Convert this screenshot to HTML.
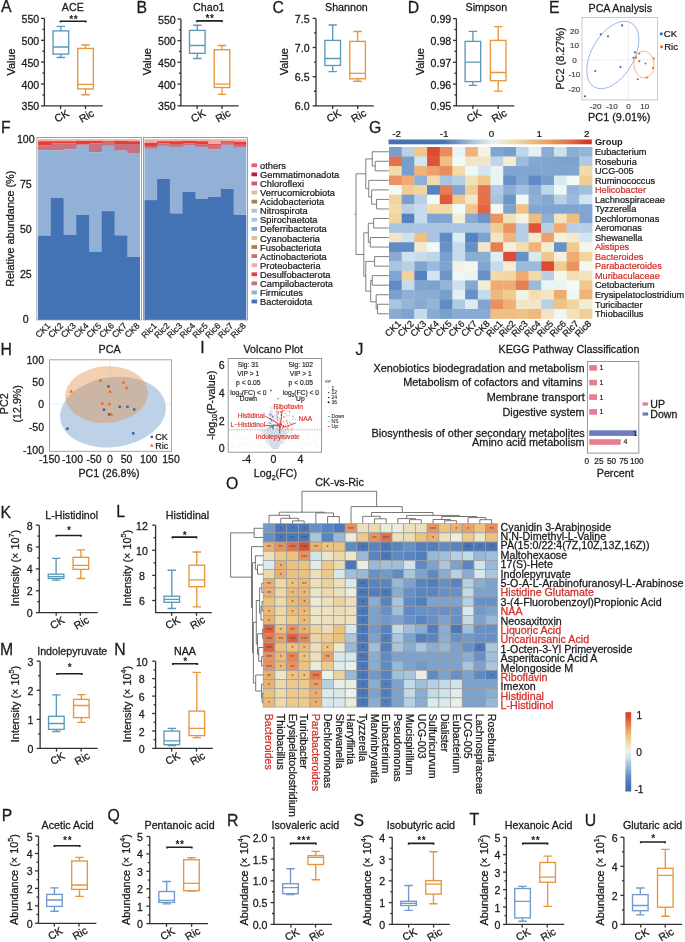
<!DOCTYPE html>
<html><head><meta charset="utf-8"><style>
html,body{margin:0;padding:0;background:#fff;}
svg{display:block;will-change:transform;}
text{font-family:"Liberation Sans", sans-serif;}
</style></head><body>
<svg width="685" height="942" viewBox="0 0 685 942">
<rect width="685" height="942" fill="#fff"/>
<path d="M44.4 18.4 V105.9 H102.7" stroke="#333333" stroke-width="1.3" fill="none"/>
<line x1="41" y1="18.4" x2="44.4" y2="18.4" stroke="#333333" stroke-width="1.3"/>
<text x="39.2" y="22.9" font-size="10.6" text-anchor="end" fill="#1a1a1a" stroke="#1a1a1a" stroke-width="0.26">550</text>
<line x1="41" y1="40.3" x2="44.4" y2="40.3" stroke="#333333" stroke-width="1.3"/>
<text x="39.2" y="44.8" font-size="10.6" text-anchor="end" fill="#1a1a1a" stroke="#1a1a1a" stroke-width="0.26">500</text>
<line x1="41" y1="62.1" x2="44.4" y2="62.1" stroke="#333333" stroke-width="1.3"/>
<text x="39.2" y="66.6" font-size="10.6" text-anchor="end" fill="#1a1a1a" stroke="#1a1a1a" stroke-width="0.26">450</text>
<line x1="41" y1="84" x2="44.4" y2="84" stroke="#333333" stroke-width="1.3"/>
<text x="39.2" y="88.5" font-size="10.6" text-anchor="end" fill="#1a1a1a" stroke="#1a1a1a" stroke-width="0.26">400</text>
<line x1="41" y1="105.9" x2="44.4" y2="105.9" stroke="#333333" stroke-width="1.3"/>
<text x="39.2" y="110.4" font-size="10.6" text-anchor="end" fill="#1a1a1a" stroke="#1a1a1a" stroke-width="0.26">350</text>
<line x1="42.4" y1="29.35" x2="44.4" y2="29.35" stroke="#333333" stroke-width="1.3"/>
<line x1="42.4" y1="51.2" x2="44.4" y2="51.2" stroke="#333333" stroke-width="1.3"/>
<line x1="42.4" y1="73.05" x2="44.4" y2="73.05" stroke="#333333" stroke-width="1.3"/>
<line x1="42.4" y1="94.95" x2="44.4" y2="94.95" stroke="#333333" stroke-width="1.3"/>
<line x1="60.6" y1="105.9" x2="60.6" y2="109.1" stroke="#333333" stroke-width="1.3"/>
<text x="63.4" y="119.1" font-size="10.6" text-anchor="middle" fill="#1a1a1a" stroke="#1a1a1a" stroke-width="0.26" transform="rotate(-30 63.4 119.1)">CK</text>
<line x1="85.5" y1="105.9" x2="85.5" y2="109.1" stroke="#333333" stroke-width="1.3"/>
<text x="88.3" y="119.1" font-size="10.6" text-anchor="middle" fill="#1a1a1a" stroke="#1a1a1a" stroke-width="0.26" transform="rotate(-30 88.3 119.1)">Ric</text>
<path d="M56.65 26.4H65.05M60.85 26.4V30.9M56.65 57.5H65.05M60.85 54.1V57.5M53.05 47H68.65" stroke="#5b9ab9" stroke-width="1.35" fill="none"/>
<rect x="53.05" y="30.9" width="15.6" height="23.2" fill="none" stroke="#5b9ab9" stroke-width="1.35"/>
<path d="M81.3 45H89.7M85.5 45V48.4M81.3 94.7H89.7M85.5 88.9V94.7M77.7 84.3H93.3" stroke="#e8963d" stroke-width="1.35" fill="none"/>
<rect x="77.7" y="48.4" width="15.6" height="40.5" fill="none" stroke="#e8963d" stroke-width="1.35"/>
<path d="M60.5 22.6V21.3H85.8V22.6" stroke="#222" stroke-width="1.6" fill="none"/>
<text x="73.75" y="22.8" font-size="10.2" text-anchor="middle" font-weight="bold" fill="#1a1a1a" letter-spacing="0.6">**</text>
<text x="72.8" y="11.2" font-size="10.7" text-anchor="middle" fill="#1a1a1a" stroke="#1a1a1a" stroke-width="0.26">ACE</text>
<text x="15.2" y="62" font-size="10.9" text-anchor="middle" fill="#1a1a1a" stroke="#1a1a1a" stroke-width="0.26" transform="rotate(-90 15.2 62)">Value</text>
<text x="0.9" y="12.4" font-size="15.8" fill="#1a1a1a" stroke="#1a1a1a" stroke-width="0.26">A</text>
<path d="M180.9 19 V105.8 H238.6" stroke="#333333" stroke-width="1.3" fill="none"/>
<line x1="177.5" y1="19" x2="180.9" y2="19" stroke="#333333" stroke-width="1.3"/>
<text x="175.7" y="23.5" font-size="10.6" text-anchor="end" fill="#1a1a1a" stroke="#1a1a1a" stroke-width="0.26">550</text>
<line x1="177.5" y1="40.6" x2="180.9" y2="40.6" stroke="#333333" stroke-width="1.3"/>
<text x="175.7" y="45.1" font-size="10.6" text-anchor="end" fill="#1a1a1a" stroke="#1a1a1a" stroke-width="0.26">500</text>
<line x1="177.5" y1="62.3" x2="180.9" y2="62.3" stroke="#333333" stroke-width="1.3"/>
<text x="175.7" y="66.8" font-size="10.6" text-anchor="end" fill="#1a1a1a" stroke="#1a1a1a" stroke-width="0.26">450</text>
<line x1="177.5" y1="84.1" x2="180.9" y2="84.1" stroke="#333333" stroke-width="1.3"/>
<text x="175.7" y="88.6" font-size="10.6" text-anchor="end" fill="#1a1a1a" stroke="#1a1a1a" stroke-width="0.26">400</text>
<line x1="177.5" y1="105.8" x2="180.9" y2="105.8" stroke="#333333" stroke-width="1.3"/>
<text x="175.7" y="110.3" font-size="10.6" text-anchor="end" fill="#1a1a1a" stroke="#1a1a1a" stroke-width="0.26">350</text>
<line x1="178.9" y1="29.8" x2="180.9" y2="29.8" stroke="#333333" stroke-width="1.3"/>
<line x1="178.9" y1="51.45" x2="180.9" y2="51.45" stroke="#333333" stroke-width="1.3"/>
<line x1="178.9" y1="73.2" x2="180.9" y2="73.2" stroke="#333333" stroke-width="1.3"/>
<line x1="178.9" y1="94.95" x2="180.9" y2="94.95" stroke="#333333" stroke-width="1.3"/>
<line x1="197.1" y1="105.8" x2="197.1" y2="109" stroke="#333333" stroke-width="1.3"/>
<text x="199.9" y="119" font-size="10.6" text-anchor="middle" fill="#1a1a1a" stroke="#1a1a1a" stroke-width="0.26" transform="rotate(-30 199.9 119)">CK</text>
<line x1="222" y1="105.8" x2="222" y2="109" stroke="#333333" stroke-width="1.3"/>
<text x="224.8" y="119" font-size="10.6" text-anchor="middle" fill="#1a1a1a" stroke="#1a1a1a" stroke-width="0.26" transform="rotate(-30 224.8 119)">Ric</text>
<path d="M193.1 25.2H201.5M197.3 25.2V30.4M193.1 58.5H201.5M197.3 53.3V58.5M189.5 45.5H205.1" stroke="#5b9ab9" stroke-width="1.35" fill="none"/>
<rect x="189.5" y="30.4" width="15.6" height="22.9" fill="none" stroke="#5b9ab9" stroke-width="1.35"/>
<path d="M217.8 45.5H226.2M222 45.5V49.7M217.8 94.3H226.2M222 87.5V94.3M214.2 84.1H229.8" stroke="#e8963d" stroke-width="1.35" fill="none"/>
<rect x="214.2" y="49.7" width="15.6" height="37.8" fill="none" stroke="#e8963d" stroke-width="1.35"/>
<path d="M197 22.2V20.9H222V22.2" stroke="#222" stroke-width="1.6" fill="none"/>
<text x="210.1" y="21.9" font-size="10.2" text-anchor="middle" font-weight="bold" fill="#1a1a1a" letter-spacing="0.6">**</text>
<text x="208.8" y="11.4" font-size="10.7" text-anchor="middle" fill="#1a1a1a" stroke="#1a1a1a" stroke-width="0.26">Chao1</text>
<text x="151.2" y="61.7" font-size="10.9" text-anchor="middle" fill="#1a1a1a" stroke="#1a1a1a" stroke-width="0.26" transform="rotate(-90 151.2 61.7)">Value</text>
<text x="136.4" y="12.8" font-size="15.8" fill="#1a1a1a" stroke="#1a1a1a" stroke-width="0.26">B</text>
<path d="M316 18.4 V105.8 H373.9" stroke="#333333" stroke-width="1.3" fill="none"/>
<line x1="312.6" y1="18.4" x2="316" y2="18.4" stroke="#333333" stroke-width="1.3"/>
<text x="309.6" y="22.9" font-size="10.6" text-anchor="end" fill="#1a1a1a" stroke="#1a1a1a" stroke-width="0.26">7.5</text>
<line x1="312.6" y1="47.5" x2="316" y2="47.5" stroke="#333333" stroke-width="1.3"/>
<text x="309.6" y="52" font-size="10.6" text-anchor="end" fill="#1a1a1a" stroke="#1a1a1a" stroke-width="0.26">7.0</text>
<line x1="312.6" y1="76.7" x2="316" y2="76.7" stroke="#333333" stroke-width="1.3"/>
<text x="309.6" y="81.2" font-size="10.6" text-anchor="end" fill="#1a1a1a" stroke="#1a1a1a" stroke-width="0.26">6.5</text>
<line x1="312.6" y1="105.8" x2="316" y2="105.8" stroke="#333333" stroke-width="1.3"/>
<text x="309.6" y="110.3" font-size="10.6" text-anchor="end" fill="#1a1a1a" stroke="#1a1a1a" stroke-width="0.26">6.0</text>
<line x1="314" y1="32.95" x2="316" y2="32.95" stroke="#333333" stroke-width="1.3"/>
<line x1="314" y1="62.1" x2="316" y2="62.1" stroke="#333333" stroke-width="1.3"/>
<line x1="314" y1="91.25" x2="316" y2="91.25" stroke="#333333" stroke-width="1.3"/>
<line x1="332.7" y1="105.8" x2="332.7" y2="109" stroke="#333333" stroke-width="1.3"/>
<text x="335.5" y="119" font-size="10.6" text-anchor="middle" fill="#1a1a1a" stroke="#1a1a1a" stroke-width="0.26" transform="rotate(-30 335.5 119)">CK</text>
<line x1="357.7" y1="105.8" x2="357.7" y2="109" stroke="#333333" stroke-width="1.3"/>
<text x="360.5" y="119" font-size="10.6" text-anchor="middle" fill="#1a1a1a" stroke="#1a1a1a" stroke-width="0.26" transform="rotate(-30 360.5 119)">Ric</text>
<path d="M328.5 25H336.9M332.7 25V40.4M328.5 71.6H336.9M332.7 65.5V71.6M324.9 58.5H340.5" stroke="#5b9ab9" stroke-width="1.35" fill="none"/>
<rect x="324.9" y="40.4" width="15.6" height="25.1" fill="none" stroke="#5b9ab9" stroke-width="1.35"/>
<path d="M353.4 31.5H361.8M357.6 31.5V41.4M353.4 81.2H361.8M357.6 78.8V81.2M349.8 73.4H365.4" stroke="#e8963d" stroke-width="1.35" fill="none"/>
<rect x="349.8" y="41.4" width="15.6" height="37.4" fill="none" stroke="#e8963d" stroke-width="1.35"/>
<text x="346.4" y="11.4" font-size="10.7" text-anchor="middle" fill="#1a1a1a" stroke="#1a1a1a" stroke-width="0.26">Shannon</text>
<text x="287.6" y="61.7" font-size="10.9" text-anchor="middle" fill="#1a1a1a" stroke="#1a1a1a" stroke-width="0.26" transform="rotate(-90 287.6 61.7)">Value</text>
<text x="272.4" y="12.6" font-size="15.8" fill="#1a1a1a" stroke="#1a1a1a" stroke-width="0.26">C</text>
<path d="M456.4 18.6 V105.8 H514.3" stroke="#333333" stroke-width="1.3" fill="none"/>
<line x1="453" y1="18.6" x2="456.4" y2="18.6" stroke="#333333" stroke-width="1.3"/>
<text x="451.2" y="23.1" font-size="10.6" text-anchor="end" fill="#1a1a1a" stroke="#1a1a1a" stroke-width="0.26">0.99</text>
<line x1="453" y1="40.4" x2="456.4" y2="40.4" stroke="#333333" stroke-width="1.3"/>
<text x="451.2" y="44.9" font-size="10.6" text-anchor="end" fill="#1a1a1a" stroke="#1a1a1a" stroke-width="0.26">0.98</text>
<line x1="453" y1="62.3" x2="456.4" y2="62.3" stroke="#333333" stroke-width="1.3"/>
<text x="451.2" y="66.8" font-size="10.6" text-anchor="end" fill="#1a1a1a" stroke="#1a1a1a" stroke-width="0.26">0.97</text>
<line x1="453" y1="84.1" x2="456.4" y2="84.1" stroke="#333333" stroke-width="1.3"/>
<text x="451.2" y="88.6" font-size="10.6" text-anchor="end" fill="#1a1a1a" stroke="#1a1a1a" stroke-width="0.26">0.96</text>
<line x1="453" y1="105.8" x2="456.4" y2="105.8" stroke="#333333" stroke-width="1.3"/>
<text x="451.2" y="110.3" font-size="10.6" text-anchor="end" fill="#1a1a1a" stroke="#1a1a1a" stroke-width="0.26">0.95</text>
<line x1="454.4" y1="29.5" x2="456.4" y2="29.5" stroke="#333333" stroke-width="1.3"/>
<line x1="454.4" y1="51.35" x2="456.4" y2="51.35" stroke="#333333" stroke-width="1.3"/>
<line x1="454.4" y1="73.2" x2="456.4" y2="73.2" stroke="#333333" stroke-width="1.3"/>
<line x1="454.4" y1="94.95" x2="456.4" y2="94.95" stroke="#333333" stroke-width="1.3"/>
<line x1="472.9" y1="105.8" x2="472.9" y2="109" stroke="#333333" stroke-width="1.3"/>
<text x="475.7" y="119" font-size="10.6" text-anchor="middle" fill="#1a1a1a" stroke="#1a1a1a" stroke-width="0.26" transform="rotate(-30 475.7 119)">CK</text>
<line x1="498.2" y1="105.8" x2="498.2" y2="109" stroke="#333333" stroke-width="1.3"/>
<text x="501" y="119" font-size="10.6" text-anchor="middle" fill="#1a1a1a" stroke="#1a1a1a" stroke-width="0.26" transform="rotate(-30 501 119)">Ric</text>
<path d="M468.7 31.3H477.1M472.9 31.3V41.4M468.7 85.4H477.1M472.9 81.6V85.4M465.1 62.1H480.7" stroke="#5b9ab9" stroke-width="1.35" fill="none"/>
<rect x="465.1" y="41.4" width="15.6" height="40.2" fill="none" stroke="#5b9ab9" stroke-width="1.35"/>
<path d="M494 26.6H502.4M498.2 26.6V40.4M494 91.1H502.4M498.2 80.7V91.1M490.4 72.5H506" stroke="#e8963d" stroke-width="1.35" fill="none"/>
<rect x="490.4" y="40.4" width="15.6" height="40.3" fill="none" stroke="#e8963d" stroke-width="1.35"/>
<text x="486.3" y="11.4" font-size="10.7" text-anchor="middle" fill="#1a1a1a" stroke="#1a1a1a" stroke-width="0.26">Simpson</text>
<text x="424.3" y="61.7" font-size="10.9" text-anchor="middle" fill="#1a1a1a" stroke="#1a1a1a" stroke-width="0.26" transform="rotate(-90 424.3 61.7)">Value</text>
<text x="407.8" y="12.5" font-size="15.8" fill="#1a1a1a" stroke="#1a1a1a" stroke-width="0.26">D</text>
<path d="M39.3 525.2 V612.6 H97.6" stroke="#333333" stroke-width="1.3" fill="none"/>
<line x1="35.9" y1="525.2" x2="39.3" y2="525.2" stroke="#333333" stroke-width="1.3"/>
<text x="32.7" y="529.7" font-size="10.6" text-anchor="end" fill="#1a1a1a" stroke="#1a1a1a" stroke-width="0.26">8</text>
<line x1="35.9" y1="547" x2="39.3" y2="547" stroke="#333333" stroke-width="1.3"/>
<text x="32.7" y="551.5" font-size="10.6" text-anchor="end" fill="#1a1a1a" stroke="#1a1a1a" stroke-width="0.26">6</text>
<line x1="35.9" y1="568.9" x2="39.3" y2="568.9" stroke="#333333" stroke-width="1.3"/>
<text x="32.7" y="573.4" font-size="10.6" text-anchor="end" fill="#1a1a1a" stroke="#1a1a1a" stroke-width="0.26">4</text>
<line x1="35.9" y1="590.8" x2="39.3" y2="590.8" stroke="#333333" stroke-width="1.3"/>
<text x="32.7" y="595.3" font-size="10.6" text-anchor="end" fill="#1a1a1a" stroke="#1a1a1a" stroke-width="0.26">2</text>
<line x1="35.9" y1="612.6" x2="39.3" y2="612.6" stroke="#333333" stroke-width="1.3"/>
<text x="32.7" y="617.1" font-size="10.6" text-anchor="end" fill="#1a1a1a" stroke="#1a1a1a" stroke-width="0.26">0</text>
<line x1="37.3" y1="536.1" x2="39.3" y2="536.1" stroke="#333333" stroke-width="1.3"/>
<line x1="37.3" y1="557.95" x2="39.3" y2="557.95" stroke="#333333" stroke-width="1.3"/>
<line x1="37.3" y1="579.85" x2="39.3" y2="579.85" stroke="#333333" stroke-width="1.3"/>
<line x1="37.3" y1="601.7" x2="39.3" y2="601.7" stroke="#333333" stroke-width="1.3"/>
<line x1="56.2" y1="612.6" x2="56.2" y2="615.8" stroke="#333333" stroke-width="1.3"/>
<text x="59" y="625.8" font-size="10.6" text-anchor="middle" fill="#1a1a1a" stroke="#1a1a1a" stroke-width="0.26" transform="rotate(-30 59 625.8)">CK</text>
<line x1="80.3" y1="612.6" x2="80.3" y2="615.8" stroke="#333333" stroke-width="1.3"/>
<text x="83.1" y="625.8" font-size="10.6" text-anchor="middle" fill="#1a1a1a" stroke="#1a1a1a" stroke-width="0.26" transform="rotate(-30 83.1 625.8)">Ric</text>
<path d="M51.9 558.4H60.3M56.1 558.4V574.2M51.9 580.1H60.3M56.1 578.5V580.1M48.3 576.6H63.9" stroke="#5b9ab9" stroke-width="1.35" fill="none"/>
<rect x="48.3" y="574.2" width="15.6" height="4.3" fill="none" stroke="#5b9ab9" stroke-width="1.35"/>
<path d="M76.7 549.9H85.1M80.9 549.9V557.3M76.7 578.5H85.1M80.9 569.4V578.5M73.1 565.3H88.7" stroke="#e8963d" stroke-width="1.35" fill="none"/>
<rect x="73.1" y="557.3" width="15.6" height="12.1" fill="none" stroke="#e8963d" stroke-width="1.35"/>
<path d="M56.2 536.8V535.5H81.1V536.8" stroke="#222" stroke-width="1.6" fill="none"/>
<text x="69.25" y="534" font-size="10.2" text-anchor="middle" font-weight="bold" fill="#1a1a1a" letter-spacing="0.6">*</text>
<text x="71.65" y="518.5" font-size="10.7" text-anchor="middle" fill="#1a1a1a" stroke="#1a1a1a" stroke-width="0.26">L-Histidinol</text>
<text x="19" y="568" font-size="10.9" text-anchor="middle" fill="#1a1a1a" stroke="#1a1a1a" stroke-width="0.26" transform="rotate(-90 19 568)">Intensity (× 10<tspan font-size="7.2" dy="-5.0">7</tspan><tspan dy="5.0">)</tspan></text>
<text x="0.4" y="517.9" font-size="15.8" fill="#1a1a1a" stroke="#1a1a1a" stroke-width="0.26">K</text>
<path d="M155.6 525.2 V612.6 H211.8" stroke="#333333" stroke-width="1.3" fill="none"/>
<line x1="152.2" y1="525.2" x2="155.6" y2="525.2" stroke="#333333" stroke-width="1.3"/>
<text x="142" y="529.7" font-size="10.6" text-anchor="middle" fill="#1a1a1a" stroke="#1a1a1a" stroke-width="0.26">12</text>
<line x1="152.2" y1="550.3" x2="155.6" y2="550.3" stroke="#333333" stroke-width="1.3"/>
<text x="142" y="554.8" font-size="10.6" text-anchor="middle" fill="#1a1a1a" stroke="#1a1a1a" stroke-width="0.26">10</text>
<line x1="152.2" y1="575.4" x2="155.6" y2="575.4" stroke="#333333" stroke-width="1.3"/>
<text x="142" y="579.9" font-size="10.6" text-anchor="middle" fill="#1a1a1a" stroke="#1a1a1a" stroke-width="0.26">8</text>
<line x1="152.2" y1="600.5" x2="155.6" y2="600.5" stroke="#333333" stroke-width="1.3"/>
<text x="142" y="605" font-size="10.6" text-anchor="middle" fill="#1a1a1a" stroke="#1a1a1a" stroke-width="0.26">6</text>
<line x1="153.6" y1="537.75" x2="155.6" y2="537.75" stroke="#333333" stroke-width="1.3"/>
<line x1="153.6" y1="562.85" x2="155.6" y2="562.85" stroke="#333333" stroke-width="1.3"/>
<line x1="153.6" y1="587.95" x2="155.6" y2="587.95" stroke="#333333" stroke-width="1.3"/>
<line x1="171.6" y1="612.6" x2="171.6" y2="615.8" stroke="#333333" stroke-width="1.3"/>
<text x="174.4" y="625.8" font-size="10.6" text-anchor="middle" fill="#1a1a1a" stroke="#1a1a1a" stroke-width="0.26" transform="rotate(-30 174.4 625.8)">CK</text>
<line x1="196.5" y1="612.6" x2="196.5" y2="615.8" stroke="#333333" stroke-width="1.3"/>
<text x="199.3" y="625.8" font-size="10.6" text-anchor="middle" fill="#1a1a1a" stroke="#1a1a1a" stroke-width="0.26" transform="rotate(-30 199.3 625.8)">Ric</text>
<path d="M167.6 570.2H176M171.8 570.2V596.2M167.6 608.5H176M171.8 602.3V608.5M164 599.4H179.6" stroke="#5b9ab9" stroke-width="1.35" fill="none"/>
<rect x="164" y="596.2" width="15.6" height="6.1" fill="none" stroke="#5b9ab9" stroke-width="1.35"/>
<path d="M192.6 552H201M196.8 552V565.2M192.6 606.9H201M196.8 586.7V606.9M189 579.8H204.6" stroke="#e8963d" stroke-width="1.35" fill="none"/>
<rect x="189" y="565.2" width="15.6" height="21.5" fill="none" stroke="#e8963d" stroke-width="1.35"/>
<path d="M172.4 538.4V537.1H196.5V538.4" stroke="#222" stroke-width="1.6" fill="none"/>
<text x="185.05" y="539.2" font-size="10.2" text-anchor="middle" font-weight="bold" fill="#1a1a1a" letter-spacing="0.6">*</text>
<text x="187.5" y="518.5" font-size="10.7" text-anchor="middle" fill="#1a1a1a" stroke="#1a1a1a" stroke-width="0.26">Histidinal</text>
<text x="131" y="568" font-size="10.9" text-anchor="middle" fill="#1a1a1a" stroke="#1a1a1a" stroke-width="0.26" transform="rotate(-90 131 568)">Intensity (× 10<tspan font-size="7.2" dy="-5.0">5</tspan><tspan dy="5.0">)</tspan></text>
<text x="116.3" y="517.1" font-size="15.8" fill="#1a1a1a" stroke="#1a1a1a" stroke-width="0.26">L</text>
<path d="M40.1 661.2 V748.4 H97.6" stroke="#333333" stroke-width="1.3" fill="none"/>
<line x1="36.7" y1="661.2" x2="40.1" y2="661.2" stroke="#333333" stroke-width="1.3"/>
<text x="33.5" y="665.7" font-size="10.6" text-anchor="end" fill="#1a1a1a" stroke="#1a1a1a" stroke-width="0.26">3</text>
<line x1="36.7" y1="690.3" x2="40.1" y2="690.3" stroke="#333333" stroke-width="1.3"/>
<text x="33.5" y="694.8" font-size="10.6" text-anchor="end" fill="#1a1a1a" stroke="#1a1a1a" stroke-width="0.26">2</text>
<line x1="36.7" y1="719.4" x2="40.1" y2="719.4" stroke="#333333" stroke-width="1.3"/>
<text x="33.5" y="723.9" font-size="10.6" text-anchor="end" fill="#1a1a1a" stroke="#1a1a1a" stroke-width="0.26">1</text>
<line x1="36.7" y1="748.4" x2="40.1" y2="748.4" stroke="#333333" stroke-width="1.3"/>
<text x="33.5" y="752.9" font-size="10.6" text-anchor="end" fill="#1a1a1a" stroke="#1a1a1a" stroke-width="0.26">0</text>
<line x1="38.1" y1="675.75" x2="40.1" y2="675.75" stroke="#333333" stroke-width="1.3"/>
<line x1="38.1" y1="704.85" x2="40.1" y2="704.85" stroke="#333333" stroke-width="1.3"/>
<line x1="38.1" y1="733.9" x2="40.1" y2="733.9" stroke="#333333" stroke-width="1.3"/>
<line x1="56.5" y1="748.4" x2="56.5" y2="751.6" stroke="#333333" stroke-width="1.3"/>
<text x="59.3" y="761.6" font-size="10.6" text-anchor="middle" fill="#1a1a1a" stroke="#1a1a1a" stroke-width="0.26" transform="rotate(-30 59.3 761.6)">CK</text>
<line x1="81.1" y1="748.4" x2="81.1" y2="751.6" stroke="#333333" stroke-width="1.3"/>
<text x="83.9" y="761.6" font-size="10.6" text-anchor="middle" fill="#1a1a1a" stroke="#1a1a1a" stroke-width="0.26" transform="rotate(-30 83.9 761.6)">Ric</text>
<path d="M52.15 694.9H60.55M56.35 694.9V716.3M52.15 731.5H60.55M56.35 729.4V731.5M48.55 723.5H64.15" stroke="#5b9ab9" stroke-width="1.35" fill="none"/>
<rect x="48.55" y="716.3" width="15.6" height="13.1" fill="none" stroke="#5b9ab9" stroke-width="1.35"/>
<path d="M77.15 694.6H85.55M81.35 694.6V699.4M77.15 722.4H85.55M81.35 717.6V722.4M73.55 705.5H89.15" stroke="#e8963d" stroke-width="1.35" fill="none"/>
<rect x="73.55" y="699.4" width="15.6" height="18.2" fill="none" stroke="#e8963d" stroke-width="1.35"/>
<path d="M57 675V673.7H81.9V675" stroke="#222" stroke-width="1.6" fill="none"/>
<text x="70.05" y="670.6" font-size="10.2" text-anchor="middle" font-weight="bold" fill="#1a1a1a" letter-spacing="0.6">*</text>
<text x="72.25" y="654.5" font-size="10.7" text-anchor="middle" fill="#1a1a1a" stroke="#1a1a1a" stroke-width="0.26">Indolepyruvate</text>
<text x="19" y="704" font-size="10.9" text-anchor="middle" fill="#1a1a1a" stroke="#1a1a1a" stroke-width="0.26" transform="rotate(-90 19 704)">Intensity (× 10<tspan font-size="7.2" dy="-5.0">5</tspan><tspan dy="5.0">)</tspan></text>
<text x="0" y="654.9" font-size="15.8" fill="#1a1a1a" stroke="#1a1a1a" stroke-width="0.26">M</text>
<path d="M155.6 661.2 V748.4 H212.9" stroke="#333333" stroke-width="1.3" fill="none"/>
<line x1="152.2" y1="661.2" x2="155.6" y2="661.2" stroke="#333333" stroke-width="1.3"/>
<text x="141.8" y="665.7" font-size="10.6" text-anchor="middle" fill="#1a1a1a" stroke="#1a1a1a" stroke-width="0.26">10</text>
<line x1="152.2" y1="678.6" x2="155.6" y2="678.6" stroke="#333333" stroke-width="1.3"/>
<text x="141.8" y="683.1" font-size="10.6" text-anchor="middle" fill="#1a1a1a" stroke="#1a1a1a" stroke-width="0.26">8</text>
<line x1="152.2" y1="696.1" x2="155.6" y2="696.1" stroke="#333333" stroke-width="1.3"/>
<text x="141.8" y="700.6" font-size="10.6" text-anchor="middle" fill="#1a1a1a" stroke="#1a1a1a" stroke-width="0.26">6</text>
<line x1="152.2" y1="713.5" x2="155.6" y2="713.5" stroke="#333333" stroke-width="1.3"/>
<text x="141.8" y="718" font-size="10.6" text-anchor="middle" fill="#1a1a1a" stroke="#1a1a1a" stroke-width="0.26">4</text>
<line x1="152.2" y1="731" x2="155.6" y2="731" stroke="#333333" stroke-width="1.3"/>
<text x="141.8" y="735.5" font-size="10.6" text-anchor="middle" fill="#1a1a1a" stroke="#1a1a1a" stroke-width="0.26">2</text>
<line x1="152.2" y1="748.4" x2="155.6" y2="748.4" stroke="#333333" stroke-width="1.3"/>
<text x="141.8" y="752.9" font-size="10.6" text-anchor="middle" fill="#1a1a1a" stroke="#1a1a1a" stroke-width="0.26">0</text>
<line x1="153.6" y1="669.9" x2="155.6" y2="669.9" stroke="#333333" stroke-width="1.3"/>
<line x1="153.6" y1="687.35" x2="155.6" y2="687.35" stroke="#333333" stroke-width="1.3"/>
<line x1="153.6" y1="704.8" x2="155.6" y2="704.8" stroke="#333333" stroke-width="1.3"/>
<line x1="153.6" y1="722.25" x2="155.6" y2="722.25" stroke="#333333" stroke-width="1.3"/>
<line x1="153.6" y1="739.7" x2="155.6" y2="739.7" stroke="#333333" stroke-width="1.3"/>
<line x1="171.6" y1="748.4" x2="171.6" y2="751.6" stroke="#333333" stroke-width="1.3"/>
<text x="174.4" y="761.6" font-size="10.6" text-anchor="middle" fill="#1a1a1a" stroke="#1a1a1a" stroke-width="0.26" transform="rotate(-30 174.4 761.6)">CK</text>
<line x1="196.5" y1="748.4" x2="196.5" y2="751.6" stroke="#333333" stroke-width="1.3"/>
<text x="199.3" y="761.6" font-size="10.6" text-anchor="middle" fill="#1a1a1a" stroke="#1a1a1a" stroke-width="0.26" transform="rotate(-30 199.3 761.6)">Ric</text>
<path d="M167.6 728.3H176M171.8 728.3V731.1M167.6 745.5H176M171.8 744.7V745.5M164 740.9H179.6" stroke="#5b9ab9" stroke-width="1.35" fill="none"/>
<rect x="164" y="731.1" width="15.6" height="13.6" fill="none" stroke="#5b9ab9" stroke-width="1.35"/>
<path d="M192.6 672.4H201M196.8 672.4V711.1M192.6 737.6H201M196.8 735.6V737.6M189 728.3H204.6" stroke="#e8963d" stroke-width="1.35" fill="none"/>
<rect x="189" y="711.1" width="15.6" height="24.5" fill="none" stroke="#e8963d" stroke-width="1.35"/>
<path d="M172.8 665.1V663.8H197.3V665.1" stroke="#222" stroke-width="1.6" fill="none"/>
<text x="185.65" y="664.5" font-size="10.2" text-anchor="middle" font-weight="bold" fill="#1a1a1a" letter-spacing="0.6">*</text>
<text x="185" y="654.5" font-size="10.7" text-anchor="middle" fill="#1a1a1a" stroke="#1a1a1a" stroke-width="0.26">NAA</text>
<text x="131" y="704" font-size="10.9" text-anchor="middle" fill="#1a1a1a" stroke="#1a1a1a" stroke-width="0.26" transform="rotate(-90 131 704)">Intensity (× 10<tspan font-size="7.2" dy="-5.0">4</tspan><tspan dy="5.0">)</tspan></text>
<text x="114.2" y="654.9" font-size="15.8" fill="#1a1a1a" stroke="#1a1a1a" stroke-width="0.26">N</text>
<path d="M38.5 836.1 V923.3 H96.4" stroke="#333333" stroke-width="1.3" fill="none"/>
<line x1="35.1" y1="836.1" x2="38.5" y2="836.1" stroke="#333333" stroke-width="1.3"/>
<text x="32.7" y="840.6" font-size="10.6" text-anchor="end" fill="#1a1a1a" stroke="#1a1a1a" stroke-width="0.26">5</text>
<line x1="35.1" y1="853.5" x2="38.5" y2="853.5" stroke="#333333" stroke-width="1.3"/>
<text x="32.7" y="858" font-size="10.6" text-anchor="end" fill="#1a1a1a" stroke="#1a1a1a" stroke-width="0.26">4</text>
<line x1="35.1" y1="870.9" x2="38.5" y2="870.9" stroke="#333333" stroke-width="1.3"/>
<text x="32.7" y="875.4" font-size="10.6" text-anchor="end" fill="#1a1a1a" stroke="#1a1a1a" stroke-width="0.26">3</text>
<line x1="35.1" y1="888.4" x2="38.5" y2="888.4" stroke="#333333" stroke-width="1.3"/>
<text x="32.7" y="892.9" font-size="10.6" text-anchor="end" fill="#1a1a1a" stroke="#1a1a1a" stroke-width="0.26">2</text>
<line x1="35.1" y1="905.8" x2="38.5" y2="905.8" stroke="#333333" stroke-width="1.3"/>
<text x="32.7" y="910.3" font-size="10.6" text-anchor="end" fill="#1a1a1a" stroke="#1a1a1a" stroke-width="0.26">1</text>
<line x1="35.1" y1="923.3" x2="38.5" y2="923.3" stroke="#333333" stroke-width="1.3"/>
<text x="32.7" y="927.8" font-size="10.6" text-anchor="end" fill="#1a1a1a" stroke="#1a1a1a" stroke-width="0.26">0</text>
<line x1="36.5" y1="844.8" x2="38.5" y2="844.8" stroke="#333333" stroke-width="1.3"/>
<line x1="36.5" y1="862.2" x2="38.5" y2="862.2" stroke="#333333" stroke-width="1.3"/>
<line x1="36.5" y1="879.65" x2="38.5" y2="879.65" stroke="#333333" stroke-width="1.3"/>
<line x1="36.5" y1="897.1" x2="38.5" y2="897.1" stroke="#333333" stroke-width="1.3"/>
<line x1="36.5" y1="914.55" x2="38.5" y2="914.55" stroke="#333333" stroke-width="1.3"/>
<line x1="54.3" y1="923.3" x2="54.3" y2="926.5" stroke="#333333" stroke-width="1.3"/>
<text x="57.1" y="936.5" font-size="10.6" text-anchor="middle" fill="#1a1a1a" stroke="#1a1a1a" stroke-width="0.26" transform="rotate(-30 57.1 936.5)">CK</text>
<line x1="79" y1="923.3" x2="79" y2="926.5" stroke="#333333" stroke-width="1.3"/>
<text x="81.8" y="936.5" font-size="10.6" text-anchor="middle" fill="#1a1a1a" stroke="#1a1a1a" stroke-width="0.26" transform="rotate(-30 81.8 936.5)">Ric</text>
<path d="M50.25 887.9H58.65M54.45 887.9V894.4M50.25 911.2H58.65M54.45 906.4V911.2M46.65 900H62.25" stroke="#7199cc" stroke-width="1.35" fill="none"/>
<rect x="46.65" y="894.4" width="15.6" height="12" fill="none" stroke="#7199cc" stroke-width="1.35"/>
<path d="M75.3 857.4H83.7M79.5 857.4V861M75.3 896.3H83.7M79.5 889.4V896.3M71.7 885H87.3" stroke="#e8963d" stroke-width="1.35" fill="none"/>
<rect x="71.7" y="861" width="15.6" height="28.4" fill="none" stroke="#e8963d" stroke-width="1.35"/>
<path d="M54.3 847V845.7H79.8V847" stroke="#222" stroke-width="1.6" fill="none"/>
<text x="67.65" y="844.4" font-size="10.2" text-anchor="middle" font-weight="bold" fill="#1a1a1a" letter-spacing="0.6">**</text>
<text x="67.65" y="828.8" font-size="10.7" text-anchor="middle" fill="#1a1a1a" stroke="#1a1a1a" stroke-width="0.26">Acetic Acid</text>
<text x="17.8" y="879.5" font-size="10.9" text-anchor="middle" fill="#1a1a1a" stroke="#1a1a1a" stroke-width="0.26" transform="rotate(-90 17.8 879.5)">Abundance (× 10<tspan font-size="7.2" dy="-5.0">5</tspan><tspan dy="5.0">)</tspan></text>
<text x="1.7" y="821.4" font-size="15.8" fill="#1a1a1a" stroke="#1a1a1a" stroke-width="0.26">P</text>
<path d="M149.8 836.5 V923.6 H208" stroke="#333333" stroke-width="1.3" fill="none"/>
<line x1="146.4" y1="836.5" x2="149.8" y2="836.5" stroke="#333333" stroke-width="1.3"/>
<text x="142.8" y="841" font-size="10.6" text-anchor="end" fill="#1a1a1a" stroke="#1a1a1a" stroke-width="0.26">5</text>
<line x1="146.4" y1="853.9" x2="149.8" y2="853.9" stroke="#333333" stroke-width="1.3"/>
<text x="142.8" y="858.4" font-size="10.6" text-anchor="end" fill="#1a1a1a" stroke="#1a1a1a" stroke-width="0.26">4</text>
<line x1="146.4" y1="871.3" x2="149.8" y2="871.3" stroke="#333333" stroke-width="1.3"/>
<text x="142.8" y="875.8" font-size="10.6" text-anchor="end" fill="#1a1a1a" stroke="#1a1a1a" stroke-width="0.26">3</text>
<line x1="146.4" y1="888.8" x2="149.8" y2="888.8" stroke="#333333" stroke-width="1.3"/>
<text x="142.8" y="893.3" font-size="10.6" text-anchor="end" fill="#1a1a1a" stroke="#1a1a1a" stroke-width="0.26">2</text>
<line x1="146.4" y1="906.2" x2="149.8" y2="906.2" stroke="#333333" stroke-width="1.3"/>
<text x="142.8" y="910.7" font-size="10.6" text-anchor="end" fill="#1a1a1a" stroke="#1a1a1a" stroke-width="0.26">1</text>
<line x1="146.4" y1="923.6" x2="149.8" y2="923.6" stroke="#333333" stroke-width="1.3"/>
<text x="142.8" y="928.1" font-size="10.6" text-anchor="end" fill="#1a1a1a" stroke="#1a1a1a" stroke-width="0.26">0</text>
<line x1="147.8" y1="845.2" x2="149.8" y2="845.2" stroke="#333333" stroke-width="1.3"/>
<line x1="147.8" y1="862.6" x2="149.8" y2="862.6" stroke="#333333" stroke-width="1.3"/>
<line x1="147.8" y1="880.05" x2="149.8" y2="880.05" stroke="#333333" stroke-width="1.3"/>
<line x1="147.8" y1="897.5" x2="149.8" y2="897.5" stroke="#333333" stroke-width="1.3"/>
<line x1="147.8" y1="914.9" x2="149.8" y2="914.9" stroke="#333333" stroke-width="1.3"/>
<line x1="166.5" y1="923.6" x2="166.5" y2="926.8" stroke="#333333" stroke-width="1.3"/>
<text x="169.3" y="936.8" font-size="10.6" text-anchor="middle" fill="#1a1a1a" stroke="#1a1a1a" stroke-width="0.26" transform="rotate(-30 169.3 936.8)">CK</text>
<line x1="191.6" y1="923.6" x2="191.6" y2="926.8" stroke="#333333" stroke-width="1.3"/>
<text x="194.4" y="936.8" font-size="10.6" text-anchor="middle" fill="#1a1a1a" stroke="#1a1a1a" stroke-width="0.26" transform="rotate(-30 194.4 936.8)">Ric</text>
<path d="M162.45 881.5H170.85M166.65 881.5V891.5M162.45 903.8H170.85M166.65 902.4V903.8M158.85 900.3H174.45" stroke="#7199cc" stroke-width="1.35" fill="none"/>
<rect x="158.85" y="891.5" width="15.6" height="10.9" fill="none" stroke="#7199cc" stroke-width="1.35"/>
<path d="M187.25 857.7H195.65M191.45 857.7V859.8M187.25 891.1H195.65M191.45 890.7V891.1M183.65 883.4H199.25" stroke="#e8963d" stroke-width="1.35" fill="none"/>
<rect x="183.65" y="859.8" width="15.6" height="30.9" fill="none" stroke="#e8963d" stroke-width="1.35"/>
<path d="M167 848.6V847.3H191.9V848.6" stroke="#222" stroke-width="1.6" fill="none"/>
<text x="180.05" y="847.7" font-size="10.2" text-anchor="middle" font-weight="bold" fill="#1a1a1a" letter-spacing="0.6">**</text>
<text x="179.6" y="828.8" font-size="10.7" text-anchor="middle" fill="#1a1a1a" stroke="#1a1a1a" stroke-width="0.26">Pentanoic acid</text>
<text x="130" y="879.5" font-size="10.9" text-anchor="middle" fill="#1a1a1a" stroke="#1a1a1a" stroke-width="0.26" transform="rotate(-90 130 879.5)">Abundance (× 10<tspan font-size="7.2" dy="-5.0">4</tspan><tspan dy="5.0">)</tspan></text>
<text x="107.5" y="820.8" font-size="15.8" fill="#1a1a1a" stroke="#1a1a1a" stroke-width="0.26">Q</text>
<path d="M274 837.3 V924.4 H332.1" stroke="#333333" stroke-width="1.3" fill="none"/>
<line x1="270.6" y1="837.3" x2="274" y2="837.3" stroke="#333333" stroke-width="1.3"/>
<text x="267.4" y="841.8" font-size="10.6" text-anchor="end" fill="#1a1a1a" stroke="#1a1a1a" stroke-width="0.26">2.0</text>
<line x1="270.6" y1="859.1" x2="274" y2="859.1" stroke="#333333" stroke-width="1.3"/>
<text x="267.4" y="863.6" font-size="10.6" text-anchor="end" fill="#1a1a1a" stroke="#1a1a1a" stroke-width="0.26">1.5</text>
<line x1="270.6" y1="880.9" x2="274" y2="880.9" stroke="#333333" stroke-width="1.3"/>
<text x="267.4" y="885.4" font-size="10.6" text-anchor="end" fill="#1a1a1a" stroke="#1a1a1a" stroke-width="0.26">1.0</text>
<line x1="270.6" y1="902.6" x2="274" y2="902.6" stroke="#333333" stroke-width="1.3"/>
<text x="267.4" y="907.1" font-size="10.6" text-anchor="end" fill="#1a1a1a" stroke="#1a1a1a" stroke-width="0.26">0.5</text>
<line x1="270.6" y1="924.4" x2="274" y2="924.4" stroke="#333333" stroke-width="1.3"/>
<text x="267.4" y="928.9" font-size="10.6" text-anchor="end" fill="#1a1a1a" stroke="#1a1a1a" stroke-width="0.26">0.0</text>
<line x1="272" y1="848.2" x2="274" y2="848.2" stroke="#333333" stroke-width="1.3"/>
<line x1="272" y1="870" x2="274" y2="870" stroke="#333333" stroke-width="1.3"/>
<line x1="272" y1="891.75" x2="274" y2="891.75" stroke="#333333" stroke-width="1.3"/>
<line x1="272" y1="913.5" x2="274" y2="913.5" stroke="#333333" stroke-width="1.3"/>
<line x1="291" y1="924.4" x2="291" y2="927.6" stroke="#333333" stroke-width="1.3"/>
<text x="293.8" y="937.6" font-size="10.6" text-anchor="middle" fill="#1a1a1a" stroke="#1a1a1a" stroke-width="0.26" transform="rotate(-30 293.8 937.6)">CK</text>
<line x1="315.5" y1="924.4" x2="315.5" y2="927.6" stroke="#333333" stroke-width="1.3"/>
<text x="318.3" y="937.6" font-size="10.6" text-anchor="middle" fill="#1a1a1a" stroke="#1a1a1a" stroke-width="0.26" transform="rotate(-30 318.3 937.6)">Ric</text>
<path d="M286.3 868.7H294.7M290.5 868.7V883.7M286.3 894.6H294.7M290.5 893.7V894.6M282.7 887.6H298.3" stroke="#7199cc" stroke-width="1.35" fill="none"/>
<rect x="282.7" y="883.7" width="15.6" height="10" fill="none" stroke="#7199cc" stroke-width="1.35"/>
<path d="M311.55 851.3H319.95M315.75 851.3V855.7M311.55 879.7H319.95M315.75 864.5V879.7M307.95 857.3H323.55" stroke="#e8963d" stroke-width="1.35" fill="none"/>
<rect x="307.95" y="855.7" width="15.6" height="8.8" fill="none" stroke="#e8963d" stroke-width="1.35"/>
<path d="M290.6 844.7V843.4H316V844.7" stroke="#222" stroke-width="1.6" fill="none"/>
<text x="303.9" y="843.7" font-size="10.2" text-anchor="middle" font-weight="bold" fill="#1a1a1a" letter-spacing="0.6">***</text>
<text x="305.4" y="829.2" font-size="10.7" text-anchor="middle" fill="#1a1a1a" stroke="#1a1a1a" stroke-width="0.26">Isovaleric acid</text>
<text x="247.6" y="880" font-size="10.9" text-anchor="middle" fill="#1a1a1a" stroke="#1a1a1a" stroke-width="0.26" transform="rotate(-90 247.6 880)">Abundance (× 10<tspan font-size="7.2" dy="-5.0">4</tspan><tspan dy="5.0">)</tspan></text>
<text x="227" y="825.9" font-size="15.8" fill="#1a1a1a" stroke="#1a1a1a" stroke-width="0.26">R</text>
<path d="M392.2 837.3 V924.4 H449.8" stroke="#333333" stroke-width="1.3" fill="none"/>
<line x1="388.8" y1="837.3" x2="392.2" y2="837.3" stroke="#333333" stroke-width="1.3"/>
<text x="385.2" y="841.8" font-size="10.6" text-anchor="end" fill="#1a1a1a" stroke="#1a1a1a" stroke-width="0.26">4</text>
<line x1="388.8" y1="859.1" x2="392.2" y2="859.1" stroke="#333333" stroke-width="1.3"/>
<text x="385.2" y="863.6" font-size="10.6" text-anchor="end" fill="#1a1a1a" stroke="#1a1a1a" stroke-width="0.26">3</text>
<line x1="388.8" y1="880.9" x2="392.2" y2="880.9" stroke="#333333" stroke-width="1.3"/>
<text x="385.2" y="885.4" font-size="10.6" text-anchor="end" fill="#1a1a1a" stroke="#1a1a1a" stroke-width="0.26">2</text>
<line x1="388.8" y1="902.6" x2="392.2" y2="902.6" stroke="#333333" stroke-width="1.3"/>
<text x="385.2" y="907.1" font-size="10.6" text-anchor="end" fill="#1a1a1a" stroke="#1a1a1a" stroke-width="0.26">1</text>
<line x1="388.8" y1="924.4" x2="392.2" y2="924.4" stroke="#333333" stroke-width="1.3"/>
<text x="385.2" y="928.9" font-size="10.6" text-anchor="end" fill="#1a1a1a" stroke="#1a1a1a" stroke-width="0.26">0</text>
<line x1="390.2" y1="848.2" x2="392.2" y2="848.2" stroke="#333333" stroke-width="1.3"/>
<line x1="390.2" y1="870" x2="392.2" y2="870" stroke="#333333" stroke-width="1.3"/>
<line x1="390.2" y1="891.75" x2="392.2" y2="891.75" stroke="#333333" stroke-width="1.3"/>
<line x1="390.2" y1="913.5" x2="392.2" y2="913.5" stroke="#333333" stroke-width="1.3"/>
<line x1="408.6" y1="924.4" x2="408.6" y2="927.6" stroke="#333333" stroke-width="1.3"/>
<text x="411.4" y="937.6" font-size="10.6" text-anchor="middle" fill="#1a1a1a" stroke="#1a1a1a" stroke-width="0.26" transform="rotate(-30 411.4 937.6)">CK</text>
<line x1="433.6" y1="924.4" x2="433.6" y2="927.6" stroke="#333333" stroke-width="1.3"/>
<text x="436.4" y="937.6" font-size="10.6" text-anchor="middle" fill="#1a1a1a" stroke="#1a1a1a" stroke-width="0.26" transform="rotate(-30 436.4 937.6)">Ric</text>
<path d="M404.4 885.5H412.8M408.6 885.5V901.3M404.4 910.4H412.8M408.6 905.5V910.4M400.8 903.4H416.4" stroke="#7199cc" stroke-width="1.35" fill="none"/>
<rect x="400.8" y="901.3" width="15.6" height="4.2" fill="none" stroke="#7199cc" stroke-width="1.35"/>
<path d="M429.25 851.7H437.65M433.45 851.7V880.6M429.25 903.7H437.65M433.45 894.1V903.7M425.65 884.1H441.25" stroke="#e8963d" stroke-width="1.35" fill="none"/>
<rect x="425.65" y="880.6" width="15.6" height="13.5" fill="none" stroke="#e8963d" stroke-width="1.35"/>
<path d="M408.6 844.7V843.4H433.6V844.7" stroke="#222" stroke-width="1.6" fill="none"/>
<text x="421.7" y="844.1" font-size="10.2" text-anchor="middle" font-weight="bold" fill="#1a1a1a" letter-spacing="0.6">**</text>
<text x="420.9" y="829.2" font-size="10.7" text-anchor="middle" fill="#1a1a1a" stroke="#1a1a1a" stroke-width="0.26">Isobutyric acid</text>
<text x="371" y="880" font-size="10.9" text-anchor="middle" fill="#1a1a1a" stroke="#1a1a1a" stroke-width="0.26" transform="rotate(-90 371 880)">Abundance (× 10<tspan font-size="7.2" dy="-5.0">4</tspan><tspan dy="5.0">)</tspan></text>
<text x="353.5" y="825.8" font-size="15.8" fill="#1a1a1a" stroke="#1a1a1a" stroke-width="0.26">S</text>
<path d="M506.4 837.3 V924.4 H564.2" stroke="#333333" stroke-width="1.3" fill="none"/>
<line x1="503" y1="837.3" x2="506.4" y2="837.3" stroke="#333333" stroke-width="1.3"/>
<text x="500.4" y="841.8" font-size="10.6" text-anchor="end" fill="#1a1a1a" stroke="#1a1a1a" stroke-width="0.26">5</text>
<line x1="503" y1="854.7" x2="506.4" y2="854.7" stroke="#333333" stroke-width="1.3"/>
<text x="500.4" y="859.2" font-size="10.6" text-anchor="end" fill="#1a1a1a" stroke="#1a1a1a" stroke-width="0.26">4</text>
<line x1="503" y1="872.1" x2="506.4" y2="872.1" stroke="#333333" stroke-width="1.3"/>
<text x="500.4" y="876.6" font-size="10.6" text-anchor="end" fill="#1a1a1a" stroke="#1a1a1a" stroke-width="0.26">3</text>
<line x1="503" y1="889.6" x2="506.4" y2="889.6" stroke="#333333" stroke-width="1.3"/>
<text x="500.4" y="894.1" font-size="10.6" text-anchor="end" fill="#1a1a1a" stroke="#1a1a1a" stroke-width="0.26">2</text>
<line x1="503" y1="907" x2="506.4" y2="907" stroke="#333333" stroke-width="1.3"/>
<text x="500.4" y="911.5" font-size="10.6" text-anchor="end" fill="#1a1a1a" stroke="#1a1a1a" stroke-width="0.26">1</text>
<line x1="503" y1="924.4" x2="506.4" y2="924.4" stroke="#333333" stroke-width="1.3"/>
<text x="500.4" y="928.9" font-size="10.6" text-anchor="end" fill="#1a1a1a" stroke="#1a1a1a" stroke-width="0.26">0</text>
<line x1="504.4" y1="846" x2="506.4" y2="846" stroke="#333333" stroke-width="1.3"/>
<line x1="504.4" y1="863.4" x2="506.4" y2="863.4" stroke="#333333" stroke-width="1.3"/>
<line x1="504.4" y1="880.85" x2="506.4" y2="880.85" stroke="#333333" stroke-width="1.3"/>
<line x1="504.4" y1="898.3" x2="506.4" y2="898.3" stroke="#333333" stroke-width="1.3"/>
<line x1="504.4" y1="915.7" x2="506.4" y2="915.7" stroke="#333333" stroke-width="1.3"/>
<line x1="522.2" y1="924.4" x2="522.2" y2="927.6" stroke="#333333" stroke-width="1.3"/>
<text x="525" y="937.6" font-size="10.6" text-anchor="middle" fill="#1a1a1a" stroke="#1a1a1a" stroke-width="0.26" transform="rotate(-30 525 937.6)">CK</text>
<line x1="547.2" y1="924.4" x2="547.2" y2="927.6" stroke="#333333" stroke-width="1.3"/>
<text x="550" y="937.6" font-size="10.6" text-anchor="middle" fill="#1a1a1a" stroke="#1a1a1a" stroke-width="0.26" transform="rotate(-30 550 937.6)">Ric</text>
<path d="M518.35 886.4H526.75M522.55 886.4V888.5M518.35 921.2H526.75M522.55 917.9V921.2M514.75 901.3H530.35" stroke="#7199cc" stroke-width="1.35" fill="none"/>
<rect x="514.75" y="888.5" width="15.6" height="29.4" fill="none" stroke="#7199cc" stroke-width="1.35"/>
<path d="M543.45 856.1H551.85M547.65 856.1V862.5M543.45 906.3H551.85M547.65 882.3V906.3M539.85 877.1H555.45" stroke="#e8963d" stroke-width="1.35" fill="none"/>
<rect x="539.85" y="862.5" width="15.6" height="19.8" fill="none" stroke="#e8963d" stroke-width="1.35"/>
<path d="M522.7 844.7V843.4H547.6V844.7" stroke="#222" stroke-width="1.6" fill="none"/>
<text x="535.75" y="843.7" font-size="10.2" text-anchor="middle" font-weight="bold" fill="#1a1a1a" letter-spacing="0.6">**</text>
<text x="538.6" y="829.2" font-size="10.7" text-anchor="middle" fill="#1a1a1a" stroke="#1a1a1a" stroke-width="0.26">Hexanoic Acid</text>
<text x="488.2" y="880" font-size="10.9" text-anchor="middle" fill="#1a1a1a" stroke="#1a1a1a" stroke-width="0.26" transform="rotate(-90 488.2 880)">Abundance (× 10<tspan font-size="7.2" dy="-5.0">2</tspan><tspan dy="5.0">)</tspan></text>
<text x="469.6" y="825.4" font-size="15.8" fill="#1a1a1a" stroke="#1a1a1a" stroke-width="0.26">T</text>
<path d="M623.9 837.3 V924.4 H682" stroke="#333333" stroke-width="1.3" fill="none"/>
<line x1="620.5" y1="837.3" x2="623.9" y2="837.3" stroke="#333333" stroke-width="1.3"/>
<text x="617.7" y="841.8" font-size="10.6" text-anchor="end" fill="#1a1a1a" stroke="#1a1a1a" stroke-width="0.26">6</text>
<line x1="620.5" y1="866.3" x2="623.9" y2="866.3" stroke="#333333" stroke-width="1.3"/>
<text x="617.7" y="870.8" font-size="10.6" text-anchor="end" fill="#1a1a1a" stroke="#1a1a1a" stroke-width="0.26">4</text>
<line x1="620.5" y1="895.4" x2="623.9" y2="895.4" stroke="#333333" stroke-width="1.3"/>
<text x="617.7" y="899.9" font-size="10.6" text-anchor="end" fill="#1a1a1a" stroke="#1a1a1a" stroke-width="0.26">2</text>
<line x1="620.5" y1="924.4" x2="623.9" y2="924.4" stroke="#333333" stroke-width="1.3"/>
<text x="617.7" y="928.9" font-size="10.6" text-anchor="end" fill="#1a1a1a" stroke="#1a1a1a" stroke-width="0.26">0</text>
<line x1="621.9" y1="851.8" x2="623.9" y2="851.8" stroke="#333333" stroke-width="1.3"/>
<line x1="621.9" y1="880.85" x2="623.9" y2="880.85" stroke="#333333" stroke-width="1.3"/>
<line x1="621.9" y1="909.9" x2="623.9" y2="909.9" stroke="#333333" stroke-width="1.3"/>
<line x1="640.7" y1="924.4" x2="640.7" y2="927.6" stroke="#333333" stroke-width="1.3"/>
<text x="643.5" y="937.6" font-size="10.6" text-anchor="middle" fill="#1a1a1a" stroke="#1a1a1a" stroke-width="0.26" transform="rotate(-30 643.5 937.6)">CK</text>
<line x1="665.2" y1="924.4" x2="665.2" y2="927.6" stroke="#333333" stroke-width="1.3"/>
<text x="668" y="937.6" font-size="10.6" text-anchor="middle" fill="#1a1a1a" stroke="#1a1a1a" stroke-width="0.26" transform="rotate(-30 668 937.6)">Ric</text>
<path d="M636.1 888H644.5M640.3 888V894.6M636.1 914.8H644.5M640.3 910.7V914.8M632.5 905.5H648.1" stroke="#7199cc" stroke-width="1.35" fill="none"/>
<rect x="632.5" y="894.6" width="15.6" height="16.1" fill="none" stroke="#7199cc" stroke-width="1.35"/>
<path d="M661.1 849.4H669.5M665.3 849.4V868.3M661.1 916.2H669.5M665.3 907.2V916.2M657.5 875.3H673.1" stroke="#e8963d" stroke-width="1.35" fill="none"/>
<rect x="657.5" y="868.3" width="15.6" height="38.9" fill="none" stroke="#e8963d" stroke-width="1.35"/>
<path d="M640.7 843.3V842H665.2V843.3" stroke="#222" stroke-width="1.6" fill="none"/>
<text x="653.55" y="842.4" font-size="10.2" text-anchor="middle" font-weight="bold" fill="#1a1a1a" letter-spacing="0.6">*</text>
<text x="652.6" y="829.2" font-size="10.7" text-anchor="middle" fill="#1a1a1a" stroke="#1a1a1a" stroke-width="0.26">Glutaric acid</text>
<text x="604" y="880" font-size="10.9" text-anchor="middle" fill="#1a1a1a" stroke="#1a1a1a" stroke-width="0.26" transform="rotate(-90 604 880)">Abundance (× 10<tspan font-size="7.2" dy="-5.0">1</tspan><tspan dy="5.0">)</tspan></text>
<text x="584.8" y="825.8" font-size="15.8" fill="#1a1a1a" stroke="#1a1a1a" stroke-width="0.26">U</text>
<text x="548.9" y="12.8" font-size="15.8" fill="#1a1a1a" stroke="#1a1a1a" stroke-width="0.26">E</text>
<text x="620.3" y="11.6" font-size="10.7" text-anchor="middle" fill="#1a1a1a" stroke="#1a1a1a" stroke-width="0.26">PCA Analysis</text>
<rect x="582" y="17.4" width="75.6" height="82.5" fill="none" stroke="#c4c4c4" stroke-width="0.9"/>
<line x1="628.4" y1="17.4" x2="628.4" y2="99.9" stroke="#d0d0d0" stroke-width="0.7" stroke-dasharray="1.2 1.2"/>
<line x1="582" y1="59.8" x2="657.6" y2="59.8" stroke="#d0d0d0" stroke-width="0.7" stroke-dasharray="1.2 1.2"/>
<text x="574.4" y="33.7" font-size="8.1" text-anchor="middle" fill="#444444" stroke="#444444" stroke-width="0.2">20</text>
<text x="574.4" y="48.2" font-size="8.1" text-anchor="middle" fill="#444444" stroke="#444444" stroke-width="0.2">10</text>
<text x="574.4" y="62.7" font-size="8.1" text-anchor="middle" fill="#444444" stroke="#444444" stroke-width="0.2">0</text>
<text x="574.4" y="77.2" font-size="8.1" text-anchor="middle" fill="#444444" stroke="#444444" stroke-width="0.2">-10</text>
<text x="574.4" y="91.7" font-size="8.1" text-anchor="middle" fill="#444444" stroke="#444444" stroke-width="0.2">-20</text>
<text x="595.6" y="108.6" font-size="8.1" text-anchor="middle" fill="#444444" stroke="#444444" stroke-width="0.2">-20</text>
<text x="612" y="108.6" font-size="8.1" text-anchor="middle" fill="#444444" stroke="#444444" stroke-width="0.2">-10</text>
<text x="628.4" y="108.6" font-size="8.1" text-anchor="middle" fill="#444444" stroke="#444444" stroke-width="0.2">0</text>
<text x="644.8" y="108.6" font-size="8.1" text-anchor="middle" fill="#444444" stroke="#444444" stroke-width="0.2">10</text>
<text x="619.2" y="121.2" font-size="10.9" text-anchor="middle" fill="#1a1a1a" stroke="#1a1a1a" stroke-width="0.26">PC1 (9.01%)</text>
<text x="564.2" y="58.5" font-size="10.9" text-anchor="middle" fill="#1a1a1a" stroke="#1a1a1a" stroke-width="0.26" transform="rotate(-90 564.2 58.5)">PC2 (8.27%)</text>
<ellipse cx="612.8" cy="55.0" rx="37.0" ry="21.2" transform="rotate(-60 612.8 55)" fill="none" stroke="#7fa3dd" stroke-width="0.7"/>
<ellipse cx="644.0" cy="64.6" rx="10.1" ry="13.5" transform="rotate(-4 644 64.6)" fill="none" stroke="#f39a6a" stroke-width="0.7"/>
<circle cx="622.1" cy="25.4" r="1.1" fill="#3a6cc0"/>
<circle cx="600.7" cy="34.3" r="1.1" fill="#3a6cc0"/>
<circle cx="608" cy="36.3" r="1.1" fill="#3a6cc0"/>
<circle cx="635" cy="52.3" r="1.1" fill="#3a6cc0"/>
<circle cx="633.5" cy="57.75" r="1.1" fill="#3a6cc0"/>
<circle cx="620.5" cy="67.1" r="1.1" fill="#3a6cc0"/>
<circle cx="595.2" cy="71" r="1.1" fill="#3a6cc0"/>
<circle cx="585" cy="96.3" r="1.1" fill="#3a6cc0"/>
<circle cx="639.25" cy="53.5" r="1.1" fill="#f0682a"/>
<circle cx="636.1" cy="57.4" r="1.1" fill="#f0682a"/>
<circle cx="639.25" cy="61.2" r="1.1" fill="#f0682a"/>
<circle cx="645.5" cy="63.5" r="1.1" fill="#f0682a"/>
<circle cx="653.8" cy="58.5" r="1.1" fill="#f0682a"/>
<circle cx="653" cy="67.9" r="1.1" fill="#f0682a"/>
<circle cx="646.75" cy="77.6" r="1.1" fill="#f0682a"/>
<circle cx="637.8" cy="79.2" r="1.1" fill="#f0682a"/>
<circle cx="661.3" cy="33.8" r="1.6" fill="#3a6cc0"/>
<circle cx="661.6" cy="46.8" r="1.6" fill="#f0682a"/>
<text x="663.8" y="37.4" font-size="9.6" fill="#1a1a1a" stroke="#1a1a1a" stroke-width="0.24">CK</text>
<text x="664.2" y="50.3" font-size="9.6" fill="#1a1a1a" stroke="#1a1a1a" stroke-width="0.24">Ric</text>
<text x="1" y="133.4" font-size="15.8" fill="#1a1a1a" stroke="#1a1a1a" stroke-width="0.26">F</text>
<text x="25.8" y="143.2" font-size="10.6" text-anchor="middle" fill="#1a1a1a" stroke="#1a1a1a" stroke-width="0.26">100</text>
<text x="25.8" y="188.2" font-size="10.6" text-anchor="middle" fill="#1a1a1a" stroke="#1a1a1a" stroke-width="0.26">75</text>
<text x="25.8" y="233.2" font-size="10.6" text-anchor="middle" fill="#1a1a1a" stroke="#1a1a1a" stroke-width="0.26">50</text>
<text x="25.8" y="278.2" font-size="10.6" text-anchor="middle" fill="#1a1a1a" stroke="#1a1a1a" stroke-width="0.26">25</text>
<text x="25.8" y="323.2" font-size="10.6" text-anchor="middle" fill="#1a1a1a" stroke="#1a1a1a" stroke-width="0.26">0</text>
<text x="14.2" y="228.7" font-size="10.9" text-anchor="middle" fill="#1a1a1a" stroke="#1a1a1a" stroke-width="0.26" transform="rotate(-90 14.2 228.7)">Relative abundance (%)</text>
<rect x="38.07" y="139.5" width="13.74" height="1.7" fill="#f2aaa6"/>
<rect x="38.07" y="139.5" width="13.74" height="0.9" fill="#d8b89a"/>
<rect x="38.07" y="141.2" width="13.74" height="4.4" fill="#ea3b3a"/>
<rect x="38.07" y="145.6" width="13.74" height="4.6" fill="#c8717f"/>
<rect x="38.07" y="150.2" width="13.74" height="85.3" fill="#93b1d6"/>
<rect x="38.07" y="235.5" width="13.74" height="84.4" fill="#4373b4"/>
<rect x="50.81" y="139.5" width="13.74" height="1.7" fill="#f2aaa6"/>
<rect x="50.81" y="139.5" width="13.74" height="0.9" fill="#d8b89a"/>
<rect x="50.81" y="141.2" width="13.74" height="2.4" fill="#ea3b3a"/>
<rect x="50.81" y="143.6" width="13.74" height="6.9" fill="#c8717f"/>
<rect x="50.81" y="150.5" width="13.74" height="47.4" fill="#93b1d6"/>
<rect x="50.81" y="197.9" width="13.74" height="122" fill="#4373b4"/>
<rect x="63.55" y="139.5" width="13.74" height="1.7" fill="#f2aaa6"/>
<rect x="63.55" y="139.5" width="13.74" height="0.9" fill="#d8b89a"/>
<rect x="63.55" y="141.2" width="13.74" height="2" fill="#ea3b3a"/>
<rect x="63.55" y="143.2" width="13.74" height="6" fill="#c8717f"/>
<rect x="63.55" y="149.2" width="13.74" height="85.5" fill="#93b1d6"/>
<rect x="63.55" y="234.7" width="13.74" height="85.2" fill="#4373b4"/>
<rect x="76.29" y="139.5" width="13.74" height="1.4" fill="#f2aaa6"/>
<rect x="76.29" y="139.5" width="13.74" height="0.9" fill="#d8b89a"/>
<rect x="76.29" y="140.9" width="13.74" height="3.7" fill="#ea3b3a"/>
<rect x="76.29" y="144.6" width="13.74" height="0.4" fill="#c8717f"/>
<rect x="76.29" y="145" width="13.74" height="69.9" fill="#93b1d6"/>
<rect x="76.29" y="214.9" width="13.74" height="105" fill="#4373b4"/>
<rect x="89.03" y="139.5" width="13.74" height="1.4" fill="#f2aaa6"/>
<rect x="89.03" y="139.5" width="13.74" height="0.9" fill="#d8b89a"/>
<rect x="89.03" y="140.9" width="13.74" height="2.7" fill="#ea3b3a"/>
<rect x="89.03" y="143.6" width="13.74" height="8.6" fill="#c8717f"/>
<rect x="89.03" y="152.2" width="13.74" height="99.5" fill="#93b1d6"/>
<rect x="89.03" y="251.7" width="13.74" height="68.2" fill="#4373b4"/>
<rect x="101.77" y="139.5" width="13.74" height="1.7" fill="#f2aaa6"/>
<rect x="101.77" y="139.5" width="13.74" height="0.9" fill="#d8b89a"/>
<rect x="101.77" y="141.2" width="13.74" height="1.6" fill="#ea3b3a"/>
<rect x="101.77" y="142.8" width="13.74" height="3" fill="#c8717f"/>
<rect x="101.77" y="145.8" width="13.74" height="65.3" fill="#93b1d6"/>
<rect x="101.77" y="211.1" width="13.74" height="108.8" fill="#4373b4"/>
<rect x="114.51" y="139.5" width="13.74" height="1.4" fill="#f2aaa6"/>
<rect x="114.51" y="139.5" width="13.74" height="0.9" fill="#d8b89a"/>
<rect x="114.51" y="140.9" width="13.74" height="3.1" fill="#ea3b3a"/>
<rect x="114.51" y="144" width="13.74" height="6.7" fill="#c8717f"/>
<rect x="114.51" y="150.7" width="13.74" height="84.6" fill="#93b1d6"/>
<rect x="114.51" y="235.3" width="13.74" height="84.6" fill="#4373b4"/>
<rect x="127.25" y="139.5" width="12.74" height="1.7" fill="#f2aaa6"/>
<rect x="127.25" y="139.5" width="12.74" height="0.9" fill="#d8b89a"/>
<rect x="127.25" y="141.2" width="12.74" height="2.8" fill="#ea3b3a"/>
<rect x="127.25" y="144" width="12.74" height="9" fill="#c8717f"/>
<rect x="127.25" y="153" width="12.74" height="104" fill="#93b1d6"/>
<rect x="127.25" y="257" width="12.74" height="62.9" fill="#4373b4"/>
<rect x="36.9" y="137.6" width="104.6" height="182.3" fill="none" stroke="#858585" stroke-width="0.8"/>
<text x="51.04" y="326.4" font-size="8.7" text-anchor="end" fill="#1a1a1a" stroke="#1a1a1a" stroke-width="0.21" transform="rotate(-45 51.04 326.4)">CK1</text>
<text x="63.78" y="326.4" font-size="8.7" text-anchor="end" fill="#1a1a1a" stroke="#1a1a1a" stroke-width="0.21" transform="rotate(-45 63.78 326.4)">CK2</text>
<text x="76.52" y="326.4" font-size="8.7" text-anchor="end" fill="#1a1a1a" stroke="#1a1a1a" stroke-width="0.21" transform="rotate(-45 76.52 326.4)">CK3</text>
<text x="89.26" y="326.4" font-size="8.7" text-anchor="end" fill="#1a1a1a" stroke="#1a1a1a" stroke-width="0.21" transform="rotate(-45 89.26 326.4)">CK4</text>
<text x="102" y="326.4" font-size="8.7" text-anchor="end" fill="#1a1a1a" stroke="#1a1a1a" stroke-width="0.21" transform="rotate(-45 102 326.4)">CK5</text>
<text x="114.74" y="326.4" font-size="8.7" text-anchor="end" fill="#1a1a1a" stroke="#1a1a1a" stroke-width="0.21" transform="rotate(-45 114.74 326.4)">CK6</text>
<text x="127.48" y="326.4" font-size="8.7" text-anchor="end" fill="#1a1a1a" stroke="#1a1a1a" stroke-width="0.21" transform="rotate(-45 127.48 326.4)">CK7</text>
<text x="140.22" y="326.4" font-size="8.7" text-anchor="end" fill="#1a1a1a" stroke="#1a1a1a" stroke-width="0.21" transform="rotate(-45 140.22 326.4)">CK8</text>
<rect x="144.4" y="139.5" width="13.74" height="3.3" fill="#f2aaa6"/>
<rect x="144.4" y="139.5" width="13.74" height="0.9" fill="#d8b89a"/>
<rect x="144.4" y="142.8" width="13.74" height="3.2" fill="#ea3b3a"/>
<rect x="144.4" y="146" width="13.74" height="2.8" fill="#c8717f"/>
<rect x="144.4" y="148.8" width="13.74" height="51.3" fill="#93b1d6"/>
<rect x="144.4" y="200.1" width="13.74" height="119.8" fill="#4373b4"/>
<rect x="157.14" y="139.5" width="13.74" height="1.7" fill="#f2aaa6"/>
<rect x="157.14" y="139.5" width="13.74" height="0.9" fill="#d8b89a"/>
<rect x="157.14" y="141.2" width="13.74" height="2.4" fill="#ea3b3a"/>
<rect x="157.14" y="143.6" width="13.74" height="2.3" fill="#c8717f"/>
<rect x="157.14" y="145.9" width="13.74" height="32.9" fill="#93b1d6"/>
<rect x="157.14" y="178.8" width="13.74" height="141.1" fill="#4373b4"/>
<rect x="169.88" y="139.5" width="13.74" height="1.7" fill="#f2aaa6"/>
<rect x="169.88" y="139.5" width="13.74" height="0.9" fill="#d8b89a"/>
<rect x="169.88" y="141.2" width="13.74" height="2.8" fill="#ea3b3a"/>
<rect x="169.88" y="144" width="13.74" height="2.9" fill="#c8717f"/>
<rect x="169.88" y="146.9" width="13.74" height="66.5" fill="#93b1d6"/>
<rect x="169.88" y="213.4" width="13.74" height="106.5" fill="#4373b4"/>
<rect x="182.62" y="139.5" width="13.74" height="1.4" fill="#f2aaa6"/>
<rect x="182.62" y="139.5" width="13.74" height="0.9" fill="#d8b89a"/>
<rect x="182.62" y="140.9" width="13.74" height="2.7" fill="#ea3b3a"/>
<rect x="182.62" y="143.6" width="13.74" height="2.1" fill="#c8717f"/>
<rect x="182.62" y="145.7" width="13.74" height="46.3" fill="#93b1d6"/>
<rect x="182.62" y="192" width="13.74" height="127.9" fill="#4373b4"/>
<rect x="195.36" y="139.5" width="13.74" height="1.7" fill="#f2aaa6"/>
<rect x="195.36" y="139.5" width="13.74" height="0.9" fill="#d8b89a"/>
<rect x="195.36" y="141.2" width="13.74" height="2.8" fill="#ea3b3a"/>
<rect x="195.36" y="144" width="13.74" height="3.6" fill="#c8717f"/>
<rect x="195.36" y="147.6" width="13.74" height="51.4" fill="#93b1d6"/>
<rect x="195.36" y="199" width="13.74" height="120.9" fill="#4373b4"/>
<rect x="208.1" y="139.5" width="13.74" height="4.5" fill="#f2aaa6"/>
<rect x="208.1" y="139.5" width="13.74" height="0.9" fill="#d8b89a"/>
<rect x="208.1" y="144" width="13.74" height="0.9" fill="#ea3b3a"/>
<rect x="208.1" y="144.9" width="13.74" height="4.3" fill="#c8717f"/>
<rect x="208.1" y="149.2" width="13.74" height="47.7" fill="#93b1d6"/>
<rect x="208.1" y="196.9" width="13.74" height="123" fill="#4373b4"/>
<rect x="220.84" y="139.5" width="13.74" height="1.7" fill="#f2aaa6"/>
<rect x="220.84" y="139.5" width="13.74" height="0.9" fill="#d8b89a"/>
<rect x="220.84" y="141.2" width="13.74" height="1.6" fill="#ea3b3a"/>
<rect x="220.84" y="142.8" width="13.74" height="2.1" fill="#c8717f"/>
<rect x="220.84" y="144.9" width="13.74" height="43.9" fill="#93b1d6"/>
<rect x="220.84" y="188.8" width="13.74" height="131.1" fill="#4373b4"/>
<rect x="233.58" y="139.5" width="12.74" height="2.2" fill="#f2aaa6"/>
<rect x="233.58" y="139.5" width="12.74" height="0.9" fill="#d8b89a"/>
<rect x="233.58" y="141.7" width="12.74" height="3.2" fill="#ea3b3a"/>
<rect x="233.58" y="144.9" width="12.74" height="2.8" fill="#c8717f"/>
<rect x="233.58" y="147.7" width="12.74" height="67.2" fill="#93b1d6"/>
<rect x="233.58" y="214.9" width="12.74" height="105" fill="#4373b4"/>
<rect x="143.4" y="137.6" width="104.2" height="182.3" fill="none" stroke="#858585" stroke-width="0.8"/>
<text x="157.37" y="326.4" font-size="8.7" text-anchor="end" fill="#1a1a1a" stroke="#1a1a1a" stroke-width="0.21" transform="rotate(-45 157.37 326.4)">Ric1</text>
<text x="170.11" y="326.4" font-size="8.7" text-anchor="end" fill="#1a1a1a" stroke="#1a1a1a" stroke-width="0.21" transform="rotate(-45 170.11 326.4)">Ric2</text>
<text x="182.85" y="326.4" font-size="8.7" text-anchor="end" fill="#1a1a1a" stroke="#1a1a1a" stroke-width="0.21" transform="rotate(-45 182.85 326.4)">Ric3</text>
<text x="195.59" y="326.4" font-size="8.7" text-anchor="end" fill="#1a1a1a" stroke="#1a1a1a" stroke-width="0.21" transform="rotate(-45 195.59 326.4)">Ric4</text>
<text x="208.33" y="326.4" font-size="8.7" text-anchor="end" fill="#1a1a1a" stroke="#1a1a1a" stroke-width="0.21" transform="rotate(-45 208.33 326.4)">Ric5</text>
<text x="221.07" y="326.4" font-size="8.7" text-anchor="end" fill="#1a1a1a" stroke="#1a1a1a" stroke-width="0.21" transform="rotate(-45 221.07 326.4)">Ric6</text>
<text x="233.81" y="326.4" font-size="8.7" text-anchor="end" fill="#1a1a1a" stroke="#1a1a1a" stroke-width="0.21" transform="rotate(-45 233.81 326.4)">Ric7</text>
<text x="246.55" y="326.4" font-size="8.7" text-anchor="end" fill="#1a1a1a" stroke="#1a1a1a" stroke-width="0.21" transform="rotate(-45 246.55 326.4)">Ric8</text>
<rect x="251.5" y="163.4" width="5.6" height="3.8" fill="#e8606c"/>
<text x="260.1" y="168.9" font-size="9.3" fill="#1a1a1a" stroke="#1a1a1a" stroke-width="0.23">others</text>
<rect x="251.5" y="172.48" width="5.6" height="3.8" fill="#c3173c"/>
<text x="260.1" y="177.98" font-size="9.3" fill="#1a1a1a" stroke="#1a1a1a" stroke-width="0.23">Gemmatimonadota</text>
<rect x="251.5" y="181.56" width="5.6" height="3.8" fill="#c95b6c"/>
<text x="260.1" y="187.06" font-size="9.3" fill="#1a1a1a" stroke="#1a1a1a" stroke-width="0.23">Chloroflexi</text>
<rect x="251.5" y="190.64" width="5.6" height="3.8" fill="#d8bf9c"/>
<text x="260.1" y="196.14" font-size="9.3" fill="#1a1a1a" stroke="#1a1a1a" stroke-width="0.23">Verrucomicrobiota</text>
<rect x="251.5" y="199.72" width="5.6" height="3.8" fill="#a57d56"/>
<text x="260.1" y="205.22" font-size="9.3" fill="#1a1a1a" stroke="#1a1a1a" stroke-width="0.23">Acidobacteriota</text>
<rect x="251.5" y="208.8" width="5.6" height="3.8" fill="#b2c4ca"/>
<text x="260.1" y="214.3" font-size="9.3" fill="#1a1a1a" stroke="#1a1a1a" stroke-width="0.23">Nitrospirota</text>
<rect x="251.5" y="217.88" width="5.6" height="3.8" fill="#9fcbeb"/>
<text x="260.1" y="223.38" font-size="9.3" fill="#1a1a1a" stroke="#1a1a1a" stroke-width="0.23">Spirochaetota</text>
<rect x="251.5" y="226.96" width="5.6" height="3.8" fill="#7ea6cf"/>
<text x="260.1" y="232.46" font-size="9.3" fill="#1a1a1a" stroke="#1a1a1a" stroke-width="0.23">Deferribacterota</text>
<rect x="251.5" y="236.04" width="5.6" height="3.8" fill="#d6bc9a"/>
<text x="260.1" y="241.54" font-size="9.3" fill="#1a1a1a" stroke="#1a1a1a" stroke-width="0.23">Cyanobacteria</text>
<rect x="251.5" y="245.12" width="5.6" height="3.8" fill="#b57a54"/>
<text x="260.1" y="250.62" font-size="9.3" fill="#1a1a1a" stroke="#1a1a1a" stroke-width="0.23">Fusobacteriota</text>
<rect x="251.5" y="254.2" width="5.6" height="3.8" fill="#c4745a"/>
<text x="260.1" y="259.7" font-size="9.3" fill="#1a1a1a" stroke="#1a1a1a" stroke-width="0.23">Actinobacteriota</text>
<rect x="251.5" y="263.28" width="5.6" height="3.8" fill="#f2aaa6"/>
<text x="260.1" y="268.78" font-size="9.3" fill="#1a1a1a" stroke="#1a1a1a" stroke-width="0.23">Proteobacteria</text>
<rect x="251.5" y="272.36" width="5.6" height="3.8" fill="#ea3b3a"/>
<text x="260.1" y="277.86" font-size="9.3" fill="#1a1a1a" stroke="#1a1a1a" stroke-width="0.23">Desulfobacterota</text>
<rect x="251.5" y="281.44" width="5.6" height="3.8" fill="#c8717f"/>
<text x="260.1" y="286.94" font-size="9.3" fill="#1a1a1a" stroke="#1a1a1a" stroke-width="0.23">Campilobacterota</text>
<rect x="251.5" y="290.52" width="5.6" height="3.8" fill="#8fb0d7"/>
<text x="260.1" y="296.02" font-size="9.3" fill="#1a1a1a" stroke="#1a1a1a" stroke-width="0.23">Firmicutes</text>
<rect x="251.5" y="299.6" width="5.6" height="3.8" fill="#416fb4"/>
<text x="260.1" y="305.1" font-size="9.3" fill="#1a1a1a" stroke="#1a1a1a" stroke-width="0.23">Bacteroidota</text>
<text x="369" y="132.5" font-size="15.8" fill="#1a1a1a" stroke="#1a1a1a" stroke-width="0.26">G</text>
<rect x="389" y="147" width="13.04" height="9.88" fill="#789ecc"/>
<rect x="401.69" y="147" width="13.04" height="9.88" fill="#b8cfe6"/>
<rect x="414.38" y="147" width="13.04" height="9.88" fill="#efc78d"/>
<rect x="427.07" y="147" width="13.04" height="9.88" fill="#db4b33"/>
<rect x="439.76" y="147" width="13.04" height="9.88" fill="#e88c5c"/>
<rect x="452.45" y="147" width="13.04" height="9.88" fill="#e9f4f5"/>
<rect x="465.14" y="147" width="13.04" height="9.88" fill="#eeb479"/>
<rect x="477.83" y="147" width="13.04" height="9.88" fill="#f3f3e5"/>
<rect x="490.52" y="147" width="13.04" height="9.88" fill="#80a5d0"/>
<rect x="503.21" y="147" width="13.04" height="9.88" fill="#789ecc"/>
<rect x="515.9" y="147" width="13.04" height="9.88" fill="#bfd5e9"/>
<rect x="528.59" y="147" width="13.04" height="9.88" fill="#e4f1f4"/>
<rect x="541.28" y="147" width="13.04" height="9.88" fill="#8badd4"/>
<rect x="553.97" y="147" width="13.04" height="9.88" fill="#cde1ee"/>
<rect x="566.66" y="147" width="13.04" height="9.88" fill="#8badd4"/>
<rect x="579.35" y="147" width="13.04" height="9.88" fill="#95b5d8"/>
<rect x="389" y="156.53" width="13.04" height="9.88" fill="#e5714d"/>
<rect x="401.69" y="156.53" width="13.04" height="9.88" fill="#789ecc"/>
<rect x="414.38" y="156.53" width="13.04" height="9.88" fill="#d3e5f0"/>
<rect x="427.07" y="156.53" width="13.04" height="9.88" fill="#de5339"/>
<rect x="439.76" y="156.53" width="13.04" height="9.88" fill="#eebe83"/>
<rect x="452.45" y="156.53" width="13.04" height="9.88" fill="#f2faf6"/>
<rect x="465.14" y="156.53" width="13.04" height="9.88" fill="#f3e6c8"/>
<rect x="477.83" y="156.53" width="13.04" height="9.88" fill="#f3e6c8"/>
<rect x="490.52" y="156.53" width="13.04" height="9.88" fill="#bfd5e9"/>
<rect x="503.21" y="156.53" width="13.04" height="9.88" fill="#f4edd5"/>
<rect x="515.9" y="156.53" width="13.04" height="9.88" fill="#9cbadb"/>
<rect x="528.59" y="156.53" width="13.04" height="9.88" fill="#84a8d2"/>
<rect x="541.28" y="156.53" width="13.04" height="9.88" fill="#80a5d0"/>
<rect x="553.97" y="156.53" width="13.04" height="9.88" fill="#7ea3cf"/>
<rect x="566.66" y="156.53" width="13.04" height="9.88" fill="#7ea3cf"/>
<rect x="579.35" y="156.53" width="13.04" height="9.88" fill="#b0cae3"/>
<rect x="389" y="166.06" width="13.04" height="9.88" fill="#f2dba8"/>
<rect x="401.69" y="166.06" width="13.04" height="9.88" fill="#789ecc"/>
<rect x="414.38" y="166.06" width="13.04" height="9.88" fill="#eeb479"/>
<rect x="427.07" y="166.06" width="13.04" height="9.88" fill="#eca06b"/>
<rect x="439.76" y="166.06" width="13.04" height="9.88" fill="#e88c5c"/>
<rect x="452.45" y="166.06" width="13.04" height="9.88" fill="#f2dba8"/>
<rect x="465.14" y="166.06" width="13.04" height="9.88" fill="#edf7f5"/>
<rect x="477.83" y="166.06" width="13.04" height="9.88" fill="#d3e5f0"/>
<rect x="490.52" y="166.06" width="13.04" height="9.88" fill="#e9f4f5"/>
<rect x="503.21" y="166.06" width="13.04" height="9.88" fill="#80a5d0"/>
<rect x="515.9" y="166.06" width="13.04" height="9.88" fill="#80a5d0"/>
<rect x="528.59" y="166.06" width="13.04" height="9.88" fill="#80a5d0"/>
<rect x="541.28" y="166.06" width="13.04" height="9.88" fill="#80a5d0"/>
<rect x="553.97" y="166.06" width="13.04" height="9.88" fill="#80a5d0"/>
<rect x="566.66" y="166.06" width="13.04" height="9.88" fill="#80a5d0"/>
<rect x="579.35" y="166.06" width="13.04" height="9.88" fill="#f2dba8"/>
<rect x="389" y="175.59" width="13.04" height="9.88" fill="#ea9464"/>
<rect x="401.69" y="175.59" width="13.04" height="9.88" fill="#eeac72"/>
<rect x="414.38" y="175.59" width="13.04" height="9.88" fill="#8fb0d6"/>
<rect x="427.07" y="175.59" width="13.04" height="9.88" fill="#f2dba8"/>
<rect x="439.76" y="175.59" width="13.04" height="9.88" fill="#a8c4e0"/>
<rect x="452.45" y="175.59" width="13.04" height="9.88" fill="#b8cfe6"/>
<rect x="465.14" y="175.59" width="13.04" height="9.88" fill="#f2e0b8"/>
<rect x="477.83" y="175.59" width="13.04" height="9.88" fill="#efc78d"/>
<rect x="490.52" y="175.59" width="13.04" height="9.88" fill="#e9f4f5"/>
<rect x="503.21" y="175.59" width="13.04" height="9.88" fill="#6690c6"/>
<rect x="515.9" y="175.59" width="13.04" height="9.88" fill="#84a8d2"/>
<rect x="528.59" y="175.59" width="13.04" height="9.88" fill="#618bc4"/>
<rect x="541.28" y="175.59" width="13.04" height="9.88" fill="#789ecc"/>
<rect x="553.97" y="175.59" width="13.04" height="9.88" fill="#d8e9f1"/>
<rect x="566.66" y="175.59" width="13.04" height="9.88" fill="#f2faf6"/>
<rect x="579.35" y="175.59" width="13.04" height="9.88" fill="#f0cd94"/>
<rect x="389" y="185.12" width="13.04" height="9.88" fill="#f2faf6"/>
<rect x="401.69" y="185.12" width="13.04" height="9.88" fill="#f0cd94"/>
<rect x="414.38" y="185.12" width="13.04" height="9.88" fill="#f1d49e"/>
<rect x="427.07" y="185.12" width="13.04" height="9.88" fill="#5582c0"/>
<rect x="439.76" y="185.12" width="13.04" height="9.88" fill="#e67e54"/>
<rect x="452.45" y="185.12" width="13.04" height="9.88" fill="#80a5d0"/>
<rect x="465.14" y="185.12" width="13.04" height="9.88" fill="#f0cd94"/>
<rect x="477.83" y="185.12" width="13.04" height="9.88" fill="#e5714d"/>
<rect x="490.52" y="185.12" width="13.04" height="9.88" fill="#b0cae3"/>
<rect x="503.21" y="185.12" width="13.04" height="9.88" fill="#8badd4"/>
<rect x="515.9" y="185.12" width="13.04" height="9.88" fill="#a2bfde"/>
<rect x="528.59" y="185.12" width="13.04" height="9.88" fill="#88aad3"/>
<rect x="541.28" y="185.12" width="13.04" height="9.88" fill="#bfd5e9"/>
<rect x="553.97" y="185.12" width="13.04" height="9.88" fill="#edf7f5"/>
<rect x="566.66" y="185.12" width="13.04" height="9.88" fill="#95b5d8"/>
<rect x="579.35" y="185.12" width="13.04" height="9.88" fill="#a2bfde"/>
<rect x="389" y="194.65" width="13.04" height="9.88" fill="#f1d49e"/>
<rect x="401.69" y="194.65" width="13.04" height="9.88" fill="#789ecc"/>
<rect x="414.38" y="194.65" width="13.04" height="9.88" fill="#b8cfe6"/>
<rect x="427.07" y="194.65" width="13.04" height="9.88" fill="#f2faf6"/>
<rect x="439.76" y="194.65" width="13.04" height="9.88" fill="#e05a3e"/>
<rect x="452.45" y="194.65" width="13.04" height="9.88" fill="#efc78d"/>
<rect x="465.14" y="194.65" width="13.04" height="9.88" fill="#f3e6c8"/>
<rect x="477.83" y="194.65" width="13.04" height="9.88" fill="#e5714d"/>
<rect x="490.52" y="194.65" width="13.04" height="9.88" fill="#a8c4e0"/>
<rect x="503.21" y="194.65" width="13.04" height="9.88" fill="#6c95c8"/>
<rect x="515.9" y="194.65" width="13.04" height="9.88" fill="#edf7f5"/>
<rect x="528.59" y="194.65" width="13.04" height="9.88" fill="#8fb0d6"/>
<rect x="541.28" y="194.65" width="13.04" height="9.88" fill="#84a8d2"/>
<rect x="553.97" y="194.65" width="13.04" height="9.88" fill="#b8cfe6"/>
<rect x="566.66" y="194.65" width="13.04" height="9.88" fill="#9cbadb"/>
<rect x="579.35" y="194.65" width="13.04" height="9.88" fill="#d3e5f0"/>
<rect x="389" y="204.18" width="13.04" height="9.88" fill="#f2dba8"/>
<rect x="401.69" y="204.18" width="13.04" height="9.88" fill="#b8cfe6"/>
<rect x="414.38" y="204.18" width="13.04" height="9.88" fill="#c6dbeb"/>
<rect x="427.07" y="204.18" width="13.04" height="9.88" fill="#f2dba8"/>
<rect x="439.76" y="204.18" width="13.04" height="9.88" fill="#f2dba8"/>
<rect x="452.45" y="204.18" width="13.04" height="9.88" fill="#f2faf6"/>
<rect x="465.14" y="204.18" width="13.04" height="9.88" fill="#efc78d"/>
<rect x="477.83" y="204.18" width="13.04" height="9.88" fill="#e26646"/>
<rect x="490.52" y="204.18" width="13.04" height="9.88" fill="#f3f7ed"/>
<rect x="503.21" y="204.18" width="13.04" height="9.88" fill="#7ea3cf"/>
<rect x="515.9" y="204.18" width="13.04" height="9.88" fill="#efc288"/>
<rect x="528.59" y="204.18" width="13.04" height="9.88" fill="#80a5d0"/>
<rect x="541.28" y="204.18" width="13.04" height="9.88" fill="#80a5d0"/>
<rect x="553.97" y="204.18" width="13.04" height="9.88" fill="#80a5d0"/>
<rect x="566.66" y="204.18" width="13.04" height="9.88" fill="#80a5d0"/>
<rect x="579.35" y="204.18" width="13.04" height="9.88" fill="#80a5d0"/>
<rect x="389" y="213.71" width="13.04" height="9.88" fill="#f1d49e"/>
<rect x="401.69" y="213.71" width="13.04" height="9.88" fill="#5582c0"/>
<rect x="414.38" y="213.71" width="13.04" height="9.88" fill="#c6dbeb"/>
<rect x="427.07" y="213.71" width="13.04" height="9.88" fill="#80a5d0"/>
<rect x="439.76" y="213.71" width="13.04" height="9.88" fill="#80a5d0"/>
<rect x="452.45" y="213.71" width="13.04" height="9.88" fill="#f4edd5"/>
<rect x="465.14" y="213.71" width="13.04" height="9.88" fill="#88aad3"/>
<rect x="477.83" y="213.71" width="13.04" height="9.88" fill="#6c95c8"/>
<rect x="490.52" y="213.71" width="13.04" height="9.88" fill="#ea9464"/>
<rect x="503.21" y="213.71" width="13.04" height="9.88" fill="#f2e0b8"/>
<rect x="515.9" y="213.71" width="13.04" height="9.88" fill="#f3f3e5"/>
<rect x="528.59" y="213.71" width="13.04" height="9.88" fill="#eebe83"/>
<rect x="541.28" y="213.71" width="13.04" height="9.88" fill="#8fb0d6"/>
<rect x="553.97" y="213.71" width="13.04" height="9.88" fill="#f3e3c0"/>
<rect x="566.66" y="213.71" width="13.04" height="9.88" fill="#eebe83"/>
<rect x="579.35" y="213.71" width="13.04" height="9.88" fill="#80a5d0"/>
<rect x="389" y="223.24" width="13.04" height="9.88" fill="#a8c4e0"/>
<rect x="401.69" y="223.24" width="13.04" height="9.88" fill="#a8c4e0"/>
<rect x="414.38" y="223.24" width="13.04" height="9.88" fill="#a8c4e0"/>
<rect x="427.07" y="223.24" width="13.04" height="9.88" fill="#a8c4e0"/>
<rect x="439.76" y="223.24" width="13.04" height="9.88" fill="#a8c4e0"/>
<rect x="452.45" y="223.24" width="13.04" height="9.88" fill="#a8c4e0"/>
<rect x="465.14" y="223.24" width="13.04" height="9.88" fill="#a8c4e0"/>
<rect x="477.83" y="223.24" width="13.04" height="9.88" fill="#a8c4e0"/>
<rect x="490.52" y="223.24" width="13.04" height="9.88" fill="#f0cd94"/>
<rect x="503.21" y="223.24" width="13.04" height="9.88" fill="#ea9464"/>
<rect x="515.9" y="223.24" width="13.04" height="9.88" fill="#b8cfe6"/>
<rect x="528.59" y="223.24" width="13.04" height="9.88" fill="#de5339"/>
<rect x="541.28" y="223.24" width="13.04" height="9.88" fill="#b8cfe6"/>
<rect x="553.97" y="223.24" width="13.04" height="9.88" fill="#eeac72"/>
<rect x="566.66" y="223.24" width="13.04" height="9.88" fill="#b8cfe6"/>
<rect x="579.35" y="223.24" width="13.04" height="9.88" fill="#b8cfe6"/>
<rect x="389" y="232.77" width="13.04" height="9.88" fill="#f3e6c8"/>
<rect x="401.69" y="232.77" width="13.04" height="9.88" fill="#cde1ee"/>
<rect x="414.38" y="232.77" width="13.04" height="9.88" fill="#eebe83"/>
<rect x="427.07" y="232.77" width="13.04" height="9.88" fill="#a8c4e0"/>
<rect x="439.76" y="232.77" width="13.04" height="9.88" fill="#618bc4"/>
<rect x="452.45" y="232.77" width="13.04" height="9.88" fill="#deedf2"/>
<rect x="465.14" y="232.77" width="13.04" height="9.88" fill="#5582c0"/>
<rect x="477.83" y="232.77" width="13.04" height="9.88" fill="#7ca2ce"/>
<rect x="490.52" y="232.77" width="13.04" height="9.88" fill="#f3e6c8"/>
<rect x="503.21" y="232.77" width="13.04" height="9.88" fill="#eeb479"/>
<rect x="515.9" y="232.77" width="13.04" height="9.88" fill="#b8cfe6"/>
<rect x="528.59" y="232.77" width="13.04" height="9.88" fill="#f3e9cf"/>
<rect x="541.28" y="232.77" width="13.04" height="9.88" fill="#eca06b"/>
<rect x="553.97" y="232.77" width="13.04" height="9.88" fill="#f4f0dc"/>
<rect x="566.66" y="232.77" width="13.04" height="9.88" fill="#f3e9cf"/>
<rect x="579.35" y="232.77" width="13.04" height="9.88" fill="#d3e5f0"/>
<rect x="389" y="242.3" width="13.04" height="9.88" fill="#618bc4"/>
<rect x="401.69" y="242.3" width="13.04" height="9.88" fill="#618bc4"/>
<rect x="414.38" y="242.3" width="13.04" height="9.88" fill="#f3e9cf"/>
<rect x="427.07" y="242.3" width="13.04" height="9.88" fill="#f2faf6"/>
<rect x="439.76" y="242.3" width="13.04" height="9.88" fill="#6690c6"/>
<rect x="452.45" y="242.3" width="13.04" height="9.88" fill="#c6dbeb"/>
<rect x="465.14" y="242.3" width="13.04" height="9.88" fill="#6690c6"/>
<rect x="477.83" y="242.3" width="13.04" height="9.88" fill="#f3e6c8"/>
<rect x="490.52" y="242.3" width="13.04" height="9.88" fill="#e67e54"/>
<rect x="503.21" y="242.3" width="13.04" height="9.88" fill="#f4f0dc"/>
<rect x="515.9" y="242.3" width="13.04" height="9.88" fill="#f2deb0"/>
<rect x="528.59" y="242.3" width="13.04" height="9.88" fill="#eeb479"/>
<rect x="541.28" y="242.3" width="13.04" height="9.88" fill="#f4edd5"/>
<rect x="553.97" y="242.3" width="13.04" height="9.88" fill="#6690c6"/>
<rect x="566.66" y="242.3" width="13.04" height="9.88" fill="#f0ca90"/>
<rect x="579.35" y="242.3" width="13.04" height="9.88" fill="#f3f7ed"/>
<rect x="389" y="251.83" width="13.04" height="9.88" fill="#88aad3"/>
<rect x="401.69" y="251.83" width="13.04" height="9.88" fill="#cde1ee"/>
<rect x="414.38" y="251.83" width="13.04" height="9.88" fill="#c6dbeb"/>
<rect x="427.07" y="251.83" width="13.04" height="9.88" fill="#bfd5e9"/>
<rect x="439.76" y="251.83" width="13.04" height="9.88" fill="#7aa0cd"/>
<rect x="452.45" y="251.83" width="13.04" height="9.88" fill="#c6dbeb"/>
<rect x="465.14" y="251.83" width="13.04" height="9.88" fill="#8badd4"/>
<rect x="477.83" y="251.83" width="13.04" height="9.88" fill="#8badd4"/>
<rect x="490.52" y="251.83" width="13.04" height="9.88" fill="#deedf2"/>
<rect x="503.21" y="251.83" width="13.04" height="9.88" fill="#db4b33"/>
<rect x="515.9" y="251.83" width="13.04" height="9.88" fill="#6690c6"/>
<rect x="528.59" y="251.83" width="13.04" height="9.88" fill="#d8e9f1"/>
<rect x="541.28" y="251.83" width="13.04" height="9.88" fill="#efc78d"/>
<rect x="553.97" y="251.83" width="13.04" height="9.88" fill="#f4f0dc"/>
<rect x="566.66" y="251.83" width="13.04" height="9.88" fill="#eeac72"/>
<rect x="579.35" y="251.83" width="13.04" height="9.88" fill="#f1d49e"/>
<rect x="389" y="261.36" width="13.04" height="9.88" fill="#a8c4e0"/>
<rect x="401.69" y="261.36" width="13.04" height="9.88" fill="#b8cfe6"/>
<rect x="414.38" y="261.36" width="13.04" height="9.88" fill="#80a5d0"/>
<rect x="427.07" y="261.36" width="13.04" height="9.88" fill="#9cbadb"/>
<rect x="439.76" y="261.36" width="13.04" height="9.88" fill="#7ea3cf"/>
<rect x="452.45" y="261.36" width="13.04" height="9.88" fill="#f3f3e5"/>
<rect x="465.14" y="261.36" width="13.04" height="9.88" fill="#f3f7ed"/>
<rect x="477.83" y="261.36" width="13.04" height="9.88" fill="#80a5d0"/>
<rect x="490.52" y="261.36" width="13.04" height="9.88" fill="#c6dbeb"/>
<rect x="503.21" y="261.36" width="13.04" height="9.88" fill="#f4edd5"/>
<rect x="515.9" y="261.36" width="13.04" height="9.88" fill="#9cbadb"/>
<rect x="528.59" y="261.36" width="13.04" height="9.88" fill="#9cbadb"/>
<rect x="541.28" y="261.36" width="13.04" height="9.88" fill="#db4b33"/>
<rect x="553.97" y="261.36" width="13.04" height="9.88" fill="#f0cd94"/>
<rect x="566.66" y="261.36" width="13.04" height="9.88" fill="#ea9464"/>
<rect x="579.35" y="261.36" width="13.04" height="9.88" fill="#f3f7ed"/>
<rect x="389" y="270.89" width="13.04" height="9.88" fill="#80a5d0"/>
<rect x="401.69" y="270.89" width="13.04" height="9.88" fill="#f1d49e"/>
<rect x="414.38" y="270.89" width="13.04" height="9.88" fill="#5582c0"/>
<rect x="427.07" y="270.89" width="13.04" height="9.88" fill="#d3e5f0"/>
<rect x="439.76" y="270.89" width="13.04" height="9.88" fill="#6c95c8"/>
<rect x="452.45" y="270.89" width="13.04" height="9.88" fill="#edf7f5"/>
<rect x="465.14" y="270.89" width="13.04" height="9.88" fill="#e9f4f5"/>
<rect x="477.83" y="270.89" width="13.04" height="9.88" fill="#6690c6"/>
<rect x="490.52" y="270.89" width="13.04" height="9.88" fill="#f2dba8"/>
<rect x="503.21" y="270.89" width="13.04" height="9.88" fill="#f2d8a3"/>
<rect x="515.9" y="270.89" width="13.04" height="9.88" fill="#eeac72"/>
<rect x="528.59" y="270.89" width="13.04" height="9.88" fill="#f2dba8"/>
<rect x="541.28" y="270.89" width="13.04" height="9.88" fill="#b8cfe6"/>
<rect x="553.97" y="270.89" width="13.04" height="9.88" fill="#f3f7ed"/>
<rect x="566.66" y="270.89" width="13.04" height="9.88" fill="#f2deb0"/>
<rect x="579.35" y="270.89" width="13.04" height="9.88" fill="#f3e3c0"/>
<rect x="389" y="280.42" width="13.04" height="9.88" fill="#618bc4"/>
<rect x="401.69" y="280.42" width="13.04" height="9.88" fill="#c6dbeb"/>
<rect x="414.38" y="280.42" width="13.04" height="9.88" fill="#80a5d0"/>
<rect x="427.07" y="280.42" width="13.04" height="9.88" fill="#7ca2ce"/>
<rect x="439.76" y="280.42" width="13.04" height="9.88" fill="#95b5d8"/>
<rect x="452.45" y="280.42" width="13.04" height="9.88" fill="#cde1ee"/>
<rect x="465.14" y="280.42" width="13.04" height="9.88" fill="#84a8d2"/>
<rect x="477.83" y="280.42" width="13.04" height="9.88" fill="#f4edd5"/>
<rect x="490.52" y="280.42" width="13.04" height="9.88" fill="#eeac72"/>
<rect x="503.21" y="280.42" width="13.04" height="9.88" fill="#eeac72"/>
<rect x="515.9" y="280.42" width="13.04" height="9.88" fill="#e67e54"/>
<rect x="528.59" y="280.42" width="13.04" height="9.88" fill="#9cbadb"/>
<rect x="541.28" y="280.42" width="13.04" height="9.88" fill="#e9f4f5"/>
<rect x="553.97" y="280.42" width="13.04" height="9.88" fill="#e9f4f5"/>
<rect x="566.66" y="280.42" width="13.04" height="9.88" fill="#f2faf6"/>
<rect x="579.35" y="280.42" width="13.04" height="9.88" fill="#efc78d"/>
<rect x="389" y="289.95" width="13.04" height="9.88" fill="#7aa0cd"/>
<rect x="401.69" y="289.95" width="13.04" height="9.88" fill="#8fb0d6"/>
<rect x="414.38" y="289.95" width="13.04" height="9.88" fill="#8badd4"/>
<rect x="427.07" y="289.95" width="13.04" height="9.88" fill="#8badd4"/>
<rect x="439.76" y="289.95" width="13.04" height="9.88" fill="#789ecc"/>
<rect x="452.45" y="289.95" width="13.04" height="9.88" fill="#e4f1f4"/>
<rect x="465.14" y="289.95" width="13.04" height="9.88" fill="#6690c6"/>
<rect x="477.83" y="289.95" width="13.04" height="9.88" fill="#c6dbeb"/>
<rect x="490.52" y="289.95" width="13.04" height="9.88" fill="#eeb97e"/>
<rect x="503.21" y="289.95" width="13.04" height="9.88" fill="#f0ca90"/>
<rect x="515.9" y="289.95" width="13.04" height="9.88" fill="#f3f3e5"/>
<rect x="528.59" y="289.95" width="13.04" height="9.88" fill="#f2deb0"/>
<rect x="541.28" y="289.95" width="13.04" height="9.88" fill="#f3e6c8"/>
<rect x="553.97" y="289.95" width="13.04" height="9.88" fill="#eeac72"/>
<rect x="566.66" y="289.95" width="13.04" height="9.88" fill="#edf7f5"/>
<rect x="579.35" y="289.95" width="13.04" height="9.88" fill="#eeb479"/>
<rect x="389" y="299.48" width="13.04" height="9.88" fill="#a8c4e0"/>
<rect x="401.69" y="299.48" width="13.04" height="9.88" fill="#95b5d8"/>
<rect x="414.38" y="299.48" width="13.04" height="9.88" fill="#88aad3"/>
<rect x="427.07" y="299.48" width="13.04" height="9.88" fill="#95b5d8"/>
<rect x="439.76" y="299.48" width="13.04" height="9.88" fill="#618bc4"/>
<rect x="452.45" y="299.48" width="13.04" height="9.88" fill="#b0cae3"/>
<rect x="465.14" y="299.48" width="13.04" height="9.88" fill="#deedf2"/>
<rect x="477.83" y="299.48" width="13.04" height="9.88" fill="#80a5d0"/>
<rect x="490.52" y="299.48" width="13.04" height="9.88" fill="#e99060"/>
<rect x="503.21" y="299.48" width="13.04" height="9.88" fill="#eeb076"/>
<rect x="515.9" y="299.48" width="13.04" height="9.88" fill="#f3e6c8"/>
<rect x="528.59" y="299.48" width="13.04" height="9.88" fill="#f3e6c8"/>
<rect x="541.28" y="299.48" width="13.04" height="9.88" fill="#b8cfe6"/>
<rect x="553.97" y="299.48" width="13.04" height="9.88" fill="#efc288"/>
<rect x="566.66" y="299.48" width="13.04" height="9.88" fill="#f1d49e"/>
<rect x="579.35" y="299.48" width="13.04" height="9.88" fill="#f4edd5"/>
<rect x="389" y="309.01" width="13.04" height="9.88" fill="#88aad3"/>
<rect x="401.69" y="309.01" width="13.04" height="9.88" fill="#7ea3cf"/>
<rect x="414.38" y="309.01" width="13.04" height="9.88" fill="#c6dbeb"/>
<rect x="427.07" y="309.01" width="13.04" height="9.88" fill="#88aad3"/>
<rect x="439.76" y="309.01" width="13.04" height="9.88" fill="#7aa0cd"/>
<rect x="452.45" y="309.01" width="13.04" height="9.88" fill="#88aad3"/>
<rect x="465.14" y="309.01" width="13.04" height="9.88" fill="#88aad3"/>
<rect x="477.83" y="309.01" width="13.04" height="9.88" fill="#88aad3"/>
<rect x="490.52" y="309.01" width="13.04" height="9.88" fill="#eebe83"/>
<rect x="503.21" y="309.01" width="13.04" height="9.88" fill="#eebe83"/>
<rect x="515.9" y="309.01" width="13.04" height="9.88" fill="#efc288"/>
<rect x="528.59" y="309.01" width="13.04" height="9.88" fill="#eeb97e"/>
<rect x="541.28" y="309.01" width="13.04" height="9.88" fill="#f3e3c0"/>
<rect x="553.97" y="309.01" width="13.04" height="9.88" fill="#edf7f5"/>
<rect x="566.66" y="309.01" width="13.04" height="9.88" fill="#f2e0b8"/>
<rect x="579.35" y="309.01" width="13.04" height="9.88" fill="#f0d099"/>
<defs><linearGradient id="gcb" x1="0" x2="1" y1="0" y2="0"><stop offset="0" stop-color="#4670b0"/><stop offset="0.01" stop-color="#4670b0"/><stop offset="0.03" stop-color="#4670b0"/><stop offset="0.04" stop-color="#4771b0"/><stop offset="0.05" stop-color="#4771b0"/><stop offset="0.06" stop-color="#4771b0"/><stop offset="0.07" stop-color="#4771b1"/><stop offset="0.09" stop-color="#4771b1"/><stop offset="0.1" stop-color="#4872b1"/><stop offset="0.11" stop-color="#4872b1"/><stop offset="0.12" stop-color="#4872b1"/><stop offset="0.14" stop-color="#4872b1"/><stop offset="0.15" stop-color="#4872b1"/><stop offset="0.16" stop-color="#4872b1"/><stop offset="0.17" stop-color="#4973b1"/><stop offset="0.19" stop-color="#4973b1"/><stop offset="0.2" stop-color="#4973b1"/><stop offset="0.21" stop-color="#4973b2"/><stop offset="0.23" stop-color="#4973b2"/><stop offset="0.24" stop-color="#4973b2"/><stop offset="0.25" stop-color="#4a74b2"/><stop offset="0.26" stop-color="#4a74b2"/><stop offset="0.28" stop-color="#4b75b2"/><stop offset="0.29" stop-color="#537cb6"/><stop offset="0.3" stop-color="#5c83ba"/><stop offset="0.31" stop-color="#648abe"/><stop offset="0.33" stop-color="#6d91c2"/><stop offset="0.34" stop-color="#7598c6"/><stop offset="0.35" stop-color="#7e9fc9"/><stop offset="0.36" stop-color="#86a6cd"/><stop offset="0.38" stop-color="#8fadd1"/><stop offset="0.39" stop-color="#98b4d5"/><stop offset="0.4" stop-color="#a0bbd8"/><stop offset="0.41" stop-color="#a8c1db"/><stop offset="0.42" stop-color="#b1c7dd"/><stop offset="0.44" stop-color="#b9cee0"/><stop offset="0.45" stop-color="#c1d4e3"/><stop offset="0.46" stop-color="#cadbe5"/><stop offset="0.47" stop-color="#d2e1e8"/><stop offset="0.49" stop-color="#dae7eb"/><stop offset="0.5" stop-color="#e3eeed"/><stop offset="0.51" stop-color="#e8f1ed"/><stop offset="0.53" stop-color="#e9eee5"/><stop offset="0.54" stop-color="#e9ecde"/><stop offset="0.55" stop-color="#e9e9d7"/><stop offset="0.56" stop-color="#eae6d0"/><stop offset="0.57" stop-color="#eae4c9"/><stop offset="0.59" stop-color="#ebe1c2"/><stop offset="0.6" stop-color="#ebdeba"/><stop offset="0.61" stop-color="#ecdcb3"/><stop offset="0.62" stop-color="#ecd9ac"/><stop offset="0.64" stop-color="#ecd5a6"/><stop offset="0.65" stop-color="#ebd1a0"/><stop offset="0.66" stop-color="#ebcd9a"/><stop offset="0.68" stop-color="#eac994"/><stop offset="0.69" stop-color="#eac58e"/><stop offset="0.7" stop-color="#e9c188"/><stop offset="0.71" stop-color="#e9bd82"/><stop offset="0.72" stop-color="#e9b97c"/><stop offset="0.74" stop-color="#e8b676"/><stop offset="0.75" stop-color="#e8b172"/><stop offset="0.76" stop-color="#e7ab6d"/><stop offset="0.78" stop-color="#e6a669"/><stop offset="0.79" stop-color="#e6a165"/><stop offset="0.8" stop-color="#e59b61"/><stop offset="0.81" stop-color="#e4965d"/><stop offset="0.82" stop-color="#e49159"/><stop offset="0.84" stop-color="#e38b55"/><stop offset="0.85" stop-color="#e28651"/><stop offset="0.86" stop-color="#e2804d"/><stop offset="0.88" stop-color="#e07849"/><stop offset="0.89" stop-color="#df7046"/><stop offset="0.9" stop-color="#dd6842"/><stop offset="0.91" stop-color="#dc603f"/><stop offset="0.93" stop-color="#da593b"/><stop offset="0.94" stop-color="#d95137"/><stop offset="0.95" stop-color="#d74934"/><stop offset="0.96" stop-color="#d64130"/><stop offset="0.97" stop-color="#d4392c"/><stop offset="0.99" stop-color="#d3352b"/><stop offset="1" stop-color="#d23129"/></linearGradient></defs>
<rect x="388.5" y="139.5" width="203.3" height="4.8" fill="url(#gcb)"/>
<text x="396.5" y="136.9" font-size="9.8" text-anchor="middle" fill="#1a1a1a" stroke="#1a1a1a" stroke-width="0.24">-2</text>
<text x="444.2" y="136.9" font-size="9.8" text-anchor="middle" fill="#1a1a1a" stroke="#1a1a1a" stroke-width="0.24">-1</text>
<text x="491.6" y="136.9" font-size="9.8" text-anchor="middle" fill="#1a1a1a" stroke="#1a1a1a" stroke-width="0.24">0</text>
<text x="539.3" y="136.9" font-size="9.8" text-anchor="middle" fill="#1a1a1a" stroke="#1a1a1a" stroke-width="0.24">1</text>
<text x="586.8" y="136.9" font-size="9.8" text-anchor="middle" fill="#1a1a1a" stroke="#1a1a1a" stroke-width="0.24">2</text>
<text x="594.9" y="144.6" font-size="9.3" font-weight="bold" fill="#1a1a1a">Group</text>
<text x="594.9" y="155.06" font-size="9.2" fill="#1a1a1a" stroke="#1a1a1a" stroke-width="0.23">Eubacterium</text>
<text x="594.9" y="164.59" font-size="9.2" fill="#1a1a1a" stroke="#1a1a1a" stroke-width="0.23">Roseburia</text>
<text x="594.9" y="174.12" font-size="9.2" fill="#1a1a1a" stroke="#1a1a1a" stroke-width="0.23">UCG-005</text>
<text x="594.9" y="183.66" font-size="9.2" fill="#1a1a1a" stroke="#1a1a1a" stroke-width="0.23">Ruminococcus</text>
<text x="594.9" y="193.19" font-size="9.2" fill="#d42f2a" stroke="#d42f2a" stroke-width="0.23">Helicobacter</text>
<text x="594.9" y="202.72" font-size="9.2" fill="#1a1a1a" stroke="#1a1a1a" stroke-width="0.23">Lachnospiraceae</text>
<text x="594.9" y="212.25" font-size="9.2" fill="#1a1a1a" stroke="#1a1a1a" stroke-width="0.23">Tyzzerella</text>
<text x="594.9" y="221.78" font-size="9.2" fill="#1a1a1a" stroke="#1a1a1a" stroke-width="0.23">Dechloromonas</text>
<text x="594.9" y="231.31" font-size="9.2" fill="#1a1a1a" stroke="#1a1a1a" stroke-width="0.23">Aeromonas</text>
<text x="594.9" y="240.84" font-size="9.2" fill="#1a1a1a" stroke="#1a1a1a" stroke-width="0.23">Shewanella</text>
<text x="594.9" y="250.37" font-size="9.2" fill="#d42f2a" stroke="#d42f2a" stroke-width="0.23">Alistipes</text>
<text x="594.9" y="259.9" font-size="9.2" fill="#d42f2a" stroke="#d42f2a" stroke-width="0.23">Bacteroides</text>
<text x="594.9" y="269.43" font-size="9.2" fill="#d42f2a" stroke="#d42f2a" stroke-width="0.23">Parabacteroides</text>
<text x="594.9" y="278.95" font-size="9.2" fill="#d42f2a" stroke="#d42f2a" stroke-width="0.23">Muribaculaceae</text>
<text x="594.9" y="288.49" font-size="9.2" fill="#1a1a1a" stroke="#1a1a1a" stroke-width="0.23">Cetobacterium</text>
<text x="594.9" y="298.02" font-size="9.2" fill="#1a1a1a" stroke="#1a1a1a" stroke-width="0.23">Erysipelatoclostridium</text>
<text x="594.9" y="307.55" font-size="9.2" fill="#1a1a1a" stroke="#1a1a1a" stroke-width="0.23">Turicibacter</text>
<text x="594.9" y="317.07" font-size="9.2" fill="#1a1a1a" stroke="#1a1a1a" stroke-width="0.23">Thiobacillus</text>
<text x="401.65" y="324.4" font-size="9.3" text-anchor="end" fill="#1a1a1a" stroke="#1a1a1a" stroke-width="0.23" transform="rotate(-45 401.65 324.4)">CK1</text>
<text x="414.34" y="324.4" font-size="9.3" text-anchor="end" fill="#1a1a1a" stroke="#1a1a1a" stroke-width="0.23" transform="rotate(-45 414.34 324.4)">CK2</text>
<text x="427.03" y="324.4" font-size="9.3" text-anchor="end" fill="#1a1a1a" stroke="#1a1a1a" stroke-width="0.23" transform="rotate(-45 427.03 324.4)">CK3</text>
<text x="439.72" y="324.4" font-size="9.3" text-anchor="end" fill="#1a1a1a" stroke="#1a1a1a" stroke-width="0.23" transform="rotate(-45 439.72 324.4)">CK4</text>
<text x="452.41" y="324.4" font-size="9.3" text-anchor="end" fill="#1a1a1a" stroke="#1a1a1a" stroke-width="0.23" transform="rotate(-45 452.41 324.4)">CK5</text>
<text x="465.1" y="324.4" font-size="9.3" text-anchor="end" fill="#1a1a1a" stroke="#1a1a1a" stroke-width="0.23" transform="rotate(-45 465.1 324.4)">CK6</text>
<text x="477.79" y="324.4" font-size="9.3" text-anchor="end" fill="#1a1a1a" stroke="#1a1a1a" stroke-width="0.23" transform="rotate(-45 477.79 324.4)">CK7</text>
<text x="490.48" y="324.4" font-size="9.3" text-anchor="end" fill="#1a1a1a" stroke="#1a1a1a" stroke-width="0.23" transform="rotate(-45 490.48 324.4)">CK8</text>
<text x="503.17" y="324.4" font-size="9.3" text-anchor="end" fill="#1a1a1a" stroke="#1a1a1a" stroke-width="0.23" transform="rotate(-45 503.17 324.4)">Ric1</text>
<text x="515.86" y="324.4" font-size="9.3" text-anchor="end" fill="#1a1a1a" stroke="#1a1a1a" stroke-width="0.23" transform="rotate(-45 515.86 324.4)">Ric2</text>
<text x="528.54" y="324.4" font-size="9.3" text-anchor="end" fill="#1a1a1a" stroke="#1a1a1a" stroke-width="0.23" transform="rotate(-45 528.54 324.4)">Ric3</text>
<text x="541.23" y="324.4" font-size="9.3" text-anchor="end" fill="#1a1a1a" stroke="#1a1a1a" stroke-width="0.23" transform="rotate(-45 541.23 324.4)">Ric4</text>
<text x="553.92" y="324.4" font-size="9.3" text-anchor="end" fill="#1a1a1a" stroke="#1a1a1a" stroke-width="0.23" transform="rotate(-45 553.92 324.4)">Ric5</text>
<text x="566.62" y="324.4" font-size="9.3" text-anchor="end" fill="#1a1a1a" stroke="#1a1a1a" stroke-width="0.23" transform="rotate(-45 566.62 324.4)">Ric6</text>
<text x="579.3" y="324.4" font-size="9.3" text-anchor="end" fill="#1a1a1a" stroke="#1a1a1a" stroke-width="0.23" transform="rotate(-45 579.3 324.4)">Ric7</text>
<text x="591.99" y="324.4" font-size="9.3" text-anchor="end" fill="#1a1a1a" stroke="#1a1a1a" stroke-width="0.23" transform="rotate(-45 591.99 324.4)">Ric8</text>
<path d="M388.9 161.29H375.2V170.82H388.9M388.9 151.76H372.25V166.06H375.2M388.9 199.41H376.57V208.94H388.9M388.9 189.88H371.67V204.18H376.57M388.9 180.35H368.73V197.03H371.67M372.25 158.91H365.78V188.69H368.73M388.9 218.47H373.63V228H388.9M388.9 237.53H370.29V247.06H388.9M373.63 223.24H368.33V242.3H370.29M388.9 256.6H374.61V266.12H388.9M388.9 275.65H372.25V285.19H388.9M388.9 304.25H377.55V313.77H388.9M388.9 294.72H376.18V309.01H377.55M372.25 280.42H370.69V301.86H376.18M374.61 261.36H365.78V291.14H370.69M368.33 232.77H363.82V276.25H365.78M365.78 173.8H355.98V254.51H363.82M355.98 214.16H354.48" stroke="#6a6a6a" stroke-width="0.85" fill="none"/>
<text x="0.5" y="354.7" font-size="15.8" fill="#1a1a1a" stroke="#1a1a1a" stroke-width="0.26">H</text>
<text x="109.6" y="352.8" font-size="10.7" text-anchor="middle" fill="#1a1a1a" stroke="#1a1a1a" stroke-width="0.26">PCA</text>
<line x1="49.6" y1="404" x2="171.4" y2="404" stroke="#cfcfcf" stroke-width="0.6" stroke-dasharray="1.2 1.2"/>
<line x1="110.2" y1="359.8" x2="110.2" y2="451.3" stroke="#cfcfcf" stroke-width="0.6" stroke-dasharray="1.2 1.2"/>
<ellipse cx="113.0" cy="412.1" rx="53.2" ry="35.0" transform="rotate(-8 113 412.1)" fill="#bdd2e7"/>
<ellipse cx="106.5" cy="394.6" rx="41.5" ry="28.3" transform="rotate(-4 106.5 394.6)" fill="#df8c43" fill-opacity="0.41"/>
<rect x="107.25" y="385.15" width="2.5" height="2.5" fill="#4a6690"/>
<rect x="102.75" y="408.45" width="2.5" height="2.5" fill="#4a6690"/>
<rect x="118.45" y="405.55" width="2.5" height="2.5" fill="#4a6690"/>
<rect x="126.25" y="405.55" width="2.5" height="2.5" fill="#4a6690"/>
<rect x="132.95" y="408.25" width="2.5" height="2.5" fill="#4a6690"/>
<rect x="107.85" y="413.15" width="2.5" height="2.5" fill="#4a6690"/>
<rect x="66.15" y="427.45" width="2.5" height="2.5" fill="#2f63ad"/>
<rect x="131.95" y="432.15" width="2.5" height="2.5" fill="#2f63ad"/>
<rect x="49.6" y="359.8" width="121.8" height="91.5" fill="none" stroke="#9a9a9a" stroke-width="0.9"/>
<text x="44" y="363.9" font-size="10.5" text-anchor="end" fill="#1a1a1a" stroke="#1a1a1a" stroke-width="0.26">100</text>
<text x="44" y="385.8" font-size="10.5" text-anchor="end" fill="#1a1a1a" stroke="#1a1a1a" stroke-width="0.26">50</text>
<text x="44" y="407.6" font-size="10.5" text-anchor="end" fill="#1a1a1a" stroke="#1a1a1a" stroke-width="0.26">0</text>
<text x="44" y="431.1" font-size="10.5" text-anchor="end" fill="#1a1a1a" stroke="#1a1a1a" stroke-width="0.26">-50</text>
<text x="44" y="453.9" font-size="10.5" text-anchor="end" fill="#1a1a1a" stroke="#1a1a1a" stroke-width="0.26">-100</text>
<text x="49.6" y="463.3" font-size="10.5" text-anchor="middle" fill="#1a1a1a" stroke="#1a1a1a" stroke-width="0.26">-150</text>
<text x="72.5" y="463.3" font-size="10.5" text-anchor="middle" fill="#1a1a1a" stroke="#1a1a1a" stroke-width="0.26">-100</text>
<text x="94" y="463.3" font-size="10.5" text-anchor="middle" fill="#1a1a1a" stroke="#1a1a1a" stroke-width="0.26">-50</text>
<text x="109.8" y="463.3" font-size="10.5" text-anchor="middle" fill="#1a1a1a" stroke="#1a1a1a" stroke-width="0.26">0</text>
<text x="126.5" y="463.3" font-size="10.5" text-anchor="middle" fill="#1a1a1a" stroke="#1a1a1a" stroke-width="0.26">50</text>
<text x="148.7" y="463.3" font-size="10.5" text-anchor="middle" fill="#1a1a1a" stroke="#1a1a1a" stroke-width="0.26">100</text>
<text x="171" y="463.3" font-size="10.5" text-anchor="middle" fill="#1a1a1a" stroke="#1a1a1a" stroke-width="0.26">150</text>
<text x="109" y="477" font-size="10.7" text-anchor="middle" fill="#1a1a1a" stroke="#1a1a1a" stroke-width="0.26">PC1 (26.8%)</text>
<text x="8" y="403.8" font-size="10.7" text-anchor="middle" fill="#1a1a1a" stroke="#1a1a1a" stroke-width="0.26" transform="rotate(-90 8 403.8)">PC2</text>
<text x="21.2" y="403.8" font-size="10.7" text-anchor="middle" fill="#1a1a1a" stroke="#1a1a1a" stroke-width="0.26" transform="rotate(-90 21.2 403.8)">(12.9%)</text>
<path d="M100.5 378.3L102.4 381.6L98.6 381.6Z" stroke="none" stroke-width="0" fill="#ee6a1c"/>
<path d="M123.4 380.2L125.3 383.5L121.5 383.5Z" stroke="none" stroke-width="0" fill="#ee6a1c"/>
<path d="M126.7 385.9L128.6 389.2L124.8 389.2Z" stroke="none" stroke-width="0" fill="#ee6a1c"/>
<path d="M110.1 389.4L112 392.7L108.2 392.7Z" stroke="none" stroke-width="0" fill="#ee6a1c"/>
<path d="M71.3 389.4L73.2 392.7L69.4 392.7Z" stroke="none" stroke-width="0" fill="#ee6a1c"/>
<path d="M102.3 401.2L104.2 404.5L100.4 404.5Z" stroke="none" stroke-width="0" fill="#ee6a1c"/>
<path d="M109.5 401.9L111.4 405.2L107.6 405.2Z" stroke="none" stroke-width="0" fill="#ee6a1c"/>
<path d="M111.3 412.5L113.2 415.8L109.4 415.8Z" stroke="none" stroke-width="0" fill="#ee6a1c"/>
<rect x="150.6" y="435.7" width="2.4" height="2.4" fill="#2f63ad"/>
<path d="M151.8 443.6L153.6 446.7L150 446.7Z" stroke="none" stroke-width="0" fill="#ee6a1c"/>
<text x="155.3" y="440.2" font-size="9" fill="#1a1a1a" stroke="#1a1a1a" stroke-width="0.22">CK</text>
<text x="155.3" y="448.9" font-size="9" fill="#1a1a1a" stroke="#1a1a1a" stroke-width="0.22">Ric</text>
<text x="200.2" y="353.2" font-size="15.8" fill="#1a1a1a" stroke="#1a1a1a" stroke-width="0.26">I</text>
<text x="273.3" y="352.7" font-size="10.7" text-anchor="middle" fill="#1a1a1a" stroke="#1a1a1a" stroke-width="0.26">Volcano Plot</text>
<circle cx="259.12" cy="435.58" r="0.4" fill="#d2dce8"/>
<circle cx="236.67" cy="430.55" r="0.4" fill="#d2dce8"/>
<circle cx="278.05" cy="444.92" r="0.4" fill="#d2dce8"/>
<circle cx="275.51" cy="444.49" r="0.4" fill="#d2dce8"/>
<circle cx="233.55" cy="443.13" r="0.4" fill="#d2dce8"/>
<circle cx="238.3" cy="446.07" r="0.4" fill="#d2dce8"/>
<circle cx="268.11" cy="444.78" r="0.4" fill="#d2dce8"/>
<circle cx="250.14" cy="441.5" r="0.4" fill="#d2dce8"/>
<circle cx="286.23" cy="429.59" r="0.4" fill="#d2dce8"/>
<circle cx="265.62" cy="441.99" r="0.4" fill="#d2dce8"/>
<circle cx="317.38" cy="419.72" r="0.4" fill="#d2dce8"/>
<circle cx="256.06" cy="439.76" r="0.4" fill="#d2dce8"/>
<circle cx="243.08" cy="438.79" r="0.4" fill="#d2dce8"/>
<circle cx="303.08" cy="439.63" r="0.4" fill="#d2dce8"/>
<circle cx="246.34" cy="429.56" r="0.4" fill="#d2dce8"/>
<circle cx="263.46" cy="437.79" r="0.4" fill="#d2dce8"/>
<circle cx="279.11" cy="443.5" r="0.4" fill="#d2dce8"/>
<circle cx="248.59" cy="446.36" r="0.4" fill="#d2dce8"/>
<circle cx="290.96" cy="436.58" r="0.4" fill="#d2dce8"/>
<circle cx="282.49" cy="442.62" r="0.4" fill="#d2dce8"/>
<circle cx="270.67" cy="440.11" r="0.4" fill="#d2dce8"/>
<circle cx="292.62" cy="422.77" r="0.4" fill="#d2dce8"/>
<circle cx="252" cy="431.9" r="0.4" fill="#d2dce8"/>
<circle cx="308.35" cy="440.07" r="0.4" fill="#d2dce8"/>
<circle cx="295.34" cy="438.38" r="0.4" fill="#d2dce8"/>
<circle cx="240.74" cy="407.18" r="0.4" fill="#d2dce8"/>
<circle cx="267.54" cy="448.01" r="0.4" fill="#d2dce8"/>
<circle cx="273.86" cy="439.71" r="0.4" fill="#d2dce8"/>
<circle cx="233.7" cy="435.74" r="0.4" fill="#d2dce8"/>
<circle cx="281.37" cy="425.97" r="0.4" fill="#d2dce8"/>
<circle cx="308.38" cy="439.29" r="0.4" fill="#d2dce8"/>
<circle cx="283.28" cy="426.9" r="0.4" fill="#d2dce8"/>
<circle cx="281.98" cy="420.49" r="0.4" fill="#d2dce8"/>
<circle cx="314.56" cy="440.52" r="0.4" fill="#d2dce8"/>
<circle cx="272.54" cy="445.65" r="0.4" fill="#d2dce8"/>
<circle cx="292.84" cy="443.8" r="0.4" fill="#d2dce8"/>
<circle cx="287.99" cy="420.29" r="0.4" fill="#d2dce8"/>
<circle cx="255.61" cy="447.18" r="0.4" fill="#d2dce8"/>
<circle cx="264.65" cy="446.82" r="0.4" fill="#d2dce8"/>
<circle cx="271.43" cy="445.58" r="0.4" fill="#d2dce8"/>
<circle cx="245.21" cy="444.49" r="0.4" fill="#d2dce8"/>
<circle cx="298.8" cy="444.86" r="0.4" fill="#d2dce8"/>
<circle cx="241.75" cy="448.17" r="0.4" fill="#d2dce8"/>
<circle cx="308.02" cy="433.32" r="0.4" fill="#d2dce8"/>
<circle cx="237.4" cy="430.24" r="0.4" fill="#d2dce8"/>
<circle cx="309.09" cy="442.4" r="0.4" fill="#d2dce8"/>
<circle cx="303.36" cy="440.37" r="0.4" fill="#d2dce8"/>
<circle cx="267.29" cy="439.17" r="0.4" fill="#d2dce8"/>
<circle cx="262.24" cy="419.95" r="0.4" fill="#d2dce8"/>
<circle cx="243.68" cy="423.06" r="0.4" fill="#d2dce8"/>
<circle cx="245.94" cy="447.15" r="0.4" fill="#d2dce8"/>
<circle cx="273.51" cy="437.43" r="0.4" fill="#d2dce8"/>
<circle cx="282.81" cy="448.29" r="0.4" fill="#d2dce8"/>
<circle cx="267.61" cy="447.03" r="0.4" fill="#d2dce8"/>
<circle cx="263.17" cy="414.14" r="0.4" fill="#d2dce8"/>
<circle cx="291.86" cy="433.23" r="0.4" fill="#d2dce8"/>
<circle cx="276.23" cy="431.58" r="0.4" fill="#d2dce8"/>
<circle cx="235.02" cy="433.08" r="0.4" fill="#d2dce8"/>
<circle cx="310.53" cy="442.62" r="0.4" fill="#d2dce8"/>
<circle cx="301.45" cy="418.08" r="0.4" fill="#d2dce8"/>
<circle cx="265.24" cy="442.7" r="0.4" fill="#d2dce8"/>
<circle cx="286.84" cy="444.2" r="0.4" fill="#d2dce8"/>
<circle cx="235.76" cy="438.95" r="0.4" fill="#d2dce8"/>
<circle cx="244.69" cy="444.14" r="0.4" fill="#d2dce8"/>
<circle cx="260.57" cy="448.09" r="0.4" fill="#d2dce8"/>
<circle cx="243.71" cy="448.29" r="0.4" fill="#d2dce8"/>
<circle cx="239.26" cy="446.15" r="0.4" fill="#d2dce8"/>
<circle cx="308.28" cy="445.8" r="0.4" fill="#d2dce8"/>
<circle cx="285.04" cy="441.53" r="0.4" fill="#d2dce8"/>
<circle cx="261.22" cy="439.12" r="0.4" fill="#d2dce8"/>
<circle cx="262.72" cy="427.3" r="0.4" fill="#d2dce8"/>
<circle cx="318.88" cy="427.86" r="0.4" fill="#d2dce8"/>
<circle cx="271.81" cy="442.01" r="0.4" fill="#d2dce8"/>
<circle cx="239.33" cy="447.75" r="0.4" fill="#d2dce8"/>
<circle cx="260.8" cy="445.76" r="0.4" fill="#d2dce8"/>
<circle cx="244.62" cy="420.06" r="0.4" fill="#d2dce8"/>
<circle cx="232.26" cy="430.71" r="0.4" fill="#d2dce8"/>
<circle cx="243.29" cy="442.77" r="0.4" fill="#d2dce8"/>
<circle cx="278.71" cy="430.1" r="0.4" fill="#d2dce8"/>
<circle cx="317.58" cy="445.26" r="0.4" fill="#d2dce8"/>
<circle cx="307.29" cy="444.49" r="0.4" fill="#d2dce8"/>
<circle cx="262.95" cy="437.28" r="0.4" fill="#d2dce8"/>
<circle cx="245.12" cy="445.83" r="0.4" fill="#d2dce8"/>
<circle cx="299.77" cy="429.9" r="0.4" fill="#d2dce8"/>
<circle cx="259.64" cy="443.74" r="0.4" fill="#d2dce8"/>
<circle cx="318.15" cy="421.12" r="0.4" fill="#d2dce8"/>
<circle cx="306.34" cy="438.75" r="0.4" fill="#d2dce8"/>
<circle cx="296.27" cy="422.14" r="0.4" fill="#d2dce8"/>
<circle cx="250.45" cy="434.29" r="0.4" fill="#d2dce8"/>
<circle cx="232.79" cy="446.83" r="0.4" fill="#d2dce8"/>
<circle cx="232.69" cy="446.24" r="0.4" fill="#d2dce8"/>
<circle cx="292.04" cy="436.87" r="0.4" fill="#d2dce8"/>
<circle cx="315.62" cy="414.72" r="0.4" fill="#d2dce8"/>
<circle cx="318.43" cy="436.8" r="0.4" fill="#d2dce8"/>
<circle cx="315.48" cy="441.35" r="0.4" fill="#d2dce8"/>
<circle cx="250.46" cy="440.36" r="0.4" fill="#d2dce8"/>
<circle cx="247.77" cy="442.41" r="0.4" fill="#d2dce8"/>
<circle cx="310.6" cy="428.08" r="0.4" fill="#d2dce8"/>
<circle cx="305.25" cy="426.55" r="0.4" fill="#d2dce8"/>
<circle cx="301.61" cy="445.57" r="0.4" fill="#d2dce8"/>
<circle cx="237.77" cy="430.7" r="0.4" fill="#d2dce8"/>
<circle cx="300.06" cy="420.28" r="0.4" fill="#d2dce8"/>
<circle cx="297.19" cy="438.99" r="0.4" fill="#d2dce8"/>
<circle cx="300.67" cy="447.09" r="0.4" fill="#d2dce8"/>
<circle cx="259.89" cy="435.71" r="0.4" fill="#d2dce8"/>
<circle cx="265.55" cy="410.01" r="0.4" fill="#d2dce8"/>
<circle cx="266.04" cy="425.41" r="0.4" fill="#d2dce8"/>
<circle cx="245.38" cy="440.42" r="0.4" fill="#d2dce8"/>
<circle cx="241.54" cy="429.28" r="0.4" fill="#d2dce8"/>
<circle cx="302.22" cy="421.68" r="0.4" fill="#d2dce8"/>
<circle cx="243.25" cy="428.77" r="0.4" fill="#d2dce8"/>
<circle cx="288.89" cy="410.76" r="0.4" fill="#d2dce8"/>
<circle cx="261.49" cy="440.75" r="0.4" fill="#d2dce8"/>
<circle cx="231.47" cy="445.98" r="0.4" fill="#d2dce8"/>
<circle cx="316.9" cy="437.48" r="0.4" fill="#d2dce8"/>
<circle cx="313.57" cy="433.44" r="0.4" fill="#d2dce8"/>
<circle cx="268.94" cy="428.78" r="0.4" fill="#d2dce8"/>
<circle cx="249.05" cy="427.96" r="0.4" fill="#d2dce8"/>
<circle cx="252.69" cy="445.4" r="0.4" fill="#d2dce8"/>
<circle cx="282.57" cy="437.57" r="0.4" fill="#d2dce8"/>
<circle cx="253.36" cy="441.39" r="0.4" fill="#d2dce8"/>
<circle cx="311.46" cy="444.49" r="0.4" fill="#d2dce8"/>
<circle cx="261.79" cy="429.05" r="0.4" fill="#d2dce8"/>
<circle cx="310.95" cy="443.19" r="0.4" fill="#d2dce8"/>
<circle cx="267.76" cy="432.86" r="0.4" fill="#d2dce8"/>
<circle cx="277.69" cy="439.56" r="0.4" fill="#d2dce8"/>
<circle cx="276.95" cy="432.2" r="0.4" fill="#d2dce8"/>
<circle cx="246.55" cy="446.49" r="0.4" fill="#d2dce8"/>
<circle cx="230.55" cy="445.57" r="0.4" fill="#d2dce8"/>
<circle cx="272.48" cy="439.52" r="0.4" fill="#d2dce8"/>
<circle cx="294.96" cy="435.78" r="0.4" fill="#d2dce8"/>
<circle cx="276.49" cy="443.73" r="0.4" fill="#d2dce8"/>
<circle cx="279.8" cy="446.87" r="0.4" fill="#d2dce8"/>
<circle cx="280.23" cy="441.39" r="0.4" fill="#d2dce8"/>
<circle cx="252.39" cy="444.01" r="0.4" fill="#d2dce8"/>
<circle cx="275.54" cy="422.72" r="0.4" fill="#d2dce8"/>
<circle cx="280.36" cy="446.3" r="0.4" fill="#d2dce8"/>
<circle cx="269.78" cy="415.03" r="0.4" fill="#d2dce8"/>
<circle cx="284.9" cy="430.26" r="0.4" fill="#d2dce8"/>
<circle cx="292.06" cy="447.77" r="0.4" fill="#d2dce8"/>
<circle cx="270.59" cy="431.5" r="0.4" fill="#d2dce8"/>
<circle cx="314.28" cy="444.81" r="0.4" fill="#d2dce8"/>
<circle cx="292.64" cy="422.58" r="0.4" fill="#d2dce8"/>
<circle cx="253.38" cy="423.07" r="0.4" fill="#d2dce8"/>
<circle cx="280.16" cy="421.22" r="0.4" fill="#d2dce8"/>
<circle cx="242.45" cy="438.28" r="0.4" fill="#d2dce8"/>
<circle cx="241.06" cy="442.91" r="0.4" fill="#d2dce8"/>
<circle cx="251.69" cy="446.31" r="0.4" fill="#d2dce8"/>
<circle cx="236.73" cy="435.55" r="0.4" fill="#d2dce8"/>
<circle cx="310.3" cy="425.21" r="0.4" fill="#d2dce8"/>
<circle cx="243.99" cy="443.7" r="0.4" fill="#d2dce8"/>
<circle cx="242.97" cy="426.65" r="0.4" fill="#d2dce8"/>
<circle cx="309.04" cy="437.95" r="0.4" fill="#d2dce8"/>
<circle cx="315.26" cy="446.24" r="0.4" fill="#d2dce8"/>
<circle cx="265.76" cy="402.64" r="0.4" fill="#d2dce8"/>
<circle cx="304.54" cy="444.73" r="0.4" fill="#d2dce8"/>
<circle cx="244.62" cy="431.82" r="0.4" fill="#d2dce8"/>
<circle cx="260.48" cy="440.79" r="0.4" fill="#d2dce8"/>
<circle cx="247.68" cy="438.28" r="0.4" fill="#d2dce8"/>
<circle cx="231.94" cy="426.37" r="0.4" fill="#d2dce8"/>
<circle cx="279.68" cy="445.71" r="0.4" fill="#d2dce8"/>
<circle cx="259.8" cy="447.34" r="0.4" fill="#d2dce8"/>
<circle cx="285.92" cy="442.89" r="0.4" fill="#d2dce8"/>
<circle cx="318.17" cy="447.97" r="0.4" fill="#d2dce8"/>
<circle cx="300.6" cy="441.39" r="0.4" fill="#d2dce8"/>
<circle cx="253.91" cy="447.14" r="0.4" fill="#d2dce8"/>
<circle cx="233.74" cy="446.22" r="0.4" fill="#d2dce8"/>
<circle cx="241.77" cy="436.57" r="0.4" fill="#d2dce8"/>
<circle cx="267.91" cy="424.62" r="0.4" fill="#d2dce8"/>
<circle cx="253.29" cy="433.6" r="0.4" fill="#d2dce8"/>
<circle cx="243.54" cy="431.19" r="0.4" fill="#d2dce8"/>
<circle cx="292.75" cy="438.82" r="0.4" fill="#d2dce8"/>
<circle cx="238.19" cy="426.77" r="0.4" fill="#d2dce8"/>
<circle cx="268.18" cy="440.22" r="0.4" fill="#d2dce8"/>
<circle cx="236.67" cy="428.5" r="0.4" fill="#d2dce8"/>
<circle cx="301.79" cy="440.28" r="0.4" fill="#d2dce8"/>
<circle cx="237.68" cy="444.92" r="0.4" fill="#d2dce8"/>
<circle cx="307.25" cy="443.98" r="0.4" fill="#d2dce8"/>
<circle cx="270.72" cy="438.19" r="0.4" fill="#d2dce8"/>
<circle cx="312.95" cy="432.11" r="0.4" fill="#d2dce8"/>
<circle cx="254.12" cy="435.65" r="0.4" fill="#d2dce8"/>
<circle cx="251.49" cy="434.95" r="0.4" fill="#d2dce8"/>
<circle cx="239.97" cy="445.83" r="0.4" fill="#d2dce8"/>
<circle cx="248.22" cy="444.26" r="0.4" fill="#d2dce8"/>
<circle cx="258.06" cy="439.74" r="0.4" fill="#d2dce8"/>
<circle cx="256.09" cy="424.34" r="0.4" fill="#d2dce8"/>
<circle cx="274.86" cy="442.28" r="0.4" fill="#d2dce8"/>
<circle cx="231.82" cy="435.83" r="0.4" fill="#d2dce8"/>
<circle cx="252.57" cy="423.9" r="0.4" fill="#d2dce8"/>
<circle cx="279.41" cy="446.03" r="0.4" fill="#d2dce8"/>
<circle cx="247.12" cy="413.46" r="0.4" fill="#d2dce8"/>
<circle cx="239.69" cy="442.81" r="0.4" fill="#d2dce8"/>
<circle cx="303.33" cy="432.28" r="0.4" fill="#d2dce8"/>
<circle cx="304.73" cy="441.08" r="0.4" fill="#d2dce8"/>
<circle cx="265.3" cy="425.31" r="0.4" fill="#d2dce8"/>
<circle cx="317.93" cy="447.43" r="0.4" fill="#d2dce8"/>
<circle cx="260.8" cy="436.67" r="0.4" fill="#d2dce8"/>
<circle cx="286.99" cy="427.78" r="0.4" fill="#d2dce8"/>
<circle cx="266.34" cy="445.49" r="0.4" fill="#d2dce8"/>
<circle cx="241.79" cy="444.26" r="0.4" fill="#d2dce8"/>
<circle cx="236.52" cy="447.73" r="0.4" fill="#d2dce8"/>
<circle cx="244.78" cy="436.78" r="0.4" fill="#d2dce8"/>
<circle cx="237.74" cy="431.78" r="0.4" fill="#d2dce8"/>
<circle cx="290.08" cy="422.67" r="0.4" fill="#d2dce8"/>
<circle cx="255.38" cy="447.78" r="0.4" fill="#d2dce8"/>
<circle cx="271.23" cy="435.8" r="0.4" fill="#d2dce8"/>
<circle cx="244.27" cy="437.24" r="0.4" fill="#d2dce8"/>
<circle cx="316.09" cy="444.45" r="0.4" fill="#d2dce8"/>
<circle cx="317.06" cy="437.55" r="0.4" fill="#d2dce8"/>
<circle cx="316.43" cy="445.09" r="0.4" fill="#d2dce8"/>
<circle cx="257.84" cy="447.97" r="0.4" fill="#d2dce8"/>
<circle cx="264.28" cy="447.85" r="0.4" fill="#d2dce8"/>
<circle cx="272.59" cy="438.25" r="0.4" fill="#d2dce8"/>
<circle cx="275.27" cy="448.22" r="0.4" fill="#d2dce8"/>
<circle cx="230.64" cy="447.82" r="0.4" fill="#d2dce8"/>
<circle cx="265.88" cy="441.86" r="0.4" fill="#d2dce8"/>
<circle cx="233.92" cy="435.63" r="0.4" fill="#d2dce8"/>
<circle cx="250.99" cy="446.58" r="0.4" fill="#d2dce8"/>
<circle cx="282.49" cy="423.58" r="0.4" fill="#d2dce8"/>
<circle cx="288.92" cy="443.8" r="0.4" fill="#d2dce8"/>
<circle cx="279.13" cy="436.23" r="0.55" fill="#d3dde9"/>
<circle cx="273.51" cy="443.66" r="0.55" fill="#d3dde9"/>
<circle cx="282.29" cy="430.56" r="0.55" fill="#d3dde9"/>
<circle cx="281.5" cy="437.7" r="0.55" fill="#d3dde9"/>
<circle cx="276.44" cy="447.97" r="0.55" fill="#d3dde9"/>
<circle cx="266.83" cy="438.01" r="0.55" fill="#d3dde9"/>
<circle cx="276.44" cy="435.86" r="0.55" fill="#d3dde9"/>
<circle cx="273.31" cy="440.04" r="0.55" fill="#d3dde9"/>
<circle cx="278.8" cy="440.41" r="0.55" fill="#d3dde9"/>
<circle cx="265.73" cy="433.94" r="0.55" fill="#d3dde9"/>
<circle cx="280.47" cy="438.87" r="0.55" fill="#d3dde9"/>
<circle cx="270.43" cy="436.69" r="0.55" fill="#d3dde9"/>
<circle cx="276.36" cy="445.29" r="0.55" fill="#d3dde9"/>
<circle cx="275.6" cy="443.05" r="0.55" fill="#d3dde9"/>
<circle cx="276.18" cy="447.19" r="0.55" fill="#d3dde9"/>
<circle cx="270.17" cy="438" r="0.55" fill="#d3dde9"/>
<circle cx="273.02" cy="438.03" r="0.55" fill="#d3dde9"/>
<circle cx="274.35" cy="448.38" r="0.55" fill="#d3dde9"/>
<circle cx="275.22" cy="434.54" r="0.55" fill="#d3dde9"/>
<circle cx="270.55" cy="439.82" r="0.55" fill="#d3dde9"/>
<circle cx="282.63" cy="437.37" r="0.55" fill="#d3dde9"/>
<circle cx="276.73" cy="444.92" r="0.55" fill="#d3dde9"/>
<circle cx="275.11" cy="447.6" r="0.55" fill="#d3dde9"/>
<circle cx="278.34" cy="445.68" r="0.55" fill="#d3dde9"/>
<circle cx="281.64" cy="435.74" r="0.55" fill="#d3dde9"/>
<circle cx="274.77" cy="442.66" r="0.55" fill="#d3dde9"/>
<circle cx="272.79" cy="440.89" r="0.55" fill="#d3dde9"/>
<circle cx="268.12" cy="438.22" r="0.55" fill="#d3dde9"/>
<circle cx="277.69" cy="437.71" r="0.55" fill="#d3dde9"/>
<circle cx="275.87" cy="444.89" r="0.55" fill="#d3dde9"/>
<circle cx="272.9" cy="435.67" r="0.55" fill="#d3dde9"/>
<circle cx="276.44" cy="448.31" r="0.55" fill="#d3dde9"/>
<circle cx="275.1" cy="447.77" r="0.55" fill="#d3dde9"/>
<circle cx="282.93" cy="436.71" r="0.55" fill="#d3dde9"/>
<circle cx="273.76" cy="437.04" r="0.55" fill="#d3dde9"/>
<circle cx="279.42" cy="441.15" r="0.55" fill="#d3dde9"/>
<circle cx="280.82" cy="441.12" r="0.55" fill="#d3dde9"/>
<circle cx="277.96" cy="445.78" r="0.55" fill="#d3dde9"/>
<circle cx="276.57" cy="430.7" r="0.55" fill="#d3dde9"/>
<circle cx="275.04" cy="441.26" r="0.55" fill="#d3dde9"/>
<circle cx="281.83" cy="434.08" r="0.55" fill="#d3dde9"/>
<circle cx="274.81" cy="444.65" r="0.55" fill="#d3dde9"/>
<circle cx="276.54" cy="445.61" r="0.55" fill="#d3dde9"/>
<circle cx="274.3" cy="438.92" r="0.55" fill="#d3dde9"/>
<circle cx="271.56" cy="446.66" r="0.55" fill="#d3dde9"/>
<circle cx="274.75" cy="446.79" r="0.55" fill="#d3dde9"/>
<circle cx="262.58" cy="434.07" r="0.55" fill="#d3dde9"/>
<circle cx="274.7" cy="436.48" r="0.55" fill="#d3dde9"/>
<circle cx="277.18" cy="445.26" r="0.55" fill="#d3dde9"/>
<circle cx="274.62" cy="448.18" r="0.55" fill="#d3dde9"/>
<circle cx="274.31" cy="448.38" r="0.55" fill="#d3dde9"/>
<circle cx="275.44" cy="444.08" r="0.55" fill="#d3dde9"/>
<circle cx="274.56" cy="446.67" r="0.55" fill="#d3dde9"/>
<circle cx="279.83" cy="433.65" r="0.55" fill="#d3dde9"/>
<circle cx="275.31" cy="448.39" r="0.55" fill="#d3dde9"/>
<circle cx="272.59" cy="446.97" r="0.55" fill="#d3dde9"/>
<circle cx="271.87" cy="431.82" r="0.55" fill="#d3dde9"/>
<circle cx="270.29" cy="444.29" r="0.55" fill="#d3dde9"/>
<circle cx="266.94" cy="442.85" r="0.55" fill="#d3dde9"/>
<circle cx="285.35" cy="438.77" r="0.55" fill="#d3dde9"/>
<circle cx="273.25" cy="443.05" r="0.55" fill="#d3dde9"/>
<circle cx="275.68" cy="447.92" r="0.55" fill="#d3dde9"/>
<circle cx="275.85" cy="447.23" r="0.55" fill="#d3dde9"/>
<circle cx="270.36" cy="431.62" r="0.55" fill="#d3dde9"/>
<circle cx="275.05" cy="444.97" r="0.55" fill="#d3dde9"/>
<circle cx="277.44" cy="445.92" r="0.55" fill="#d3dde9"/>
<circle cx="281.14" cy="442.83" r="0.55" fill="#d3dde9"/>
<circle cx="271.89" cy="434.24" r="0.55" fill="#d3dde9"/>
<circle cx="284.85" cy="437.94" r="0.55" fill="#d3dde9"/>
<circle cx="270.24" cy="439.54" r="0.55" fill="#d3dde9"/>
<circle cx="283.56" cy="436.15" r="0.55" fill="#d3dde9"/>
<circle cx="277.01" cy="441.41" r="0.55" fill="#d3dde9"/>
<circle cx="272.47" cy="435.47" r="0.55" fill="#d3dde9"/>
<circle cx="274.6" cy="447.91" r="0.55" fill="#d3dde9"/>
<circle cx="280.75" cy="431.81" r="0.55" fill="#d3dde9"/>
<circle cx="277.52" cy="443.35" r="0.55" fill="#d3dde9"/>
<circle cx="274.84" cy="444.15" r="0.55" fill="#d3dde9"/>
<circle cx="269.26" cy="444.79" r="0.55" fill="#d3dde9"/>
<circle cx="273.34" cy="437.44" r="0.55" fill="#d3dde9"/>
<circle cx="279.01" cy="442.45" r="0.55" fill="#d3dde9"/>
<circle cx="275.9" cy="446.27" r="0.55" fill="#d3dde9"/>
<circle cx="279.22" cy="432.25" r="0.55" fill="#d3dde9"/>
<circle cx="276.83" cy="440.54" r="0.55" fill="#d3dde9"/>
<circle cx="291.27" cy="430.3" r="0.55" fill="#d3dde9"/>
<circle cx="276.73" cy="441.43" r="0.55" fill="#d3dde9"/>
<circle cx="275.94" cy="447.38" r="0.55" fill="#d3dde9"/>
<circle cx="276.99" cy="443.38" r="0.55" fill="#d3dde9"/>
<circle cx="276.18" cy="444.82" r="0.55" fill="#d3dde9"/>
<circle cx="280.68" cy="439.15" r="0.55" fill="#d3dde9"/>
<circle cx="271.85" cy="442.11" r="0.55" fill="#d3dde9"/>
<circle cx="272.23" cy="442.09" r="0.55" fill="#d3dde9"/>
<circle cx="274.9" cy="443.45" r="0.55" fill="#d3dde9"/>
<circle cx="274.79" cy="447.75" r="0.55" fill="#d3dde9"/>
<circle cx="279.04" cy="446.89" r="0.55" fill="#d3dde9"/>
<circle cx="270.11" cy="440.42" r="0.55" fill="#d3dde9"/>
<circle cx="272.47" cy="445.51" r="0.55" fill="#d3dde9"/>
<circle cx="275.32" cy="444.61" r="0.55" fill="#d3dde9"/>
<circle cx="278.74" cy="441.5" r="0.55" fill="#d3dde9"/>
<circle cx="283.72" cy="431.22" r="0.55" fill="#d3dde9"/>
<circle cx="273.7" cy="448.22" r="0.55" fill="#d3dde9"/>
<circle cx="274.76" cy="448.11" r="0.55" fill="#d3dde9"/>
<circle cx="267.91" cy="440.99" r="0.55" fill="#d3dde9"/>
<circle cx="279.67" cy="438.81" r="0.55" fill="#d3dde9"/>
<circle cx="275.31" cy="431.81" r="0.55" fill="#d3dde9"/>
<circle cx="285.42" cy="433.96" r="0.55" fill="#d3dde9"/>
<circle cx="270.78" cy="444.98" r="0.55" fill="#d3dde9"/>
<circle cx="276.24" cy="447.13" r="0.55" fill="#d3dde9"/>
<circle cx="280.38" cy="436.92" r="0.55" fill="#d3dde9"/>
<circle cx="273.5" cy="431.49" r="0.55" fill="#d3dde9"/>
<circle cx="267.22" cy="435.22" r="0.55" fill="#d3dde9"/>
<circle cx="274.36" cy="441.29" r="0.55" fill="#d3dde9"/>
<circle cx="274.77" cy="434.86" r="0.55" fill="#d3dde9"/>
<circle cx="277.88" cy="445.24" r="0.55" fill="#d3dde9"/>
<circle cx="273.58" cy="444.05" r="0.55" fill="#d3dde9"/>
<circle cx="275.28" cy="446.86" r="0.55" fill="#d3dde9"/>
<circle cx="282.68" cy="436.58" r="0.55" fill="#d3dde9"/>
<circle cx="276.82" cy="447.08" r="0.55" fill="#d3dde9"/>
<circle cx="277.57" cy="438.89" r="0.55" fill="#d3dde9"/>
<circle cx="275.98" cy="442.56" r="0.55" fill="#d3dde9"/>
<circle cx="276.54" cy="448.32" r="0.55" fill="#d3dde9"/>
<circle cx="269.26" cy="444.09" r="0.55" fill="#d3dde9"/>
<circle cx="278.26" cy="437.67" r="0.55" fill="#d3dde9"/>
<circle cx="270.54" cy="432.73" r="0.55" fill="#d3dde9"/>
<circle cx="275.54" cy="445" r="0.55" fill="#d3dde9"/>
<circle cx="273.57" cy="431.08" r="0.55" fill="#d3dde9"/>
<circle cx="274.5" cy="448.22" r="0.55" fill="#d3dde9"/>
<circle cx="273.51" cy="440.52" r="0.55" fill="#d3dde9"/>
<circle cx="273.26" cy="444.84" r="0.55" fill="#d3dde9"/>
<circle cx="278.47" cy="437.21" r="0.55" fill="#d3dde9"/>
<circle cx="274.97" cy="448.08" r="0.55" fill="#d3dde9"/>
<circle cx="271.71" cy="443.45" r="0.55" fill="#d3dde9"/>
<circle cx="276.64" cy="445.8" r="0.55" fill="#d3dde9"/>
<circle cx="274.82" cy="434.55" r="0.55" fill="#d3dde9"/>
<circle cx="273.07" cy="445.68" r="0.55" fill="#d3dde9"/>
<circle cx="270.21" cy="430.88" r="0.55" fill="#d3dde9"/>
<circle cx="278.79" cy="445.27" r="0.55" fill="#d3dde9"/>
<circle cx="275.41" cy="445.42" r="0.55" fill="#d3dde9"/>
<circle cx="269.36" cy="431.27" r="0.55" fill="#d3dde9"/>
<circle cx="276.32" cy="440.57" r="0.55" fill="#d3dde9"/>
<circle cx="277.41" cy="442.04" r="0.55" fill="#d3dde9"/>
<circle cx="277.94" cy="437.25" r="0.55" fill="#d3dde9"/>
<circle cx="274.76" cy="442.47" r="0.55" fill="#d3dde9"/>
<circle cx="276.35" cy="445.56" r="0.55" fill="#d3dde9"/>
<circle cx="275.2" cy="447.88" r="0.55" fill="#d3dde9"/>
<circle cx="273.41" cy="447.78" r="0.55" fill="#d3dde9"/>
<circle cx="284.05" cy="432.73" r="0.55" fill="#d3dde9"/>
<circle cx="287.91" cy="435.88" r="0.55" fill="#d3dde9"/>
<circle cx="275.21" cy="443.61" r="0.55" fill="#d3dde9"/>
<circle cx="278" cy="445.99" r="0.55" fill="#d3dde9"/>
<circle cx="274.65" cy="448.11" r="0.55" fill="#d3dde9"/>
<circle cx="271.84" cy="437.27" r="0.55" fill="#d3dde9"/>
<circle cx="277.08" cy="443.56" r="0.55" fill="#d3dde9"/>
<circle cx="276.66" cy="446.24" r="0.55" fill="#d3dde9"/>
<circle cx="275.34" cy="443.22" r="0.55" fill="#d3dde9"/>
<circle cx="288.46" cy="431.19" r="0.55" fill="#d3dde9"/>
<circle cx="278.74" cy="445.65" r="0.55" fill="#d3dde9"/>
<circle cx="277.57" cy="443.13" r="0.55" fill="#d3dde9"/>
<circle cx="269.76" cy="441.75" r="0.55" fill="#d3dde9"/>
<circle cx="274.27" cy="447.91" r="0.55" fill="#d3dde9"/>
<circle cx="276.4" cy="431.96" r="0.55" fill="#d3dde9"/>
<circle cx="272.75" cy="445.88" r="0.55" fill="#d3dde9"/>
<circle cx="276.9" cy="448.13" r="0.55" fill="#d3dde9"/>
<circle cx="277.35" cy="442.15" r="0.55" fill="#d3dde9"/>
<circle cx="273.66" cy="448.01" r="0.55" fill="#d3dde9"/>
<circle cx="277.41" cy="448.08" r="0.55" fill="#d3dde9"/>
<circle cx="277.19" cy="444.84" r="0.55" fill="#d3dde9"/>
<circle cx="279.36" cy="435.59" r="0.55" fill="#d3dde9"/>
<circle cx="274.06" cy="444.58" r="0.55" fill="#d3dde9"/>
<circle cx="271.15" cy="431.14" r="0.55" fill="#d3dde9"/>
<circle cx="272.52" cy="436.21" r="0.55" fill="#d3dde9"/>
<circle cx="275.26" cy="443.83" r="0.55" fill="#d3dde9"/>
<circle cx="275.78" cy="435.41" r="0.55" fill="#d3dde9"/>
<circle cx="264.38" cy="432.03" r="0.55" fill="#d3dde9"/>
<circle cx="273.56" cy="448.19" r="0.55" fill="#d3dde9"/>
<circle cx="270.21" cy="445.22" r="0.55" fill="#d3dde9"/>
<circle cx="278.08" cy="431.22" r="0.55" fill="#d3dde9"/>
<circle cx="275.28" cy="442.59" r="0.55" fill="#d3dde9"/>
<circle cx="279.25" cy="440.61" r="0.55" fill="#d3dde9"/>
<circle cx="280.41" cy="431.78" r="0.55" fill="#d3dde9"/>
<circle cx="284.32" cy="435.77" r="0.55" fill="#d3dde9"/>
<circle cx="276.5" cy="434.02" r="0.55" fill="#d3dde9"/>
<circle cx="271.74" cy="443.63" r="0.55" fill="#d3dde9"/>
<circle cx="272.39" cy="443.78" r="0.55" fill="#d3dde9"/>
<circle cx="276.92" cy="447.54" r="0.55" fill="#d3dde9"/>
<circle cx="275.33" cy="445.81" r="0.55" fill="#d3dde9"/>
<circle cx="274.44" cy="447.72" r="0.55" fill="#d3dde9"/>
<circle cx="274.45" cy="448.09" r="0.55" fill="#d3dde9"/>
<circle cx="273.18" cy="430.65" r="0.55" fill="#d3dde9"/>
<circle cx="280.45" cy="432.73" r="0.55" fill="#d3dde9"/>
<circle cx="275.23" cy="447.47" r="0.55" fill="#d3dde9"/>
<circle cx="273.26" cy="447.3" r="0.55" fill="#d3dde9"/>
<circle cx="275.35" cy="441.48" r="0.55" fill="#d3dde9"/>
<circle cx="272.82" cy="445.22" r="0.55" fill="#d3dde9"/>
<circle cx="278.78" cy="437.08" r="0.55" fill="#d3dde9"/>
<circle cx="280" cy="435.57" r="0.55" fill="#d3dde9"/>
<circle cx="273.57" cy="446.96" r="0.55" fill="#d3dde9"/>
<circle cx="273.1" cy="433.64" r="0.55" fill="#d3dde9"/>
<circle cx="278.94" cy="442.83" r="0.55" fill="#d3dde9"/>
<circle cx="276.6" cy="435.78" r="0.55" fill="#d3dde9"/>
<circle cx="276.82" cy="445.03" r="0.55" fill="#d3dde9"/>
<circle cx="276.87" cy="446.48" r="0.55" fill="#d3dde9"/>
<circle cx="273.01" cy="443.66" r="0.55" fill="#d3dde9"/>
<circle cx="278.95" cy="442.42" r="0.55" fill="#d3dde9"/>
<circle cx="275.18" cy="445.26" r="0.55" fill="#d3dde9"/>
<circle cx="264.77" cy="434.32" r="0.55" fill="#d3dde9"/>
<circle cx="271.95" cy="447.22" r="0.55" fill="#d3dde9"/>
<circle cx="278.2" cy="440.97" r="0.55" fill="#d3dde9"/>
<circle cx="263.43" cy="432.07" r="0.55" fill="#d3dde9"/>
<circle cx="275.16" cy="448.01" r="0.55" fill="#d3dde9"/>
<circle cx="276.17" cy="445.93" r="0.55" fill="#d3dde9"/>
<circle cx="260.73" cy="430.81" r="0.55" fill="#d3dde9"/>
<circle cx="271.94" cy="442.85" r="0.55" fill="#d3dde9"/>
<circle cx="270.55" cy="433.1" r="0.55" fill="#d3dde9"/>
<circle cx="276.71" cy="434.96" r="0.55" fill="#d3dde9"/>
<circle cx="282.8" cy="431.4" r="0.55" fill="#d3dde9"/>
<circle cx="279.14" cy="438.16" r="0.55" fill="#d3dde9"/>
<circle cx="274.57" cy="445.48" r="0.55" fill="#d3dde9"/>
<circle cx="276.06" cy="445.7" r="0.55" fill="#d3dde9"/>
<circle cx="272.73" cy="444.87" r="0.55" fill="#d3dde9"/>
<circle cx="273.71" cy="445.71" r="0.55" fill="#d3dde9"/>
<circle cx="274.65" cy="448.32" r="0.55" fill="#d3dde9"/>
<circle cx="277.66" cy="446" r="0.55" fill="#d3dde9"/>
<circle cx="276.6" cy="443.9" r="0.55" fill="#d3dde9"/>
<circle cx="282.3" cy="439.57" r="0.55" fill="#d3dde9"/>
<circle cx="276.22" cy="447.74" r="0.55" fill="#d3dde9"/>
<circle cx="277.76" cy="439.53" r="0.55" fill="#d3dde9"/>
<circle cx="277.69" cy="437.78" r="0.55" fill="#d3dde9"/>
<circle cx="276.97" cy="436.65" r="0.55" fill="#d3dde9"/>
<circle cx="274.74" cy="442.17" r="0.55" fill="#d3dde9"/>
<circle cx="281.28" cy="431.24" r="0.55" fill="#d3dde9"/>
<circle cx="273.12" cy="443.9" r="0.55" fill="#d3dde9"/>
<circle cx="274.08" cy="442.05" r="0.55" fill="#d3dde9"/>
<circle cx="281.42" cy="433.14" r="0.55" fill="#d3dde9"/>
<circle cx="275.26" cy="445.81" r="0.55" fill="#d3dde9"/>
<circle cx="275.47" cy="435.98" r="0.55" fill="#d3dde9"/>
<circle cx="276" cy="432.35" r="0.55" fill="#d3dde9"/>
<circle cx="276.72" cy="441.91" r="0.55" fill="#d3dde9"/>
<circle cx="269.22" cy="432.75" r="0.55" fill="#d3dde9"/>
<circle cx="275.62" cy="441.22" r="0.55" fill="#d3dde9"/>
<circle cx="275.91" cy="439.5" r="0.55" fill="#d3dde9"/>
<circle cx="277.04" cy="437.75" r="0.55" fill="#d3dde9"/>
<circle cx="274.23" cy="438.11" r="0.55" fill="#d3dde9"/>
<circle cx="273.67" cy="442.87" r="0.55" fill="#d3dde9"/>
<circle cx="275.26" cy="444.4" r="0.55" fill="#d3dde9"/>
<circle cx="276.98" cy="440.08" r="0.55" fill="#d3dde9"/>
<circle cx="274.5" cy="440.67" r="0.55" fill="#d3dde9"/>
<circle cx="279.18" cy="434.39" r="0.55" fill="#d3dde9"/>
<circle cx="275.1" cy="446.88" r="0.55" fill="#d3dde9"/>
<circle cx="283.3" cy="431.46" r="0.55" fill="#d3dde9"/>
<circle cx="275.11" cy="447.86" r="0.55" fill="#d3dde9"/>
<circle cx="263.88" cy="431.82" r="0.55" fill="#d3dde9"/>
<circle cx="281.78" cy="438.15" r="0.55" fill="#d3dde9"/>
<circle cx="281.06" cy="433.98" r="0.55" fill="#d3dde9"/>
<circle cx="278.25" cy="445.41" r="0.55" fill="#d3dde9"/>
<circle cx="278.65" cy="442.27" r="0.55" fill="#d3dde9"/>
<circle cx="272.58" cy="446.03" r="0.55" fill="#d3dde9"/>
<circle cx="273.39" cy="445.48" r="0.55" fill="#d3dde9"/>
<circle cx="277.43" cy="442.64" r="0.55" fill="#d3dde9"/>
<circle cx="275.34" cy="446.93" r="0.55" fill="#d3dde9"/>
<circle cx="286.05" cy="432.44" r="0.55" fill="#d3dde9"/>
<circle cx="273.68" cy="448.01" r="0.55" fill="#d3dde9"/>
<circle cx="274.64" cy="448.04" r="0.55" fill="#d3dde9"/>
<circle cx="281.54" cy="433.69" r="0.55" fill="#d3dde9"/>
<circle cx="279.06" cy="439.53" r="0.55" fill="#d3dde9"/>
<circle cx="273.61" cy="438.02" r="0.55" fill="#d3dde9"/>
<circle cx="279.56" cy="438.89" r="0.55" fill="#d3dde9"/>
<circle cx="273.37" cy="441.88" r="0.55" fill="#d3dde9"/>
<circle cx="272.23" cy="441.64" r="0.55" fill="#d3dde9"/>
<circle cx="274.47" cy="448.2" r="0.55" fill="#d3dde9"/>
<circle cx="273.67" cy="445.2" r="0.55" fill="#d3dde9"/>
<circle cx="276.48" cy="435.25" r="0.55" fill="#d3dde9"/>
<circle cx="273.41" cy="446.08" r="0.55" fill="#d3dde9"/>
<circle cx="276.77" cy="440.99" r="0.55" fill="#d3dde9"/>
<circle cx="276.38" cy="441.79" r="0.55" fill="#d3dde9"/>
<circle cx="273.88" cy="447.37" r="0.55" fill="#d3dde9"/>
<circle cx="275.74" cy="448.01" r="0.55" fill="#d3dde9"/>
<circle cx="282" cy="437.83" r="0.55" fill="#d3dde9"/>
<circle cx="279.94" cy="434.96" r="0.55" fill="#d3dde9"/>
<circle cx="279.6" cy="440.27" r="0.55" fill="#d3dde9"/>
<circle cx="276.47" cy="442.75" r="0.55" fill="#d3dde9"/>
<circle cx="284.5" cy="431.29" r="0.55" fill="#d3dde9"/>
<circle cx="286.42" cy="430.31" r="0.55" fill="#d3dde9"/>
<circle cx="276.72" cy="435.9" r="0.55" fill="#d3dde9"/>
<circle cx="270.87" cy="430.62" r="0.55" fill="#d3dde9"/>
<circle cx="283.27" cy="440.64" r="0.55" fill="#d3dde9"/>
<circle cx="274.31" cy="446.31" r="0.55" fill="#d3dde9"/>
<circle cx="277.26" cy="434.74" r="0.55" fill="#d3dde9"/>
<circle cx="274.87" cy="443.23" r="0.55" fill="#d3dde9"/>
<circle cx="281.79" cy="435.4" r="0.55" fill="#d3dde9"/>
<circle cx="279.42" cy="444.54" r="0.55" fill="#d3dde9"/>
<circle cx="279.74" cy="434.17" r="0.55" fill="#d3dde9"/>
<circle cx="281.67" cy="431.96" r="0.55" fill="#d3dde9"/>
<circle cx="275.12" cy="445.63" r="0.55" fill="#d3dde9"/>
<circle cx="278.35" cy="443.78" r="0.55" fill="#d3dde9"/>
<circle cx="275.55" cy="448.05" r="0.55" fill="#d3dde9"/>
<circle cx="279.08" cy="431.6" r="0.55" fill="#d3dde9"/>
<circle cx="277.73" cy="436.96" r="0.55" fill="#d3dde9"/>
<circle cx="273.13" cy="434.81" r="0.55" fill="#d3dde9"/>
<circle cx="273.36" cy="447.04" r="0.55" fill="#d3dde9"/>
<circle cx="274.53" cy="443.07" r="0.55" fill="#d3dde9"/>
<circle cx="267.24" cy="432.96" r="0.55" fill="#d3dde9"/>
<circle cx="272.35" cy="432.75" r="0.55" fill="#d3dde9"/>
<circle cx="277.19" cy="447.19" r="0.55" fill="#d3dde9"/>
<circle cx="275.11" cy="442.45" r="0.55" fill="#d3dde9"/>
<circle cx="273.62" cy="434.54" r="0.55" fill="#d3dde9"/>
<circle cx="288.41" cy="439" r="0.55" fill="#d3dde9"/>
<circle cx="275.58" cy="443.06" r="0.55" fill="#d3dde9"/>
<circle cx="273.44" cy="446.13" r="0.55" fill="#d3dde9"/>
<circle cx="285.06" cy="435.66" r="0.55" fill="#d3dde9"/>
<circle cx="276.5" cy="444.9" r="0.55" fill="#d3dde9"/>
<circle cx="281.59" cy="437.78" r="0.55" fill="#d3dde9"/>
<circle cx="274.64" cy="437.29" r="0.55" fill="#d3dde9"/>
<circle cx="275.96" cy="443.9" r="0.55" fill="#d3dde9"/>
<circle cx="275.3" cy="446.54" r="0.55" fill="#d3dde9"/>
<circle cx="270.29" cy="438.24" r="0.55" fill="#d3dde9"/>
<circle cx="278.61" cy="432.48" r="0.55" fill="#d3dde9"/>
<circle cx="275.61" cy="446.8" r="0.55" fill="#d3dde9"/>
<circle cx="276.7" cy="448.21" r="0.55" fill="#d3dde9"/>
<circle cx="275.04" cy="448.39" r="0.55" fill="#d3dde9"/>
<circle cx="276.36" cy="443.12" r="0.55" fill="#d3dde9"/>
<circle cx="272.99" cy="445.38" r="0.55" fill="#d3dde9"/>
<circle cx="274.04" cy="445.7" r="0.55" fill="#d3dde9"/>
<circle cx="272.83" cy="438.08" r="0.55" fill="#d3dde9"/>
<circle cx="275.89" cy="431.6" r="0.55" fill="#d3dde9"/>
<circle cx="275.86" cy="445.06" r="0.55" fill="#d3dde9"/>
<circle cx="277.02" cy="437.8" r="0.55" fill="#d3dde9"/>
<circle cx="276.62" cy="432.99" r="0.55" fill="#d3dde9"/>
<circle cx="273.08" cy="444.72" r="0.55" fill="#d3dde9"/>
<circle cx="274.57" cy="448.31" r="0.55" fill="#d3dde9"/>
<circle cx="272.48" cy="443.24" r="0.55" fill="#d3dde9"/>
<circle cx="264.7" cy="437.65" r="0.55" fill="#d3dde9"/>
<circle cx="279.74" cy="435.87" r="0.55" fill="#d3dde9"/>
<circle cx="275.83" cy="444.98" r="0.55" fill="#d3dde9"/>
<circle cx="274.62" cy="439.89" r="0.55" fill="#d3dde9"/>
<circle cx="275.38" cy="442.24" r="0.55" fill="#d3dde9"/>
<circle cx="277.3" cy="434.93" r="0.55" fill="#d3dde9"/>
<circle cx="273.19" cy="448.31" r="0.55" fill="#d3dde9"/>
<circle cx="274.15" cy="446.65" r="0.55" fill="#d3dde9"/>
<circle cx="273.58" cy="445.77" r="0.55" fill="#d3dde9"/>
<circle cx="271.73" cy="437.73" r="0.55" fill="#d3dde9"/>
<circle cx="277.67" cy="434.21" r="0.55" fill="#d3dde9"/>
<circle cx="277.18" cy="444.11" r="0.55" fill="#d3dde9"/>
<circle cx="276.74" cy="447.92" r="0.55" fill="#d3dde9"/>
<circle cx="269.35" cy="436.24" r="0.55" fill="#d3dde9"/>
<circle cx="276.15" cy="448.36" r="0.55" fill="#d3dde9"/>
<circle cx="270.45" cy="441.14" r="0.55" fill="#d3dde9"/>
<circle cx="271.53" cy="435.7" r="0.55" fill="#d3dde9"/>
<circle cx="275.58" cy="447.18" r="0.55" fill="#d3dde9"/>
<circle cx="277.09" cy="445.25" r="0.55" fill="#d3dde9"/>
<circle cx="276.52" cy="435.54" r="0.55" fill="#d3dde9"/>
<circle cx="279.89" cy="436.65" r="0.55" fill="#d3dde9"/>
<circle cx="272.37" cy="444.69" r="0.55" fill="#d3dde9"/>
<circle cx="268.57" cy="439.46" r="0.55" fill="#d3dde9"/>
<circle cx="278.01" cy="440.04" r="0.55" fill="#d3dde9"/>
<circle cx="271.65" cy="444.7" r="0.55" fill="#d3dde9"/>
<circle cx="271.36" cy="445.49" r="0.55" fill="#d3dde9"/>
<circle cx="280.37" cy="432.81" r="0.55" fill="#d3dde9"/>
<circle cx="275.45" cy="445.18" r="0.55" fill="#d3dde9"/>
<circle cx="283.91" cy="435.66" r="0.55" fill="#d3dde9"/>
<circle cx="273.82" cy="443.65" r="0.55" fill="#d3dde9"/>
<circle cx="273" cy="432.81" r="0.55" fill="#d3dde9"/>
<circle cx="279.71" cy="432.22" r="0.55" fill="#d3dde9"/>
<circle cx="272.86" cy="437.95" r="0.55" fill="#d3dde9"/>
<circle cx="265.14" cy="430.68" r="0.55" fill="#d3dde9"/>
<circle cx="278.24" cy="441.06" r="0.55" fill="#d3dde9"/>
<circle cx="266.95" cy="433.29" r="0.55" fill="#d3dde9"/>
<circle cx="274.61" cy="441.66" r="0.55" fill="#d3dde9"/>
<circle cx="272.09" cy="443.98" r="0.55" fill="#d3dde9"/>
<circle cx="274.74" cy="445.57" r="0.55" fill="#d3dde9"/>
<circle cx="273.39" cy="432.15" r="0.55" fill="#d3dde9"/>
<circle cx="276.02" cy="446.61" r="0.55" fill="#d3dde9"/>
<circle cx="275.85" cy="431.76" r="0.55" fill="#d3dde9"/>
<circle cx="275.72" cy="443.33" r="0.55" fill="#d3dde9"/>
<circle cx="275.5" cy="448" r="0.55" fill="#d3dde9"/>
<circle cx="270" cy="436.7" r="0.55" fill="#d3dde9"/>
<circle cx="268.99" cy="435.8" r="0.55" fill="#d3dde9"/>
<circle cx="274.38" cy="447.71" r="0.55" fill="#d3dde9"/>
<circle cx="272.19" cy="434.13" r="0.55" fill="#d3dde9"/>
<circle cx="277.05" cy="434.08" r="0.55" fill="#d3dde9"/>
<circle cx="273.79" cy="433.07" r="0.55" fill="#d3dde9"/>
<circle cx="278.35" cy="432.07" r="0.55" fill="#d3dde9"/>
<circle cx="274.99" cy="445.67" r="0.55" fill="#d3dde9"/>
<circle cx="277.91" cy="447.09" r="0.55" fill="#d3dde9"/>
<circle cx="277.82" cy="434.24" r="0.55" fill="#d3dde9"/>
<circle cx="278.33" cy="437.88" r="0.55" fill="#d3dde9"/>
<circle cx="272.31" cy="444.33" r="0.55" fill="#d3dde9"/>
<circle cx="277.11" cy="447.25" r="0.55" fill="#d3dde9"/>
<circle cx="277.13" cy="445.69" r="0.55" fill="#d3dde9"/>
<circle cx="274.83" cy="443.78" r="0.55" fill="#d3dde9"/>
<circle cx="275.51" cy="444.85" r="0.55" fill="#d3dde9"/>
<circle cx="274.82" cy="444.41" r="0.55" fill="#d3dde9"/>
<circle cx="272.88" cy="443.75" r="0.55" fill="#d3dde9"/>
<circle cx="261.21" cy="431.01" r="0.55" fill="#d3dde9"/>
<circle cx="275.09" cy="438.19" r="0.55" fill="#d3dde9"/>
<circle cx="274.38" cy="448.12" r="0.55" fill="#d3dde9"/>
<circle cx="278.5" cy="435.05" r="0.55" fill="#d3dde9"/>
<circle cx="274.34" cy="443.3" r="0.55" fill="#d3dde9"/>
<circle cx="272.97" cy="445.5" r="0.55" fill="#d3dde9"/>
<circle cx="285.31" cy="433.19" r="0.55" fill="#d3dde9"/>
<circle cx="276.99" cy="446.23" r="0.55" fill="#d3dde9"/>
<circle cx="275.75" cy="448.39" r="0.55" fill="#d3dde9"/>
<circle cx="287.16" cy="430.71" r="0.55" fill="#d3dde9"/>
<circle cx="274.24" cy="448.37" r="0.55" fill="#d3dde9"/>
<circle cx="275.7" cy="434.56" r="0.55" fill="#d3dde9"/>
<circle cx="273.67" cy="446.01" r="0.55" fill="#d3dde9"/>
<circle cx="275.49" cy="433.83" r="0.55" fill="#d3dde9"/>
<circle cx="277" cy="444.78" r="0.55" fill="#d3dde9"/>
<circle cx="274.75" cy="445.53" r="0.55" fill="#d3dde9"/>
<circle cx="272.79" cy="436.56" r="0.55" fill="#d3dde9"/>
<circle cx="275.32" cy="437.83" r="0.55" fill="#d3dde9"/>
<circle cx="275.75" cy="447.51" r="0.55" fill="#d3dde9"/>
<circle cx="266.51" cy="434.77" r="0.55" fill="#d3dde9"/>
<circle cx="272.38" cy="438" r="0.55" fill="#d3dde9"/>
<circle cx="277.74" cy="442.44" r="0.55" fill="#d3dde9"/>
<circle cx="287.22" cy="432.59" r="0.55" fill="#d3dde9"/>
<circle cx="276.36" cy="448.18" r="0.55" fill="#d3dde9"/>
<circle cx="274.96" cy="445.67" r="0.55" fill="#d3dde9"/>
<circle cx="283.41" cy="440.47" r="0.55" fill="#d3dde9"/>
<circle cx="276.91" cy="442.72" r="0.55" fill="#d3dde9"/>
<circle cx="273.6" cy="441.22" r="0.55" fill="#d3dde9"/>
<circle cx="275.49" cy="439.89" r="0.55" fill="#d3dde9"/>
<circle cx="267.26" cy="437.63" r="0.55" fill="#d3dde9"/>
<circle cx="274.56" cy="443.27" r="0.55" fill="#d3dde9"/>
<circle cx="278.53" cy="433.59" r="0.55" fill="#d3dde9"/>
<circle cx="275.15" cy="437.32" r="0.55" fill="#d3dde9"/>
<circle cx="273.26" cy="441.64" r="0.55" fill="#d3dde9"/>
<circle cx="272.68" cy="435.05" r="0.55" fill="#d3dde9"/>
<circle cx="274.43" cy="441.2" r="0.55" fill="#d3dde9"/>
<circle cx="275.63" cy="432.7" r="0.55" fill="#d3dde9"/>
<circle cx="276.9" cy="444.09" r="0.55" fill="#d3dde9"/>
<circle cx="276.98" cy="436.49" r="0.55" fill="#d3dde9"/>
<circle cx="274.52" cy="446.44" r="0.55" fill="#d3dde9"/>
<circle cx="274.1" cy="445" r="0.55" fill="#d3dde9"/>
<circle cx="277.06" cy="446.37" r="0.55" fill="#d3dde9"/>
<circle cx="277.96" cy="443.63" r="0.55" fill="#d3dde9"/>
<circle cx="288.96" cy="435.97" r="0.55" fill="#d3dde9"/>
<circle cx="275.9" cy="447.23" r="0.55" fill="#d3dde9"/>
<circle cx="274.98" cy="442.63" r="0.55" fill="#d3dde9"/>
<circle cx="278.64" cy="430.58" r="0.55" fill="#d3dde9"/>
<circle cx="270.1" cy="441.71" r="0.55" fill="#d3dde9"/>
<circle cx="274.74" cy="445.83" r="0.55" fill="#d3dde9"/>
<circle cx="274.61" cy="445.66" r="0.55" fill="#d3dde9"/>
<circle cx="278.28" cy="442.56" r="0.55" fill="#d3dde9"/>
<circle cx="276.56" cy="434.68" r="0.55" fill="#d3dde9"/>
<circle cx="268.01" cy="436.69" r="0.55" fill="#d3dde9"/>
<circle cx="275.28" cy="441.18" r="0.55" fill="#d3dde9"/>
<circle cx="274.06" cy="446.66" r="0.55" fill="#d3dde9"/>
<circle cx="271.9" cy="435.72" r="0.55" fill="#d3dde9"/>
<circle cx="267.29" cy="432.21" r="0.55" fill="#d3dde9"/>
<circle cx="278.39" cy="435.55" r="0.55" fill="#d3dde9"/>
<circle cx="276" cy="441.96" r="0.55" fill="#d3dde9"/>
<circle cx="285.71" cy="432.81" r="0.55" fill="#d3dde9"/>
<circle cx="271.83" cy="435.03" r="0.55" fill="#d3dde9"/>
<circle cx="265.9" cy="436.97" r="0.55" fill="#d3dde9"/>
<circle cx="271.34" cy="437.73" r="0.55" fill="#d3dde9"/>
<circle cx="276.46" cy="437.99" r="0.55" fill="#d3dde9"/>
<circle cx="273.3" cy="447.28" r="0.55" fill="#d3dde9"/>
<circle cx="279.78" cy="436.28" r="0.55" fill="#d3dde9"/>
<circle cx="275.3" cy="437.97" r="0.55" fill="#d3dde9"/>
<circle cx="278.94" cy="441.33" r="0.55" fill="#d3dde9"/>
<circle cx="269.45" cy="438.13" r="0.55" fill="#d3dde9"/>
<circle cx="280.92" cy="431.74" r="0.55" fill="#d3dde9"/>
<circle cx="273.57" cy="446.03" r="0.55" fill="#d3dde9"/>
<circle cx="270.97" cy="442.55" r="0.55" fill="#d3dde9"/>
<circle cx="276.32" cy="440.68" r="0.55" fill="#d3dde9"/>
<circle cx="275.12" cy="439.66" r="0.55" fill="#d3dde9"/>
<circle cx="276.07" cy="446.37" r="0.55" fill="#d3dde9"/>
<circle cx="266.2" cy="440.12" r="0.55" fill="#d3dde9"/>
<circle cx="273.83" cy="447.24" r="0.55" fill="#d3dde9"/>
<circle cx="272.3" cy="436.2" r="0.55" fill="#d3dde9"/>
<circle cx="270.65" cy="440.26" r="0.55" fill="#d3dde9"/>
<circle cx="269.64" cy="440.07" r="0.55" fill="#d3dde9"/>
<circle cx="277.36" cy="442.16" r="0.55" fill="#d3dde9"/>
<circle cx="274.18" cy="436.87" r="0.55" fill="#d3dde9"/>
<circle cx="275.42" cy="442.48" r="0.55" fill="#d3dde9"/>
<circle cx="271.54" cy="430.56" r="0.55" fill="#d3dde9"/>
<circle cx="277.41" cy="443.15" r="0.55" fill="#d3dde9"/>
<circle cx="276.16" cy="442.35" r="0.55" fill="#d3dde9"/>
<circle cx="274.45" cy="448.3" r="0.55" fill="#d3dde9"/>
<circle cx="277.95" cy="436.59" r="0.55" fill="#d3dde9"/>
<circle cx="275.11" cy="443.21" r="0.55" fill="#d3dde9"/>
<circle cx="279.21" cy="435.71" r="0.55" fill="#d3dde9"/>
<circle cx="270.43" cy="431.53" r="0.55" fill="#d3dde9"/>
<circle cx="274.59" cy="434.46" r="0.55" fill="#d3dde9"/>
<circle cx="275.68" cy="442.49" r="0.55" fill="#d3dde9"/>
<circle cx="278.25" cy="434.98" r="0.55" fill="#d3dde9"/>
<circle cx="270.8" cy="434.29" r="0.55" fill="#d3dde9"/>
<circle cx="271.76" cy="439.3" r="0.55" fill="#d3dde9"/>
<circle cx="277.13" cy="445.35" r="0.55" fill="#d3dde9"/>
<circle cx="274.3" cy="437.78" r="0.55" fill="#d3dde9"/>
<circle cx="278.06" cy="434.1" r="0.55" fill="#d3dde9"/>
<circle cx="272.81" cy="444.21" r="0.55" fill="#d3dde9"/>
<circle cx="280.8" cy="439.56" r="0.55" fill="#d3dde9"/>
<circle cx="279.06" cy="443.16" r="0.55" fill="#d3dde9"/>
<circle cx="274.63" cy="433.43" r="0.55" fill="#d3dde9"/>
<circle cx="277.4" cy="444.9" r="0.55" fill="#d3dde9"/>
<circle cx="275.39" cy="441.87" r="0.55" fill="#d3dde9"/>
<circle cx="275.66" cy="436.11" r="0.55" fill="#d3dde9"/>
<circle cx="275.36" cy="444.43" r="0.55" fill="#d3dde9"/>
<circle cx="278.38" cy="440.87" r="0.55" fill="#d3dde9"/>
<circle cx="272.16" cy="441.83" r="0.55" fill="#d3dde9"/>
<circle cx="272.12" cy="443.02" r="0.55" fill="#d3dde9"/>
<circle cx="276.75" cy="431.77" r="0.55" fill="#d3dde9"/>
<circle cx="273.63" cy="433.91" r="0.55" fill="#d3dde9"/>
<circle cx="276.09" cy="432.26" r="0.55" fill="#d3dde9"/>
<circle cx="271.97" cy="433.84" r="0.55" fill="#d3dde9"/>
<circle cx="276.01" cy="437.9" r="0.55" fill="#d3dde9"/>
<circle cx="275.4" cy="431.27" r="0.55" fill="#d3dde9"/>
<circle cx="275.3" cy="437.44" r="0.55" fill="#d3dde9"/>
<circle cx="276.01" cy="446.64" r="0.55" fill="#d3dde9"/>
<circle cx="275.61" cy="445.22" r="0.55" fill="#d3dde9"/>
<circle cx="273.85" cy="446.49" r="0.55" fill="#d3dde9"/>
<circle cx="276.36" cy="432.3" r="0.55" fill="#d3dde9"/>
<circle cx="271.41" cy="432.57" r="0.55" fill="#d3dde9"/>
<circle cx="276.62" cy="438.39" r="0.55" fill="#d3dde9"/>
<circle cx="265.58" cy="432.51" r="0.55" fill="#d3dde9"/>
<circle cx="277.36" cy="434.74" r="0.55" fill="#d3dde9"/>
<circle cx="272.4" cy="436.7" r="0.55" fill="#d3dde9"/>
<circle cx="275.08" cy="439.9" r="0.55" fill="#d3dde9"/>
<circle cx="268.24" cy="432.75" r="0.55" fill="#d3dde9"/>
<circle cx="275.02" cy="439.43" r="0.55" fill="#d3dde9"/>
<circle cx="276.41" cy="446.69" r="0.55" fill="#d3dde9"/>
<circle cx="279.2" cy="440.62" r="0.55" fill="#d3dde9"/>
<circle cx="275.92" cy="446.62" r="0.55" fill="#d3dde9"/>
<circle cx="270.68" cy="440.65" r="0.55" fill="#d3dde9"/>
<circle cx="275.39" cy="433.17" r="0.55" fill="#d3dde9"/>
<circle cx="275.86" cy="448.36" r="0.55" fill="#d3dde9"/>
<circle cx="271.32" cy="439.29" r="0.55" fill="#d3dde9"/>
<circle cx="277.88" cy="437.25" r="0.55" fill="#d3dde9"/>
<circle cx="272.67" cy="442" r="0.55" fill="#d3dde9"/>
<circle cx="284.41" cy="431.08" r="0.55" fill="#d3dde9"/>
<circle cx="278.38" cy="437.84" r="0.55" fill="#d3dde9"/>
<circle cx="274.14" cy="448.15" r="0.55" fill="#d3dde9"/>
<circle cx="268.59" cy="431.71" r="0.55" fill="#d3dde9"/>
<circle cx="278.44" cy="443.59" r="0.55" fill="#d3dde9"/>
<circle cx="274.8" cy="440.78" r="0.55" fill="#d3dde9"/>
<circle cx="285.72" cy="432.43" r="0.55" fill="#d3dde9"/>
<circle cx="276.87" cy="438.05" r="0.55" fill="#d3dde9"/>
<circle cx="276.96" cy="443.44" r="0.55" fill="#d3dde9"/>
<circle cx="272.68" cy="440.97" r="0.55" fill="#d3dde9"/>
<circle cx="275.65" cy="440" r="0.55" fill="#d3dde9"/>
<circle cx="273.03" cy="441.7" r="0.55" fill="#d3dde9"/>
<circle cx="269.57" cy="441.94" r="0.55" fill="#d3dde9"/>
<circle cx="273.8" cy="444.24" r="0.55" fill="#d3dde9"/>
<circle cx="269.3" cy="433.91" r="0.55" fill="#d3dde9"/>
<circle cx="276.84" cy="444.59" r="0.55" fill="#d3dde9"/>
<circle cx="280.8" cy="440.37" r="0.55" fill="#d3dde9"/>
<circle cx="273.96" cy="434.66" r="0.55" fill="#d3dde9"/>
<circle cx="274.39" cy="443.58" r="0.55" fill="#d3dde9"/>
<circle cx="278.67" cy="438.82" r="0.55" fill="#d3dde9"/>
<circle cx="275.59" cy="437.86" r="0.55" fill="#d3dde9"/>
<circle cx="273.8" cy="436.09" r="0.55" fill="#d3dde9"/>
<circle cx="273.28" cy="432.69" r="0.55" fill="#d3dde9"/>
<circle cx="275.08" cy="444.11" r="0.55" fill="#d3dde9"/>
<circle cx="276.06" cy="448.36" r="0.55" fill="#d3dde9"/>
<circle cx="284.81" cy="438.38" r="0.55" fill="#d3dde9"/>
<circle cx="277.91" cy="437.4" r="0.55" fill="#d3dde9"/>
<circle cx="265.6" cy="438.32" r="0.55" fill="#d3dde9"/>
<circle cx="270.34" cy="438.22" r="0.55" fill="#d3dde9"/>
<circle cx="270.39" cy="438.63" r="0.55" fill="#d3dde9"/>
<circle cx="277.05" cy="436.94" r="0.55" fill="#d3dde9"/>
<circle cx="280.33" cy="441.28" r="0.55" fill="#d3dde9"/>
<circle cx="278.18" cy="435.27" r="0.55" fill="#d3dde9"/>
<circle cx="275.69" cy="448.05" r="0.55" fill="#d3dde9"/>
<circle cx="282.51" cy="435.02" r="0.55" fill="#d3dde9"/>
<circle cx="273.13" cy="442.91" r="0.55" fill="#d3dde9"/>
<circle cx="277.09" cy="434.02" r="0.55" fill="#d3dde9"/>
<circle cx="272.55" cy="444.82" r="0.55" fill="#d3dde9"/>
<circle cx="273.39" cy="444.08" r="0.55" fill="#d3dde9"/>
<circle cx="276.66" cy="441.79" r="0.55" fill="#d3dde9"/>
<circle cx="276.76" cy="437.73" r="0.55" fill="#d3dde9"/>
<circle cx="274.73" cy="439.19" r="0.55" fill="#d3dde9"/>
<circle cx="276.69" cy="448.03" r="0.55" fill="#d3dde9"/>
<circle cx="280.63" cy="439.04" r="0.55" fill="#d3dde9"/>
<circle cx="274.21" cy="431.98" r="0.55" fill="#d3dde9"/>
<circle cx="275.47" cy="442.58" r="0.55" fill="#d3dde9"/>
<circle cx="286.78" cy="438.71" r="0.55" fill="#d3dde9"/>
<circle cx="271.44" cy="440.95" r="0.55" fill="#d3dde9"/>
<circle cx="278.97" cy="442.12" r="0.55" fill="#d3dde9"/>
<circle cx="276.96" cy="445.57" r="0.55" fill="#d3dde9"/>
<circle cx="275.45" cy="446.51" r="0.55" fill="#d3dde9"/>
<circle cx="275.35" cy="436.88" r="0.55" fill="#d3dde9"/>
<circle cx="275.9" cy="446.95" r="0.55" fill="#d3dde9"/>
<circle cx="274.72" cy="433.03" r="0.55" fill="#d3dde9"/>
<circle cx="277.62" cy="446.84" r="0.55" fill="#d3dde9"/>
<circle cx="275.67" cy="445.08" r="0.55" fill="#d3dde9"/>
<circle cx="275.97" cy="435.87" r="0.55" fill="#d3dde9"/>
<circle cx="277" cy="435.03" r="0.55" fill="#d3dde9"/>
<circle cx="280.58" cy="436.28" r="0.55" fill="#d3dde9"/>
<circle cx="273.72" cy="447.47" r="0.55" fill="#d3dde9"/>
<circle cx="273.98" cy="437.99" r="0.55" fill="#d3dde9"/>
<circle cx="267.81" cy="431.69" r="0.55" fill="#d3dde9"/>
<circle cx="278.67" cy="444.89" r="0.55" fill="#d3dde9"/>
<circle cx="274.97" cy="448.32" r="0.55" fill="#d3dde9"/>
<circle cx="274.29" cy="448.28" r="0.55" fill="#d3dde9"/>
<circle cx="273.48" cy="447.53" r="0.55" fill="#d3dde9"/>
<circle cx="275.1" cy="443.92" r="0.55" fill="#d3dde9"/>
<circle cx="271.47" cy="433.21" r="0.55" fill="#d3dde9"/>
<circle cx="278.58" cy="440.75" r="0.55" fill="#d3dde9"/>
<circle cx="276.81" cy="439.04" r="0.55" fill="#d3dde9"/>
<circle cx="274.47" cy="441.64" r="0.55" fill="#d3dde9"/>
<circle cx="272.33" cy="434.55" r="0.55" fill="#d3dde9"/>
<circle cx="272.83" cy="443.01" r="0.55" fill="#d3dde9"/>
<circle cx="271.72" cy="442.02" r="0.55" fill="#d3dde9"/>
<circle cx="276.93" cy="442.6" r="0.55" fill="#d3dde9"/>
<circle cx="261.62" cy="434.81" r="0.55" fill="#d3dde9"/>
<circle cx="274.91" cy="439.2" r="0.55" fill="#d3dde9"/>
<circle cx="277.79" cy="430.79" r="0.55" fill="#d3dde9"/>
<circle cx="277.49" cy="436.49" r="0.55" fill="#d3dde9"/>
<circle cx="271.71" cy="438.44" r="0.55" fill="#d3dde9"/>
<circle cx="280.15" cy="430.71" r="0.55" fill="#d3dde9"/>
<circle cx="272.33" cy="443.97" r="0.55" fill="#d3dde9"/>
<circle cx="277.74" cy="441.82" r="0.55" fill="#d3dde9"/>
<circle cx="272.1" cy="436.86" r="0.55" fill="#d3dde9"/>
<circle cx="281.77" cy="438.52" r="0.55" fill="#d3dde9"/>
<circle cx="272.71" cy="444.4" r="0.55" fill="#d3dde9"/>
<circle cx="275.22" cy="448.39" r="0.55" fill="#d3dde9"/>
<circle cx="279.87" cy="438.82" r="0.55" fill="#d3dde9"/>
<circle cx="276.66" cy="434.16" r="0.55" fill="#d3dde9"/>
<circle cx="274.12" cy="433.8" r="0.55" fill="#d3dde9"/>
<circle cx="280.58" cy="434.25" r="0.55" fill="#d3dde9"/>
<circle cx="273.09" cy="444.56" r="0.55" fill="#d3dde9"/>
<circle cx="278.68" cy="433.42" r="0.55" fill="#d3dde9"/>
<circle cx="265.59" cy="432.09" r="0.55" fill="#d3dde9"/>
<circle cx="278.31" cy="443.3" r="0.55" fill="#d3dde9"/>
<circle cx="279.14" cy="434.55" r="0.55" fill="#d3dde9"/>
<circle cx="275.3" cy="445.76" r="0.55" fill="#d3dde9"/>
<circle cx="270.54" cy="445.22" r="0.55" fill="#d3dde9"/>
<circle cx="273.08" cy="438.42" r="0.55" fill="#d3dde9"/>
<circle cx="273.4" cy="445.66" r="0.55" fill="#d3dde9"/>
<circle cx="275.33" cy="444.88" r="0.55" fill="#d3dde9"/>
<circle cx="269.11" cy="441.25" r="0.55" fill="#d3dde9"/>
<circle cx="276.05" cy="447.42" r="0.55" fill="#d3dde9"/>
<circle cx="272" cy="445.24" r="0.55" fill="#d3dde9"/>
<circle cx="282.48" cy="438.95" r="0.55" fill="#d3dde9"/>
<circle cx="270.38" cy="440.07" r="0.55" fill="#d3dde9"/>
<circle cx="273.32" cy="440.93" r="0.55" fill="#d3dde9"/>
<circle cx="274.68" cy="445.89" r="0.55" fill="#d3dde9"/>
<circle cx="274.8" cy="446.07" r="0.55" fill="#d3dde9"/>
<circle cx="271.48" cy="439.25" r="0.55" fill="#d3dde9"/>
<circle cx="273.54" cy="442.3" r="0.55" fill="#d3dde9"/>
<circle cx="275.24" cy="447.96" r="0.55" fill="#d3dde9"/>
<circle cx="272.81" cy="430.29" r="0.55" fill="#d3dde9"/>
<circle cx="276.89" cy="437.91" r="0.55" fill="#d3dde9"/>
<circle cx="279.69" cy="434.76" r="0.55" fill="#d3dde9"/>
<circle cx="278.37" cy="443.33" r="0.55" fill="#d3dde9"/>
<circle cx="276.31" cy="440.12" r="0.55" fill="#d3dde9"/>
<circle cx="275.55" cy="430.43" r="0.55" fill="#d3dde9"/>
<circle cx="266.98" cy="433.1" r="0.55" fill="#d3dde9"/>
<circle cx="275.55" cy="444.76" r="0.55" fill="#d3dde9"/>
<circle cx="262.77" cy="434.93" r="0.55" fill="#d3dde9"/>
<circle cx="281.49" cy="435.17" r="0.55" fill="#d3dde9"/>
<circle cx="279.84" cy="434.1" r="0.55" fill="#d3dde9"/>
<circle cx="275.12" cy="448.04" r="0.55" fill="#d3dde9"/>
<circle cx="275.63" cy="445.75" r="0.55" fill="#d3dde9"/>
<circle cx="275.71" cy="447.89" r="0.55" fill="#d3dde9"/>
<circle cx="278.48" cy="439.39" r="0.55" fill="#d3dde9"/>
<circle cx="269.6" cy="431.37" r="0.55" fill="#d3dde9"/>
<circle cx="283.74" cy="432.17" r="0.55" fill="#d3dde9"/>
<circle cx="276.93" cy="442.39" r="0.55" fill="#d3dde9"/>
<circle cx="276.36" cy="446.97" r="0.55" fill="#d3dde9"/>
<circle cx="274.48" cy="439.25" r="0.55" fill="#d3dde9"/>
<circle cx="282.13" cy="437.75" r="0.55" fill="#d3dde9"/>
<circle cx="274.07" cy="442.47" r="0.55" fill="#d3dde9"/>
<circle cx="280.07" cy="441.46" r="0.55" fill="#d3dde9"/>
<circle cx="291.59" cy="430.4" r="0.55" fill="#d3dde9"/>
<circle cx="276.78" cy="445.42" r="0.55" fill="#d3dde9"/>
<circle cx="275.81" cy="443.21" r="0.55" fill="#d3dde9"/>
<circle cx="285.9" cy="432.32" r="0.55" fill="#d3dde9"/>
<circle cx="274.15" cy="447.94" r="0.55" fill="#d3dde9"/>
<circle cx="273.18" cy="434.78" r="0.55" fill="#d3dde9"/>
<circle cx="264.99" cy="430.54" r="0.55" fill="#d3dde9"/>
<circle cx="276.44" cy="447.83" r="0.55" fill="#d3dde9"/>
<circle cx="284.6" cy="431.54" r="0.55" fill="#d3dde9"/>
<circle cx="273.27" cy="437.02" r="0.55" fill="#d3dde9"/>
<circle cx="282.48" cy="435.37" r="0.55" fill="#d3dde9"/>
<circle cx="274.84" cy="447.18" r="0.55" fill="#d3dde9"/>
<circle cx="276.29" cy="446.91" r="0.55" fill="#d3dde9"/>
<circle cx="276.62" cy="440.84" r="0.55" fill="#d3dde9"/>
<circle cx="276.29" cy="446.64" r="0.55" fill="#d3dde9"/>
<circle cx="283.28" cy="437.01" r="0.55" fill="#d3dde9"/>
<circle cx="275.53" cy="445.84" r="0.55" fill="#d3dde9"/>
<circle cx="275.95" cy="448.06" r="0.55" fill="#d3dde9"/>
<circle cx="273.14" cy="431.65" r="0.55" fill="#d3dde9"/>
<circle cx="278.01" cy="433.09" r="0.55" fill="#d3dde9"/>
<circle cx="274.09" cy="441.48" r="0.55" fill="#d3dde9"/>
<circle cx="277.55" cy="447.29" r="0.55" fill="#d3dde9"/>
<circle cx="271.41" cy="437.99" r="0.55" fill="#d3dde9"/>
<circle cx="271.87" cy="441.38" r="0.55" fill="#d3dde9"/>
<circle cx="280.99" cy="440.91" r="0.55" fill="#d3dde9"/>
<circle cx="277.37" cy="438" r="0.55" fill="#d3dde9"/>
<circle cx="275.91" cy="447.82" r="0.55" fill="#d3dde9"/>
<circle cx="272.5" cy="436.27" r="0.55" fill="#d3dde9"/>
<circle cx="274.11" cy="433.01" r="0.55" fill="#d3dde9"/>
<circle cx="274.19" cy="444.68" r="0.55" fill="#d3dde9"/>
<circle cx="276" cy="444.6" r="0.55" fill="#d3dde9"/>
<circle cx="273.38" cy="433.66" r="0.55" fill="#d3dde9"/>
<circle cx="277.24" cy="440.66" r="0.55" fill="#d3dde9"/>
<circle cx="276.34" cy="443.8" r="0.55" fill="#d3dde9"/>
<circle cx="273.24" cy="430.69" r="0.55" fill="#d3dde9"/>
<circle cx="276.6" cy="447.82" r="0.55" fill="#d3dde9"/>
<circle cx="273.55" cy="445.59" r="0.55" fill="#d3dde9"/>
<circle cx="274.67" cy="440.91" r="0.55" fill="#d3dde9"/>
<circle cx="276.7" cy="445.74" r="0.55" fill="#d3dde9"/>
<circle cx="285.42" cy="442.99" r="0.55" fill="#d3dde9"/>
<circle cx="273.92" cy="431.85" r="0.55" fill="#d3dde9"/>
<circle cx="274.62" cy="447.29" r="0.55" fill="#d3dde9"/>
<circle cx="277.6" cy="447.81" r="0.55" fill="#d3dde9"/>
<circle cx="271.26" cy="436.01" r="0.55" fill="#d3dde9"/>
<circle cx="277.83" cy="448.27" r="0.55" fill="#d3dde9"/>
<circle cx="273.52" cy="434.35" r="0.55" fill="#d3dde9"/>
<circle cx="275.72" cy="448.39" r="0.55" fill="#d3dde9"/>
<circle cx="271.38" cy="433.82" r="0.55" fill="#d3dde9"/>
<circle cx="274.94" cy="441.7" r="0.55" fill="#d3dde9"/>
<circle cx="277.06" cy="432.13" r="0.55" fill="#d3dde9"/>
<circle cx="277.23" cy="446.71" r="0.55" fill="#d3dde9"/>
<circle cx="275.65" cy="446.08" r="0.55" fill="#d3dde9"/>
<circle cx="272.43" cy="445.82" r="0.55" fill="#d3dde9"/>
<circle cx="276.72" cy="447.53" r="0.55" fill="#d3dde9"/>
<circle cx="277.98" cy="440.57" r="0.55" fill="#d3dde9"/>
<circle cx="276.16" cy="444.56" r="0.55" fill="#d3dde9"/>
<circle cx="282.27" cy="436.39" r="0.55" fill="#d3dde9"/>
<circle cx="271.78" cy="434.25" r="0.55" fill="#d3dde9"/>
<circle cx="274.91" cy="447.71" r="0.55" fill="#d3dde9"/>
<circle cx="268" cy="435.89" r="0.55" fill="#d3dde9"/>
<circle cx="276.26" cy="447.84" r="0.55" fill="#d3dde9"/>
<circle cx="269.39" cy="434.27" r="0.55" fill="#d3dde9"/>
<circle cx="285.94" cy="433.14" r="0.55" fill="#d3dde9"/>
<circle cx="283.44" cy="440.62" r="0.55" fill="#d3dde9"/>
<circle cx="276.07" cy="440.93" r="0.55" fill="#d3dde9"/>
<circle cx="274.87" cy="432.98" r="0.55" fill="#d3dde9"/>
<circle cx="279.25" cy="433.83" r="0.55" fill="#d3dde9"/>
<circle cx="276.74" cy="442.94" r="0.55" fill="#d3dde9"/>
<circle cx="278.96" cy="438.65" r="0.55" fill="#d3dde9"/>
<circle cx="274.32" cy="448.37" r="0.55" fill="#d3dde9"/>
<circle cx="274.78" cy="440.19" r="0.55" fill="#d3dde9"/>
<circle cx="274.72" cy="446.96" r="0.55" fill="#d3dde9"/>
<circle cx="263.72" cy="433.12" r="0.55" fill="#d3dde9"/>
<circle cx="274.69" cy="443.75" r="0.55" fill="#d3dde9"/>
<circle cx="269.99" cy="435.5" r="0.55" fill="#d3dde9"/>
<circle cx="277.26" cy="447.76" r="0.55" fill="#d3dde9"/>
<circle cx="268.65" cy="440.59" r="0.55" fill="#d3dde9"/>
<circle cx="270.59" cy="440.23" r="0.55" fill="#d3dde9"/>
<circle cx="275.07" cy="448.23" r="0.55" fill="#d3dde9"/>
<circle cx="276.06" cy="430.93" r="0.55" fill="#d3dde9"/>
<circle cx="276.13" cy="447.22" r="0.55" fill="#d3dde9"/>
<circle cx="275.52" cy="444.95" r="0.55" fill="#d3dde9"/>
<circle cx="275.01" cy="447.3" r="0.55" fill="#d3dde9"/>
<circle cx="275.63" cy="436.57" r="0.55" fill="#d3dde9"/>
<circle cx="276.09" cy="438.57" r="0.55" fill="#d3dde9"/>
<circle cx="268.66" cy="439.01" r="0.55" fill="#d3dde9"/>
<circle cx="275" cy="447.21" r="0.55" fill="#d3dde9"/>
<circle cx="274.9" cy="433.03" r="0.55" fill="#d3dde9"/>
<circle cx="274.87" cy="446.93" r="0.55" fill="#d3dde9"/>
<circle cx="272.28" cy="440.61" r="0.55" fill="#d3dde9"/>
<circle cx="275.29" cy="446.94" r="0.55" fill="#d3dde9"/>
<circle cx="278.04" cy="442.24" r="0.55" fill="#d3dde9"/>
<circle cx="281.81" cy="433.21" r="0.55" fill="#d3dde9"/>
<circle cx="272.98" cy="446.58" r="0.55" fill="#d3dde9"/>
<circle cx="274.09" cy="446.32" r="0.55" fill="#d3dde9"/>
<circle cx="280.94" cy="433.95" r="0.55" fill="#d3dde9"/>
<circle cx="274.07" cy="441.97" r="0.55" fill="#d3dde9"/>
<circle cx="269.11" cy="433.66" r="0.55" fill="#d3dde9"/>
<circle cx="274.17" cy="431.5" r="0.55" fill="#d3dde9"/>
<circle cx="273.04" cy="434.97" r="0.55" fill="#d3dde9"/>
<circle cx="276.99" cy="443.51" r="0.55" fill="#d3dde9"/>
<circle cx="281.28" cy="441.7" r="0.55" fill="#d3dde9"/>
<circle cx="273.85" cy="432.11" r="0.55" fill="#d3dde9"/>
<circle cx="276.46" cy="434.18" r="0.55" fill="#d3dde9"/>
<circle cx="274.24" cy="440.16" r="0.55" fill="#d3dde9"/>
<circle cx="280.27" cy="431.14" r="0.55" fill="#d3dde9"/>
<circle cx="274.31" cy="441.94" r="0.55" fill="#d3dde9"/>
<circle cx="271.48" cy="437.91" r="0.55" fill="#d3dde9"/>
<circle cx="276.38" cy="447.66" r="0.55" fill="#d3dde9"/>
<circle cx="274.62" cy="441.74" r="0.55" fill="#d3dde9"/>
<circle cx="275.29" cy="446.69" r="0.55" fill="#d3dde9"/>
<circle cx="278.14" cy="430.88" r="0.55" fill="#d3dde9"/>
<circle cx="264.37" cy="437.9" r="0.55" fill="#d3dde9"/>
<circle cx="284.65" cy="434.3" r="0.55" fill="#d3dde9"/>
<circle cx="273.9" cy="448.08" r="0.55" fill="#d3dde9"/>
<circle cx="274.59" cy="437.73" r="0.55" fill="#d3dde9"/>
<circle cx="278.74" cy="444.57" r="0.55" fill="#d3dde9"/>
<circle cx="280.34" cy="439.68" r="0.55" fill="#d3dde9"/>
<circle cx="273.93" cy="444.95" r="0.55" fill="#d3dde9"/>
<circle cx="266.51" cy="440.1" r="0.55" fill="#d3dde9"/>
<circle cx="277.66" cy="444.33" r="0.55" fill="#d3dde9"/>
<circle cx="274.54" cy="444.02" r="0.55" fill="#d3dde9"/>
<circle cx="273.5" cy="438.67" r="0.55" fill="#d3dde9"/>
<circle cx="269.67" cy="431.18" r="0.55" fill="#d3dde9"/>
<circle cx="275.06" cy="441.12" r="0.55" fill="#d3dde9"/>
<circle cx="276.53" cy="439.84" r="0.55" fill="#d3dde9"/>
<circle cx="275.91" cy="446.81" r="0.55" fill="#d3dde9"/>
<circle cx="273.64" cy="444.22" r="0.55" fill="#d3dde9"/>
<circle cx="276.26" cy="445.07" r="0.55" fill="#d3dde9"/>
<circle cx="273" cy="447.42" r="0.55" fill="#d3dde9"/>
<circle cx="272.8" cy="438.36" r="0.55" fill="#d3dde9"/>
<circle cx="273.63" cy="439.14" r="0.55" fill="#d3dde9"/>
<circle cx="272.43" cy="436.34" r="0.55" fill="#d3dde9"/>
<circle cx="270.69" cy="441.23" r="0.55" fill="#d3dde9"/>
<circle cx="273.84" cy="441.07" r="0.55" fill="#d3dde9"/>
<circle cx="275.39" cy="443.93" r="0.55" fill="#d3dde9"/>
<circle cx="278.03" cy="440.25" r="0.55" fill="#d3dde9"/>
<circle cx="274.9" cy="442.65" r="0.55" fill="#d3dde9"/>
<circle cx="275.08" cy="443.2" r="0.55" fill="#d3dde9"/>
<circle cx="275.89" cy="433.19" r="0.55" fill="#d3dde9"/>
<circle cx="280.02" cy="440.65" r="0.55" fill="#d3dde9"/>
<circle cx="277.27" cy="444.37" r="0.55" fill="#d3dde9"/>
<circle cx="274.92" cy="435.07" r="0.55" fill="#d3dde9"/>
<circle cx="278.3" cy="446.41" r="0.55" fill="#d3dde9"/>
<circle cx="278.08" cy="441.61" r="0.55" fill="#d3dde9"/>
<circle cx="274.37" cy="447.75" r="0.55" fill="#d3dde9"/>
<circle cx="279.11" cy="435.83" r="0.55" fill="#d3dde9"/>
<circle cx="275.84" cy="447.12" r="0.55" fill="#d3dde9"/>
<circle cx="289.02" cy="435.76" r="0.55" fill="#d3dde9"/>
<circle cx="274.52" cy="446.47" r="0.55" fill="#d3dde9"/>
<circle cx="279.3" cy="437.05" r="0.55" fill="#d3dde9"/>
<circle cx="280.31" cy="438.23" r="0.55" fill="#d3dde9"/>
<circle cx="269.45" cy="440.15" r="0.55" fill="#d3dde9"/>
<circle cx="274.91" cy="435.76" r="0.55" fill="#d3dde9"/>
<circle cx="269.22" cy="440.96" r="0.55" fill="#d3dde9"/>
<circle cx="271.97" cy="434.81" r="0.55" fill="#d3dde9"/>
<circle cx="272.18" cy="446.87" r="0.55" fill="#d3dde9"/>
<circle cx="286.35" cy="433" r="0.55" fill="#d3dde9"/>
<circle cx="275.5" cy="438.83" r="0.55" fill="#d3dde9"/>
<circle cx="280.06" cy="440.53" r="0.55" fill="#d3dde9"/>
<circle cx="274.33" cy="442.02" r="0.55" fill="#d3dde9"/>
<circle cx="280.85" cy="434.83" r="0.55" fill="#d3dde9"/>
<circle cx="272.39" cy="442.72" r="0.55" fill="#d3dde9"/>
<circle cx="269.97" cy="441.39" r="0.55" fill="#d3dde9"/>
<circle cx="276.31" cy="444.24" r="0.55" fill="#d3dde9"/>
<circle cx="272.49" cy="442.52" r="0.55" fill="#d3dde9"/>
<circle cx="274.43" cy="443.73" r="0.55" fill="#d3dde9"/>
<circle cx="279.33" cy="434.76" r="0.55" fill="#d3dde9"/>
<circle cx="272.07" cy="441.54" r="0.55" fill="#d3dde9"/>
<circle cx="274.97" cy="446.01" r="0.55" fill="#d3dde9"/>
<circle cx="277.57" cy="439.04" r="0.55" fill="#d3dde9"/>
<circle cx="283.61" cy="438.91" r="0.55" fill="#d3dde9"/>
<circle cx="278.38" cy="443.7" r="0.55" fill="#d3dde9"/>
<circle cx="283.64" cy="433.58" r="0.55" fill="#d3dde9"/>
<circle cx="271.26" cy="445.7" r="0.55" fill="#d3dde9"/>
<circle cx="275.71" cy="441.86" r="0.55" fill="#d3dde9"/>
<circle cx="275.22" cy="447.93" r="0.55" fill="#d3dde9"/>
<circle cx="265.8" cy="439.24" r="0.55" fill="#d3dde9"/>
<circle cx="275.52" cy="435.04" r="0.55" fill="#d3dde9"/>
<circle cx="280.18" cy="439.75" r="0.55" fill="#d3dde9"/>
<circle cx="275.25" cy="440.16" r="0.55" fill="#d3dde9"/>
<circle cx="271.62" cy="436.85" r="0.55" fill="#d3dde9"/>
<circle cx="277.97" cy="438.66" r="0.55" fill="#d3dde9"/>
<circle cx="279.25" cy="443.22" r="0.55" fill="#d3dde9"/>
<circle cx="273.39" cy="440.01" r="0.55" fill="#d3dde9"/>
<circle cx="274.36" cy="447.27" r="0.55" fill="#d3dde9"/>
<circle cx="278.32" cy="439.31" r="0.55" fill="#d3dde9"/>
<circle cx="283.37" cy="439.06" r="0.55" fill="#d3dde9"/>
<circle cx="268.78" cy="440.74" r="0.55" fill="#d3dde9"/>
<circle cx="267.35" cy="441.61" r="0.55" fill="#d3dde9"/>
<circle cx="268.88" cy="443.36" r="0.55" fill="#d3dde9"/>
<circle cx="276.28" cy="439.91" r="0.55" fill="#d3dde9"/>
<circle cx="273.86" cy="443.8" r="0.55" fill="#d3dde9"/>
<circle cx="279.34" cy="430.69" r="0.55" fill="#d3dde9"/>
<circle cx="273.84" cy="447.11" r="0.55" fill="#d3dde9"/>
<circle cx="270.74" cy="432.5" r="0.55" fill="#d3dde9"/>
<circle cx="262.51" cy="430.44" r="0.55" fill="#d3dde9"/>
<circle cx="271.9" cy="432.64" r="0.55" fill="#d3dde9"/>
<circle cx="275.97" cy="444.29" r="0.55" fill="#d3dde9"/>
<circle cx="272.81" cy="440.27" r="0.55" fill="#d3dde9"/>
<circle cx="275.27" cy="446.04" r="0.55" fill="#d3dde9"/>
<circle cx="271.81" cy="437.96" r="0.55" fill="#d3dde9"/>
<circle cx="271.1" cy="430.36" r="0.55" fill="#d3dde9"/>
<circle cx="280.01" cy="437.83" r="0.55" fill="#d3dde9"/>
<circle cx="276.88" cy="434.75" r="0.55" fill="#d3dde9"/>
<circle cx="275.22" cy="444" r="0.55" fill="#d3dde9"/>
<circle cx="275.1" cy="444.04" r="0.55" fill="#d3dde9"/>
<circle cx="267.32" cy="433.61" r="0.55" fill="#d3dde9"/>
<circle cx="273.89" cy="445.82" r="0.55" fill="#d3dde9"/>
<circle cx="272.51" cy="440.53" r="0.55" fill="#d3dde9"/>
<circle cx="274.06" cy="437.62" r="0.55" fill="#d3dde9"/>
<circle cx="280.52" cy="439.89" r="0.55" fill="#d3dde9"/>
<circle cx="275.22" cy="442.14" r="0.55" fill="#d3dde9"/>
<circle cx="276.63" cy="446.95" r="0.55" fill="#d3dde9"/>
<circle cx="277.2" cy="447.16" r="0.55" fill="#d3dde9"/>
<circle cx="276.07" cy="447.25" r="0.55" fill="#d3dde9"/>
<circle cx="281.84" cy="434.01" r="0.55" fill="#d3dde9"/>
<circle cx="275.87" cy="438.3" r="0.55" fill="#d3dde9"/>
<circle cx="274.99" cy="448.31" r="0.55" fill="#d3dde9"/>
<circle cx="271.29" cy="435.1" r="0.55" fill="#d3dde9"/>
<circle cx="279.28" cy="443.18" r="0.55" fill="#d3dde9"/>
<circle cx="275.22" cy="446.24" r="0.55" fill="#d3dde9"/>
<circle cx="278.37" cy="432.3" r="0.55" fill="#d3dde9"/>
<circle cx="272.53" cy="438.9" r="0.55" fill="#d3dde9"/>
<circle cx="277.97" cy="442.61" r="0.55" fill="#d3dde9"/>
<circle cx="276.43" cy="447.84" r="0.55" fill="#d3dde9"/>
<circle cx="269.27" cy="431.1" r="0.55" fill="#d3dde9"/>
<circle cx="273.45" cy="441.62" r="0.55" fill="#d3dde9"/>
<circle cx="274.75" cy="447.97" r="0.55" fill="#d3dde9"/>
<circle cx="279" cy="431.72" r="0.55" fill="#d3dde9"/>
<circle cx="270.69" cy="432.41" r="0.55" fill="#d3dde9"/>
<circle cx="272.57" cy="434.16" r="0.55" fill="#d3dde9"/>
<circle cx="284.51" cy="431.09" r="0.55" fill="#d3dde9"/>
<circle cx="277.95" cy="440.57" r="0.55" fill="#d3dde9"/>
<circle cx="274.6" cy="442.53" r="0.55" fill="#d3dde9"/>
<circle cx="276.12" cy="436.18" r="0.55" fill="#d3dde9"/>
<circle cx="280.82" cy="432.91" r="0.55" fill="#d3dde9"/>
<circle cx="276.03" cy="440.78" r="0.55" fill="#d3dde9"/>
<circle cx="274.07" cy="446.18" r="0.55" fill="#d3dde9"/>
<circle cx="278.23" cy="443.09" r="0.55" fill="#d3dde9"/>
<circle cx="281.2" cy="444.27" r="0.55" fill="#d3dde9"/>
<circle cx="279.2" cy="439.31" r="0.55" fill="#d3dde9"/>
<circle cx="277.75" cy="442.61" r="0.55" fill="#d3dde9"/>
<circle cx="276.77" cy="442.29" r="0.55" fill="#d3dde9"/>
<circle cx="276.56" cy="433.95" r="0.55" fill="#d3dde9"/>
<circle cx="275.36" cy="443.22" r="0.55" fill="#d3dde9"/>
<circle cx="276.83" cy="444.39" r="0.55" fill="#d3dde9"/>
<circle cx="278.29" cy="445.17" r="0.55" fill="#d3dde9"/>
<circle cx="276.17" cy="443.39" r="0.55" fill="#d3dde9"/>
<circle cx="275.11" cy="446.45" r="0.55" fill="#d3dde9"/>
<circle cx="274.34" cy="444.63" r="0.55" fill="#d3dde9"/>
<circle cx="279.97" cy="433.76" r="0.55" fill="#d3dde9"/>
<circle cx="280.15" cy="433.73" r="0.55" fill="#d3dde9"/>
<circle cx="278.32" cy="434.39" r="0.55" fill="#d3dde9"/>
<circle cx="279.52" cy="436.09" r="0.55" fill="#d3dde9"/>
<circle cx="277.24" cy="442.76" r="0.55" fill="#d3dde9"/>
<circle cx="274.04" cy="431.29" r="0.55" fill="#d3dde9"/>
<circle cx="275.89" cy="440.4" r="0.55" fill="#d3dde9"/>
<circle cx="276.9" cy="446.82" r="0.55" fill="#d3dde9"/>
<circle cx="274.54" cy="436.42" r="0.55" fill="#d3dde9"/>
<circle cx="284.68" cy="438.8" r="0.55" fill="#d3dde9"/>
<circle cx="275.39" cy="442.92" r="0.55" fill="#d3dde9"/>
<circle cx="277.94" cy="445.57" r="0.55" fill="#d3dde9"/>
<circle cx="280.89" cy="432.97" r="0.55" fill="#d3dde9"/>
<circle cx="278.7" cy="439.67" r="0.55" fill="#d3dde9"/>
<circle cx="275.61" cy="444.62" r="0.55" fill="#d3dde9"/>
<circle cx="270.52" cy="437.41" r="0.55" fill="#d3dde9"/>
<circle cx="273.73" cy="439.19" r="0.55" fill="#d3dde9"/>
<circle cx="276.45" cy="447.44" r="0.55" fill="#d3dde9"/>
<circle cx="276.2" cy="446.12" r="0.55" fill="#d3dde9"/>
<circle cx="271.81" cy="437.31" r="0.55" fill="#d3dde9"/>
<circle cx="274.11" cy="447.13" r="0.55" fill="#d3dde9"/>
<circle cx="273.94" cy="440.48" r="0.55" fill="#d3dde9"/>
<circle cx="277.23" cy="444.17" r="0.55" fill="#d3dde9"/>
<circle cx="276" cy="445.34" r="0.55" fill="#d3dde9"/>
<circle cx="275.05" cy="446.88" r="0.55" fill="#d3dde9"/>
<circle cx="272.81" cy="442.29" r="0.55" fill="#d3dde9"/>
<circle cx="277.5" cy="432.19" r="0.55" fill="#d3dde9"/>
<circle cx="262.18" cy="433.21" r="0.55" fill="#d3dde9"/>
<circle cx="275.24" cy="446.8" r="0.55" fill="#d3dde9"/>
<circle cx="276.52" cy="436.97" r="0.55" fill="#d3dde9"/>
<circle cx="272.27" cy="437.29" r="0.55" fill="#d3dde9"/>
<circle cx="279.36" cy="437.38" r="0.55" fill="#d3dde9"/>
<circle cx="275.4" cy="436.57" r="0.55" fill="#d3dde9"/>
<circle cx="280.7" cy="443.21" r="0.55" fill="#d3dde9"/>
<circle cx="276.26" cy="437.98" r="0.55" fill="#d3dde9"/>
<circle cx="278.37" cy="432.11" r="0.55" fill="#d3dde9"/>
<circle cx="274.93" cy="435.86" r="0.55" fill="#d3dde9"/>
<circle cx="275.01" cy="448.02" r="0.55" fill="#d3dde9"/>
<circle cx="275.75" cy="446.35" r="0.55" fill="#d3dde9"/>
<circle cx="277.69" cy="442.69" r="0.55" fill="#d3dde9"/>
<circle cx="274.75" cy="448.03" r="0.55" fill="#d3dde9"/>
<circle cx="277.6" cy="446.08" r="0.55" fill="#d3dde9"/>
<circle cx="266.32" cy="433.67" r="0.55" fill="#d3dde9"/>
<circle cx="273.82" cy="444.88" r="0.55" fill="#d3dde9"/>
<circle cx="274.06" cy="441.71" r="0.55" fill="#d3dde9"/>
<circle cx="274.53" cy="448.4" r="0.55" fill="#d3dde9"/>
<circle cx="276.14" cy="433.78" r="0.55" fill="#d3dde9"/>
<circle cx="274.45" cy="447.98" r="0.55" fill="#d3dde9"/>
<circle cx="273.75" cy="433.36" r="0.55" fill="#d3dde9"/>
<circle cx="274.89" cy="445.05" r="0.55" fill="#d3dde9"/>
<circle cx="275.54" cy="447.1" r="0.55" fill="#d3dde9"/>
<circle cx="270.77" cy="432.07" r="0.55" fill="#d3dde9"/>
<circle cx="282.65" cy="435.54" r="0.55" fill="#d3dde9"/>
<circle cx="277.73" cy="442.46" r="0.55" fill="#d3dde9"/>
<circle cx="277.44" cy="435.58" r="0.55" fill="#d3dde9"/>
<circle cx="274.39" cy="447.39" r="0.55" fill="#d3dde9"/>
<circle cx="260.8" cy="431.39" r="0.55" fill="#d3dde9"/>
<circle cx="280.75" cy="436.72" r="0.55" fill="#d3dde9"/>
<circle cx="279.02" cy="435.76" r="0.55" fill="#d3dde9"/>
<circle cx="271.05" cy="441.38" r="0.55" fill="#d3dde9"/>
<circle cx="274.93" cy="447.85" r="0.55" fill="#d3dde9"/>
<circle cx="271.44" cy="440.26" r="0.55" fill="#d3dde9"/>
<circle cx="283.47" cy="431.78" r="0.55" fill="#d3dde9"/>
<circle cx="276.58" cy="447.98" r="0.55" fill="#d3dde9"/>
<circle cx="276.69" cy="436.5" r="0.55" fill="#d3dde9"/>
<circle cx="272.31" cy="439.6" r="0.55" fill="#d3dde9"/>
<circle cx="269.39" cy="430.89" r="0.55" fill="#d3dde9"/>
<circle cx="273.25" cy="444.96" r="0.55" fill="#d3dde9"/>
<circle cx="274.58" cy="447.79" r="0.55" fill="#d3dde9"/>
<circle cx="276.8" cy="445.74" r="0.55" fill="#d3dde9"/>
<circle cx="277.88" cy="443.93" r="0.55" fill="#d3dde9"/>
<circle cx="281.21" cy="437.15" r="0.55" fill="#d3dde9"/>
<circle cx="275.43" cy="445.16" r="0.55" fill="#d3dde9"/>
<circle cx="279.38" cy="441.52" r="0.55" fill="#d3dde9"/>
<circle cx="271.79" cy="431.61" r="0.55" fill="#d3dde9"/>
<circle cx="279.77" cy="432.71" r="0.55" fill="#d3dde9"/>
<circle cx="274.03" cy="446.65" r="0.55" fill="#d3dde9"/>
<circle cx="273.18" cy="434.17" r="0.55" fill="#d3dde9"/>
<circle cx="275.47" cy="439.56" r="0.55" fill="#d3dde9"/>
<circle cx="272.29" cy="437.23" r="0.55" fill="#d3dde9"/>
<circle cx="267.91" cy="438.58" r="0.55" fill="#d3dde9"/>
<circle cx="277.85" cy="433.84" r="0.55" fill="#d3dde9"/>
<circle cx="274.98" cy="447.05" r="0.55" fill="#d3dde9"/>
<circle cx="277.04" cy="445.66" r="0.55" fill="#d3dde9"/>
<circle cx="275.16" cy="447.77" r="0.55" fill="#d3dde9"/>
<circle cx="278.69" cy="436.52" r="0.55" fill="#d3dde9"/>
<circle cx="277.6" cy="441.46" r="0.55" fill="#d3dde9"/>
<circle cx="277.35" cy="441.08" r="0.55" fill="#d3dde9"/>
<circle cx="275.84" cy="443.01" r="0.55" fill="#d3dde9"/>
<circle cx="275.61" cy="448.32" r="0.55" fill="#d3dde9"/>
<circle cx="275.31" cy="430.4" r="0.55" fill="#d3dde9"/>
<circle cx="273.07" cy="436.2" r="0.55" fill="#d3dde9"/>
<circle cx="272.05" cy="430.65" r="0.55" fill="#d3dde9"/>
<circle cx="274.61" cy="440.7" r="0.55" fill="#d3dde9"/>
<circle cx="276.84" cy="441.72" r="0.55" fill="#d3dde9"/>
<circle cx="276.37" cy="448.34" r="0.55" fill="#d3dde9"/>
<circle cx="269.36" cy="431.96" r="0.55" fill="#d3dde9"/>
<circle cx="267.55" cy="431.63" r="0.55" fill="#d3dde9"/>
<circle cx="275.27" cy="437.51" r="0.55" fill="#d3dde9"/>
<circle cx="276.44" cy="446.7" r="0.55" fill="#d3dde9"/>
<circle cx="275.59" cy="448.15" r="0.55" fill="#d3dde9"/>
<circle cx="270.7" cy="444.18" r="0.55" fill="#d3dde9"/>
<circle cx="273.08" cy="445.99" r="0.55" fill="#d3dde9"/>
<circle cx="265.09" cy="431.81" r="0.55" fill="#d3dde9"/>
<circle cx="275.98" cy="446.26" r="0.55" fill="#d3dde9"/>
<circle cx="265.15" cy="435.69" r="0.55" fill="#d3dde9"/>
<circle cx="277.26" cy="443.65" r="0.55" fill="#d3dde9"/>
<circle cx="279.72" cy="443.77" r="0.55" fill="#d3dde9"/>
<circle cx="272.67" cy="442.91" r="0.55" fill="#d3dde9"/>
<circle cx="273.42" cy="433.84" r="0.55" fill="#d3dde9"/>
<circle cx="277.91" cy="445.13" r="0.55" fill="#d3dde9"/>
<circle cx="276.85" cy="438" r="0.55" fill="#d3dde9"/>
<circle cx="271.65" cy="434.08" r="0.55" fill="#d3dde9"/>
<circle cx="260.55" cy="431.42" r="0.55" fill="#d3dde9"/>
<circle cx="273.11" cy="440.59" r="0.55" fill="#d3dde9"/>
<circle cx="275.3" cy="444.12" r="0.55" fill="#d3dde9"/>
<circle cx="281.1" cy="438.92" r="0.55" fill="#d3dde9"/>
<circle cx="276.52" cy="446.33" r="0.55" fill="#d3dde9"/>
<circle cx="276.74" cy="441.55" r="0.55" fill="#d3dde9"/>
<circle cx="275.22" cy="448.02" r="0.55" fill="#d3dde9"/>
<circle cx="277.26" cy="441.62" r="0.55" fill="#d3dde9"/>
<circle cx="276.65" cy="448.38" r="0.55" fill="#d3dde9"/>
<circle cx="282.07" cy="433.64" r="0.55" fill="#d3dde9"/>
<circle cx="270.77" cy="441.88" r="0.55" fill="#d3dde9"/>
<circle cx="273.81" cy="444.4" r="0.55" fill="#d3dde9"/>
<circle cx="271.99" cy="441.96" r="0.55" fill="#d3dde9"/>
<circle cx="271.59" cy="443.44" r="0.55" fill="#d3dde9"/>
<circle cx="278.72" cy="433.95" r="0.55" fill="#d3dde9"/>
<circle cx="278.19" cy="432.3" r="0.55" fill="#d3dde9"/>
<circle cx="277.74" cy="441.55" r="0.55" fill="#d3dde9"/>
<circle cx="273.69" cy="439.27" r="0.55" fill="#d3dde9"/>
<circle cx="275.97" cy="447.46" r="0.55" fill="#d3dde9"/>
<circle cx="268.57" cy="443.7" r="0.55" fill="#d3dde9"/>
<circle cx="279.74" cy="432.2" r="0.55" fill="#d3dde9"/>
<circle cx="291.57" cy="433.12" r="0.55" fill="#d3dde9"/>
<circle cx="273.41" cy="438.16" r="0.55" fill="#d3dde9"/>
<circle cx="283.73" cy="434.26" r="0.55" fill="#d3dde9"/>
<circle cx="277.81" cy="438.37" r="0.55" fill="#d3dde9"/>
<circle cx="269.87" cy="444.16" r="0.55" fill="#d3dde9"/>
<circle cx="271.41" cy="440.85" r="0.55" fill="#d3dde9"/>
<circle cx="273.95" cy="437.61" r="0.55" fill="#d3dde9"/>
<circle cx="281.07" cy="432.7" r="0.55" fill="#d3dde9"/>
<circle cx="275.86" cy="448.15" r="0.55" fill="#d3dde9"/>
<circle cx="280.07" cy="441.48" r="0.55" fill="#d3dde9"/>
<circle cx="274.66" cy="447.45" r="0.55" fill="#d3dde9"/>
<circle cx="271.76" cy="438.93" r="0.55" fill="#d3dde9"/>
<circle cx="271.24" cy="442.05" r="0.55" fill="#d3dde9"/>
<circle cx="274.56" cy="442.41" r="0.55" fill="#d3dde9"/>
<circle cx="276.53" cy="447.05" r="0.55" fill="#d3dde9"/>
<circle cx="283.12" cy="439.57" r="0.55" fill="#d3dde9"/>
<circle cx="275.98" cy="447.08" r="0.55" fill="#d3dde9"/>
<circle cx="274.55" cy="447.32" r="0.55" fill="#d3dde9"/>
<circle cx="275.26" cy="439.9" r="0.55" fill="#d3dde9"/>
<circle cx="280.11" cy="439.45" r="0.55" fill="#d3dde9"/>
<circle cx="274.42" cy="445.34" r="0.55" fill="#d3dde9"/>
<circle cx="274.47" cy="440.24" r="0.55" fill="#d3dde9"/>
<circle cx="279.24" cy="438.78" r="0.55" fill="#d3dde9"/>
<circle cx="275.89" cy="447.61" r="0.55" fill="#d3dde9"/>
<circle cx="278.08" cy="441.62" r="0.55" fill="#d3dde9"/>
<circle cx="270.22" cy="436.26" r="0.55" fill="#d3dde9"/>
<circle cx="288.23" cy="435.39" r="0.55" fill="#d3dde9"/>
<circle cx="286.11" cy="436.11" r="0.55" fill="#d3dde9"/>
<circle cx="275.94" cy="447.22" r="0.55" fill="#d3dde9"/>
<circle cx="273.82" cy="446.21" r="0.55" fill="#d3dde9"/>
<circle cx="263.85" cy="431.09" r="0.55" fill="#d3dde9"/>
<circle cx="274.3" cy="446.73" r="0.55" fill="#d3dde9"/>
<circle cx="279.27" cy="434.99" r="0.55" fill="#d3dde9"/>
<circle cx="276.06" cy="442.85" r="0.55" fill="#d3dde9"/>
<circle cx="274.76" cy="448.28" r="0.55" fill="#d3dde9"/>
<circle cx="274.35" cy="444.12" r="0.55" fill="#d3dde9"/>
<circle cx="265.46" cy="436.4" r="0.55" fill="#d3dde9"/>
<circle cx="279.65" cy="438.13" r="0.55" fill="#d3dde9"/>
<circle cx="261.9" cy="432.98" r="0.55" fill="#d3dde9"/>
<circle cx="269.71" cy="433" r="0.55" fill="#d3dde9"/>
<circle cx="275.26" cy="446.26" r="0.55" fill="#d3dde9"/>
<circle cx="270.12" cy="435.25" r="0.55" fill="#d3dde9"/>
<circle cx="276.48" cy="436.95" r="0.55" fill="#d3dde9"/>
<circle cx="273.97" cy="442.83" r="0.55" fill="#d3dde9"/>
<circle cx="283.6" cy="435.79" r="0.55" fill="#d3dde9"/>
<circle cx="274.76" cy="447.98" r="0.55" fill="#d3dde9"/>
<circle cx="279.9" cy="438.48" r="0.55" fill="#d3dde9"/>
<circle cx="279.72" cy="434.43" r="0.55" fill="#d3dde9"/>
<circle cx="277.15" cy="447.07" r="0.55" fill="#d3dde9"/>
<circle cx="273.82" cy="444.88" r="0.55" fill="#d3dde9"/>
<circle cx="272.02" cy="445.87" r="0.55" fill="#d3dde9"/>
<circle cx="278.02" cy="438.92" r="0.55" fill="#d3dde9"/>
<circle cx="275.96" cy="447.06" r="0.55" fill="#d3dde9"/>
<circle cx="275.68" cy="434.48" r="0.55" fill="#d3dde9"/>
<circle cx="273.92" cy="446" r="0.55" fill="#d3dde9"/>
<circle cx="273.89" cy="436.81" r="0.55" fill="#d3dde9"/>
<circle cx="279.04" cy="442.69" r="0.55" fill="#d3dde9"/>
<circle cx="281.79" cy="439.75" r="0.55" fill="#d3dde9"/>
<circle cx="279.77" cy="436.77" r="0.55" fill="#d3dde9"/>
<circle cx="273.16" cy="448.29" r="0.55" fill="#d3dde9"/>
<circle cx="277.17" cy="443.38" r="0.55" fill="#d3dde9"/>
<circle cx="281.54" cy="432.96" r="0.55" fill="#d3dde9"/>
<circle cx="278.98" cy="434.48" r="0.55" fill="#d3dde9"/>
<circle cx="276.15" cy="434.11" r="0.55" fill="#d3dde9"/>
<circle cx="270.82" cy="436.97" r="0.55" fill="#d3dde9"/>
<circle cx="276.45" cy="446.41" r="0.55" fill="#d3dde9"/>
<circle cx="265.28" cy="433.55" r="0.55" fill="#d3dde9"/>
<circle cx="281.04" cy="438.34" r="0.55" fill="#d3dde9"/>
<circle cx="274.9" cy="447.58" r="0.55" fill="#d3dde9"/>
<circle cx="279.39" cy="432.51" r="0.55" fill="#d3dde9"/>
<circle cx="277.88" cy="438.77" r="0.55" fill="#d3dde9"/>
<circle cx="275.77" cy="443.05" r="0.55" fill="#d3dde9"/>
<circle cx="272.19" cy="441.1" r="0.55" fill="#d3dde9"/>
<circle cx="274.01" cy="443.18" r="0.55" fill="#d3dde9"/>
<circle cx="274.58" cy="448.36" r="0.55" fill="#d3dde9"/>
<circle cx="274.89" cy="448.23" r="0.55" fill="#d3dde9"/>
<circle cx="276.36" cy="441.25" r="0.55" fill="#d3dde9"/>
<circle cx="275.26" cy="446.6" r="0.55" fill="#d3dde9"/>
<circle cx="274.73" cy="437.14" r="0.55" fill="#d3dde9"/>
<circle cx="278.28" cy="440.49" r="0.55" fill="#d3dde9"/>
<circle cx="272.83" cy="444.76" r="0.55" fill="#d3dde9"/>
<circle cx="271.62" cy="431.16" r="0.55" fill="#d3dde9"/>
<circle cx="284.62" cy="430.39" r="0.55" fill="#d3dde9"/>
<circle cx="276.86" cy="435.1" r="0.55" fill="#d3dde9"/>
<circle cx="276.7" cy="432.97" r="0.55" fill="#d3dde9"/>
<circle cx="268.69" cy="437.87" r="0.55" fill="#d3dde9"/>
<circle cx="274.3" cy="443.01" r="0.55" fill="#d3dde9"/>
<circle cx="286.66" cy="432.96" r="0.55" fill="#d3dde9"/>
<circle cx="272.8" cy="431.55" r="0.55" fill="#d3dde9"/>
<circle cx="270.91" cy="435.25" r="0.55" fill="#d3dde9"/>
<circle cx="267.51" cy="435.75" r="0.55" fill="#d3dde9"/>
<circle cx="275.08" cy="443.24" r="0.55" fill="#d3dde9"/>
<circle cx="274.09" cy="439.52" r="0.55" fill="#d3dde9"/>
<circle cx="275.83" cy="443.47" r="0.55" fill="#d3dde9"/>
<circle cx="278.27" cy="443.71" r="0.55" fill="#d3dde9"/>
<circle cx="275.06" cy="442.94" r="0.55" fill="#d3dde9"/>
<circle cx="275.49" cy="445.06" r="0.55" fill="#d3dde9"/>
<circle cx="276.68" cy="446.75" r="0.55" fill="#d3dde9"/>
<circle cx="275.99" cy="448.35" r="0.55" fill="#d3dde9"/>
<circle cx="272.59" cy="441.51" r="0.55" fill="#d3dde9"/>
<circle cx="274.46" cy="439.17" r="0.55" fill="#d3dde9"/>
<circle cx="275.96" cy="447.7" r="0.55" fill="#d3dde9"/>
<circle cx="273.87" cy="444.09" r="0.55" fill="#d3dde9"/>
<circle cx="281.51" cy="439.51" r="0.55" fill="#d3dde9"/>
<circle cx="266.8" cy="431.58" r="0.55" fill="#d3dde9"/>
<circle cx="283.58" cy="438.88" r="0.55" fill="#d3dde9"/>
<circle cx="276" cy="447.52" r="0.55" fill="#d3dde9"/>
<circle cx="284.09" cy="430.5" r="0.55" fill="#d3dde9"/>
<circle cx="275.76" cy="443.12" r="0.55" fill="#d3dde9"/>
<circle cx="268.54" cy="433.06" r="0.55" fill="#d3dde9"/>
<circle cx="272.83" cy="447.68" r="0.55" fill="#d3dde9"/>
<circle cx="275.78" cy="444.52" r="0.55" fill="#d3dde9"/>
<circle cx="276.6" cy="444.83" r="0.55" fill="#d3dde9"/>
<circle cx="275.5" cy="444.66" r="0.55" fill="#d3dde9"/>
<circle cx="276.35" cy="436.46" r="0.55" fill="#d3dde9"/>
<circle cx="277.14" cy="445.76" r="0.55" fill="#d3dde9"/>
<circle cx="279.57" cy="438.5" r="0.55" fill="#d3dde9"/>
<circle cx="273.3" cy="445.82" r="0.55" fill="#d3dde9"/>
<circle cx="282.49" cy="435.86" r="0.55" fill="#d3dde9"/>
<circle cx="274.92" cy="447.53" r="0.55" fill="#d3dde9"/>
<circle cx="279.2" cy="434.3" r="0.55" fill="#d3dde9"/>
<circle cx="274.33" cy="446.73" r="0.55" fill="#d3dde9"/>
<circle cx="271.75" cy="445.95" r="0.55" fill="#d3dde9"/>
<circle cx="273.06" cy="437.76" r="0.55" fill="#d3dde9"/>
<circle cx="276.74" cy="431.89" r="0.55" fill="#d3dde9"/>
<circle cx="280.11" cy="435.54" r="0.55" fill="#d3dde9"/>
<circle cx="269.27" cy="437.58" r="0.55" fill="#d3dde9"/>
<circle cx="277.58" cy="443.46" r="0.55" fill="#d3dde9"/>
<circle cx="275.01" cy="447.81" r="0.55" fill="#d3dde9"/>
<circle cx="276.03" cy="438.03" r="0.55" fill="#d3dde9"/>
<circle cx="271.69" cy="443.52" r="0.55" fill="#d3dde9"/>
<circle cx="275.4" cy="444.84" r="0.55" fill="#d3dde9"/>
<circle cx="283.29" cy="441.18" r="0.55" fill="#d3dde9"/>
<circle cx="276.12" cy="439.26" r="0.55" fill="#d3dde9"/>
<circle cx="284.89" cy="430.5" r="0.55" fill="#d3dde9"/>
<circle cx="277.86" cy="436.06" r="0.55" fill="#d3dde9"/>
<circle cx="276.58" cy="443.61" r="0.55" fill="#d3dde9"/>
<circle cx="275.8" cy="446.64" r="0.55" fill="#d3dde9"/>
<circle cx="284.14" cy="435.18" r="0.55" fill="#d3dde9"/>
<circle cx="278.49" cy="441.92" r="0.55" fill="#d3dde9"/>
<circle cx="270.93" cy="439.75" r="0.55" fill="#d3dde9"/>
<circle cx="272.02" cy="437.41" r="0.55" fill="#d3dde9"/>
<circle cx="271.71" cy="438.52" r="0.55" fill="#d3dde9"/>
<circle cx="278.46" cy="444.83" r="0.55" fill="#d3dde9"/>
<circle cx="276.06" cy="436.32" r="0.55" fill="#d3dde9"/>
<circle cx="270.97" cy="443.95" r="0.55" fill="#d3dde9"/>
<circle cx="281.55" cy="435.06" r="0.55" fill="#d3dde9"/>
<circle cx="274.94" cy="444.48" r="0.55" fill="#d3dde9"/>
<circle cx="277.25" cy="440.04" r="0.55" fill="#d3dde9"/>
<circle cx="275.12" cy="448.34" r="0.55" fill="#d3dde9"/>
<circle cx="271.81" cy="440.95" r="0.55" fill="#d3dde9"/>
<circle cx="271.22" cy="443.02" r="0.55" fill="#d3dde9"/>
<circle cx="277.01" cy="430.45" r="0.55" fill="#d3dde9"/>
<circle cx="277.41" cy="447.39" r="0.55" fill="#d3dde9"/>
<circle cx="275.53" cy="448.15" r="0.55" fill="#d3dde9"/>
<circle cx="276.3" cy="440.45" r="0.55" fill="#d3dde9"/>
<circle cx="279.39" cy="439.43" r="0.55" fill="#d3dde9"/>
<circle cx="281.49" cy="442.97" r="0.55" fill="#d3dde9"/>
<circle cx="276.43" cy="446.54" r="0.55" fill="#d3dde9"/>
<circle cx="285.41" cy="431.92" r="0.55" fill="#d3dde9"/>
<circle cx="278.1" cy="446.35" r="0.55" fill="#d3dde9"/>
<circle cx="275.96" cy="445.08" r="0.55" fill="#d3dde9"/>
<circle cx="264.83" cy="430.61" r="0.55" fill="#d3dde9"/>
<circle cx="275.33" cy="443.34" r="0.55" fill="#d3dde9"/>
<circle cx="270.2" cy="434.48" r="0.55" fill="#d3dde9"/>
<circle cx="276.78" cy="432.31" r="0.55" fill="#d3dde9"/>
<circle cx="275.25" cy="447.14" r="0.55" fill="#d3dde9"/>
<circle cx="273.54" cy="437.65" r="0.55" fill="#d3dde9"/>
<circle cx="276.02" cy="442.31" r="0.55" fill="#d3dde9"/>
<circle cx="274.18" cy="439.25" r="0.55" fill="#d3dde9"/>
<circle cx="281.96" cy="442.17" r="0.55" fill="#d3dde9"/>
<circle cx="269.83" cy="438.02" r="0.55" fill="#d3dde9"/>
<circle cx="275.28" cy="445.38" r="0.55" fill="#d3dde9"/>
<circle cx="277.89" cy="441.73" r="0.55" fill="#d3dde9"/>
<circle cx="276.3" cy="445.26" r="0.55" fill="#d3dde9"/>
<circle cx="283.02" cy="437.71" r="0.55" fill="#d3dde9"/>
<circle cx="277.01" cy="444.14" r="0.55" fill="#d3dde9"/>
<circle cx="275.19" cy="439.15" r="0.55" fill="#d3dde9"/>
<circle cx="277.42" cy="446.43" r="0.55" fill="#d3dde9"/>
<circle cx="271.85" cy="444.67" r="0.55" fill="#d3dde9"/>
<circle cx="277.31" cy="435.5" r="0.55" fill="#d3dde9"/>
<circle cx="273.36" cy="443.57" r="0.55" fill="#d3dde9"/>
<circle cx="276.99" cy="440.76" r="0.55" fill="#d3dde9"/>
<circle cx="273.39" cy="436.9" r="0.55" fill="#d3dde9"/>
<circle cx="269.69" cy="438.6" r="0.55" fill="#d3dde9"/>
<circle cx="277.82" cy="432.75" r="0.55" fill="#d3dde9"/>
<circle cx="276.65" cy="445.61" r="0.55" fill="#d3dde9"/>
<circle cx="271.64" cy="434.91" r="0.55" fill="#d3dde9"/>
<circle cx="280.6" cy="433.16" r="0.55" fill="#d3dde9"/>
<circle cx="288.87" cy="430.34" r="0.55" fill="#d3dde9"/>
<circle cx="276.47" cy="444.16" r="0.55" fill="#d3dde9"/>
<circle cx="275.84" cy="430.78" r="0.55" fill="#d3dde9"/>
<circle cx="275.75" cy="448.33" r="0.55" fill="#d3dde9"/>
<circle cx="273.65" cy="435.82" r="0.55" fill="#d3dde9"/>
<circle cx="276.27" cy="447.29" r="0.55" fill="#d3dde9"/>
<circle cx="276.98" cy="447.39" r="0.55" fill="#d3dde9"/>
<circle cx="279.04" cy="443.43" r="0.55" fill="#d3dde9"/>
<circle cx="270.18" cy="432.77" r="0.55" fill="#d3dde9"/>
<circle cx="280.55" cy="430.67" r="0.55" fill="#d3dde9"/>
<circle cx="276.18" cy="434.66" r="0.55" fill="#d3dde9"/>
<circle cx="281.2" cy="436.77" r="0.55" fill="#d3dde9"/>
<circle cx="275.87" cy="445.26" r="0.55" fill="#d3dde9"/>
<circle cx="275.82" cy="441.79" r="0.55" fill="#d3dde9"/>
<circle cx="276.21" cy="430.42" r="0.55" fill="#d3dde9"/>
<circle cx="276.24" cy="443.83" r="0.55" fill="#d3dde9"/>
<circle cx="274.01" cy="440.73" r="0.55" fill="#d3dde9"/>
<circle cx="274.45" cy="446.74" r="0.55" fill="#d3dde9"/>
<circle cx="276.69" cy="436.85" r="0.55" fill="#d3dde9"/>
<circle cx="275.16" cy="446.57" r="0.55" fill="#d3dde9"/>
<circle cx="273.68" cy="447.08" r="0.55" fill="#d3dde9"/>
<circle cx="269.04" cy="443.18" r="0.55" fill="#d3dde9"/>
<circle cx="275.45" cy="443.25" r="0.55" fill="#d3dde9"/>
<circle cx="279.25" cy="445.52" r="0.55" fill="#d3dde9"/>
<circle cx="273.02" cy="435.91" r="0.55" fill="#d3dde9"/>
<circle cx="276.09" cy="444.57" r="0.55" fill="#d3dde9"/>
<circle cx="276.12" cy="447.67" r="0.55" fill="#d3dde9"/>
<circle cx="274.22" cy="447.98" r="0.55" fill="#d3dde9"/>
<circle cx="275.07" cy="439.4" r="0.55" fill="#d3dde9"/>
<circle cx="279.65" cy="443.02" r="0.55" fill="#d3dde9"/>
<circle cx="275.79" cy="437.5" r="0.55" fill="#d3dde9"/>
<circle cx="269.35" cy="439.65" r="0.55" fill="#d3dde9"/>
<circle cx="271.9" cy="430.61" r="0.55" fill="#d3dde9"/>
<circle cx="273.98" cy="432.93" r="0.55" fill="#d3dde9"/>
<circle cx="272.76" cy="443.8" r="0.55" fill="#d3dde9"/>
<circle cx="278.44" cy="442" r="0.55" fill="#d3dde9"/>
<circle cx="274.8" cy="442.61" r="0.55" fill="#d3dde9"/>
<circle cx="282.35" cy="442.17" r="0.55" fill="#d3dde9"/>
<circle cx="277.86" cy="448.37" r="0.55" fill="#d3dde9"/>
<circle cx="278.41" cy="438.4" r="0.55" fill="#d3dde9"/>
<circle cx="273.74" cy="438.34" r="0.55" fill="#d3dde9"/>
<circle cx="275.41" cy="442.76" r="0.55" fill="#d3dde9"/>
<circle cx="276.23" cy="447.03" r="0.55" fill="#d3dde9"/>
<circle cx="278.21" cy="433.59" r="0.55" fill="#d3dde9"/>
<circle cx="272.99" cy="447.91" r="0.55" fill="#d3dde9"/>
<circle cx="271.95" cy="436.67" r="0.55" fill="#d3dde9"/>
<circle cx="280.59" cy="439.55" r="0.55" fill="#d3dde9"/>
<circle cx="275.41" cy="443.84" r="0.55" fill="#d3dde9"/>
<circle cx="275.26" cy="435.61" r="0.55" fill="#d3dde9"/>
<circle cx="266.8" cy="433.37" r="0.55" fill="#d3dde9"/>
<circle cx="274.66" cy="430.34" r="0.55" fill="#d3dde9"/>
<circle cx="272.97" cy="445.21" r="0.55" fill="#d3dde9"/>
<circle cx="271.75" cy="442.73" r="0.55" fill="#d3dde9"/>
<circle cx="270.23" cy="436.3" r="0.55" fill="#d3dde9"/>
<circle cx="278.76" cy="438.3" r="0.55" fill="#d3dde9"/>
<circle cx="272.2" cy="437.01" r="0.55" fill="#d3dde9"/>
<circle cx="280.45" cy="439.66" r="0.55" fill="#d3dde9"/>
<circle cx="274.11" cy="445.39" r="0.55" fill="#d3dde9"/>
<circle cx="271.84" cy="432.2" r="0.55" fill="#d3dde9"/>
<circle cx="274.52" cy="440.99" r="0.55" fill="#d3dde9"/>
<circle cx="270.98" cy="440.93" r="0.55" fill="#d3dde9"/>
<circle cx="278.14" cy="445.43" r="0.55" fill="#d3dde9"/>
<circle cx="282.38" cy="439.94" r="0.55" fill="#d3dde9"/>
<circle cx="268.19" cy="440.03" r="0.55" fill="#d3dde9"/>
<circle cx="274.64" cy="445.14" r="0.55" fill="#d3dde9"/>
<circle cx="276.12" cy="446.2" r="0.55" fill="#d3dde9"/>
<circle cx="270.54" cy="437.75" r="0.55" fill="#d3dde9"/>
<circle cx="285.04" cy="433.92" r="0.55" fill="#d3dde9"/>
<circle cx="273.99" cy="447.98" r="0.55" fill="#d3dde9"/>
<circle cx="278.01" cy="442.69" r="0.55" fill="#d3dde9"/>
<circle cx="273" cy="446.93" r="0.55" fill="#d3dde9"/>
<circle cx="275.29" cy="446.48" r="0.55" fill="#d3dde9"/>
<circle cx="276.61" cy="443.13" r="0.55" fill="#d3dde9"/>
<circle cx="268.8" cy="434.43" r="0.55" fill="#d3dde9"/>
<circle cx="275.12" cy="447.42" r="0.55" fill="#d3dde9"/>
<circle cx="280.03" cy="442.43" r="0.55" fill="#d3dde9"/>
<circle cx="275.2" cy="441.44" r="0.55" fill="#d3dde9"/>
<circle cx="277.13" cy="440.9" r="0.55" fill="#d3dde9"/>
<circle cx="272.76" cy="446.54" r="0.55" fill="#d3dde9"/>
<circle cx="271.19" cy="436.95" r="0.55" fill="#d3dde9"/>
<circle cx="277.17" cy="445.16" r="0.55" fill="#d3dde9"/>
<circle cx="273.77" cy="442.87" r="0.55" fill="#d3dde9"/>
<circle cx="276.09" cy="448.26" r="0.55" fill="#d3dde9"/>
<circle cx="274.72" cy="445.75" r="0.55" fill="#d3dde9"/>
<circle cx="275.04" cy="446.1" r="0.55" fill="#d3dde9"/>
<circle cx="274.57" cy="436.18" r="0.55" fill="#d3dde9"/>
<circle cx="277.14" cy="445.09" r="0.55" fill="#d3dde9"/>
<circle cx="282.72" cy="433.78" r="0.55" fill="#d3dde9"/>
<circle cx="280.24" cy="433.26" r="0.55" fill="#d3dde9"/>
<circle cx="272.37" cy="445.74" r="0.55" fill="#d3dde9"/>
<circle cx="279.09" cy="438.2" r="0.55" fill="#d3dde9"/>
<circle cx="278.33" cy="442.86" r="0.55" fill="#d3dde9"/>
<circle cx="276.15" cy="442.94" r="0.55" fill="#d3dde9"/>
<circle cx="273.78" cy="436.3" r="0.55" fill="#d3dde9"/>
<circle cx="280.04" cy="437.6" r="0.55" fill="#d3dde9"/>
<circle cx="271.73" cy="434.27" r="0.55" fill="#d3dde9"/>
<circle cx="278.71" cy="438.97" r="0.55" fill="#d3dde9"/>
<circle cx="281.91" cy="431.85" r="0.55" fill="#d3dde9"/>
<circle cx="288.46" cy="436.31" r="0.55" fill="#d3dde9"/>
<circle cx="273.98" cy="442.85" r="0.55" fill="#d3dde9"/>
<circle cx="274.39" cy="447.64" r="0.55" fill="#d3dde9"/>
<circle cx="270.31" cy="435.41" r="0.55" fill="#d3dde9"/>
<circle cx="278.45" cy="440.55" r="0.55" fill="#d3dde9"/>
<circle cx="275.37" cy="432.35" r="0.55" fill="#d3dde9"/>
<circle cx="274.29" cy="438.7" r="0.55" fill="#d3dde9"/>
<circle cx="268.76" cy="441.19" r="0.55" fill="#d3dde9"/>
<circle cx="276.74" cy="442.08" r="0.55" fill="#d3dde9"/>
<circle cx="278.28" cy="440.99" r="0.55" fill="#d3dde9"/>
<circle cx="272.76" cy="440.65" r="0.55" fill="#d3dde9"/>
<circle cx="277.9" cy="440.26" r="0.55" fill="#d3dde9"/>
<circle cx="267.99" cy="435.73" r="0.55" fill="#d3dde9"/>
<circle cx="279.84" cy="442.32" r="0.55" fill="#d3dde9"/>
<circle cx="276.88" cy="439.46" r="0.55" fill="#d3dde9"/>
<circle cx="275.66" cy="435.13" r="0.55" fill="#d3dde9"/>
<circle cx="274.32" cy="445.43" r="0.55" fill="#d3dde9"/>
<circle cx="275.53" cy="447.56" r="0.55" fill="#d3dde9"/>
<circle cx="274.77" cy="447.41" r="0.55" fill="#d3dde9"/>
<circle cx="273.57" cy="435.46" r="0.55" fill="#d3dde9"/>
<circle cx="274.63" cy="436.94" r="0.55" fill="#d3dde9"/>
<circle cx="273.54" cy="436.33" r="0.55" fill="#d3dde9"/>
<circle cx="275.49" cy="436.73" r="0.55" fill="#d3dde9"/>
<circle cx="265.46" cy="442.02" r="0.55" fill="#d3dde9"/>
<circle cx="264.47" cy="434.14" r="0.55" fill="#d3dde9"/>
<circle cx="278.88" cy="432.98" r="0.55" fill="#d3dde9"/>
<circle cx="278.09" cy="440.14" r="0.55" fill="#d3dde9"/>
<circle cx="276.03" cy="448.36" r="0.55" fill="#d3dde9"/>
<circle cx="275.17" cy="444.75" r="0.55" fill="#d3dde9"/>
<circle cx="275.14" cy="443.89" r="0.55" fill="#d3dde9"/>
<circle cx="283.53" cy="439.42" r="0.55" fill="#d3dde9"/>
<circle cx="274.21" cy="440.28" r="0.55" fill="#d3dde9"/>
<circle cx="275.69" cy="444.04" r="0.55" fill="#d3dde9"/>
<circle cx="279.38" cy="433.09" r="0.55" fill="#d3dde9"/>
<circle cx="271.21" cy="444.84" r="0.55" fill="#d3dde9"/>
<circle cx="277.49" cy="445.73" r="0.55" fill="#d3dde9"/>
<circle cx="276.47" cy="442.82" r="0.55" fill="#d3dde9"/>
<circle cx="270.64" cy="441.16" r="0.55" fill="#d3dde9"/>
<circle cx="275.56" cy="442.96" r="0.55" fill="#d3dde9"/>
<circle cx="279.41" cy="434.46" r="0.55" fill="#d3dde9"/>
<circle cx="284.19" cy="439.41" r="0.55" fill="#d3dde9"/>
<circle cx="274.77" cy="447.89" r="0.55" fill="#d3dde9"/>
<circle cx="278.88" cy="442.18" r="0.55" fill="#d3dde9"/>
<circle cx="273.79" cy="439.24" r="0.55" fill="#d3dde9"/>
<circle cx="279.54" cy="434.58" r="0.55" fill="#d3dde9"/>
<circle cx="274.24" cy="444.26" r="0.55" fill="#d3dde9"/>
<circle cx="267.58" cy="438.71" r="0.55" fill="#d3dde9"/>
<circle cx="278.75" cy="441.34" r="0.55" fill="#d3dde9"/>
<circle cx="272.47" cy="432.85" r="0.55" fill="#d3dde9"/>
<circle cx="273.84" cy="447.81" r="0.55" fill="#d3dde9"/>
<circle cx="275.92" cy="447.91" r="0.55" fill="#d3dde9"/>
<circle cx="283.09" cy="433.18" r="0.55" fill="#d3dde9"/>
<circle cx="276.33" cy="446.08" r="0.55" fill="#d3dde9"/>
<circle cx="263.82" cy="431.9" r="0.55" fill="#d3dde9"/>
<circle cx="272.77" cy="440.52" r="0.55" fill="#d3dde9"/>
<circle cx="273.4" cy="437.08" r="0.55" fill="#d3dde9"/>
<circle cx="273.87" cy="445.59" r="0.55" fill="#d3dde9"/>
<circle cx="283.8" cy="433.69" r="0.55" fill="#d3dde9"/>
<circle cx="278.66" cy="445.66" r="0.55" fill="#d3dde9"/>
<circle cx="277.21" cy="447.24" r="0.55" fill="#d3dde9"/>
<circle cx="282.32" cy="431.29" r="0.55" fill="#d3dde9"/>
<circle cx="273.96" cy="442.08" r="0.55" fill="#d3dde9"/>
<circle cx="270.91" cy="432.26" r="0.55" fill="#d3dde9"/>
<circle cx="276.28" cy="436.84" r="0.55" fill="#d3dde9"/>
<circle cx="276.76" cy="436.64" r="0.55" fill="#d3dde9"/>
<circle cx="275.75" cy="448" r="0.55" fill="#d3dde9"/>
<circle cx="273.84" cy="445.24" r="0.55" fill="#d3dde9"/>
<circle cx="272.97" cy="438.91" r="0.55" fill="#d3dde9"/>
<circle cx="277.16" cy="446.47" r="0.55" fill="#d3dde9"/>
<circle cx="269.41" cy="432.13" r="0.55" fill="#d3dde9"/>
<circle cx="278.02" cy="446.51" r="0.55" fill="#d3dde9"/>
<circle cx="281.18" cy="434.51" r="0.55" fill="#d3dde9"/>
<circle cx="275.17" cy="448.1" r="0.55" fill="#d3dde9"/>
<circle cx="273.96" cy="442.71" r="0.55" fill="#d3dde9"/>
<circle cx="273.05" cy="439.61" r="0.55" fill="#d3dde9"/>
<circle cx="273.28" cy="447.34" r="0.55" fill="#d3dde9"/>
<circle cx="276.48" cy="441.8" r="0.55" fill="#d3dde9"/>
<circle cx="282.43" cy="436.98" r="0.55" fill="#d3dde9"/>
<circle cx="277.07" cy="446.94" r="0.55" fill="#d3dde9"/>
<circle cx="291.63" cy="431.88" r="0.55" fill="#d3dde9"/>
<circle cx="275.07" cy="439.99" r="0.55" fill="#d3dde9"/>
<circle cx="272.99" cy="444.27" r="0.55" fill="#d3dde9"/>
<circle cx="280.4" cy="440.55" r="0.55" fill="#d3dde9"/>
<circle cx="281.97" cy="431.74" r="0.55" fill="#d3dde9"/>
<circle cx="279.39" cy="433.15" r="0.55" fill="#d3dde9"/>
<circle cx="273.44" cy="438.6" r="0.55" fill="#d3dde9"/>
<circle cx="275.13" cy="446.69" r="0.55" fill="#d3dde9"/>
<circle cx="278.75" cy="444.6" r="0.55" fill="#d3dde9"/>
<circle cx="272.88" cy="445.33" r="0.55" fill="#d3dde9"/>
<circle cx="284.44" cy="431.86" r="0.55" fill="#d3dde9"/>
<circle cx="277.28" cy="430.93" r="0.55" fill="#d3dde9"/>
<circle cx="279.06" cy="443.34" r="0.55" fill="#d3dde9"/>
<circle cx="274.76" cy="447.9" r="0.55" fill="#d3dde9"/>
<circle cx="273.39" cy="443.54" r="0.55" fill="#d3dde9"/>
<circle cx="276.59" cy="435.69" r="0.55" fill="#d3dde9"/>
<circle cx="275.64" cy="446.1" r="0.55" fill="#d3dde9"/>
<circle cx="274.34" cy="447.66" r="0.55" fill="#d3dde9"/>
<circle cx="279.67" cy="439.35" r="0.55" fill="#d3dde9"/>
<circle cx="279.5" cy="434.74" r="0.55" fill="#d3dde9"/>
<circle cx="274.17" cy="438.64" r="0.55" fill="#d3dde9"/>
<circle cx="275.54" cy="440.23" r="0.55" fill="#d3dde9"/>
<circle cx="274.88" cy="447.29" r="0.55" fill="#d3dde9"/>
<circle cx="273.47" cy="438.99" r="0.55" fill="#d3dde9"/>
<circle cx="272.39" cy="443.19" r="0.55" fill="#d3dde9"/>
<circle cx="277.03" cy="446.33" r="0.55" fill="#d3dde9"/>
<circle cx="276.71" cy="446.24" r="0.55" fill="#d3dde9"/>
<circle cx="273.28" cy="433.61" r="0.55" fill="#d3dde9"/>
<circle cx="271.63" cy="432.95" r="0.55" fill="#d3dde9"/>
<circle cx="275.39" cy="447.34" r="0.55" fill="#d3dde9"/>
<circle cx="280.99" cy="432.83" r="0.55" fill="#d3dde9"/>
<circle cx="278.46" cy="439.8" r="0.55" fill="#d3dde9"/>
<circle cx="274.48" cy="447.01" r="0.55" fill="#d3dde9"/>
<circle cx="275.78" cy="439.81" r="0.55" fill="#d3dde9"/>
<circle cx="273.6" cy="440.36" r="0.55" fill="#d3dde9"/>
<circle cx="276.84" cy="442.28" r="0.55" fill="#d3dde9"/>
<circle cx="276.27" cy="445.71" r="0.55" fill="#d3dde9"/>
<circle cx="278.75" cy="432.99" r="0.55" fill="#d3dde9"/>
<circle cx="275.81" cy="440.45" r="0.55" fill="#d3dde9"/>
<circle cx="274.52" cy="431.45" r="0.55" fill="#d3dde9"/>
<circle cx="276.52" cy="440.71" r="0.55" fill="#d3dde9"/>
<circle cx="268.86" cy="436.78" r="0.55" fill="#d3dde9"/>
<circle cx="275.3" cy="445.3" r="0.55" fill="#d3dde9"/>
<circle cx="274.01" cy="444.72" r="0.55" fill="#d3dde9"/>
<circle cx="274.35" cy="448.12" r="0.55" fill="#d3dde9"/>
<circle cx="277.11" cy="444.25" r="0.55" fill="#d3dde9"/>
<circle cx="282.83" cy="432.58" r="0.55" fill="#d3dde9"/>
<circle cx="276.66" cy="445.22" r="0.55" fill="#d3dde9"/>
<circle cx="276.78" cy="438.65" r="0.55" fill="#d3dde9"/>
<circle cx="273.55" cy="447.75" r="0.55" fill="#d3dde9"/>
<circle cx="270.38" cy="445.03" r="0.55" fill="#d3dde9"/>
<circle cx="273.56" cy="448" r="0.55" fill="#d3dde9"/>
<circle cx="272.28" cy="438.19" r="0.55" fill="#d3dde9"/>
<circle cx="270.63" cy="443.38" r="0.55" fill="#d3dde9"/>
<circle cx="262.11" cy="434.27" r="0.55" fill="#d3dde9"/>
<circle cx="275.8" cy="448.32" r="0.55" fill="#d3dde9"/>
<circle cx="269.18" cy="431.52" r="0.55" fill="#d3dde9"/>
<circle cx="275.98" cy="447.42" r="0.55" fill="#d3dde9"/>
<circle cx="274.97" cy="445.04" r="0.55" fill="#d3dde9"/>
<circle cx="272.92" cy="446.52" r="0.55" fill="#d3dde9"/>
<circle cx="276.46" cy="443.34" r="0.55" fill="#d3dde9"/>
<circle cx="276.31" cy="445.45" r="0.55" fill="#d3dde9"/>
<circle cx="284.31" cy="443.58" r="0.55" fill="#d3dde9"/>
<circle cx="272.26" cy="434.67" r="0.55" fill="#d3dde9"/>
<circle cx="268.98" cy="440.87" r="0.55" fill="#d3dde9"/>
<circle cx="275.5" cy="432.21" r="0.55" fill="#d3dde9"/>
<circle cx="272.86" cy="435.5" r="0.55" fill="#d3dde9"/>
<circle cx="272.96" cy="438.06" r="0.55" fill="#d3dde9"/>
<circle cx="275.93" cy="433.53" r="0.55" fill="#d3dde9"/>
<circle cx="273.01" cy="436.2" r="0.55" fill="#d3dde9"/>
<circle cx="279.07" cy="443.26" r="0.55" fill="#d3dde9"/>
<circle cx="286.37" cy="437.1" r="0.55" fill="#d3dde9"/>
<circle cx="282.18" cy="435.62" r="0.55" fill="#d3dde9"/>
<circle cx="285.16" cy="431.59" r="0.55" fill="#d3dde9"/>
<circle cx="274.9" cy="432.28" r="0.55" fill="#d3dde9"/>
<circle cx="264.03" cy="434.45" r="0.55" fill="#d3dde9"/>
<circle cx="267.74" cy="438.74" r="0.55" fill="#d3dde9"/>
<circle cx="279.61" cy="434.82" r="0.55" fill="#d3dde9"/>
<circle cx="270.29" cy="433" r="0.55" fill="#d3dde9"/>
<circle cx="284.99" cy="439.88" r="0.55" fill="#d3dde9"/>
<circle cx="289.19" cy="431.4" r="0.55" fill="#d3dde9"/>
<circle cx="285.54" cy="434.75" r="0.55" fill="#d3dde9"/>
<circle cx="276.13" cy="444.92" r="0.55" fill="#d3dde9"/>
<circle cx="274.16" cy="445.8" r="0.55" fill="#d3dde9"/>
<circle cx="275.64" cy="441.28" r="0.55" fill="#d3dde9"/>
<circle cx="283.17" cy="432.21" r="0.55" fill="#d3dde9"/>
<circle cx="274.05" cy="436.85" r="0.55" fill="#d3dde9"/>
<circle cx="269.67" cy="434.83" r="0.55" fill="#d3dde9"/>
<circle cx="269.54" cy="434.63" r="0.55" fill="#d3dde9"/>
<circle cx="261.93" cy="433.95" r="0.55" fill="#d3dde9"/>
<circle cx="279.2" cy="442.23" r="0.55" fill="#d3dde9"/>
<circle cx="280.01" cy="433.73" r="0.55" fill="#d3dde9"/>
<circle cx="271.04" cy="443.43" r="0.55" fill="#d3dde9"/>
<circle cx="269" cy="434.64" r="0.55" fill="#d3dde9"/>
<circle cx="275.14" cy="448.37" r="0.55" fill="#d3dde9"/>
<circle cx="275.32" cy="447.11" r="0.55" fill="#d3dde9"/>
<circle cx="268.12" cy="434.23" r="0.55" fill="#d3dde9"/>
<circle cx="277.62" cy="441.29" r="0.55" fill="#d3dde9"/>
<circle cx="275.87" cy="443.5" r="0.55" fill="#d3dde9"/>
<circle cx="281.02" cy="433.56" r="0.55" fill="#d3dde9"/>
<circle cx="274.78" cy="438.17" r="0.55" fill="#d3dde9"/>
<circle cx="276.24" cy="444.61" r="0.55" fill="#d3dde9"/>
<circle cx="268.14" cy="436.53" r="0.55" fill="#d3dde9"/>
<circle cx="278.45" cy="434.34" r="0.55" fill="#d3dde9"/>
<circle cx="275.13" cy="446.96" r="0.55" fill="#d3dde9"/>
<circle cx="273.67" cy="434.01" r="0.55" fill="#d3dde9"/>
<circle cx="274.7" cy="446.01" r="0.55" fill="#d3dde9"/>
<circle cx="282.41" cy="443.02" r="0.55" fill="#d3dde9"/>
<circle cx="277.41" cy="445.38" r="0.55" fill="#d3dde9"/>
<circle cx="269.46" cy="432.51" r="0.55" fill="#d3dde9"/>
<circle cx="267.66" cy="442.45" r="0.55" fill="#d3dde9"/>
<circle cx="275.32" cy="440.36" r="0.55" fill="#d3dde9"/>
<circle cx="280.49" cy="430.47" r="0.55" fill="#d3dde9"/>
<circle cx="278.18" cy="446.35" r="0.55" fill="#d3dde9"/>
<circle cx="277.76" cy="439.97" r="0.55" fill="#d3dde9"/>
<circle cx="275.31" cy="431.42" r="0.55" fill="#d3dde9"/>
<circle cx="276.26" cy="441.34" r="0.55" fill="#d3dde9"/>
<circle cx="273.33" cy="443.2" r="0.55" fill="#d3dde9"/>
<circle cx="272.81" cy="447.24" r="0.55" fill="#d3dde9"/>
<circle cx="272.8" cy="440.22" r="0.55" fill="#d3dde9"/>
<circle cx="280.92" cy="442.77" r="0.55" fill="#d3dde9"/>
<circle cx="270.75" cy="437.23" r="0.55" fill="#d3dde9"/>
<circle cx="274.38" cy="447.58" r="0.55" fill="#d3dde9"/>
<circle cx="269.84" cy="431.14" r="0.55" fill="#d3dde9"/>
<circle cx="273.17" cy="443.03" r="0.55" fill="#d3dde9"/>
<circle cx="271.77" cy="442.78" r="0.55" fill="#d3dde9"/>
<circle cx="271.49" cy="440.07" r="0.55" fill="#d3dde9"/>
<circle cx="267.96" cy="440.52" r="0.55" fill="#d3dde9"/>
<circle cx="276.27" cy="443" r="0.55" fill="#d3dde9"/>
<circle cx="274.98" cy="433.76" r="0.55" fill="#d3dde9"/>
<circle cx="270.12" cy="436.89" r="0.55" fill="#d3dde9"/>
<circle cx="273.15" cy="435.51" r="0.55" fill="#d3dde9"/>
<circle cx="273.83" cy="432.57" r="0.55" fill="#d3dde9"/>
<circle cx="273.62" cy="448.07" r="0.55" fill="#d3dde9"/>
<circle cx="279.51" cy="443.68" r="0.55" fill="#d3dde9"/>
<circle cx="287.77" cy="432.57" r="0.55" fill="#d3dde9"/>
<circle cx="273.57" cy="446.62" r="0.55" fill="#d3dde9"/>
<circle cx="274.57" cy="447.94" r="0.55" fill="#d3dde9"/>
<circle cx="275.23" cy="442.49" r="0.55" fill="#d3dde9"/>
<circle cx="271.95" cy="444.44" r="0.55" fill="#d3dde9"/>
<circle cx="273.48" cy="435.27" r="0.55" fill="#d3dde9"/>
<circle cx="279.22" cy="441.97" r="0.55" fill="#d3dde9"/>
<circle cx="267.43" cy="430.7" r="0.55" fill="#d3dde9"/>
<circle cx="267.98" cy="437.03" r="0.55" fill="#d3dde9"/>
<circle cx="279.85" cy="442.7" r="0.55" fill="#d3dde9"/>
<circle cx="273.44" cy="436.74" r="0.55" fill="#d3dde9"/>
<circle cx="276.89" cy="444.5" r="0.55" fill="#d3dde9"/>
<circle cx="282.14" cy="433.95" r="0.55" fill="#d3dde9"/>
<circle cx="273.44" cy="434.63" r="0.55" fill="#d3dde9"/>
<circle cx="277.05" cy="440.18" r="0.55" fill="#d3dde9"/>
<circle cx="280.92" cy="432.86" r="0.55" fill="#d3dde9"/>
<circle cx="277.66" cy="446.22" r="0.55" fill="#d3dde9"/>
<circle cx="277.31" cy="443.91" r="0.55" fill="#d3dde9"/>
<circle cx="276.13" cy="442.65" r="0.55" fill="#d3dde9"/>
<circle cx="279.83" cy="430.94" r="0.55" fill="#d3dde9"/>
<circle cx="274.92" cy="443.95" r="0.55" fill="#d3dde9"/>
<circle cx="277.32" cy="431.44" r="0.55" fill="#d3dde9"/>
<circle cx="278.09" cy="441.64" r="0.55" fill="#d3dde9"/>
<circle cx="275.21" cy="447.14" r="0.55" fill="#d3dde9"/>
<circle cx="278.3" cy="442.61" r="0.55" fill="#d3dde9"/>
<circle cx="274.79" cy="431.01" r="0.55" fill="#d3dde9"/>
<circle cx="279.86" cy="432.19" r="0.55" fill="#d3dde9"/>
<circle cx="277.84" cy="441.42" r="0.55" fill="#d3dde9"/>
<circle cx="268.26" cy="434.94" r="0.55" fill="#d3dde9"/>
<circle cx="277.77" cy="443.86" r="0.55" fill="#d3dde9"/>
<circle cx="280.2" cy="441.05" r="0.55" fill="#d3dde9"/>
<circle cx="271.96" cy="439.36" r="0.55" fill="#d3dde9"/>
<circle cx="271.92" cy="444.53" r="0.55" fill="#d3dde9"/>
<circle cx="278.34" cy="443.02" r="0.55" fill="#d3dde9"/>
<circle cx="273.85" cy="444.31" r="0.55" fill="#d3dde9"/>
<circle cx="274.81" cy="437.96" r="0.55" fill="#d3dde9"/>
<circle cx="277.09" cy="448" r="0.55" fill="#d3dde9"/>
<circle cx="270.05" cy="433.94" r="0.55" fill="#d3dde9"/>
<circle cx="272.64" cy="431.53" r="0.55" fill="#d3dde9"/>
<circle cx="275.34" cy="444.7" r="0.55" fill="#d3dde9"/>
<circle cx="276.86" cy="439.56" r="0.55" fill="#d3dde9"/>
<circle cx="272.78" cy="435.45" r="0.55" fill="#d3dde9"/>
<circle cx="269.72" cy="434.33" r="0.55" fill="#d3dde9"/>
<circle cx="274.61" cy="447.1" r="0.55" fill="#d3dde9"/>
<circle cx="285.06" cy="430.93" r="0.55" fill="#d3dde9"/>
<circle cx="272.4" cy="437.88" r="0.55" fill="#d3dde9"/>
<circle cx="270.36" cy="442.45" r="0.55" fill="#d3dde9"/>
<circle cx="275" cy="431.52" r="0.55" fill="#d3dde9"/>
<circle cx="272.51" cy="442.48" r="0.55" fill="#d3dde9"/>
<circle cx="273.05" cy="434.37" r="0.55" fill="#d3dde9"/>
<circle cx="278.67" cy="432.99" r="0.55" fill="#d3dde9"/>
<circle cx="269.41" cy="439.88" r="0.55" fill="#d3dde9"/>
<circle cx="273.97" cy="432.35" r="0.55" fill="#d3dde9"/>
<circle cx="275.01" cy="446.78" r="0.55" fill="#d3dde9"/>
<circle cx="276.3" cy="442.11" r="0.55" fill="#d3dde9"/>
<circle cx="278.66" cy="440.45" r="0.55" fill="#d3dde9"/>
<circle cx="270.16" cy="438.99" r="0.55" fill="#d3dde9"/>
<circle cx="273.07" cy="442.28" r="0.55" fill="#d3dde9"/>
<circle cx="273.05" cy="433.55" r="0.55" fill="#d3dde9"/>
<circle cx="277.07" cy="434.73" r="0.55" fill="#d3dde9"/>
<circle cx="272.87" cy="437.13" r="0.55" fill="#d3dde9"/>
<circle cx="263.32" cy="435.45" r="0.55" fill="#d3dde9"/>
<circle cx="275.25" cy="432.41" r="0.55" fill="#d3dde9"/>
<circle cx="278.75" cy="435.67" r="0.55" fill="#d3dde9"/>
<circle cx="266.75" cy="432.84" r="0.55" fill="#d3dde9"/>
<circle cx="274.64" cy="446.81" r="0.55" fill="#d3dde9"/>
<circle cx="268.47" cy="438.31" r="0.55" fill="#d3dde9"/>
<circle cx="278.16" cy="444.54" r="0.55" fill="#d3dde9"/>
<circle cx="278.72" cy="433.99" r="0.55" fill="#d3dde9"/>
<circle cx="275.67" cy="444.57" r="0.55" fill="#d3dde9"/>
<circle cx="276.19" cy="447.34" r="0.55" fill="#d3dde9"/>
<circle cx="284.23" cy="437.04" r="0.55" fill="#d3dde9"/>
<circle cx="274.5" cy="443.07" r="0.55" fill="#d3dde9"/>
<circle cx="284.22" cy="436.56" r="0.55" fill="#d3dde9"/>
<circle cx="277.49" cy="443.68" r="0.55" fill="#d3dde9"/>
<circle cx="274.96" cy="448.38" r="0.55" fill="#d3dde9"/>
<circle cx="274.39" cy="444.54" r="0.55" fill="#d3dde9"/>
<circle cx="273.96" cy="447.79" r="0.55" fill="#d3dde9"/>
<circle cx="277.86" cy="434.34" r="0.55" fill="#d3dde9"/>
<circle cx="275.53" cy="448.02" r="0.55" fill="#d3dde9"/>
<circle cx="274.44" cy="445.37" r="0.55" fill="#d3dde9"/>
<circle cx="273.05" cy="437.97" r="0.55" fill="#d3dde9"/>
<circle cx="278.52" cy="439.17" r="0.55" fill="#d3dde9"/>
<circle cx="275.66" cy="445.48" r="0.55" fill="#d3dde9"/>
<circle cx="271.18" cy="433.67" r="0.55" fill="#d3dde9"/>
<circle cx="273.84" cy="434.31" r="0.55" fill="#d3dde9"/>
<circle cx="274.97" cy="434.95" r="0.55" fill="#d3dde9"/>
<circle cx="274.26" cy="448.15" r="0.55" fill="#d3dde9"/>
<circle cx="275.26" cy="447.74" r="0.55" fill="#d3dde9"/>
<circle cx="274.31" cy="437.96" r="0.55" fill="#d3dde9"/>
<circle cx="271.24" cy="442.34" r="0.55" fill="#d3dde9"/>
<circle cx="272.96" cy="440.26" r="0.55" fill="#d3dde9"/>
<circle cx="272.85" cy="433.07" r="0.55" fill="#d3dde9"/>
<circle cx="281.66" cy="430.32" r="0.55" fill="#d3dde9"/>
<circle cx="268.95" cy="443.6" r="0.55" fill="#d3dde9"/>
<circle cx="282.89" cy="430.52" r="0.55" fill="#d3dde9"/>
<circle cx="276.04" cy="446.77" r="0.55" fill="#d3dde9"/>
<circle cx="273.07" cy="441.35" r="0.55" fill="#d3dde9"/>
<circle cx="270.34" cy="441.34" r="0.55" fill="#d3dde9"/>
<circle cx="276.32" cy="443.39" r="0.55" fill="#d3dde9"/>
<circle cx="277.52" cy="444.41" r="0.55" fill="#d3dde9"/>
<circle cx="275.11" cy="445.86" r="0.55" fill="#d3dde9"/>
<circle cx="271.27" cy="441.64" r="0.55" fill="#d3dde9"/>
<circle cx="274.95" cy="445.8" r="0.55" fill="#d3dde9"/>
<circle cx="273.88" cy="444.7" r="0.55" fill="#d3dde9"/>
<circle cx="271.9" cy="439.33" r="0.55" fill="#d3dde9"/>
<circle cx="261.06" cy="435.58" r="0.55" fill="#d3dde9"/>
<circle cx="285.25" cy="431.35" r="0.55" fill="#d3dde9"/>
<circle cx="271.17" cy="436.16" r="0.55" fill="#d3dde9"/>
<circle cx="275.35" cy="447.74" r="0.55" fill="#d3dde9"/>
<circle cx="276.3" cy="433.16" r="0.55" fill="#d3dde9"/>
<circle cx="272.43" cy="436.1" r="0.55" fill="#d3dde9"/>
<circle cx="273.7" cy="443.15" r="0.55" fill="#d3dde9"/>
<circle cx="271.86" cy="446.33" r="0.55" fill="#d3dde9"/>
<circle cx="269.62" cy="444.02" r="0.55" fill="#d3dde9"/>
<circle cx="275.75" cy="447.97" r="0.55" fill="#d3dde9"/>
<circle cx="280.9" cy="432.4" r="0.55" fill="#d3dde9"/>
<circle cx="272.63" cy="434.4" r="0.55" fill="#d3dde9"/>
<circle cx="275.47" cy="447.16" r="0.55" fill="#d3dde9"/>
<circle cx="275.61" cy="446.48" r="0.55" fill="#d3dde9"/>
<circle cx="267.04" cy="430.43" r="0.55" fill="#d3dde9"/>
<circle cx="277.45" cy="432.13" r="0.55" fill="#d3dde9"/>
<circle cx="268.62" cy="434.04" r="0.55" fill="#d3dde9"/>
<circle cx="276.76" cy="446.85" r="0.55" fill="#d3dde9"/>
<circle cx="278.41" cy="440.34" r="0.55" fill="#d3dde9"/>
<circle cx="275.3" cy="445.62" r="0.55" fill="#d3dde9"/>
<circle cx="276.71" cy="432.19" r="0.55" fill="#d3dde9"/>
<circle cx="289.25" cy="436.34" r="0.55" fill="#d3dde9"/>
<circle cx="272.14" cy="441.67" r="0.55" fill="#d3dde9"/>
<circle cx="267.87" cy="435.89" r="0.55" fill="#d3dde9"/>
<circle cx="282.92" cy="433.63" r="0.55" fill="#d3dde9"/>
<circle cx="276.33" cy="446.77" r="0.55" fill="#d3dde9"/>
<circle cx="275.55" cy="438.84" r="0.55" fill="#d3dde9"/>
<circle cx="280.87" cy="442.73" r="0.55" fill="#d3dde9"/>
<circle cx="275.93" cy="434.78" r="0.55" fill="#d3dde9"/>
<circle cx="282.42" cy="441.17" r="0.55" fill="#d3dde9"/>
<circle cx="277.56" cy="439.83" r="0.55" fill="#d3dde9"/>
<circle cx="274.57" cy="447.64" r="0.55" fill="#d3dde9"/>
<circle cx="283.58" cy="432.7" r="0.55" fill="#d3dde9"/>
<circle cx="273.71" cy="440.78" r="0.55" fill="#d3dde9"/>
<circle cx="274.2" cy="445.06" r="0.55" fill="#d3dde9"/>
<circle cx="272.95" cy="432.26" r="0.55" fill="#d3dde9"/>
<circle cx="276.69" cy="438.73" r="0.55" fill="#d3dde9"/>
<circle cx="275.8" cy="446.88" r="0.55" fill="#d3dde9"/>
<circle cx="279.89" cy="438.84" r="0.55" fill="#d3dde9"/>
<circle cx="273.94" cy="437.83" r="0.55" fill="#d3dde9"/>
<circle cx="274.1" cy="447.68" r="0.55" fill="#d3dde9"/>
<circle cx="281.03" cy="436.05" r="0.55" fill="#d3dde9"/>
<circle cx="276.46" cy="442.34" r="0.55" fill="#d3dde9"/>
<circle cx="274.46" cy="437.1" r="0.55" fill="#d3dde9"/>
<circle cx="271.81" cy="437.57" r="0.55" fill="#d3dde9"/>
<circle cx="272.5" cy="436.71" r="0.55" fill="#d3dde9"/>
<circle cx="275.96" cy="432.19" r="0.55" fill="#d3dde9"/>
<circle cx="278.35" cy="438.57" r="0.55" fill="#d3dde9"/>
<circle cx="277.4" cy="430.51" r="0.55" fill="#d3dde9"/>
<circle cx="272.52" cy="445.3" r="0.55" fill="#d3dde9"/>
<circle cx="282.06" cy="434" r="0.55" fill="#d3dde9"/>
<circle cx="275.23" cy="437.88" r="0.55" fill="#d3dde9"/>
<circle cx="274.94" cy="447.34" r="0.55" fill="#d3dde9"/>
<circle cx="275.96" cy="430.74" r="0.55" fill="#d3dde9"/>
<circle cx="275.02" cy="447.92" r="0.55" fill="#d3dde9"/>
<circle cx="276.64" cy="445.11" r="0.55" fill="#d3dde9"/>
<circle cx="273.82" cy="437.12" r="0.55" fill="#d3dde9"/>
<circle cx="265.26" cy="431.73" r="0.55" fill="#d3dde9"/>
<circle cx="271.47" cy="444.74" r="0.55" fill="#d3dde9"/>
<circle cx="277.97" cy="446.48" r="0.55" fill="#d3dde9"/>
<circle cx="275.56" cy="447.2" r="0.55" fill="#d3dde9"/>
<circle cx="274.13" cy="430.81" r="0.55" fill="#d3dde9"/>
<circle cx="271.56" cy="434.35" r="0.55" fill="#d3dde9"/>
<circle cx="274.52" cy="446.34" r="0.55" fill="#d3dde9"/>
<circle cx="275.09" cy="434.77" r="0.55" fill="#d3dde9"/>
<circle cx="275.69" cy="432.6" r="0.55" fill="#d3dde9"/>
<circle cx="275.09" cy="433.41" r="0.55" fill="#d3dde9"/>
<circle cx="277.43" cy="439.42" r="0.55" fill="#d3dde9"/>
<circle cx="270.38" cy="438.16" r="0.55" fill="#d3dde9"/>
<circle cx="275.85" cy="438.66" r="0.55" fill="#d3dde9"/>
<circle cx="274.88" cy="447.85" r="0.55" fill="#d3dde9"/>
<circle cx="274.25" cy="439.62" r="0.55" fill="#d3dde9"/>
<circle cx="276.19" cy="448.35" r="0.55" fill="#d3dde9"/>
<circle cx="285.6" cy="435.63" r="0.55" fill="#d3dde9"/>
<circle cx="277.01" cy="434.25" r="0.55" fill="#d3dde9"/>
<circle cx="278.93" cy="441.28" r="0.55" fill="#d3dde9"/>
<circle cx="277.21" cy="445.65" r="0.55" fill="#d3dde9"/>
<circle cx="282.23" cy="441.82" r="0.55" fill="#d3dde9"/>
<circle cx="282.47" cy="439.6" r="0.55" fill="#d3dde9"/>
<circle cx="279.05" cy="443.2" r="0.55" fill="#d3dde9"/>
<circle cx="281.01" cy="433.45" r="0.55" fill="#d3dde9"/>
<circle cx="280.16" cy="433.48" r="0.55" fill="#d3dde9"/>
<circle cx="276.71" cy="444.07" r="0.55" fill="#d3dde9"/>
<circle cx="279.93" cy="435.27" r="0.55" fill="#d3dde9"/>
<circle cx="283.32" cy="430.69" r="0.55" fill="#d3dde9"/>
<circle cx="277.55" cy="435.14" r="0.55" fill="#d3dde9"/>
<circle cx="275.32" cy="447.06" r="0.55" fill="#d3dde9"/>
<circle cx="270.23" cy="436.71" r="0.55" fill="#d3dde9"/>
<circle cx="272.86" cy="441.32" r="0.55" fill="#d3dde9"/>
<circle cx="271.81" cy="442.21" r="0.55" fill="#d3dde9"/>
<circle cx="268.94" cy="432.03" r="0.55" fill="#d3dde9"/>
<circle cx="278.77" cy="435.89" r="0.55" fill="#d3dde9"/>
<circle cx="262.12" cy="433.71" r="0.55" fill="#d3dde9"/>
<circle cx="283.2" cy="436.21" r="0.55" fill="#d3dde9"/>
<circle cx="277.13" cy="433.44" r="0.55" fill="#d3dde9"/>
<circle cx="276.8" cy="441.78" r="0.55" fill="#d3dde9"/>
<circle cx="272.22" cy="431.47" r="0.55" fill="#d3dde9"/>
<circle cx="274.6" cy="441.58" r="0.55" fill="#d3dde9"/>
<circle cx="273.49" cy="444.1" r="0.55" fill="#d3dde9"/>
<circle cx="274.74" cy="443.27" r="0.55" fill="#d3dde9"/>
<circle cx="276.65" cy="441.56" r="0.55" fill="#d3dde9"/>
<circle cx="265.63" cy="430.64" r="0.55" fill="#d3dde9"/>
<circle cx="264.47" cy="435.28" r="0.55" fill="#d3dde9"/>
<circle cx="285.71" cy="433.72" r="0.55" fill="#d3dde9"/>
<circle cx="275.16" cy="444.55" r="0.55" fill="#d3dde9"/>
<circle cx="274.92" cy="444.96" r="0.55" fill="#d3dde9"/>
<circle cx="275.52" cy="445.27" r="0.55" fill="#d3dde9"/>
<circle cx="280.49" cy="432.67" r="0.55" fill="#d3dde9"/>
<circle cx="272.86" cy="435.11" r="0.55" fill="#d3dde9"/>
<circle cx="283.19" cy="435.01" r="0.55" fill="#d3dde9"/>
<circle cx="270.76" cy="439.88" r="0.55" fill="#d3dde9"/>
<circle cx="275.83" cy="447.19" r="0.55" fill="#d3dde9"/>
<circle cx="271.7" cy="438.02" r="0.55" fill="#d3dde9"/>
<circle cx="268.02" cy="442.94" r="0.55" fill="#d3dde9"/>
<circle cx="274.31" cy="446.37" r="0.55" fill="#d3dde9"/>
<circle cx="272.38" cy="439.9" r="0.55" fill="#d3dde9"/>
<circle cx="268.25" cy="431.57" r="0.55" fill="#d3dde9"/>
<circle cx="279.43" cy="442.21" r="0.55" fill="#d3dde9"/>
<circle cx="269.59" cy="430.93" r="0.55" fill="#d3dde9"/>
<circle cx="275.54" cy="447.39" r="0.55" fill="#d3dde9"/>
<circle cx="280.72" cy="432.24" r="0.55" fill="#d3dde9"/>
<circle cx="275.2" cy="448.3" r="0.55" fill="#d3dde9"/>
<circle cx="287.04" cy="430.45" r="0.55" fill="#d3dde9"/>
<circle cx="272.87" cy="446.14" r="0.55" fill="#d3dde9"/>
<circle cx="278.27" cy="436.74" r="0.55" fill="#d3dde9"/>
<circle cx="275.38" cy="435.61" r="0.55" fill="#d3dde9"/>
<circle cx="273.64" cy="444.84" r="0.55" fill="#d3dde9"/>
<circle cx="275.06" cy="448.15" r="0.55" fill="#d3dde9"/>
<circle cx="273.89" cy="444.8" r="0.55" fill="#d3dde9"/>
<circle cx="269.3" cy="431" r="0.55" fill="#d3dde9"/>
<circle cx="270.19" cy="437.44" r="0.55" fill="#d3dde9"/>
<circle cx="274.01" cy="438.6" r="0.55" fill="#d3dde9"/>
<circle cx="274.38" cy="447.73" r="0.55" fill="#d3dde9"/>
<circle cx="276.39" cy="447.69" r="0.55" fill="#d3dde9"/>
<circle cx="275.43" cy="446.65" r="0.55" fill="#d3dde9"/>
<circle cx="271.65" cy="447.07" r="0.55" fill="#d3dde9"/>
<circle cx="275.83" cy="436.81" r="0.55" fill="#d3dde9"/>
<circle cx="275.47" cy="444.56" r="0.55" fill="#d3dde9"/>
<circle cx="274.48" cy="447.25" r="0.55" fill="#d3dde9"/>
<circle cx="272.12" cy="444.06" r="0.55" fill="#d3dde9"/>
<circle cx="278.11" cy="441.52" r="0.55" fill="#d3dde9"/>
<circle cx="285.69" cy="435.98" r="0.55" fill="#d3dde9"/>
<circle cx="278.85" cy="443.38" r="0.55" fill="#d3dde9"/>
<circle cx="269.38" cy="412.77" r="0.5" fill="#d5dfea"/>
<circle cx="271.21" cy="412.89" r="0.5" fill="#d5dfea"/>
<circle cx="276.58" cy="412" r="0.5" fill="#d5dfea"/>
<circle cx="271.34" cy="417.87" r="0.5" fill="#d5dfea"/>
<circle cx="269.15" cy="430.21" r="0.5" fill="#d5dfea"/>
<circle cx="270.85" cy="410.27" r="0.5" fill="#d5dfea"/>
<circle cx="274.77" cy="418.2" r="0.5" fill="#d5dfea"/>
<circle cx="270.24" cy="418.15" r="0.5" fill="#d5dfea"/>
<circle cx="267.89" cy="429.17" r="0.5" fill="#d5dfea"/>
<circle cx="272.9" cy="407.46" r="0.5" fill="#d5dfea"/>
<circle cx="274.58" cy="418.41" r="0.5" fill="#d5dfea"/>
<circle cx="267.57" cy="428.1" r="0.5" fill="#d5dfea"/>
<circle cx="279.09" cy="430.2" r="0.5" fill="#d5dfea"/>
<circle cx="280.61" cy="429.33" r="0.5" fill="#d5dfea"/>
<circle cx="276.81" cy="425.58" r="0.5" fill="#d5dfea"/>
<circle cx="278.03" cy="429.24" r="0.5" fill="#d5dfea"/>
<circle cx="271.9" cy="427.65" r="0.5" fill="#d5dfea"/>
<circle cx="269" cy="421.92" r="0.5" fill="#d5dfea"/>
<circle cx="278" cy="427.7" r="0.5" fill="#d5dfea"/>
<circle cx="272.13" cy="427.08" r="0.5" fill="#d5dfea"/>
<circle cx="271" cy="414.98" r="0.5" fill="#d5dfea"/>
<circle cx="269.74" cy="428.53" r="0.5" fill="#d5dfea"/>
<circle cx="272" cy="425.16" r="0.5" fill="#d5dfea"/>
<circle cx="273.48" cy="418.72" r="0.5" fill="#d5dfea"/>
<circle cx="269.75" cy="411.5" r="0.5" fill="#d5dfea"/>
<circle cx="277.54" cy="418.08" r="0.5" fill="#d5dfea"/>
<circle cx="267.09" cy="427.92" r="0.5" fill="#d5dfea"/>
<circle cx="268.81" cy="423.97" r="0.5" fill="#d5dfea"/>
<circle cx="276.52" cy="423.47" r="0.5" fill="#d5dfea"/>
<circle cx="268.13" cy="429.69" r="0.5" fill="#d5dfea"/>
<circle cx="269.66" cy="423" r="0.5" fill="#d5dfea"/>
<circle cx="272.95" cy="427.98" r="0.5" fill="#d5dfea"/>
<circle cx="267.42" cy="429.45" r="0.5" fill="#d5dfea"/>
<circle cx="273.38" cy="425.64" r="0.5" fill="#d5dfea"/>
<circle cx="274.25" cy="409.14" r="0.5" fill="#d5dfea"/>
<circle cx="269.67" cy="429.88" r="0.5" fill="#d5dfea"/>
<circle cx="274.45" cy="415.63" r="0.5" fill="#d5dfea"/>
<circle cx="277.97" cy="411.48" r="0.5" fill="#d5dfea"/>
<circle cx="270.23" cy="411.9" r="0.5" fill="#d5dfea"/>
<circle cx="274" cy="408.89" r="0.5" fill="#d5dfea"/>
<circle cx="269.11" cy="427.84" r="0.5" fill="#d5dfea"/>
<circle cx="271.19" cy="411.67" r="0.5" fill="#d5dfea"/>
<circle cx="270.31" cy="429.79" r="0.5" fill="#d5dfea"/>
<circle cx="273.47" cy="409.59" r="0.5" fill="#d5dfea"/>
<circle cx="269.35" cy="416.03" r="0.5" fill="#d5dfea"/>
<circle cx="271.45" cy="423.63" r="0.5" fill="#d5dfea"/>
<circle cx="276.15" cy="428.36" r="0.5" fill="#d5dfea"/>
<circle cx="268.65" cy="425.63" r="0.5" fill="#d5dfea"/>
<circle cx="273.66" cy="407.4" r="0.5" fill="#d5dfea"/>
<circle cx="266.7" cy="428.72" r="0.5" fill="#d5dfea"/>
<circle cx="273.96" cy="418.39" r="0.5" fill="#d5dfea"/>
<circle cx="273.36" cy="430.16" r="0.5" fill="#d5dfea"/>
<circle cx="274.19" cy="415.75" r="0.5" fill="#d5dfea"/>
<circle cx="273.79" cy="427.93" r="0.5" fill="#d5dfea"/>
<circle cx="275.56" cy="419.75" r="0.5" fill="#d5dfea"/>
<circle cx="278.25" cy="429.16" r="0.5" fill="#d5dfea"/>
<circle cx="275.76" cy="408.82" r="0.5" fill="#d5dfea"/>
<circle cx="272.59" cy="411.93" r="0.5" fill="#d5dfea"/>
<circle cx="271.05" cy="410.35" r="0.5" fill="#d5dfea"/>
<circle cx="275.2" cy="428.04" r="0.5" fill="#d5dfea"/>
<circle cx="270.18" cy="410.39" r="0.5" fill="#d5dfea"/>
<circle cx="267.14" cy="428.19" r="0.5" fill="#d5dfea"/>
<circle cx="269.13" cy="423.95" r="0.5" fill="#d5dfea"/>
<circle cx="277.4" cy="428.56" r="0.5" fill="#d5dfea"/>
<circle cx="279" cy="420.34" r="0.5" fill="#d5dfea"/>
<circle cx="276.18" cy="424.78" r="0.5" fill="#d5dfea"/>
<circle cx="280.52" cy="430.2" r="0.5" fill="#d5dfea"/>
<circle cx="273.47" cy="427.95" r="0.5" fill="#d5dfea"/>
<circle cx="279.38" cy="422.21" r="0.5" fill="#d5dfea"/>
<circle cx="279.99" cy="422.7" r="0.5" fill="#d5dfea"/>
<circle cx="270.54" cy="419.29" r="0.5" fill="#d5dfea"/>
<circle cx="271" cy="412.72" r="0.5" fill="#d5dfea"/>
<circle cx="273.47" cy="406.83" r="0.5" fill="#d5dfea"/>
<circle cx="280.4" cy="428.05" r="0.5" fill="#d5dfea"/>
<circle cx="272.52" cy="426.41" r="0.5" fill="#d5dfea"/>
<circle cx="276.1" cy="426" r="0.5" fill="#d5dfea"/>
<circle cx="271.91" cy="430.17" r="0.5" fill="#d5dfea"/>
<circle cx="278.59" cy="428.95" r="0.5" fill="#d5dfea"/>
<circle cx="275.41" cy="430.22" r="0.5" fill="#d5dfea"/>
<circle cx="273.15" cy="427.55" r="0.5" fill="#d5dfea"/>
<circle cx="276.35" cy="420.92" r="0.5" fill="#d5dfea"/>
<circle cx="269.99" cy="429.24" r="0.5" fill="#d5dfea"/>
<circle cx="280.59" cy="429.43" r="0.5" fill="#d5dfea"/>
<circle cx="268.49" cy="429.11" r="0.5" fill="#d5dfea"/>
<circle cx="274.81" cy="421.95" r="0.5" fill="#d5dfea"/>
<circle cx="269.89" cy="410.92" r="0.5" fill="#d5dfea"/>
<circle cx="269.06" cy="427.93" r="0.5" fill="#d5dfea"/>
<circle cx="273.24" cy="420.28" r="0.5" fill="#d5dfea"/>
<circle cx="278.93" cy="424.63" r="0.5" fill="#d5dfea"/>
<circle cx="277.81" cy="418.13" r="0.5" fill="#d5dfea"/>
<circle cx="271.94" cy="408.41" r="0.5" fill="#d5dfea"/>
<circle cx="273.04" cy="408.95" r="0.5" fill="#d5dfea"/>
<circle cx="279.99" cy="430.02" r="0.5" fill="#d5dfea"/>
<circle cx="266.66" cy="429.6" r="0.5" fill="#d5dfea"/>
<circle cx="270.85" cy="427" r="0.5" fill="#d5dfea"/>
<circle cx="276.73" cy="408.04" r="0.5" fill="#d5dfea"/>
<circle cx="274.19" cy="424.38" r="0.5" fill="#d5dfea"/>
<circle cx="276.64" cy="412.21" r="0.5" fill="#d5dfea"/>
<circle cx="273.94" cy="418.37" r="0.5" fill="#d5dfea"/>
<circle cx="270.02" cy="429.47" r="0.5" fill="#d5dfea"/>
<circle cx="274.76" cy="418.24" r="0.5" fill="#d5dfea"/>
<circle cx="277.69" cy="413.81" r="0.5" fill="#d5dfea"/>
<circle cx="271.35" cy="408.21" r="0.5" fill="#d5dfea"/>
<circle cx="279.71" cy="429.84" r="0.5" fill="#d5dfea"/>
<circle cx="269.99" cy="420.69" r="0.5" fill="#d5dfea"/>
<circle cx="271.15" cy="417.23" r="0.5" fill="#d5dfea"/>
<circle cx="271.89" cy="427.89" r="0.5" fill="#d5dfea"/>
<circle cx="275.99" cy="421.9" r="0.5" fill="#d5dfea"/>
<circle cx="277.39" cy="429.86" r="0.5" fill="#d5dfea"/>
<circle cx="273.47" cy="419.21" r="0.5" fill="#d5dfea"/>
<circle cx="277.11" cy="417.83" r="0.5" fill="#d5dfea"/>
<circle cx="273.43" cy="430.21" r="0.5" fill="#d5dfea"/>
<circle cx="276.1" cy="417.65" r="0.5" fill="#d5dfea"/>
<circle cx="270.2" cy="418.55" r="0.5" fill="#d5dfea"/>
<circle cx="276.09" cy="408.35" r="0.5" fill="#d5dfea"/>
<circle cx="272.81" cy="427.95" r="0.5" fill="#d5dfea"/>
<circle cx="271.45" cy="408.37" r="0.5" fill="#d5dfea"/>
<circle cx="279.9" cy="424.62" r="0.5" fill="#d5dfea"/>
<circle cx="271.48" cy="410.44" r="0.5" fill="#d5dfea"/>
<circle cx="272.34" cy="415.91" r="0.5" fill="#d5dfea"/>
<circle cx="276.77" cy="418.09" r="0.5" fill="#d5dfea"/>
<circle cx="269.72" cy="429.36" r="0.5" fill="#d5dfea"/>
<circle cx="270.44" cy="428.22" r="0.5" fill="#d5dfea"/>
<circle cx="268.35" cy="430.11" r="0.5" fill="#d5dfea"/>
<circle cx="272.75" cy="424.69" r="0.5" fill="#d5dfea"/>
<circle cx="275.02" cy="429.83" r="0.5" fill="#d5dfea"/>
<circle cx="274.43" cy="408.94" r="0.5" fill="#d5dfea"/>
<circle cx="276.57" cy="425.75" r="0.5" fill="#d5dfea"/>
<circle cx="269.58" cy="423.99" r="0.5" fill="#d5dfea"/>
<circle cx="267.69" cy="422.95" r="0.5" fill="#d5dfea"/>
<circle cx="270.07" cy="417.71" r="0.5" fill="#d5dfea"/>
<circle cx="280.03" cy="425.46" r="0.5" fill="#d5dfea"/>
<circle cx="277.19" cy="414.92" r="0.5" fill="#d5dfea"/>
<circle cx="275.32" cy="418.7" r="0.5" fill="#d5dfea"/>
<circle cx="278.8" cy="416.85" r="0.5" fill="#d5dfea"/>
<circle cx="277.65" cy="428.49" r="0.5" fill="#d5dfea"/>
<circle cx="270.4" cy="426.8" r="0.5" fill="#d5dfea"/>
<circle cx="274.76" cy="413.13" r="0.5" fill="#d5dfea"/>
<circle cx="277.26" cy="412.19" r="0.5" fill="#d5dfea"/>
<circle cx="270.24" cy="420.19" r="0.5" fill="#d5dfea"/>
<circle cx="274.32" cy="430.2" r="0.5" fill="#d5dfea"/>
<circle cx="271.41" cy="416.21" r="0.5" fill="#d5dfea"/>
<circle cx="266.42" cy="429.89" r="0.5" fill="#d5dfea"/>
<circle cx="276.65" cy="428.81" r="0.5" fill="#d5dfea"/>
<circle cx="269.75" cy="430.22" r="0.5" fill="#d5dfea"/>
<circle cx="276.78" cy="427.43" r="0.5" fill="#d5dfea"/>
<circle cx="270.11" cy="407.29" r="0.5" fill="#d5dfea"/>
<circle cx="280.22" cy="429.5" r="0.5" fill="#d5dfea"/>
<circle cx="271.03" cy="407.93" r="0.5" fill="#d5dfea"/>
<circle cx="274.11" cy="426.15" r="0.5" fill="#d5dfea"/>
<circle cx="272.66" cy="426.44" r="0.5" fill="#d5dfea"/>
<circle cx="270.73" cy="423.02" r="0.5" fill="#d5dfea"/>
<circle cx="267.59" cy="430" r="0.5" fill="#d5dfea"/>
<circle cx="267.84" cy="428.95" r="0.5" fill="#d5dfea"/>
<circle cx="276.06" cy="419.21" r="0.5" fill="#d5dfea"/>
<circle cx="277.92" cy="427.46" r="0.5" fill="#d5dfea"/>
<circle cx="272.14" cy="416.11" r="0.5" fill="#d5dfea"/>
<circle cx="269.87" cy="422.7" r="0.5" fill="#d5dfea"/>
<circle cx="274.3" cy="409.42" r="0.5" fill="#d5dfea"/>
<circle cx="268.63" cy="430.02" r="0.5" fill="#d5dfea"/>
<circle cx="272.56" cy="417.22" r="0.5" fill="#d5dfea"/>
<circle cx="270.93" cy="416.48" r="0.5" fill="#d5dfea"/>
<circle cx="276.76" cy="413.94" r="0.5" fill="#d5dfea"/>
<circle cx="275.08" cy="429.69" r="0.5" fill="#d5dfea"/>
<circle cx="276.81" cy="428.56" r="0.5" fill="#d5dfea"/>
<circle cx="276.63" cy="413.71" r="0.5" fill="#d5dfea"/>
<circle cx="267.99" cy="427.98" r="0.5" fill="#d5dfea"/>
<circle cx="274.52" cy="418.08" r="0.5" fill="#d5dfea"/>
<circle cx="269.29" cy="429.24" r="0.5" fill="#d5dfea"/>
<circle cx="269.15" cy="420.36" r="0.5" fill="#d5dfea"/>
<circle cx="270.85" cy="418.93" r="0.5" fill="#d5dfea"/>
<circle cx="272.72" cy="427.54" r="0.5" fill="#d5dfea"/>
<circle cx="276.55" cy="421.67" r="0.5" fill="#d5dfea"/>
<circle cx="277.16" cy="430.13" r="0.5" fill="#d5dfea"/>
<circle cx="270.8" cy="428.13" r="0.5" fill="#d5dfea"/>
<circle cx="275.97" cy="418.77" r="0.5" fill="#d5dfea"/>
<circle cx="278.45" cy="419.48" r="0.5" fill="#d5dfea"/>
<circle cx="271.08" cy="428.37" r="0.5" fill="#d5dfea"/>
<circle cx="271.14" cy="418.11" r="0.5" fill="#d5dfea"/>
<circle cx="269.8" cy="429.01" r="0.5" fill="#d5dfea"/>
<circle cx="277.09" cy="414.77" r="0.5" fill="#d5dfea"/>
<circle cx="278.67" cy="416.5" r="0.5" fill="#d5dfea"/>
<circle cx="271.93" cy="414.03" r="0.5" fill="#d5dfea"/>
<circle cx="276.86" cy="426.53" r="0.5" fill="#d5dfea"/>
<circle cx="275.43" cy="429.99" r="0.5" fill="#d5dfea"/>
<circle cx="267.11" cy="429.73" r="0.5" fill="#d5dfea"/>
<circle cx="269.47" cy="422.16" r="0.5" fill="#d5dfea"/>
<circle cx="276.94" cy="409.32" r="0.5" fill="#d5dfea"/>
<circle cx="269.92" cy="423.42" r="0.5" fill="#d5dfea"/>
<circle cx="273.9" cy="429.44" r="0.5" fill="#d5dfea"/>
<circle cx="272.1" cy="421.97" r="0.5" fill="#d5dfea"/>
<circle cx="274.11" cy="416.5" r="0.5" fill="#d5dfea"/>
<circle cx="269.85" cy="414.64" r="0.5" fill="#d5dfea"/>
<circle cx="272.12" cy="429.89" r="0.5" fill="#d5dfea"/>
<circle cx="270.67" cy="422.9" r="0.5" fill="#d5dfea"/>
<circle cx="270.72" cy="417.93" r="0.5" fill="#d5dfea"/>
<circle cx="273.48" cy="426.48" r="0.5" fill="#d5dfea"/>
<circle cx="276.68" cy="416.62" r="0.5" fill="#d5dfea"/>
<circle cx="273.08" cy="425.42" r="0.5" fill="#d5dfea"/>
<circle cx="277.43" cy="409.47" r="0.5" fill="#d5dfea"/>
<circle cx="269.25" cy="419.36" r="0.5" fill="#d5dfea"/>
<circle cx="275.56" cy="423.57" r="0.5" fill="#d5dfea"/>
<circle cx="267.31" cy="427.19" r="0.5" fill="#d5dfea"/>
<circle cx="276.97" cy="407.52" r="0.5" fill="#d5dfea"/>
<circle cx="273.3" cy="429.34" r="0.5" fill="#d5dfea"/>
<circle cx="271.49" cy="419.35" r="0.5" fill="#d5dfea"/>
<circle cx="277.53" cy="429.9" r="0.5" fill="#d5dfea"/>
<circle cx="273.17" cy="414.79" r="0.5" fill="#d5dfea"/>
<circle cx="272.22" cy="429.76" r="0.5" fill="#d5dfea"/>
<circle cx="280.67" cy="429.69" r="0.5" fill="#d5dfea"/>
<circle cx="270.63" cy="430.02" r="0.5" fill="#d5dfea"/>
<circle cx="270.11" cy="414.88" r="0.5" fill="#d5dfea"/>
<circle cx="267.45" cy="429.57" r="0.5" fill="#d5dfea"/>
<circle cx="274.26" cy="428.93" r="0.5" fill="#d5dfea"/>
<circle cx="270.68" cy="412.75" r="0.5" fill="#d5dfea"/>
<circle cx="277.65" cy="428.8" r="0.5" fill="#d5dfea"/>
<circle cx="271.68" cy="424.25" r="0.5" fill="#d5dfea"/>
<circle cx="270.01" cy="429.4" r="0.5" fill="#d5dfea"/>
<circle cx="270.79" cy="407.86" r="0.5" fill="#d5dfea"/>
<circle cx="277.2" cy="427.52" r="0.5" fill="#d5dfea"/>
<circle cx="277.35" cy="410.74" r="0.5" fill="#d5dfea"/>
<circle cx="279.62" cy="423.16" r="0.5" fill="#d5dfea"/>
<circle cx="271.34" cy="419.77" r="0.5" fill="#d5dfea"/>
<circle cx="276.57" cy="423.34" r="0.5" fill="#d5dfea"/>
<circle cx="269.93" cy="415.95" r="0.5" fill="#d5dfea"/>
<circle cx="280.43" cy="428.53" r="0.5" fill="#d5dfea"/>
<circle cx="278.44" cy="429.57" r="0.5" fill="#d5dfea"/>
<circle cx="270.35" cy="426.08" r="0.5" fill="#d5dfea"/>
<circle cx="273.36" cy="427.59" r="0.5" fill="#d5dfea"/>
<circle cx="271.12" cy="407.17" r="0.5" fill="#d5dfea"/>
<circle cx="272.16" cy="412.02" r="0.5" fill="#d5dfea"/>
<circle cx="277.36" cy="428.81" r="0.5" fill="#d5dfea"/>
<circle cx="269.53" cy="426.03" r="0.5" fill="#d5dfea"/>
<circle cx="278.03" cy="424.42" r="0.5" fill="#d5dfea"/>
<circle cx="274.48" cy="411.73" r="0.5" fill="#d5dfea"/>
<circle cx="277.75" cy="430.21" r="0.5" fill="#d5dfea"/>
<circle cx="278.45" cy="419.71" r="0.5" fill="#d5dfea"/>
<circle cx="272.4" cy="408.59" r="0.5" fill="#d5dfea"/>
<circle cx="276.75" cy="412.23" r="0.5" fill="#d5dfea"/>
<circle cx="271.91" cy="427.41" r="0.5" fill="#d5dfea"/>
<circle cx="271.82" cy="425.36" r="0.5" fill="#d5dfea"/>
<circle cx="268.57" cy="425.28" r="0.5" fill="#d5dfea"/>
<circle cx="279.66" cy="428.04" r="0.5" fill="#d5dfea"/>
<circle cx="275.59" cy="424.59" r="0.5" fill="#d5dfea"/>
<circle cx="276.05" cy="410.89" r="0.5" fill="#d5dfea"/>
<circle cx="279.76" cy="427.77" r="0.5" fill="#d5dfea"/>
<circle cx="278.57" cy="413.71" r="0.5" fill="#d5dfea"/>
<circle cx="276.48" cy="416.14" r="0.5" fill="#d5dfea"/>
<circle cx="271.42" cy="413.41" r="0.5" fill="#d5dfea"/>
<circle cx="272.46" cy="418.3" r="0.5" fill="#d5dfea"/>
<circle cx="270.38" cy="412.52" r="0.5" fill="#d5dfea"/>
<circle cx="271.8" cy="421.51" r="0.5" fill="#d5dfea"/>
<circle cx="272.32" cy="413.16" r="0.5" fill="#d5dfea"/>
<circle cx="277.03" cy="412.38" r="0.5" fill="#d5dfea"/>
<circle cx="270.58" cy="411.18" r="0.5" fill="#d5dfea"/>
<circle cx="275.81" cy="409.08" r="0.5" fill="#d5dfea"/>
<circle cx="275.48" cy="417.68" r="0.5" fill="#d5dfea"/>
<circle cx="279.33" cy="430.04" r="0.5" fill="#d5dfea"/>
<circle cx="273.26" cy="421.29" r="0.5" fill="#d5dfea"/>
<circle cx="277.67" cy="426.07" r="0.5" fill="#d5dfea"/>
<circle cx="273.02" cy="426.98" r="0.65" fill="#5a8fcc"/>
<circle cx="269.96" cy="418.78" r="0.65" fill="#5a8fcc"/>
<circle cx="270.15" cy="415.06" r="0.65" fill="#5a8fcc"/>
<circle cx="270.57" cy="413.9" r="0.65" fill="#5a8fcc"/>
<circle cx="273.1" cy="417.02" r="0.65" fill="#5a8fcc"/>
<circle cx="269.18" cy="414.55" r="0.65" fill="#5a8fcc"/>
<circle cx="272.8" cy="416.58" r="0.65" fill="#5a8fcc"/>
<circle cx="271.3" cy="419.73" r="0.65" fill="#5a8fcc"/>
<circle cx="273.13" cy="428.29" r="0.65" fill="#5a8fcc"/>
<circle cx="270.47" cy="423.3" r="0.65" fill="#5a8fcc"/>
<circle cx="273.63" cy="420.79" r="0.65" fill="#5a8fcc"/>
<circle cx="273.66" cy="424.87" r="0.65" fill="#5a8fcc"/>
<circle cx="270.48" cy="427.05" r="0.65" fill="#5a8fcc"/>
<circle cx="271.9" cy="415.14" r="0.65" fill="#5a8fcc"/>
<circle cx="271.97" cy="426.35" r="0.65" fill="#5a8fcc"/>
<circle cx="271.6" cy="421" r="0.65" fill="#5a8fcc"/>
<circle cx="271.05" cy="427.15" r="0.65" fill="#5a8fcc"/>
<circle cx="272.39" cy="416.72" r="0.65" fill="#5a8fcc"/>
<circle cx="270.76" cy="419.13" r="0.65" fill="#5a8fcc"/>
<circle cx="273.98" cy="424.29" r="0.65" fill="#5a8fcc"/>
<circle cx="269.47" cy="427.67" r="0.65" fill="#5a8fcc"/>
<circle cx="268.99" cy="422.66" r="0.65" fill="#5a8fcc"/>
<circle cx="271" cy="390.5" r="1.0" fill="#4f88c9"/>
<circle cx="272.5" cy="426.5" r="1.0" fill="#4f88c9"/>
<circle cx="273" cy="427.8" r="1.0" fill="#4f88c9"/>
<circle cx="281.4" cy="423.14" r="0.5" fill="#e65a55"/>
<circle cx="281.34" cy="409.08" r="0.5" fill="#e65a55"/>
<circle cx="283.2" cy="425.46" r="0.5" fill="#e65a55"/>
<circle cx="289.31" cy="415.02" r="0.5" fill="#e65a55"/>
<circle cx="277.99" cy="423.76" r="0.5" fill="#e65a55"/>
<circle cx="289.64" cy="411.93" r="0.5" fill="#e65a55"/>
<circle cx="291.77" cy="429.33" r="0.5" fill="#e65a55"/>
<circle cx="281.42" cy="415.56" r="0.5" fill="#e65a55"/>
<circle cx="287.36" cy="427.92" r="0.5" fill="#e65a55"/>
<circle cx="277.72" cy="413.79" r="0.5" fill="#e65a55"/>
<circle cx="279.59" cy="423.47" r="0.5" fill="#e65a55"/>
<circle cx="277.53" cy="419.3" r="0.5" fill="#e65a55"/>
<circle cx="282.72" cy="422.04" r="0.5" fill="#e65a55"/>
<circle cx="277.03" cy="428.52" r="0.5" fill="#e65a55"/>
<circle cx="295" cy="419.62" r="0.5" fill="#e65a55"/>
<circle cx="289.47" cy="411.13" r="0.5" fill="#e65a55"/>
<circle cx="292.5" cy="419.41" r="0.5" fill="#e65a55"/>
<circle cx="288.58" cy="426.54" r="0.5" fill="#e65a55"/>
<circle cx="280.13" cy="427.79" r="0.5" fill="#e65a55"/>
<circle cx="277.79" cy="407.53" r="0.5" fill="#e65a55"/>
<circle cx="282.77" cy="427.22" r="0.5" fill="#e65a55"/>
<circle cx="292.23" cy="428.49" r="0.5" fill="#e65a55"/>
<circle cx="282.94" cy="427.98" r="0.5" fill="#e65a55"/>
<circle cx="283.96" cy="410.23" r="0.5" fill="#e65a55"/>
<circle cx="285.53" cy="425.08" r="0.5" fill="#e65a55"/>
<circle cx="281.24" cy="420.55" r="0.5" fill="#e65a55"/>
<circle cx="278.51" cy="413.21" r="0.5" fill="#e65a55"/>
<circle cx="281.18" cy="418.55" r="0.5" fill="#e65a55"/>
<circle cx="282.09" cy="409.08" r="0.5" fill="#e65a55"/>
<circle cx="276.01" cy="414.65" r="0.5" fill="#e65a55"/>
<circle cx="287.53" cy="423.84" r="0.5" fill="#e65a55"/>
<circle cx="278.19" cy="412.75" r="0.5" fill="#e65a55"/>
<circle cx="283.06" cy="410.95" r="0.5" fill="#e65a55"/>
<circle cx="284.89" cy="427.34" r="0.5" fill="#e65a55"/>
<circle cx="277.72" cy="420.17" r="0.5" fill="#e65a55"/>
<circle cx="287.63" cy="423.86" r="0.5" fill="#e65a55"/>
<circle cx="287.42" cy="422.99" r="0.5" fill="#e65a55"/>
<circle cx="278.7" cy="425.86" r="0.5" fill="#e65a55"/>
<circle cx="292.91" cy="408.18" r="0.5" fill="#e65a55"/>
<circle cx="293.43" cy="416.96" r="0.5" fill="#e65a55"/>
<circle cx="276.48" cy="408.57" r="0.5" fill="#e65a55"/>
<circle cx="289.52" cy="422.25" r="0.5" fill="#e65a55"/>
<circle cx="277.02" cy="417.35" r="0.5" fill="#e65a55"/>
<circle cx="285.7" cy="429.45" r="0.5" fill="#e65a55"/>
<circle cx="279.7" cy="424.25" r="0.5" fill="#e65a55"/>
<circle cx="278.31" cy="411.47" r="0.5" fill="#e65a55"/>
<circle cx="277.23" cy="416.23" r="0.5" fill="#e65a55"/>
<circle cx="285.24" cy="413.82" r="0.5" fill="#e65a55"/>
<circle cx="277.24" cy="411.92" r="0.5" fill="#e65a55"/>
<circle cx="276.47" cy="411.35" r="0.5" fill="#e65a55"/>
<circle cx="279.37" cy="418.35" r="0.5" fill="#e65a55"/>
<circle cx="277.49" cy="417.79" r="0.5" fill="#e65a55"/>
<circle cx="281.54" cy="428.89" r="0.5" fill="#e65a55"/>
<circle cx="282.44" cy="428.26" r="0.5" fill="#e65a55"/>
<circle cx="282.15" cy="411.45" r="0.5" fill="#e65a55"/>
<circle cx="284.65" cy="410.25" r="0.5" fill="#e65a55"/>
<circle cx="277.32" cy="408.65" r="0.5" fill="#e65a55"/>
<circle cx="287.16" cy="428.76" r="0.5" fill="#e65a55"/>
<circle cx="280.87" cy="414.97" r="0.5" fill="#e65a55"/>
<circle cx="281.27" cy="414.92" r="0.5" fill="#e65a55"/>
<circle cx="286.91" cy="415.82" r="0.5" fill="#e65a55"/>
<circle cx="277.13" cy="426.45" r="0.5" fill="#e65a55"/>
<circle cx="284.23" cy="407.14" r="0.5" fill="#e65a55"/>
<circle cx="290.88" cy="423.39" r="0.5" fill="#e65a55"/>
<circle cx="280.01" cy="421.17" r="0.5" fill="#e65a55"/>
<circle cx="292.77" cy="416.04" r="0.5" fill="#e65a55"/>
<circle cx="281.41" cy="413.71" r="0.5" fill="#e65a55"/>
<circle cx="283.84" cy="421.91" r="0.5" fill="#e65a55"/>
<circle cx="287.97" cy="428.36" r="0.5" fill="#e65a55"/>
<circle cx="277.05" cy="415.23" r="0.5" fill="#e65a55"/>
<circle cx="278" cy="398.8" r="0.8" fill="#e2463f"/>
<circle cx="280.5" cy="412" r="0.8" fill="#e2463f"/>
<circle cx="284" cy="417" r="0.8" fill="#e2463f"/>
<circle cx="286.5" cy="421" r="0.8" fill="#e2463f"/>
<line x1="228.2" y1="429.8" x2="321.5" y2="429.8" stroke="#8a8a8a" stroke-width="0.7" stroke-dasharray="1.3 1.3"/>
<rect x="228.2" y="358.5" width="93.3" height="93.7" fill="none" stroke="#8c8c8c" stroke-width="0.9"/>
<text x="248.2" y="366.6" font-size="6.7" text-anchor="middle" fill="#222" stroke="#222" stroke-width="0.16">Sig: 31</text>
<text x="248.3" y="376" font-size="6.7" text-anchor="middle" fill="#222" stroke="#222" stroke-width="0.16">VIP &gt; 1</text>
<text x="248.3" y="385.4" font-size="6.7" text-anchor="middle" fill="#222" stroke="#222" stroke-width="0.16">p &lt; 0.05</text>
<text x="248.4" y="401.2" font-size="6.7" text-anchor="middle" fill="#222" stroke="#222" stroke-width="0.16">Down</text>
<text x="300.8" y="366.6" font-size="6.7" text-anchor="middle" fill="#222" stroke="#222" stroke-width="0.16">Sig: 102</text>
<text x="300.8" y="376" font-size="6.7" text-anchor="middle" fill="#222" stroke="#222" stroke-width="0.16">VIP &gt; 1</text>
<text x="300.8" y="385.4" font-size="6.7" text-anchor="middle" fill="#222" stroke="#222" stroke-width="0.16">p &lt; 0.05</text>
<text x="300.4" y="401.2" font-size="6.7" text-anchor="middle" fill="#222" stroke="#222" stroke-width="0.16">Up</text>
<text x="248.4" y="395.1" font-size="6.7" text-anchor="middle" fill="#222" stroke="#222" stroke-width="0.16">log<tspan font-size="4.5" dy="1.5">2</tspan><tspan dy="-1.5">(FC) &lt; 0</tspan></text>
<text x="300.9" y="395.1" font-size="6.7" text-anchor="middle" fill="#222" stroke="#222" stroke-width="0.16">log<tspan font-size="4.5" dy="1.5">2</tspan><tspan dy="-1.5">(FC) &lt; 0</tspan></text>
<path d="M282.3 410.2L280.3 425.4M265.1 416.0L277.4 423.0M265.1 425.6H277.4M295.8 423.0L284.4 427.1M279.7 433.5V426.5" stroke="#d8322c" stroke-width="0.9" fill="none"/>
<circle cx="279" cy="425.6" r="1.0" fill="#d8322c"/>
<circle cx="281.2" cy="425" r="1.0" fill="#d8322c"/>
<circle cx="283.5" cy="426.5" r="1.0" fill="#d8322c"/>
<circle cx="277.6" cy="424.2" r="1.0" fill="#d8322c"/>
<circle cx="280" cy="427" r="1.0" fill="#d8322c"/>
<text x="288.3" y="408.6" font-size="6.7" text-anchor="middle" fill="#d8322c" stroke="#d8322c" stroke-width="0.16">Riboflavin</text>
<text x="251.2" y="417.7" font-size="6.7" text-anchor="middle" fill="#d8322c" stroke="#d8322c" stroke-width="0.16">Histidinal</text>
<text x="305.3" y="421" font-size="6.7" text-anchor="middle" fill="#d8322c" stroke="#d8322c" stroke-width="0.16">NAA</text>
<text x="247.8" y="426.9" font-size="6.7" text-anchor="middle" fill="#d8322c" stroke="#d8322c" stroke-width="0.16">L−Histidinol</text>
<text x="277.8" y="439.3" font-size="6.7" text-anchor="middle" fill="#d8322c" stroke="#d8322c" stroke-width="0.16">Indolepyruvate</text>
<text x="224.6" y="369.48" font-size="10.6" text-anchor="end" fill="#1a1a1a" stroke="#1a1a1a" stroke-width="0.26">6</text>
<text x="224.6" y="397.02" font-size="10.6" text-anchor="end" fill="#1a1a1a" stroke="#1a1a1a" stroke-width="0.26">4</text>
<text x="224.6" y="424.56" font-size="10.6" text-anchor="end" fill="#1a1a1a" stroke="#1a1a1a" stroke-width="0.26">2</text>
<text x="224.6" y="452.1" font-size="10.6" text-anchor="end" fill="#1a1a1a" stroke="#1a1a1a" stroke-width="0.26">0</text>
<text x="246.4" y="463" font-size="10.6" text-anchor="middle" fill="#1a1a1a" stroke="#1a1a1a" stroke-width="0.26">-4</text>
<text x="273.4" y="463" font-size="10.6" text-anchor="middle" fill="#1a1a1a" stroke="#1a1a1a" stroke-width="0.26">0</text>
<text x="300.4" y="463" font-size="10.6" text-anchor="middle" fill="#1a1a1a" stroke="#1a1a1a" stroke-width="0.26">4</text>
<text x="275.4" y="477.4" font-size="10.7" text-anchor="middle" fill="#1a1a1a" stroke="#1a1a1a" stroke-width="0.26">Log<tspan font-size="7" dy="2.5">2</tspan><tspan dy="-2.5">(FC)</tspan></text>
<text x="215" y="405.2" font-size="10.7" text-anchor="middle" fill="#1a1a1a" stroke="#1a1a1a" stroke-width="0.26" transform="rotate(-90 215 405.2)">-log<tspan font-size="7" dy="2.5">10</tspan><tspan dy="-2.5">(P-value)</tspan></text>
<text x="325" y="383" font-size="3.6" fill="#444" stroke="#444" stroke-width="0.09">VIP</text>
<circle cx="328.6" cy="387.8" r="0.3" fill="#222"/>
<text x="331.6" y="389.55" font-size="5" fill="#333" stroke="#333" stroke-width="0.12">1</text>
<circle cx="328.6" cy="392.65" r="0.6" fill="#222"/>
<text x="331.6" y="394.4" font-size="5" fill="#333" stroke="#333" stroke-width="0.12">12</text>
<circle cx="328.6" cy="397.5" r="0.8" fill="#222"/>
<text x="331.6" y="399.25" font-size="5" fill="#333" stroke="#333" stroke-width="0.12">24</text>
<circle cx="328.6" cy="402.35" r="1" fill="#222"/>
<text x="331.6" y="404.1" font-size="5" fill="#333" stroke="#333" stroke-width="0.12">36</text>
<rect x="327.8" y="416.05" width="1.8" height="0.9" fill="#4a86c8"/>
<text x="331.6" y="418.25" font-size="5" fill="#333" stroke="#333" stroke-width="0.12">Down</text>
<rect x="327.8" y="421" width="1.8" height="0.9" fill="#c8c8c8"/>
<text x="331.6" y="423.2" font-size="5" fill="#333" stroke="#333" stroke-width="0.12">NS</text>
<rect x="327.8" y="425.95" width="1.8" height="0.9" fill="#e0403a"/>
<text x="331.6" y="428.15" font-size="5" fill="#333" stroke="#333" stroke-width="0.12">Up</text>
<text x="355.4" y="354.6" font-size="15.8" fill="#1a1a1a" stroke="#1a1a1a" stroke-width="0.26">J</text>
<text x="569" y="353" font-size="10.7" text-anchor="middle" fill="#1a1a1a" stroke="#1a1a1a" stroke-width="0.26">KEGG Pathway Classification</text>
<rect x="587.4" y="361.5" width="51.4" height="91.6" fill="none" stroke="#8c8c8c" stroke-width="0.9"/>
<rect x="589.2" y="365.1" width="7.8" height="5.6" fill="#e67d93"/>
<text x="584.7" y="371.7" font-size="10.9" text-anchor="end" fill="#1a1a1a" stroke="#1a1a1a" stroke-width="0.26">Xenobiotics biodegradation and metabolism</text>
<text x="599.6" y="370.3" font-size="7" fill="#1a1a1a" stroke="#1a1a1a" stroke-width="0.17">1</text>
<rect x="589.2" y="379.8" width="7.8" height="5.6" fill="#e67d93"/>
<text x="582.4" y="386.4" font-size="10.9" text-anchor="end" fill="#1a1a1a" stroke="#1a1a1a" stroke-width="0.26">Metabolism of cofactors and vitamins</text>
<text x="599.6" y="385" font-size="7" fill="#1a1a1a" stroke="#1a1a1a" stroke-width="0.17">1</text>
<rect x="589.2" y="394.3" width="7.8" height="5.6" fill="#e67d93"/>
<text x="584.7" y="400.9" font-size="10.9" text-anchor="end" fill="#1a1a1a" stroke="#1a1a1a" stroke-width="0.26">Membrane transport</text>
<text x="599.6" y="399.5" font-size="7" fill="#1a1a1a" stroke="#1a1a1a" stroke-width="0.17">1</text>
<rect x="589.2" y="409.1" width="7.8" height="5.6" fill="#e67d93"/>
<text x="584.7" y="415.7" font-size="10.9" text-anchor="end" fill="#1a1a1a" stroke="#1a1a1a" stroke-width="0.26">Digestive system</text>
<text x="599.6" y="414.3" font-size="7" fill="#1a1a1a" stroke="#1a1a1a" stroke-width="0.17">1</text>
<rect x="589.2" y="430.3" width="47.4" height="5.6" fill="#6d7dbf"/>
<text x="584.7" y="436.9" font-size="10.9" text-anchor="end" fill="#1a1a1a" stroke="#1a1a1a" stroke-width="0.26">Biosynthesis of other secondary metabolites</text>
<rect x="589.2" y="439.2" width="31.6" height="5.6" fill="#e67d93"/>
<text x="584.7" y="445.8" font-size="10.9" text-anchor="end" fill="#1a1a1a" stroke="#1a1a1a" stroke-width="0.26">Amino acid metabolism</text>
<text x="623.4" y="444.4" font-size="7" fill="#1a1a1a" stroke="#1a1a1a" stroke-width="0.17">4</text>
<text x="633.2" y="435.5" font-size="7" fill="#1a1a1a" stroke="#1a1a1a" stroke-width="0.17">1</text>
<text x="586.8" y="464.2" font-size="8.2" text-anchor="middle" fill="#1a1a1a" stroke="#1a1a1a" stroke-width="0.2">0</text>
<text x="598.9" y="464.2" font-size="8.2" text-anchor="middle" fill="#1a1a1a" stroke="#1a1a1a" stroke-width="0.2">25</text>
<text x="611.6" y="464.2" font-size="8.2" text-anchor="middle" fill="#1a1a1a" stroke="#1a1a1a" stroke-width="0.2">50</text>
<text x="623.7" y="464.2" font-size="8.2" text-anchor="middle" fill="#1a1a1a" stroke="#1a1a1a" stroke-width="0.2">75</text>
<text x="636.8" y="464.2" font-size="8.2" text-anchor="middle" fill="#1a1a1a" stroke="#1a1a1a" stroke-width="0.2">100</text>
<text x="615.2" y="476.8" font-size="10.7" text-anchor="middle" fill="#1a1a1a" stroke="#1a1a1a" stroke-width="0.26">Percent</text>
<rect x="642.5" y="402.4" width="5.6" height="3.2" fill="#e67d93"/>
<rect x="642.5" y="412.4" width="5.6" height="3.2" fill="#6d7dbf"/>
<text x="650.3" y="408" font-size="10.6" fill="#1a1a1a" stroke="#1a1a1a" stroke-width="0.26">UP</text>
<text x="650.3" y="417.9" font-size="10.6" fill="#1a1a1a" stroke="#1a1a1a" stroke-width="0.26">Down</text>
<text x="226" y="488.6" font-size="15.8" fill="#1a1a1a" stroke="#1a1a1a" stroke-width="0.26">O</text>
<text x="339.6" y="486" font-size="10.8" text-anchor="middle" fill="#1a1a1a" stroke="#1a1a1a" stroke-width="0.26">CK-vs-Ric</text>
<g stroke="#9c9c9c" stroke-width="0.7"><rect x="263.2" y="523.7" width="11.71" height="9.17" fill="#7299c8"/><rect x="274.91" y="523.7" width="11.71" height="9.17" fill="#4a78b8"/><rect x="286.62" y="523.7" width="11.71" height="9.17" fill="#4a78b8"/><rect x="298.33" y="523.7" width="11.71" height="9.17" fill="#4a78b8"/><rect x="310.04" y="523.7" width="11.71" height="9.17" fill="#6890c4"/><rect x="321.75" y="523.7" width="11.71" height="9.17" fill="#5884bf"/><rect x="333.46" y="523.7" width="11.71" height="9.17" fill="#4a78b8"/><rect x="345.17" y="523.7" width="11.71" height="9.17" fill="#e9925e"/><rect x="356.88" y="523.7" width="11.71" height="9.17" fill="#ede0bc"/><rect x="368.59" y="523.7" width="11.71" height="9.17" fill="#ecd9ac"/><rect x="380.3" y="523.7" width="11.71" height="9.17" fill="#ebecdb"/><rect x="392.01" y="523.7" width="11.71" height="9.17" fill="#eaeee2"/><rect x="403.72" y="523.7" width="11.71" height="9.17" fill="#ede0bc"/><rect x="415.43" y="523.7" width="11.71" height="9.17" fill="#ede0bc"/><rect x="427.14" y="523.7" width="11.71" height="9.17" fill="#e9925e"/><rect x="438.85" y="523.7" width="11.71" height="9.17" fill="#ecc280"/><rect x="450.56" y="523.7" width="11.71" height="9.17" fill="#eab070"/><rect x="462.27" y="523.7" width="11.71" height="9.17" fill="#eaa167"/><rect x="473.98" y="523.7" width="11.71" height="9.17" fill="#ecc280"/><rect x="485.69" y="523.7" width="11.71" height="9.17" fill="#e9925e"/><rect x="263.2" y="532.87" width="11.71" height="9.17" fill="#6890c4"/><rect x="274.91" y="532.87" width="11.71" height="9.17" fill="#4a78b8"/><rect x="286.62" y="532.87" width="11.71" height="9.17" fill="#4a78b8"/><rect x="298.33" y="532.87" width="11.71" height="9.17" fill="#4a78b8"/><rect x="310.04" y="532.87" width="11.71" height="9.17" fill="#a9c6dc"/><rect x="321.75" y="532.87" width="11.71" height="9.17" fill="#5884bf"/><rect x="333.46" y="532.87" width="11.71" height="9.17" fill="#98b8d6"/><rect x="345.17" y="532.87" width="11.71" height="9.17" fill="#ebecdb"/><rect x="356.88" y="532.87" width="11.71" height="9.17" fill="#ecca8e"/><rect x="368.59" y="532.87" width="11.71" height="9.17" fill="#e9925e"/><rect x="380.3" y="532.87" width="11.71" height="9.17" fill="#e4704a"/><rect x="392.01" y="532.87" width="11.71" height="9.17" fill="#ede0bc"/><rect x="403.72" y="532.87" width="11.71" height="9.17" fill="#edddb6"/><rect x="415.43" y="532.87" width="11.71" height="9.17" fill="#ecc280"/><rect x="427.14" y="532.87" width="11.71" height="9.17" fill="#eab070"/><rect x="438.85" y="532.87" width="11.71" height="9.17" fill="#ede0bc"/><rect x="450.56" y="532.87" width="11.71" height="9.17" fill="#ebeddd"/><rect x="462.27" y="532.87" width="11.71" height="9.17" fill="#ecca8e"/><rect x="473.98" y="532.87" width="11.71" height="9.17" fill="#ece6c9"/><rect x="485.69" y="532.87" width="11.71" height="9.17" fill="#ecc280"/><rect x="263.2" y="542.04" width="11.71" height="9.17" fill="#eab070"/><rect x="274.91" y="542.04" width="11.71" height="9.17" fill="#e9925e"/><rect x="286.62" y="542.04" width="11.71" height="9.17" fill="#e4704a"/><rect x="298.33" y="542.04" width="11.71" height="9.17" fill="#dc5038"/><rect x="310.04" y="542.04" width="11.71" height="9.17" fill="#eab070"/><rect x="321.75" y="542.04" width="11.71" height="9.17" fill="#ecc280"/><rect x="333.46" y="542.04" width="11.71" height="9.17" fill="#ecc280"/><rect x="345.17" y="542.04" width="11.71" height="9.17" fill="#608ac2"/><rect x="356.88" y="542.04" width="11.71" height="9.17" fill="#4a78b8"/><rect x="368.59" y="542.04" width="11.71" height="9.17" fill="#5884bf"/><rect x="380.3" y="542.04" width="11.71" height="9.17" fill="#4a78b8"/><rect x="392.01" y="542.04" width="11.71" height="9.17" fill="#5884bf"/><rect x="403.72" y="542.04" width="11.71" height="9.17" fill="#6890c4"/><rect x="415.43" y="542.04" width="11.71" height="9.17" fill="#517ebc"/><rect x="427.14" y="542.04" width="11.71" height="9.17" fill="#517ebc"/><rect x="438.85" y="542.04" width="11.71" height="9.17" fill="#608ac2"/><rect x="450.56" y="542.04" width="11.71" height="9.17" fill="#5884bf"/><rect x="462.27" y="542.04" width="11.71" height="9.17" fill="#4774b5"/><rect x="473.98" y="542.04" width="11.71" height="9.17" fill="#4a78b8"/><rect x="485.69" y="542.04" width="11.71" height="9.17" fill="#4774b5"/><rect x="263.2" y="551.21" width="11.71" height="9.17" fill="#ede0bc"/><rect x="274.91" y="551.21" width="11.71" height="9.17" fill="#ecca8e"/><rect x="286.62" y="551.21" width="11.71" height="9.17" fill="#ecc280"/><rect x="298.33" y="551.21" width="11.71" height="9.17" fill="#e9925e"/><rect x="310.04" y="551.21" width="11.71" height="9.17" fill="#d0e4ec"/><rect x="321.75" y="551.21" width="11.71" height="9.17" fill="#ece6c9"/><rect x="333.46" y="551.21" width="11.71" height="9.17" fill="#ecd9ac"/><rect x="345.17" y="551.21" width="11.71" height="9.17" fill="#ece6c9"/><rect x="356.88" y="551.21" width="11.71" height="9.17" fill="#98b8d6"/><rect x="368.59" y="551.21" width="11.71" height="9.17" fill="#5884bf"/><rect x="380.3" y="551.21" width="11.71" height="9.17" fill="#4a78b8"/><rect x="392.01" y="551.21" width="11.71" height="9.17" fill="#608ac2"/><rect x="403.72" y="551.21" width="11.71" height="9.17" fill="#5884bf"/><rect x="415.43" y="551.21" width="11.71" height="9.17" fill="#517ebc"/><rect x="427.14" y="551.21" width="11.71" height="9.17" fill="#98b8d6"/><rect x="438.85" y="551.21" width="11.71" height="9.17" fill="#a0bfd9"/><rect x="450.56" y="551.21" width="11.71" height="9.17" fill="#b6d0e1"/><rect x="462.27" y="551.21" width="11.71" height="9.17" fill="#c3dae7"/><rect x="473.98" y="551.21" width="11.71" height="9.17" fill="#98b8d6"/><rect x="485.69" y="551.21" width="11.71" height="9.17" fill="#a0bfd9"/><rect x="263.2" y="560.38" width="11.71" height="9.17" fill="#dbebed"/><rect x="274.91" y="560.38" width="11.71" height="9.17" fill="#eab070"/><rect x="286.62" y="560.38" width="11.71" height="9.17" fill="#ecc280"/><rect x="298.33" y="560.38" width="11.71" height="9.17" fill="#ecc280"/><rect x="310.04" y="560.38" width="11.71" height="9.17" fill="#e0eded"/><rect x="321.75" y="560.38" width="11.71" height="9.17" fill="#ecca8e"/><rect x="333.46" y="560.38" width="11.71" height="9.17" fill="#ecd9ac"/><rect x="345.17" y="560.38" width="11.71" height="9.17" fill="#4a78b8"/><rect x="356.88" y="560.38" width="11.71" height="9.17" fill="#eaeee2"/><rect x="368.59" y="560.38" width="11.71" height="9.17" fill="#98b8d6"/><rect x="380.3" y="560.38" width="11.71" height="9.17" fill="#a0bfd9"/><rect x="392.01" y="560.38" width="11.71" height="9.17" fill="#a0bfd9"/><rect x="403.72" y="560.38" width="11.71" height="9.17" fill="#d0e4ec"/><rect x="415.43" y="560.38" width="11.71" height="9.17" fill="#608ac2"/><rect x="427.14" y="560.38" width="11.71" height="9.17" fill="#7ca2cd"/><rect x="438.85" y="560.38" width="11.71" height="9.17" fill="#a9c6dc"/><rect x="450.56" y="560.38" width="11.71" height="9.17" fill="#7ca2cd"/><rect x="462.27" y="560.38" width="11.71" height="9.17" fill="#5884bf"/><rect x="473.98" y="560.38" width="11.71" height="9.17" fill="#d0e4ec"/><rect x="485.69" y="560.38" width="11.71" height="9.17" fill="#98b8d6"/><rect x="263.2" y="569.55" width="11.71" height="9.17" fill="#ecd9ac"/><rect x="274.91" y="569.55" width="11.71" height="9.17" fill="#eab070"/><rect x="286.62" y="569.55" width="11.71" height="9.17" fill="#ecc280"/><rect x="298.33" y="569.55" width="11.71" height="9.17" fill="#ecc280"/><rect x="310.04" y="569.55" width="11.71" height="9.17" fill="#ede0bc"/><rect x="321.75" y="569.55" width="11.71" height="9.17" fill="#ecca8e"/><rect x="333.46" y="569.55" width="11.71" height="9.17" fill="#d8e9ed"/><rect x="345.17" y="569.55" width="11.71" height="9.17" fill="#a0bfd9"/><rect x="356.88" y="569.55" width="11.71" height="9.17" fill="#98b8d6"/><rect x="368.59" y="569.55" width="11.71" height="9.17" fill="#6890c4"/><rect x="380.3" y="569.55" width="11.71" height="9.17" fill="#7299c8"/><rect x="392.01" y="569.55" width="11.71" height="9.17" fill="#608ac2"/><rect x="403.72" y="569.55" width="11.71" height="9.17" fill="#a9c6dc"/><rect x="415.43" y="569.55" width="11.71" height="9.17" fill="#7ca2cd"/><rect x="427.14" y="569.55" width="11.71" height="9.17" fill="#608ac2"/><rect x="438.85" y="569.55" width="11.71" height="9.17" fill="#8aadd2"/><rect x="450.56" y="569.55" width="11.71" height="9.17" fill="#b6d0e1"/><rect x="462.27" y="569.55" width="11.71" height="9.17" fill="#8aadd2"/><rect x="473.98" y="569.55" width="11.71" height="9.17" fill="#d8e9ed"/><rect x="485.69" y="569.55" width="11.71" height="9.17" fill="#a9c6dc"/><rect x="263.2" y="578.72" width="11.71" height="9.17" fill="#eab070"/><rect x="274.91" y="578.72" width="11.71" height="9.17" fill="#ecd9ac"/><rect x="286.62" y="578.72" width="11.71" height="9.17" fill="#ecc280"/><rect x="298.33" y="578.72" width="11.71" height="9.17" fill="#ebb978"/><rect x="310.04" y="578.72" width="11.71" height="9.17" fill="#ede0bc"/><rect x="321.75" y="578.72" width="11.71" height="9.17" fill="#ecd29c"/><rect x="333.46" y="578.72" width="11.71" height="9.17" fill="#ede0bc"/><rect x="345.17" y="578.72" width="11.71" height="9.17" fill="#d8e9ed"/><rect x="356.88" y="578.72" width="11.71" height="9.17" fill="#4a78b8"/><rect x="368.59" y="578.72" width="11.71" height="9.17" fill="#5884bf"/><rect x="380.3" y="578.72" width="11.71" height="9.17" fill="#5884bf"/><rect x="392.01" y="578.72" width="11.71" height="9.17" fill="#98b8d6"/><rect x="403.72" y="578.72" width="11.71" height="9.17" fill="#7ca2cd"/><rect x="415.43" y="578.72" width="11.71" height="9.17" fill="#5884bf"/><rect x="427.14" y="578.72" width="11.71" height="9.17" fill="#517ebc"/><rect x="438.85" y="578.72" width="11.71" height="9.17" fill="#6890c4"/><rect x="450.56" y="578.72" width="11.71" height="9.17" fill="#5884bf"/><rect x="462.27" y="578.72" width="11.71" height="9.17" fill="#b6d0e1"/><rect x="473.98" y="578.72" width="11.71" height="9.17" fill="#8aadd2"/><rect x="485.69" y="578.72" width="11.71" height="9.17" fill="#7ca2cd"/><rect x="263.2" y="587.89" width="11.71" height="9.17" fill="#eab070"/><rect x="274.91" y="587.89" width="11.71" height="9.17" fill="#ecd9ac"/><rect x="286.62" y="587.89" width="11.71" height="9.17" fill="#ebb978"/><rect x="298.33" y="587.89" width="11.71" height="9.17" fill="#ebb978"/><rect x="310.04" y="587.89" width="11.71" height="9.17" fill="#ece6c9"/><rect x="321.75" y="587.89" width="11.71" height="9.17" fill="#ecd9ac"/><rect x="333.46" y="587.89" width="11.71" height="9.17" fill="#ede0bc"/><rect x="345.17" y="587.89" width="11.71" height="9.17" fill="#eaeee2"/><rect x="356.88" y="587.89" width="11.71" height="9.17" fill="#4a78b8"/><rect x="368.59" y="587.89" width="11.71" height="9.17" fill="#517ebc"/><rect x="380.3" y="587.89" width="11.71" height="9.17" fill="#4a78b8"/><rect x="392.01" y="587.89" width="11.71" height="9.17" fill="#8aadd2"/><rect x="403.72" y="587.89" width="11.71" height="9.17" fill="#6890c4"/><rect x="415.43" y="587.89" width="11.71" height="9.17" fill="#5884bf"/><rect x="427.14" y="587.89" width="11.71" height="9.17" fill="#5884bf"/><rect x="438.85" y="587.89" width="11.71" height="9.17" fill="#6890c4"/><rect x="450.56" y="587.89" width="11.71" height="9.17" fill="#6890c4"/><rect x="462.27" y="587.89" width="11.71" height="9.17" fill="#c3dae7"/><rect x="473.98" y="587.89" width="11.71" height="9.17" fill="#7ca2cd"/><rect x="485.69" y="587.89" width="11.71" height="9.17" fill="#7ca2cd"/><rect x="263.2" y="597.06" width="11.71" height="9.17" fill="#ecc280"/><rect x="274.91" y="597.06" width="11.71" height="9.17" fill="#ecd9ac"/><rect x="286.62" y="597.06" width="11.71" height="9.17" fill="#ebb978"/><rect x="298.33" y="597.06" width="11.71" height="9.17" fill="#eab070"/><rect x="310.04" y="597.06" width="11.71" height="9.17" fill="#ecebd6"/><rect x="321.75" y="597.06" width="11.71" height="9.17" fill="#ede0bc"/><rect x="333.46" y="597.06" width="11.71" height="9.17" fill="#ecd29c"/><rect x="345.17" y="597.06" width="11.71" height="9.17" fill="#ede0bc"/><rect x="356.88" y="597.06" width="11.71" height="9.17" fill="#4a78b8"/><rect x="368.59" y="597.06" width="11.71" height="9.17" fill="#8aadd2"/><rect x="380.3" y="597.06" width="11.71" height="9.17" fill="#5884bf"/><rect x="392.01" y="597.06" width="11.71" height="9.17" fill="#a9c6dc"/><rect x="403.72" y="597.06" width="11.71" height="9.17" fill="#608ac2"/><rect x="415.43" y="597.06" width="11.71" height="9.17" fill="#517ebc"/><rect x="427.14" y="597.06" width="11.71" height="9.17" fill="#7ca2cd"/><rect x="438.85" y="597.06" width="11.71" height="9.17" fill="#7ca2cd"/><rect x="450.56" y="597.06" width="11.71" height="9.17" fill="#7ca2cd"/><rect x="462.27" y="597.06" width="11.71" height="9.17" fill="#b6d0e1"/><rect x="473.98" y="597.06" width="11.71" height="9.17" fill="#6890c4"/><rect x="485.69" y="597.06" width="11.71" height="9.17" fill="#6890c4"/><rect x="263.2" y="606.23" width="11.71" height="9.17" fill="#ebb978"/><rect x="274.91" y="606.23" width="11.71" height="9.17" fill="#ecd9ac"/><rect x="286.62" y="606.23" width="11.71" height="9.17" fill="#ebb978"/><rect x="298.33" y="606.23" width="11.71" height="9.17" fill="#ebb978"/><rect x="310.04" y="606.23" width="11.71" height="9.17" fill="#ece6c9"/><rect x="321.75" y="606.23" width="11.71" height="9.17" fill="#ede2c1"/><rect x="333.46" y="606.23" width="11.71" height="9.17" fill="#edddb6"/><rect x="345.17" y="606.23" width="11.71" height="9.17" fill="#ede0bc"/><rect x="356.88" y="606.23" width="11.71" height="9.17" fill="#4a78b8"/><rect x="368.59" y="606.23" width="11.71" height="9.17" fill="#7ca2cd"/><rect x="380.3" y="606.23" width="11.71" height="9.17" fill="#6890c4"/><rect x="392.01" y="606.23" width="11.71" height="9.17" fill="#a0bfd9"/><rect x="403.72" y="606.23" width="11.71" height="9.17" fill="#608ac2"/><rect x="415.43" y="606.23" width="11.71" height="9.17" fill="#6890c4"/><rect x="427.14" y="606.23" width="11.71" height="9.17" fill="#6890c4"/><rect x="438.85" y="606.23" width="11.71" height="9.17" fill="#6890c4"/><rect x="450.56" y="606.23" width="11.71" height="9.17" fill="#6890c4"/><rect x="462.27" y="606.23" width="11.71" height="9.17" fill="#d8e9ed"/><rect x="473.98" y="606.23" width="11.71" height="9.17" fill="#7299c8"/><rect x="485.69" y="606.23" width="11.71" height="9.17" fill="#7ca2cd"/><rect x="263.2" y="615.4" width="11.71" height="9.17" fill="#eab070"/><rect x="274.91" y="615.4" width="11.71" height="9.17" fill="#ecd9ac"/><rect x="286.62" y="615.4" width="11.71" height="9.17" fill="#ecca8e"/><rect x="298.33" y="615.4" width="11.71" height="9.17" fill="#ebb978"/><rect x="310.04" y="615.4" width="11.71" height="9.17" fill="#ece6c9"/><rect x="321.75" y="615.4" width="11.71" height="9.17" fill="#ede0bc"/><rect x="333.46" y="615.4" width="11.71" height="9.17" fill="#ede0bc"/><rect x="345.17" y="615.4" width="11.71" height="9.17" fill="#ede2c1"/><rect x="356.88" y="615.4" width="11.71" height="9.17" fill="#4a78b8"/><rect x="368.59" y="615.4" width="11.71" height="9.17" fill="#7ca2cd"/><rect x="380.3" y="615.4" width="11.71" height="9.17" fill="#7299c8"/><rect x="392.01" y="615.4" width="11.71" height="9.17" fill="#7ca2cd"/><rect x="403.72" y="615.4" width="11.71" height="9.17" fill="#6890c4"/><rect x="415.43" y="615.4" width="11.71" height="9.17" fill="#5884bf"/><rect x="427.14" y="615.4" width="11.71" height="9.17" fill="#6890c4"/><rect x="438.85" y="615.4" width="11.71" height="9.17" fill="#7ca2cd"/><rect x="450.56" y="615.4" width="11.71" height="9.17" fill="#6890c4"/><rect x="462.27" y="615.4" width="11.71" height="9.17" fill="#c3dae7"/><rect x="473.98" y="615.4" width="11.71" height="9.17" fill="#7ca2cd"/><rect x="485.69" y="615.4" width="11.71" height="9.17" fill="#98b8d6"/><rect x="263.2" y="624.57" width="11.71" height="9.17" fill="#e06041"/><rect x="274.91" y="624.57" width="11.71" height="9.17" fill="#ecc280"/><rect x="286.62" y="624.57" width="11.71" height="9.17" fill="#e9925e"/><rect x="298.33" y="624.57" width="11.71" height="9.17" fill="#eab070"/><rect x="310.04" y="624.57" width="11.71" height="9.17" fill="#ecd29c"/><rect x="321.75" y="624.57" width="11.71" height="9.17" fill="#edddb6"/><rect x="333.46" y="624.57" width="11.71" height="9.17" fill="#ecc280"/><rect x="345.17" y="624.57" width="11.71" height="9.17" fill="#d8e9ed"/><rect x="356.88" y="624.57" width="11.71" height="9.17" fill="#4a78b8"/><rect x="368.59" y="624.57" width="11.71" height="9.17" fill="#7299c8"/><rect x="380.3" y="624.57" width="11.71" height="9.17" fill="#5884bf"/><rect x="392.01" y="624.57" width="11.71" height="9.17" fill="#c3dae7"/><rect x="403.72" y="624.57" width="11.71" height="9.17" fill="#a0bfd9"/><rect x="415.43" y="624.57" width="11.71" height="9.17" fill="#8aadd2"/><rect x="427.14" y="624.57" width="11.71" height="9.17" fill="#517ebc"/><rect x="438.85" y="624.57" width="11.71" height="9.17" fill="#8aadd2"/><rect x="450.56" y="624.57" width="11.71" height="9.17" fill="#4a78b8"/><rect x="462.27" y="624.57" width="11.71" height="9.17" fill="#a0bfd9"/><rect x="473.98" y="624.57" width="11.71" height="9.17" fill="#6890c4"/><rect x="485.69" y="624.57" width="11.71" height="9.17" fill="#6890c4"/><rect x="263.2" y="633.74" width="11.71" height="9.17" fill="#e67b51"/><rect x="274.91" y="633.74" width="11.71" height="9.17" fill="#eaa167"/><rect x="286.62" y="633.74" width="11.71" height="9.17" fill="#e06041"/><rect x="298.33" y="633.74" width="11.71" height="9.17" fill="#e78757"/><rect x="310.04" y="633.74" width="11.71" height="9.17" fill="#ecd5a2"/><rect x="321.75" y="633.74" width="11.71" height="9.17" fill="#ecca8e"/><rect x="333.46" y="633.74" width="11.71" height="9.17" fill="#ecc280"/><rect x="345.17" y="633.74" width="11.71" height="9.17" fill="#a9c6dc"/><rect x="356.88" y="633.74" width="11.71" height="9.17" fill="#4a78b8"/><rect x="368.59" y="633.74" width="11.71" height="9.17" fill="#7ca2cd"/><rect x="380.3" y="633.74" width="11.71" height="9.17" fill="#517ebc"/><rect x="392.01" y="633.74" width="11.71" height="9.17" fill="#a9c6dc"/><rect x="403.72" y="633.74" width="11.71" height="9.17" fill="#7ca2cd"/><rect x="415.43" y="633.74" width="11.71" height="9.17" fill="#517ebc"/><rect x="427.14" y="633.74" width="11.71" height="9.17" fill="#5884bf"/><rect x="438.85" y="633.74" width="11.71" height="9.17" fill="#8aadd2"/><rect x="450.56" y="633.74" width="11.71" height="9.17" fill="#6890c4"/><rect x="462.27" y="633.74" width="11.71" height="9.17" fill="#7299c8"/><rect x="473.98" y="633.74" width="11.71" height="9.17" fill="#6890c4"/><rect x="485.69" y="633.74" width="11.71" height="9.17" fill="#6890c4"/><rect x="263.2" y="642.91" width="11.71" height="9.17" fill="#e06041"/><rect x="274.91" y="642.91" width="11.71" height="9.17" fill="#ecc280"/><rect x="286.62" y="642.91" width="11.71" height="9.17" fill="#ecc280"/><rect x="298.33" y="642.91" width="11.71" height="9.17" fill="#ebb978"/><rect x="310.04" y="642.91" width="11.71" height="9.17" fill="#ede0bc"/><rect x="321.75" y="642.91" width="11.71" height="9.17" fill="#ecc280"/><rect x="333.46" y="642.91" width="11.71" height="9.17" fill="#ece9d1"/><rect x="345.17" y="642.91" width="11.71" height="9.17" fill="#98b8d6"/><rect x="356.88" y="642.91" width="11.71" height="9.17" fill="#4a78b8"/><rect x="368.59" y="642.91" width="11.71" height="9.17" fill="#a0bfd9"/><rect x="380.3" y="642.91" width="11.71" height="9.17" fill="#517ebc"/><rect x="392.01" y="642.91" width="11.71" height="9.17" fill="#a9c6dc"/><rect x="403.72" y="642.91" width="11.71" height="9.17" fill="#8aadd2"/><rect x="415.43" y="642.91" width="11.71" height="9.17" fill="#a9c6dc"/><rect x="427.14" y="642.91" width="11.71" height="9.17" fill="#8aadd2"/><rect x="438.85" y="642.91" width="11.71" height="9.17" fill="#98b8d6"/><rect x="450.56" y="642.91" width="11.71" height="9.17" fill="#7ca2cd"/><rect x="462.27" y="642.91" width="11.71" height="9.17" fill="#6890c4"/><rect x="473.98" y="642.91" width="11.71" height="9.17" fill="#4a78b8"/><rect x="485.69" y="642.91" width="11.71" height="9.17" fill="#a9c6dc"/><rect x="263.2" y="652.08" width="11.71" height="9.17" fill="#e9925e"/><rect x="274.91" y="652.08" width="11.71" height="9.17" fill="#ebb978"/><rect x="286.62" y="652.08" width="11.71" height="9.17" fill="#e78757"/><rect x="298.33" y="652.08" width="11.71" height="9.17" fill="#ecc280"/><rect x="310.04" y="652.08" width="11.71" height="9.17" fill="#ede0bc"/><rect x="321.75" y="652.08" width="11.71" height="9.17" fill="#eaa167"/><rect x="333.46" y="652.08" width="11.71" height="9.17" fill="#d8e9ed"/><rect x="345.17" y="652.08" width="11.71" height="9.17" fill="#d5e7ec"/><rect x="356.88" y="652.08" width="11.71" height="9.17" fill="#4a78b8"/><rect x="368.59" y="652.08" width="11.71" height="9.17" fill="#8aadd2"/><rect x="380.3" y="652.08" width="11.71" height="9.17" fill="#608ac2"/><rect x="392.01" y="652.08" width="11.71" height="9.17" fill="#7ca2cd"/><rect x="403.72" y="652.08" width="11.71" height="9.17" fill="#7ca2cd"/><rect x="415.43" y="652.08" width="11.71" height="9.17" fill="#7ca2cd"/><rect x="427.14" y="652.08" width="11.71" height="9.17" fill="#7ca2cd"/><rect x="438.85" y="652.08" width="11.71" height="9.17" fill="#7ca2cd"/><rect x="450.56" y="652.08" width="11.71" height="9.17" fill="#7ca2cd"/><rect x="462.27" y="652.08" width="11.71" height="9.17" fill="#8aadd2"/><rect x="473.98" y="652.08" width="11.71" height="9.17" fill="#6890c4"/><rect x="485.69" y="652.08" width="11.71" height="9.17" fill="#a0bfd9"/><rect x="263.2" y="661.25" width="11.71" height="9.17" fill="#e9925e"/><rect x="274.91" y="661.25" width="11.71" height="9.17" fill="#ebb978"/><rect x="286.62" y="661.25" width="11.71" height="9.17" fill="#e9925e"/><rect x="298.33" y="661.25" width="11.71" height="9.17" fill="#ecc280"/><rect x="310.04" y="661.25" width="11.71" height="9.17" fill="#ecebd6"/><rect x="321.75" y="661.25" width="11.71" height="9.17" fill="#ecca8e"/><rect x="333.46" y="661.25" width="11.71" height="9.17" fill="#e0eded"/><rect x="345.17" y="661.25" width="11.71" height="9.17" fill="#e9f0e7"/><rect x="356.88" y="661.25" width="11.71" height="9.17" fill="#4a78b8"/><rect x="368.59" y="661.25" width="11.71" height="9.17" fill="#8aadd2"/><rect x="380.3" y="661.25" width="11.71" height="9.17" fill="#608ac2"/><rect x="392.01" y="661.25" width="11.71" height="9.17" fill="#98b8d6"/><rect x="403.72" y="661.25" width="11.71" height="9.17" fill="#7ca2cd"/><rect x="415.43" y="661.25" width="11.71" height="9.17" fill="#7299c8"/><rect x="427.14" y="661.25" width="11.71" height="9.17" fill="#7ca2cd"/><rect x="438.85" y="661.25" width="11.71" height="9.17" fill="#7ca2cd"/><rect x="450.56" y="661.25" width="11.71" height="9.17" fill="#7ca2cd"/><rect x="462.27" y="661.25" width="11.71" height="9.17" fill="#a9c6dc"/><rect x="473.98" y="661.25" width="11.71" height="9.17" fill="#7ca2cd"/><rect x="485.69" y="661.25" width="11.71" height="9.17" fill="#a9c6dc"/><rect x="263.2" y="670.42" width="11.71" height="9.17" fill="#eab070"/><rect x="274.91" y="670.42" width="11.71" height="9.17" fill="#ece6c9"/><rect x="286.62" y="670.42" width="11.71" height="9.17" fill="#ecc280"/><rect x="298.33" y="670.42" width="11.71" height="9.17" fill="#ecc280"/><rect x="310.04" y="670.42" width="11.71" height="9.17" fill="#e67b51"/><rect x="321.75" y="670.42" width="11.71" height="9.17" fill="#e9f1e9"/><rect x="333.46" y="670.42" width="11.71" height="9.17" fill="#ecd29c"/><rect x="345.17" y="670.42" width="11.71" height="9.17" fill="#98b8d6"/><rect x="356.88" y="670.42" width="11.71" height="9.17" fill="#4a78b8"/><rect x="368.59" y="670.42" width="11.71" height="9.17" fill="#7299c8"/><rect x="380.3" y="670.42" width="11.71" height="9.17" fill="#5884bf"/><rect x="392.01" y="670.42" width="11.71" height="9.17" fill="#a0bfd9"/><rect x="403.72" y="670.42" width="11.71" height="9.17" fill="#a9c6dc"/><rect x="415.43" y="670.42" width="11.71" height="9.17" fill="#eaeee2"/><rect x="427.14" y="670.42" width="11.71" height="9.17" fill="#608ac2"/><rect x="438.85" y="670.42" width="11.71" height="9.17" fill="#7ca2cd"/><rect x="450.56" y="670.42" width="11.71" height="9.17" fill="#6890c4"/><rect x="462.27" y="670.42" width="11.71" height="9.17" fill="#7ca2cd"/><rect x="473.98" y="670.42" width="11.71" height="9.17" fill="#608ac2"/><rect x="485.69" y="670.42" width="11.71" height="9.17" fill="#517ebc"/><rect x="263.2" y="679.59" width="11.71" height="9.17" fill="#eab070"/><rect x="274.91" y="679.59" width="11.71" height="9.17" fill="#ecd9ac"/><rect x="286.62" y="679.59" width="11.71" height="9.17" fill="#ecca8e"/><rect x="298.33" y="679.59" width="11.71" height="9.17" fill="#ecca8e"/><rect x="310.04" y="679.59" width="11.71" height="9.17" fill="#eaa167"/><rect x="321.75" y="679.59" width="11.71" height="9.17" fill="#b6d0e1"/><rect x="333.46" y="679.59" width="11.71" height="9.17" fill="#e9f0e7"/><rect x="345.17" y="679.59" width="11.71" height="9.17" fill="#eaeee2"/><rect x="356.88" y="679.59" width="11.71" height="9.17" fill="#4a78b8"/><rect x="368.59" y="679.59" width="11.71" height="9.17" fill="#8aadd2"/><rect x="380.3" y="679.59" width="11.71" height="9.17" fill="#517ebc"/><rect x="392.01" y="679.59" width="11.71" height="9.17" fill="#7ca2cd"/><rect x="403.72" y="679.59" width="11.71" height="9.17" fill="#c3dae7"/><rect x="415.43" y="679.59" width="11.71" height="9.17" fill="#a0bfd9"/><rect x="427.14" y="679.59" width="11.71" height="9.17" fill="#b6d0e1"/><rect x="438.85" y="679.59" width="11.71" height="9.17" fill="#c3dae7"/><rect x="450.56" y="679.59" width="11.71" height="9.17" fill="#d0e4ec"/><rect x="462.27" y="679.59" width="11.71" height="9.17" fill="#7ca2cd"/><rect x="473.98" y="679.59" width="11.71" height="9.17" fill="#7ca2cd"/><rect x="485.69" y="679.59" width="11.71" height="9.17" fill="#7ca2cd"/><rect x="263.2" y="688.76" width="11.71" height="9.17" fill="#ecc280"/><rect x="274.91" y="688.76" width="11.71" height="9.17" fill="#ecd9ac"/><rect x="286.62" y="688.76" width="11.71" height="9.17" fill="#ecca8e"/><rect x="298.33" y="688.76" width="11.71" height="9.17" fill="#ecca8e"/><rect x="310.04" y="688.76" width="11.71" height="9.17" fill="#eab070"/><rect x="321.75" y="688.76" width="11.71" height="9.17" fill="#dbebed"/><rect x="333.46" y="688.76" width="11.71" height="9.17" fill="#d8e9ed"/><rect x="345.17" y="688.76" width="11.71" height="9.17" fill="#e8f2ee"/><rect x="356.88" y="688.76" width="11.71" height="9.17" fill="#4a78b8"/><rect x="368.59" y="688.76" width="11.71" height="9.17" fill="#7ca2cd"/><rect x="380.3" y="688.76" width="11.71" height="9.17" fill="#517ebc"/><rect x="392.01" y="688.76" width="11.71" height="9.17" fill="#7ca2cd"/><rect x="403.72" y="688.76" width="11.71" height="9.17" fill="#c3dae7"/><rect x="415.43" y="688.76" width="11.71" height="9.17" fill="#8aadd2"/><rect x="427.14" y="688.76" width="11.71" height="9.17" fill="#c3dae7"/><rect x="438.85" y="688.76" width="11.71" height="9.17" fill="#d0e4ec"/><rect x="450.56" y="688.76" width="11.71" height="9.17" fill="#e0eded"/><rect x="462.27" y="688.76" width="11.71" height="9.17" fill="#7ca2cd"/><rect x="473.98" y="688.76" width="11.71" height="9.17" fill="#7ca2cd"/><rect x="485.69" y="688.76" width="11.71" height="9.17" fill="#8aadd2"/><rect x="263.2" y="697.93" width="11.71" height="9.17" fill="#ebb978"/><rect x="274.91" y="697.93" width="11.71" height="9.17" fill="#ecd9ac"/><rect x="286.62" y="697.93" width="11.71" height="9.17" fill="#ecca8e"/><rect x="298.33" y="697.93" width="11.71" height="9.17" fill="#ecca8e"/><rect x="310.04" y="697.93" width="11.71" height="9.17" fill="#eab070"/><rect x="321.75" y="697.93" width="11.71" height="9.17" fill="#d8e9ed"/><rect x="333.46" y="697.93" width="11.71" height="9.17" fill="#d8e9ed"/><rect x="345.17" y="697.93" width="11.71" height="9.17" fill="#ecebd6"/><rect x="356.88" y="697.93" width="11.71" height="9.17" fill="#4a78b8"/><rect x="368.59" y="697.93" width="11.71" height="9.17" fill="#8aadd2"/><rect x="380.3" y="697.93" width="11.71" height="9.17" fill="#517ebc"/><rect x="392.01" y="697.93" width="11.71" height="9.17" fill="#7ca2cd"/><rect x="403.72" y="697.93" width="11.71" height="9.17" fill="#b6d0e1"/><rect x="415.43" y="697.93" width="11.71" height="9.17" fill="#8aadd2"/><rect x="427.14" y="697.93" width="11.71" height="9.17" fill="#dbebed"/><rect x="438.85" y="697.93" width="11.71" height="9.17" fill="#dbebed"/><rect x="450.56" y="697.93" width="11.71" height="9.17" fill="#e9f0e7"/><rect x="462.27" y="697.93" width="11.71" height="9.17" fill="#7ca2cd"/><rect x="473.98" y="697.93" width="11.71" height="9.17" fill="#7ca2cd"/><rect x="485.69" y="697.93" width="11.71" height="9.17" fill="#98b8d6"/></g>
<text x="280.76" y="530.99" font-size="5.4" text-anchor="middle" fill="#4a4a4a">*</text>
<text x="292.47" y="530.99" font-size="5.4" text-anchor="middle" fill="#4a4a4a">*</text>
<text x="304.19" y="530.99" font-size="5.4" text-anchor="middle" fill="#4a4a4a">*</text>
<text x="351.02" y="530.99" font-size="5.4" text-anchor="middle" fill="#4a4a4a">***</text>
<text x="433" y="530.99" font-size="5.4" text-anchor="middle" fill="#4a4a4a">***</text>
<text x="456.41" y="530.99" font-size="5.4" text-anchor="middle" fill="#4a4a4a">*</text>
<text x="468.12" y="530.99" font-size="5.4" text-anchor="middle" fill="#4a4a4a">*</text>
<text x="491.55" y="530.99" font-size="5.4" text-anchor="middle" fill="#4a4a4a">**</text>
<text x="280.76" y="540.16" font-size="5.4" text-anchor="middle" fill="#4a4a4a">*</text>
<text x="292.47" y="540.16" font-size="5.4" text-anchor="middle" fill="#4a4a4a">**</text>
<text x="304.19" y="540.16" font-size="5.4" text-anchor="middle" fill="#4a4a4a">***</text>
<text x="374.44" y="540.16" font-size="5.4" text-anchor="middle" fill="#4a4a4a">**</text>
<text x="386.15" y="540.16" font-size="5.4" text-anchor="middle" fill="#4a4a4a">***</text>
<text x="433" y="540.16" font-size="5.4" text-anchor="middle" fill="#4a4a4a">*</text>
<text x="269.06" y="549.33" font-size="5.4" text-anchor="middle" fill="#4a4a4a">**</text>
<text x="280.76" y="549.33" font-size="5.4" text-anchor="middle" fill="#4a4a4a">**</text>
<text x="292.47" y="549.33" font-size="5.4" text-anchor="middle" fill="#4a4a4a">***</text>
<text x="304.19" y="549.33" font-size="5.4" text-anchor="middle" fill="#4a4a4a">***</text>
<text x="315.89" y="549.33" font-size="5.4" text-anchor="middle" fill="#4a4a4a">**</text>
<text x="327.61" y="549.33" font-size="5.4" text-anchor="middle" fill="#4a4a4a">*</text>
<text x="362.74" y="549.33" font-size="5.4" text-anchor="middle" fill="#4a4a4a">*</text>
<text x="386.15" y="549.33" font-size="5.4" text-anchor="middle" fill="#4a4a4a">*</text>
<text x="468.12" y="549.33" font-size="5.4" text-anchor="middle" fill="#4a4a4a">**</text>
<text x="479.84" y="549.33" font-size="5.4" text-anchor="middle" fill="#4a4a4a">*</text>
<text x="491.55" y="549.33" font-size="5.4" text-anchor="middle" fill="#4a4a4a">**</text>
<text x="304.19" y="558.5" font-size="5.4" text-anchor="middle" fill="#4a4a4a">***</text>
<text x="386.15" y="558.5" font-size="5.4" text-anchor="middle" fill="#4a4a4a">*</text>
<text x="280.76" y="567.67" font-size="5.4" text-anchor="middle" fill="#4a4a4a">*</text>
<text x="280.76" y="576.84" font-size="5.4" text-anchor="middle" fill="#4a4a4a">*</text>
<text x="269.06" y="586.01" font-size="5.4" text-anchor="middle" fill="#4a4a4a">**</text>
<text x="292.47" y="586.01" font-size="5.4" text-anchor="middle" fill="#4a4a4a">*</text>
<text x="304.19" y="586.01" font-size="5.4" text-anchor="middle" fill="#4a4a4a">**</text>
<text x="362.74" y="586.01" font-size="5.4" text-anchor="middle" fill="#4a4a4a">**</text>
<text x="269.06" y="595.18" font-size="5.4" text-anchor="middle" fill="#4a4a4a">**</text>
<text x="292.47" y="595.18" font-size="5.4" text-anchor="middle" fill="#4a4a4a">*</text>
<text x="304.19" y="595.18" font-size="5.4" text-anchor="middle" fill="#4a4a4a">*</text>
<text x="362.74" y="595.18" font-size="5.4" text-anchor="middle" fill="#4a4a4a">**</text>
<text x="386.15" y="595.18" font-size="5.4" text-anchor="middle" fill="#4a4a4a">*</text>
<text x="292.47" y="604.35" font-size="5.4" text-anchor="middle" fill="#4a4a4a">*</text>
<text x="304.19" y="604.35" font-size="5.4" text-anchor="middle" fill="#4a4a4a">*</text>
<text x="362.74" y="604.35" font-size="5.4" text-anchor="middle" fill="#4a4a4a">*</text>
<text x="269.06" y="613.52" font-size="5.4" text-anchor="middle" fill="#4a4a4a">*</text>
<text x="292.47" y="613.52" font-size="5.4" text-anchor="middle" fill="#4a4a4a">*</text>
<text x="304.19" y="613.52" font-size="5.4" text-anchor="middle" fill="#4a4a4a">*</text>
<text x="362.74" y="613.52" font-size="5.4" text-anchor="middle" fill="#4a4a4a">*</text>
<text x="269.06" y="622.69" font-size="5.4" text-anchor="middle" fill="#4a4a4a">*</text>
<text x="304.19" y="622.69" font-size="5.4" text-anchor="middle" fill="#4a4a4a">*</text>
<text x="362.74" y="622.69" font-size="5.4" text-anchor="middle" fill="#4a4a4a">*</text>
<text x="269.06" y="631.86" font-size="5.4" text-anchor="middle" fill="#4a4a4a">***</text>
<text x="280.76" y="631.86" font-size="5.4" text-anchor="middle" fill="#4a4a4a">*</text>
<text x="292.47" y="631.86" font-size="5.4" text-anchor="middle" fill="#4a4a4a">**</text>
<text x="304.19" y="631.86" font-size="5.4" text-anchor="middle" fill="#4a4a4a">*</text>
<text x="362.74" y="631.86" font-size="5.4" text-anchor="middle" fill="#4a4a4a">*</text>
<text x="269.06" y="641.03" font-size="5.4" text-anchor="middle" fill="#4a4a4a">***</text>
<text x="280.76" y="641.03" font-size="5.4" text-anchor="middle" fill="#4a4a4a">**</text>
<text x="292.47" y="641.03" font-size="5.4" text-anchor="middle" fill="#4a4a4a">***</text>
<text x="304.19" y="641.03" font-size="5.4" text-anchor="middle" fill="#4a4a4a">***</text>
<text x="362.74" y="641.03" font-size="5.4" text-anchor="middle" fill="#4a4a4a">*</text>
<text x="386.15" y="641.03" font-size="5.4" text-anchor="middle" fill="#4a4a4a">*</text>
<text x="269.06" y="650.2" font-size="5.4" text-anchor="middle" fill="#4a4a4a">***</text>
<text x="292.47" y="650.2" font-size="5.4" text-anchor="middle" fill="#4a4a4a">*</text>
<text x="304.19" y="650.2" font-size="5.4" text-anchor="middle" fill="#4a4a4a">*</text>
<text x="327.61" y="650.2" font-size="5.4" text-anchor="middle" fill="#4a4a4a">*</text>
<text x="362.74" y="650.2" font-size="5.4" text-anchor="middle" fill="#4a4a4a">*</text>
<text x="479.84" y="650.2" font-size="5.4" text-anchor="middle" fill="#4a4a4a">*</text>
<text x="269.06" y="659.37" font-size="5.4" text-anchor="middle" fill="#4a4a4a">***</text>
<text x="280.76" y="659.37" font-size="5.4" text-anchor="middle" fill="#4a4a4a">*</text>
<text x="292.47" y="659.37" font-size="5.4" text-anchor="middle" fill="#4a4a4a">**</text>
<text x="304.19" y="659.37" font-size="5.4" text-anchor="middle" fill="#4a4a4a">*</text>
<text x="327.61" y="659.37" font-size="5.4" text-anchor="middle" fill="#4a4a4a">**</text>
<text x="362.74" y="659.37" font-size="5.4" text-anchor="middle" fill="#4a4a4a">**</text>
<text x="269.06" y="668.54" font-size="5.4" text-anchor="middle" fill="#4a4a4a">***</text>
<text x="280.76" y="668.54" font-size="5.4" text-anchor="middle" fill="#4a4a4a">*</text>
<text x="292.47" y="668.54" font-size="5.4" text-anchor="middle" fill="#4a4a4a">**</text>
<text x="362.74" y="668.54" font-size="5.4" text-anchor="middle" fill="#4a4a4a">*</text>
<text x="269.06" y="677.71" font-size="5.4" text-anchor="middle" fill="#4a4a4a">**</text>
<text x="292.47" y="677.71" font-size="5.4" text-anchor="middle" fill="#4a4a4a">*</text>
<text x="304.19" y="677.71" font-size="5.4" text-anchor="middle" fill="#4a4a4a">*</text>
<text x="315.89" y="677.71" font-size="5.4" text-anchor="middle" fill="#4a4a4a">***</text>
<text x="362.74" y="677.71" font-size="5.4" text-anchor="middle" fill="#4a4a4a">*</text>
<text x="491.55" y="677.71" font-size="5.4" text-anchor="middle" fill="#4a4a4a">*</text>
<text x="269.06" y="686.88" font-size="5.4" text-anchor="middle" fill="#4a4a4a">*</text>
<text x="315.89" y="686.88" font-size="5.4" text-anchor="middle" fill="#4a4a4a">**</text>
<text x="362.74" y="686.88" font-size="5.4" text-anchor="middle" fill="#4a4a4a">*</text>
<text x="386.15" y="686.88" font-size="5.4" text-anchor="middle" fill="#4a4a4a">*</text>
<text x="315.89" y="696.05" font-size="5.4" text-anchor="middle" fill="#4a4a4a">*</text>
<text x="362.74" y="696.05" font-size="5.4" text-anchor="middle" fill="#4a4a4a">*</text>
<text x="386.15" y="696.05" font-size="5.4" text-anchor="middle" fill="#4a4a4a">*</text>
<text x="269.06" y="705.22" font-size="5.4" text-anchor="middle" fill="#4a4a4a">*</text>
<text x="315.89" y="705.22" font-size="5.4" text-anchor="middle" fill="#4a4a4a">*</text>
<text x="362.74" y="705.22" font-size="5.4" text-anchor="middle" fill="#4a4a4a">*</text>
<text x="386.15" y="705.22" font-size="5.4" text-anchor="middle" fill="#4a4a4a">*</text>
<text x="500.6" y="530.5" font-size="10.7" fill="#1a1a1a" stroke="#1a1a1a" stroke-width="0.26">Cyanidin 3-Arabinoside</text>
<text x="500.6" y="539.91" font-size="10.7" fill="#1a1a1a" stroke="#1a1a1a" stroke-width="0.26">N,N-Dimethyl-L-Valine</text>
<text x="500.6" y="549.32" font-size="10.7" fill="#1a1a1a" stroke="#1a1a1a" stroke-width="0.26">PA(15:0/22:4(7Z,10Z,13Z,16Z))</text>
<text x="500.6" y="558.73" font-size="10.7" fill="#1a1a1a" stroke="#1a1a1a" stroke-width="0.26">Maltohexaose</text>
<text x="500.6" y="568.14" font-size="10.7" fill="#1a1a1a" stroke="#1a1a1a" stroke-width="0.26">17(S)-Hete</text>
<text x="500.6" y="577.55" font-size="10.7" fill="#1a1a1a" stroke="#1a1a1a" stroke-width="0.26">Indolepyruvate</text>
<text x="500.6" y="586.96" font-size="10.7" fill="#1a1a1a" stroke="#1a1a1a" stroke-width="0.26">5-O-A-L-Arabinofuranosyl-L-Arabinose</text>
<text x="500.6" y="596.37" font-size="10.7" fill="#d42f2a" stroke="#d42f2a" stroke-width="0.26">Histidine Glutamate</text>
<text x="500.6" y="605.78" font-size="10.7" fill="#1a1a1a" stroke="#1a1a1a" stroke-width="0.26">3-(4-Fluorobenzoyl)Propionic Acid</text>
<text x="500.6" y="615.19" font-size="10.7" fill="#d42f2a" stroke="#d42f2a" stroke-width="0.26">NAA</text>
<text x="500.6" y="624.6" font-size="10.7" fill="#1a1a1a" stroke="#1a1a1a" stroke-width="0.26">Neosaxitoxin</text>
<text x="500.6" y="634.01" font-size="10.7" fill="#d42f2a" stroke="#d42f2a" stroke-width="0.26">Liquoric Acid</text>
<text x="500.6" y="643.42" font-size="10.7" fill="#d42f2a" stroke="#d42f2a" stroke-width="0.26">Uncariursanic Acid</text>
<text x="500.6" y="652.83" font-size="10.7" fill="#1a1a1a" stroke="#1a1a1a" stroke-width="0.26">1-Octen-3-Yl Primeveroside</text>
<text x="500.6" y="662.24" font-size="10.7" fill="#1a1a1a" stroke="#1a1a1a" stroke-width="0.26">Asperitaconic Acid A</text>
<text x="500.6" y="671.65" font-size="10.7" fill="#1a1a1a" stroke="#1a1a1a" stroke-width="0.26">Melongoside M</text>
<text x="500.6" y="681.06" font-size="10.7" fill="#d42f2a" stroke="#d42f2a" stroke-width="0.26">Riboflavin</text>
<text x="500.6" y="690.47" font-size="10.7" fill="#1a1a1a" stroke="#1a1a1a" stroke-width="0.26">Imexon</text>
<text x="500.6" y="699.88" font-size="10.7" fill="#d42f2a" stroke="#d42f2a" stroke-width="0.26">Histidinal</text>
<text x="500.6" y="709.29" font-size="10.7" fill="#d42f2a" stroke="#d42f2a" stroke-width="0.26">L-Histidinol</text>
<text x="265.36" y="713.8" font-size="10.6" fill="#d42f2a" stroke="#d42f2a" stroke-width="0.26" transform="rotate(90 265.36 713.8)">Bacteroides</text>
<text x="277.06" y="713.8" font-size="10.6" fill="#1a1a1a" stroke="#1a1a1a" stroke-width="0.26" transform="rotate(90 277.06 713.8)">Thiobacillus</text>
<text x="288.77" y="713.8" font-size="10.6" fill="#1a1a1a" stroke="#1a1a1a" stroke-width="0.26" transform="rotate(90 288.77 713.8)">Erysipelatoclostridium</text>
<text x="300.49" y="713.8" font-size="10.6" fill="#1a1a1a" stroke="#1a1a1a" stroke-width="0.26" transform="rotate(90 300.49 713.8)">Turicibacter</text>
<text x="312.19" y="713.8" font-size="10.6" fill="#d42f2a" stroke="#d42f2a" stroke-width="0.26" transform="rotate(90 312.19 713.8)">Parabacteroides</text>
<text x="323.91" y="713.8" font-size="10.6" fill="#1a1a1a" stroke="#1a1a1a" stroke-width="0.26" transform="rotate(90 323.91 713.8)">Dechloromonas</text>
<text x="335.62" y="713.8" font-size="10.6" fill="#1a1a1a" stroke="#1a1a1a" stroke-width="0.26" transform="rotate(90 335.62 713.8)">Shewanella</text>
<text x="347.32" y="713.8" font-size="10.6" fill="#1a1a1a" stroke="#1a1a1a" stroke-width="0.26" transform="rotate(90 347.32 713.8)">Harryflintia</text>
<text x="359.04" y="713.8" font-size="10.6" fill="#1a1a1a" stroke="#1a1a1a" stroke-width="0.26" transform="rotate(90 359.04 713.8)">Tyzzerella</text>
<text x="370.75" y="713.8" font-size="10.6" fill="#1a1a1a" stroke="#1a1a1a" stroke-width="0.26" transform="rotate(90 370.75 713.8)">Marvinbryantia</text>
<text x="382.45" y="713.8" font-size="10.6" fill="#1a1a1a" stroke="#1a1a1a" stroke-width="0.26" transform="rotate(90 382.45 713.8)">Eubacterium</text>
<text x="394.17" y="713.8" font-size="10.6" fill="#1a1a1a" stroke="#1a1a1a" stroke-width="0.26" transform="rotate(90 394.17 713.8)">Pseudomonas</text>
<text x="405.88" y="713.8" font-size="10.6" fill="#1a1a1a" stroke="#1a1a1a" stroke-width="0.26" transform="rotate(90 405.88 713.8)">Mucispirillum</text>
<text x="417.58" y="713.8" font-size="10.6" fill="#1a1a1a" stroke="#1a1a1a" stroke-width="0.26" transform="rotate(90 417.58 713.8)">UCG-003</text>
<text x="429.3" y="713.8" font-size="10.6" fill="#1a1a1a" stroke="#1a1a1a" stroke-width="0.26" transform="rotate(90 429.3 713.8)">Sulfuricurvum</text>
<text x="441.01" y="713.8" font-size="10.6" fill="#1a1a1a" stroke="#1a1a1a" stroke-width="0.26" transform="rotate(90 441.01 713.8)">Dialister</text>
<text x="452.71" y="713.8" font-size="10.6" fill="#1a1a1a" stroke="#1a1a1a" stroke-width="0.26" transform="rotate(90 452.71 713.8)">Eubacterium</text>
<text x="464.43" y="713.8" font-size="10.6" fill="#1a1a1a" stroke="#1a1a1a" stroke-width="0.26" transform="rotate(90 464.43 713.8)">UCG-005</text>
<text x="476.14" y="713.8" font-size="10.6" fill="#1a1a1a" stroke="#1a1a1a" stroke-width="0.26" transform="rotate(90 476.14 713.8)">Lachnospiraceae</text>
<text x="487.85" y="713.8" font-size="10.6" fill="#1a1a1a" stroke="#1a1a1a" stroke-width="0.26" transform="rotate(90 487.85 713.8)">Roseburia</text>
<defs><linearGradient id="ocb" x1="0" x2="0" y1="0" y2="1"><stop offset="0" stop-color="#d43a2c"/><stop offset="0.02" stop-color="#d63f2f"/><stop offset="0.03" stop-color="#d84431"/><stop offset="0.05" stop-color="#d94934"/><stop offset="0.07" stop-color="#db4e37"/><stop offset="0.08" stop-color="#dd553b"/><stop offset="0.1" stop-color="#e06041"/><stop offset="0.12" stop-color="#e36b47"/><stop offset="0.13" stop-color="#e5744c"/><stop offset="0.15" stop-color="#e67b51"/><stop offset="0.17" stop-color="#e78355"/><stop offset="0.18" stop-color="#e88a5a"/><stop offset="0.2" stop-color="#e9925e"/><stop offset="0.22" stop-color="#e99c64"/><stop offset="0.23" stop-color="#eaa66a"/><stop offset="0.25" stop-color="#eab070"/><stop offset="0.27" stop-color="#ebb675"/><stop offset="0.28" stop-color="#ebbc7b"/><stop offset="0.3" stop-color="#ecc280"/><stop offset="0.32" stop-color="#ecc789"/><stop offset="0.33" stop-color="#eccd93"/><stop offset="0.35" stop-color="#ecd29c"/><stop offset="0.37" stop-color="#ecd7a7"/><stop offset="0.38" stop-color="#eddbb1"/><stop offset="0.4" stop-color="#ede0bc"/><stop offset="0.42" stop-color="#ede4c5"/><stop offset="0.43" stop-color="#ece7cd"/><stop offset="0.45" stop-color="#ecebd6"/><stop offset="0.47" stop-color="#ebedde"/><stop offset="0.48" stop-color="#e9f0e6"/><stop offset="0.5" stop-color="#e8f2ee"/><stop offset="0.52" stop-color="#e3efee"/><stop offset="0.53" stop-color="#ddeced"/><stop offset="0.55" stop-color="#d8e9ed"/><stop offset="0.57" stop-color="#d3e6ec"/><stop offset="0.58" stop-color="#cce1ea"/><stop offset="0.6" stop-color="#c3dae7"/><stop offset="0.62" stop-color="#bad3e3"/><stop offset="0.63" stop-color="#b2cde0"/><stop offset="0.65" stop-color="#a9c6dc"/><stop offset="0.67" stop-color="#a3c1da"/><stop offset="0.68" stop-color="#9ebdd8"/><stop offset="0.7" stop-color="#98b8d6"/><stop offset="0.72" stop-color="#8fb1d3"/><stop offset="0.73" stop-color="#85a9d0"/><stop offset="0.75" stop-color="#7ca2cd"/><stop offset="0.77" stop-color="#759cca"/><stop offset="0.78" stop-color="#6f96c7"/><stop offset="0.8" stop-color="#6890c4"/><stop offset="0.82" stop-color="#638cc2"/><stop offset="0.83" stop-color="#5d88c1"/><stop offset="0.85" stop-color="#5884bf"/><stop offset="0.87" stop-color="#5380bd"/><stop offset="0.88" stop-color="#4f7cba"/><stop offset="0.9" stop-color="#4a78b8"/><stop offset="0.92" stop-color="#4876b6"/><stop offset="0.93" stop-color="#4673b4"/><stop offset="0.95" stop-color="#4471b2"/><stop offset="0.97" stop-color="#436faf"/><stop offset="0.98" stop-color="#416cad"/><stop offset="1" stop-color="#3f6aab"/></linearGradient></defs>
<rect x="625.4" y="712.2" width="5.8" height="79.3" fill="url(#ocb)"/>
<text x="636.6" y="718.6" font-size="10.2" fill="#1a1a1a" stroke="#1a1a1a" stroke-width="0.25">1</text>
<text x="636.2" y="755.6" font-size="10.2" fill="#1a1a1a" stroke="#1a1a1a" stroke-width="0.25">0</text>
<text x="634.4" y="792.8" font-size="10.2" fill="#1a1a1a" stroke="#1a1a1a" stroke-width="0.25">-1</text>
<path d="M292.47 523.5V520.9H304.19V523.5M280.76 523.5V518.3H298.33V520.9M269.06 523.5V515.3H289.55V518.3M327.61 523.5V516.5H339.31V523.5M315.89 523.5V512.9H333.46V516.5M279.3 515.3V512.2H324.68V512.9M374.44 523.5V518.8H386.15V523.5M362.74 523.5V516.3H380.3V518.8M409.57 523.5V519.7H421.28V523.5M397.87 523.5V518.6H415.43V519.7M444.71 523.5V520.7H456.41V523.5M433 523.5V519.5H450.56V520.7M479.84 523.5V519.7H491.55V523.5M468.12 523.5V517.6H485.69V519.7M441.78 519.5V516.5H476.91V517.6M406.65 518.6V515.4H459.34V516.5M371.52 516.3V512.5H433V515.4M351.02 523.5V506.6H402.26V512.5M301.99 512.2V491.3H376.64V506.6" stroke="#555" stroke-width="0.8" fill="none"/>
<path d="M263.4 528.29H254.1V537.46H263.4M263.4 564.97H257.5V574.13H263.4M263.4 555.8H255.4V569.55H257.5M263.4 583.31H261.8V592.48H263.4M263.4 601.64H262V610.82H263.4M262 606.23H261V619.99H263.4M261.8 587.89H259.6V613.11H261M263.4 629.16H262.7V638.33H263.4M263.4 656.67H261.6V665.84H263.4M263.4 647.5H258.7V661.25H261.6M262.7 633.74H257.5V654.37H258.7M259.6 600.5H256.3V644.06H257.5M263.4 693.35H262.2V702.52H263.4M263.4 684.18H261.6V697.93H262.2M263.4 675.01H255.7V691.05H261.6M256.3 622.28H253.4V683.03H255.7M255.4 562.67H252.5V652.65H253.4M263.4 546.62H251.5V607.66H252.5M254.1 532.87H230.6V577.14H251.5" stroke="#555" stroke-width="0.8" fill="none"/>
</svg></body></html>
